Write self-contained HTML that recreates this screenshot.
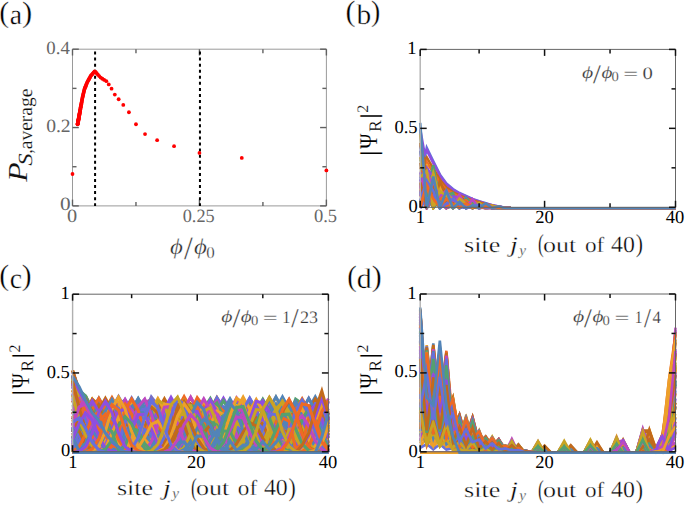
<!DOCTYPE html>
<html><head><meta charset="utf-8"><style>
polyline{vector-effect:non-scaling-stroke}
html,body{margin:0;padding:0;background:#fff;width:685px;height:506px;overflow:hidden;font-family:"Liberation Serif",serif;}
</style></head><body>
<svg width="685" height="506" viewBox="0 0 685 506" style="position:absolute;left:0;top:0">
<defs><clipPath id="cb"><rect x="418.2" y="49.4" width="259.3" height="160.3"/></clipPath><clipPath id="cc"><rect x="70.6" y="294.2" width="259.79999999999995" height="159.9"/></clipPath><clipPath id="cd"><rect x="418.2" y="294.0" width="259.3" height="160.20000000000002"/></clipPath></defs>
<rect width="685" height="506" fill="#fff"/>
<line x1="72.50" y1="49.20" x2="326.40" y2="49.20" stroke="#9a9a9a" stroke-width="1.0"/>
<line x1="326.40" y1="49.20" x2="326.40" y2="205.90" stroke="#9a9a9a" stroke-width="1.0"/>
<line x1="72.50" y1="205.90" x2="326.40" y2="205.90" stroke="#9a9a9a" stroke-width="1.0"/>
<line x1="72.50" y1="49.20" x2="72.50" y2="205.90" stroke="#9a9a9a" stroke-width="1.0"/>
<line x1="72.50" y1="205.90" x2="72.50" y2="199.60" stroke="#606060" stroke-width="1.4"/>
<line x1="72.50" y1="49.20" x2="72.50" y2="55.50" stroke="#606060" stroke-width="1.4"/>
<line x1="135.97" y1="205.90" x2="135.97" y2="201.90" stroke="#606060" stroke-width="1.4"/>
<line x1="135.97" y1="49.20" x2="135.97" y2="53.20" stroke="#606060" stroke-width="1.4"/>
<line x1="199.45" y1="205.90" x2="199.45" y2="199.60" stroke="#606060" stroke-width="1.4"/>
<line x1="199.45" y1="49.20" x2="199.45" y2="55.50" stroke="#606060" stroke-width="1.4"/>
<line x1="262.92" y1="205.90" x2="262.92" y2="201.90" stroke="#606060" stroke-width="1.4"/>
<line x1="262.92" y1="49.20" x2="262.92" y2="53.20" stroke="#606060" stroke-width="1.4"/>
<line x1="326.40" y1="205.90" x2="326.40" y2="199.60" stroke="#606060" stroke-width="1.4"/>
<line x1="326.40" y1="49.20" x2="326.40" y2="55.50" stroke="#606060" stroke-width="1.4"/>
<line x1="72.50" y1="205.90" x2="78.80" y2="205.90" stroke="#606060" stroke-width="1.4"/>
<line x1="326.40" y1="205.90" x2="320.10" y2="205.90" stroke="#606060" stroke-width="1.4"/>
<line x1="72.50" y1="166.73" x2="76.50" y2="166.73" stroke="#606060" stroke-width="1.4"/>
<line x1="326.40" y1="166.73" x2="322.40" y2="166.73" stroke="#606060" stroke-width="1.4"/>
<line x1="72.50" y1="127.55" x2="78.80" y2="127.55" stroke="#606060" stroke-width="1.4"/>
<line x1="326.40" y1="127.55" x2="320.10" y2="127.55" stroke="#606060" stroke-width="1.4"/>
<line x1="72.50" y1="88.38" x2="76.50" y2="88.38" stroke="#606060" stroke-width="1.4"/>
<line x1="326.40" y1="88.38" x2="322.40" y2="88.38" stroke="#606060" stroke-width="1.4"/>
<line x1="72.50" y1="49.20" x2="78.80" y2="49.20" stroke="#606060" stroke-width="1.4"/>
<line x1="326.40" y1="49.20" x2="320.10" y2="49.20" stroke="#606060" stroke-width="1.4"/>
<line x1="95.08" y1="51.5" x2="95.08" y2="205.9" stroke="#000" stroke-width="2" stroke-dasharray="3.0 3.07"/>
<line x1="199.95" y1="51.5" x2="199.95" y2="205.9" stroke="#000" stroke-width="2" stroke-dasharray="3.0 3.07"/>
<circle cx="326.40" cy="170.40" r="1.9" fill="#ff0000"/>
<circle cx="241.77" cy="157.97" r="1.9" fill="#ff0000"/>
<circle cx="199.45" cy="152.96" r="1.9" fill="#ff0000"/>
<circle cx="174.06" cy="146.15" r="1.9" fill="#ff0000"/>
<circle cx="157.13" cy="140.17" r="1.9" fill="#ff0000"/>
<circle cx="145.04" cy="134.04" r="1.9" fill="#ff0000"/>
<circle cx="135.97" cy="124.27" r="1.9" fill="#ff0000"/>
<circle cx="128.92" cy="112.24" r="1.9" fill="#ff0000"/>
<circle cx="123.28" cy="104.89" r="1.9" fill="#ff0000"/>
<circle cx="118.66" cy="99.24" r="1.9" fill="#ff0000"/>
<circle cx="114.82" cy="94.58" r="1.9" fill="#ff0000"/>
<circle cx="111.56" cy="88.70" r="1.9" fill="#ff0000"/>
<circle cx="108.77" cy="84.39" r="1.9" fill="#ff0000"/>
<circle cx="106.35" cy="81.19" r="1.9" fill="#ff0000"/>
<circle cx="104.24" cy="79.90" r="1.9" fill="#ff0000"/>
<circle cx="102.37" cy="78.77" r="1.9" fill="#ff0000"/>
<circle cx="100.71" cy="77.60" r="1.9" fill="#ff0000"/>
<circle cx="99.23" cy="76.07" r="1.9" fill="#ff0000"/>
<circle cx="97.89" cy="74.70" r="1.9" fill="#ff0000"/>
<circle cx="96.68" cy="73.26" r="1.9" fill="#ff0000"/>
<circle cx="95.58" cy="71.93" r="1.9" fill="#ff0000"/>
<circle cx="94.58" cy="71.47" r="1.9" fill="#ff0000"/>
<circle cx="93.66" cy="72.52" r="1.9" fill="#ff0000"/>
<circle cx="92.81" cy="73.49" r="1.9" fill="#ff0000"/>
<circle cx="92.03" cy="74.38" r="1.9" fill="#ff0000"/>
<circle cx="91.31" cy="75.21" r="1.9" fill="#ff0000"/>
<circle cx="90.64" cy="76.02" r="1.9" fill="#ff0000"/>
<circle cx="90.01" cy="77.16" r="1.9" fill="#ff0000"/>
<circle cx="89.43" cy="78.22" r="1.9" fill="#ff0000"/>
<circle cx="88.88" cy="79.22" r="1.9" fill="#ff0000"/>
<circle cx="88.37" cy="80.15" r="1.9" fill="#ff0000"/>
<circle cx="87.89" cy="81.03" r="1.9" fill="#ff0000"/>
<circle cx="87.44" cy="81.85" r="1.9" fill="#ff0000"/>
<circle cx="87.01" cy="82.82" r="1.9" fill="#ff0000"/>
<circle cx="86.61" cy="83.81" r="1.9" fill="#ff0000"/>
<circle cx="86.22" cy="84.75" r="1.9" fill="#ff0000"/>
<circle cx="85.86" cy="85.64" r="1.9" fill="#ff0000"/>
<circle cx="85.52" cy="86.49" r="1.9" fill="#ff0000"/>
<circle cx="85.19" cy="87.29" r="1.9" fill="#ff0000"/>
<circle cx="84.89" cy="88.05" r="1.9" fill="#ff0000"/>
<circle cx="84.59" cy="88.78" r="1.9" fill="#ff0000"/>
<circle cx="84.31" cy="89.80" r="1.9" fill="#ff0000"/>
<circle cx="84.04" cy="90.93" r="1.9" fill="#ff0000"/>
<circle cx="83.78" cy="92.01" r="1.9" fill="#ff0000"/>
<circle cx="83.54" cy="93.05" r="1.9" fill="#ff0000"/>
<circle cx="83.30" cy="94.03" r="1.9" fill="#ff0000"/>
<circle cx="83.08" cy="94.98" r="1.9" fill="#ff0000"/>
<circle cx="82.86" cy="95.89" r="1.9" fill="#ff0000"/>
<circle cx="82.66" cy="96.76" r="1.9" fill="#ff0000"/>
<circle cx="82.46" cy="97.77" r="1.9" fill="#ff0000"/>
<circle cx="82.27" cy="98.80" r="1.9" fill="#ff0000"/>
<circle cx="82.08" cy="99.79" r="1.9" fill="#ff0000"/>
<circle cx="81.90" cy="100.74" r="1.9" fill="#ff0000"/>
<circle cx="81.73" cy="101.66" r="1.9" fill="#ff0000"/>
<circle cx="81.57" cy="102.55" r="1.9" fill="#ff0000"/>
<circle cx="81.41" cy="103.40" r="1.9" fill="#ff0000"/>
<circle cx="81.26" cy="104.23" r="1.9" fill="#ff0000"/>
<circle cx="81.11" cy="105.03" r="1.9" fill="#ff0000"/>
<circle cx="80.96" cy="105.81" r="1.9" fill="#ff0000"/>
<circle cx="80.82" cy="106.58" r="1.9" fill="#ff0000"/>
<circle cx="80.69" cy="107.33" r="1.9" fill="#ff0000"/>
<circle cx="80.56" cy="108.06" r="1.9" fill="#ff0000"/>
<circle cx="80.43" cy="108.77" r="1.9" fill="#ff0000"/>
<circle cx="80.31" cy="109.45" r="1.9" fill="#ff0000"/>
<circle cx="80.19" cy="110.11" r="1.9" fill="#ff0000"/>
<circle cx="80.08" cy="110.76" r="1.9" fill="#ff0000"/>
<circle cx="79.97" cy="111.38" r="1.9" fill="#ff0000"/>
<circle cx="79.86" cy="111.99" r="1.9" fill="#ff0000"/>
<circle cx="79.75" cy="112.58" r="1.9" fill="#ff0000"/>
<circle cx="79.65" cy="113.15" r="1.9" fill="#ff0000"/>
<circle cx="79.55" cy="113.70" r="1.9" fill="#ff0000"/>
<circle cx="79.46" cy="114.24" r="1.9" fill="#ff0000"/>
<circle cx="79.36" cy="114.75" r="1.9" fill="#ff0000"/>
<circle cx="79.27" cy="115.24" r="1.9" fill="#ff0000"/>
<circle cx="79.18" cy="115.73" r="1.9" fill="#ff0000"/>
<circle cx="79.09" cy="116.20" r="1.9" fill="#ff0000"/>
<circle cx="79.01" cy="116.65" r="1.9" fill="#ff0000"/>
<circle cx="78.93" cy="117.10" r="1.9" fill="#ff0000"/>
<circle cx="78.85" cy="117.54" r="1.9" fill="#ff0000"/>
<circle cx="78.77" cy="117.96" r="1.9" fill="#ff0000"/>
<circle cx="78.69" cy="118.38" r="1.9" fill="#ff0000"/>
<circle cx="78.62" cy="118.78" r="1.9" fill="#ff0000"/>
<circle cx="78.55" cy="119.18" r="1.9" fill="#ff0000"/>
<circle cx="78.47" cy="119.56" r="1.9" fill="#ff0000"/>
<circle cx="78.40" cy="119.94" r="1.9" fill="#ff0000"/>
<circle cx="78.34" cy="120.31" r="1.9" fill="#ff0000"/>
<circle cx="78.27" cy="120.67" r="1.9" fill="#ff0000"/>
<circle cx="78.21" cy="121.02" r="1.9" fill="#ff0000"/>
<circle cx="78.14" cy="121.36" r="1.9" fill="#ff0000"/>
<circle cx="78.08" cy="121.70" r="1.9" fill="#ff0000"/>
<circle cx="78.02" cy="122.03" r="1.9" fill="#ff0000"/>
<circle cx="77.96" cy="122.35" r="1.9" fill="#ff0000"/>
<circle cx="77.90" cy="122.66" r="1.9" fill="#ff0000"/>
<circle cx="77.85" cy="122.97" r="1.9" fill="#ff0000"/>
<circle cx="77.79" cy="123.27" r="1.9" fill="#ff0000"/>
<circle cx="77.74" cy="123.57" r="1.9" fill="#ff0000"/>
<circle cx="77.68" cy="123.86" r="1.9" fill="#ff0000"/>
<circle cx="77.63" cy="124.14" r="1.9" fill="#ff0000"/>
<circle cx="77.58" cy="124.30" r="1.9" fill="#ff0000"/>
<circle cx="72.50" cy="174.00" r="1.9" fill="#ff0000"/>
<g clip-path="url(#cb)"><g transform="translate(420.2,208.20000000000002) scale(6.54615,-0.15790)" fill="none" stroke-width="2.6" vector-effect="non-scaling-stroke" stroke-linejoin="miter" stroke-miterlimit="4"><polyline points="0,88 1,89 2,106 3,13 4,75 5,0 6,44 7,7 8,18 9,12 10,4 11,8 12,0 13,1 14,0 15,0 16,0 17,0 18,0 19,0 20,0 21,0 22,0 23,0 24,0 25,0 26,0 27,0 28,0 29,0 30,0 31,0 32,0 33,0 34,0 35,0 36,0 37,0 38,0 39,0" stroke="#6670DC"/>
<polyline points="0,39 1,126 2,29 3,65 4,20 5,33 6,15 7,19 8,11 9,9 10,7 11,3 12,3 13,0 14,0 15,0 16,0 17,0 18,0 19,0 20,0 21,0 22,0 23,0 24,0 25,0 26,0 27,0 28,0 29,0 30,0 31,0 32,0 33,0 34,0 35,0 36,0 37,0 38,0 39,0" stroke="#EE6A24"/>
<polyline points="0,24 1,56 2,58 3,3 4,41 5,5 6,14 7,15 8,1 9,11 10,1 11,3 12,2 13,0 14,0 15,0 16,0 17,0 18,0 19,0 20,0 21,0 22,0 23,0 24,0 25,0 26,0 27,0 28,0 29,0 30,0 31,0 32,0 33,0 34,0 35,0 36,0 37,0 38,0 39,0" stroke="#8E4EE0"/>
<polyline points="0,7 1,104 2,0 3,58 4,2 5,30 6,5 7,15 8,6 9,6 10,5 11,1 12,2 13,0 14,0 15,0 16,0 17,0 18,0 19,0 20,0 21,0 22,0 23,0 24,0 25,0 26,0 27,0 28,0 29,0 30,0 31,0 32,0 33,0 34,0 35,0 36,0 37,0 38,0 39,0" stroke="#EDA02A"/>
<polyline points="0,22 1,86 2,86 3,29 4,0 5,12 6,26 7,20 8,4 9,0 10,5 11,6 12,2 13,0 14,0 15,0 16,0 17,0 18,0 19,0 20,0 21,0 22,0 23,0 24,0 25,0 26,0 27,0 28,0 29,0 30,0 31,0 32,0 33,0 34,0 35,0 36,0 37,0 38,0 39,0" stroke="#5284B8"/>
<polyline points="0,307 1,250 2,0 3,133 4,94 5,0 6,65 7,42 8,1 9,32 10,15 11,1 12,8 13,1 14,0 15,0 16,0 17,0 18,0 19,0 20,0 21,0 22,0 23,0 24,0 25,0 26,0 27,0 28,0 29,0 30,0 31,0 32,0 33,0 34,0 35,0 36,0 37,0 38,0 39,0" stroke="#55A070"/>
<polyline points="0,201 1,148 2,54 3,120 4,6 5,79 6,0 7,49 8,5 9,22 10,7 11,6 12,5 13,0 14,0 15,0 16,0 17,0 18,0 19,0 20,0 21,0 22,0 23,0 24,0 25,0 26,0 27,0 28,0 29,0 30,0 31,0 32,0 33,0 34,0 35,0 36,0 37,0 38,0 39,0" stroke="#6670DC"/>
<polyline points="0,19 1,198 2,178 3,21 4,20 5,75 6,47 7,2 8,15 9,29 10,11 11,0 12,4 13,1 14,0 15,0 16,0 17,0 18,0 19,0 20,0 21,0 22,0 23,0 24,0 25,0 26,0 27,0 28,0 29,0 30,0 31,0 32,0 33,0 34,0 35,0 36,0 37,0 38,0 39,0" stroke="#EE6A24"/>
<polyline points="0,500 1,269 2,14 3,61 4,147 5,87 6,5 7,21 8,55 9,32 10,2 11,5 12,10 13,2 14,0 15,0 16,0 17,0 18,0 19,0 20,0 21,0 22,0 23,0 24,0 25,0 26,0 27,0 28,0 29,0 30,0 31,0 32,0 33,0 34,0 35,0 36,0 37,0 38,0 39,0" stroke="#8E4EE0"/>
<polyline points="0,2 1,173 2,138 3,2 4,54 5,66 6,5 7,18 8,34 9,6 10,4 11,11 12,3 13,0 14,0 15,0 16,0 17,0 18,0 19,0 20,0 21,0 22,0 23,0 24,0 25,0 26,0 27,0 28,0 29,0 30,0 31,0 32,0 33,0 34,0 35,0 36,0 37,0 38,0 39,0" stroke="#BE48C0"/>
<polyline points="0,288 1,11 2,81 3,142 4,36 5,6 6,54 7,38 8,1 9,14 10,20 11,4 12,1 13,1 14,0 15,0 16,0 17,0 18,0 19,0 20,0 21,0 22,0 23,0 24,0 25,0 26,0 27,0 28,0 29,0 30,0 31,0 32,0 33,0 34,0 35,0 36,0 37,0 38,0 39,0" stroke="#C26A1C"/>
<polyline points="0,94 1,215 2,73 3,104 4,51 5,49 6,39 7,25 8,29 9,11 10,18 11,3 12,7 13,0 14,0 15,0 16,0 17,0 18,0 19,0 20,0 21,0 22,0 23,0 24,0 25,0 26,0 27,0 28,0 29,0 30,0 31,0 32,0 33,0 34,0 35,0 36,0 37,0 38,0 39,0" stroke="#C8A424"/>
<polyline points="0,4 1,234 2,127 3,20 4,120 5,14 6,38 7,48 8,0 9,30 10,10 11,4 12,8 13,0 14,0 15,0 16,0 17,0 18,0 19,0 20,0 21,0 22,0 23,0 24,0 25,0 26,0 27,0 28,0 29,0 30,0 31,0 32,0 33,0 34,0 35,0 36,0 37,0 38,0 39,0" stroke="#6670DC"/>
<polyline points="0,102 1,16 2,169 3,209 4,101 5,10 6,12 7,55 8,56 9,22 10,0 11,5 12,9 13,2 14,0 15,0 16,0 17,0 18,0 19,0 20,0 21,0 22,0 23,0 24,0 25,0 26,0 27,0 28,0 29,0 30,0 31,0 32,0 33,0 34,0 35,0 36,0 37,0 38,0 39,0" stroke="#EE6A24"/>
<polyline points="0,364 1,8 2,258 3,65 4,41 5,107 6,4 7,49 8,37 9,2 10,28 11,5 12,3 13,2 14,0 15,0 16,0 17,0 18,0 19,0 20,0 21,0 22,0 23,0 24,0 25,0 26,0 27,0 28,0 29,0 30,0 31,0 32,0 33,0 34,0 35,0 36,0 37,0 38,0 39,0" stroke="#8E4EE0"/>
<polyline points="0,91 1,13 2,132 3,120 4,22 5,6 6,45 7,42 8,7 9,3 10,15 11,10 12,1 13,0 14,0 15,0 16,0 17,0 18,0 19,0 20,0 21,0 22,0 23,0 24,0 25,0 26,0 27,0 28,0 29,0 30,0 31,0 32,0 33,0 34,0 35,0 36,0 37,0 38,0 39,0" stroke="#EDA02A"/>
<polyline points="0,360 1,195 2,20 3,22 4,86 5,78 6,21 7,1 8,22 9,30 10,13 11,0 12,2 13,1 14,0 15,0 16,0 17,0 18,0 19,0 20,0 21,0 22,0 23,0 24,0 25,0 26,0 27,0 28,0 29,0 30,0 31,0 32,0 33,0 34,0 35,0 36,0 37,0 38,0 39,0" stroke="#5284B8"/>
<polyline points="0,118 1,45 2,249 3,155 4,6 5,43 6,91 7,35 8,0 9,28 10,28 11,4 12,1 13,2 14,0 15,0 16,0 17,0 18,0 19,0 20,0 21,0 22,0 23,0 24,0 25,0 26,0 27,0 28,0 29,0 30,0 31,0 32,0 33,0 34,0 35,0 36,0 37,0 38,0 39,0" stroke="#55A070"/>
<polyline points="0,396 1,123 2,180 3,97 4,73 5,72 6,32 7,56 8,12 9,37 10,3 11,18 12,0 13,2 14,0 15,0 16,0 17,0 18,0 19,0 20,0 21,0 22,0 23,0 24,0 25,0 26,0 27,0 28,0 29,0 30,0 31,0 32,0 33,0 34,0 35,0 36,0 37,0 38,0 39,0" stroke="#6670DC"/>
<polyline points="0,138 1,6 2,46 3,50 4,0 5,23 6,20 7,0 8,13 9,8 10,0 11,5 12,1 13,0 14,0 15,0 16,0 17,0 18,0 19,0 20,0 21,0 22,0 23,0 24,0 25,0 26,0 27,0 28,0 29,0 30,0 31,0 32,0 33,0 34,0 35,0 36,0 37,0 38,0 39,0" stroke="#EE6A24"/>
<polyline points="0,172 1,383 2,297 3,214 4,156 5,121 6,96 7,77 8,59 9,44 10,31 11,19 12,11 13,2 14,0 15,0 16,0 17,0 18,0 19,0 20,0 21,0 22,0 23,0 24,0 25,0 26,0 27,0 28,0 29,0 30,0 31,0 32,0 33,0 34,0 35,0 36,0 37,0 38,0 39,0" stroke="#6670DC"/>
<polyline points="0,307 1,368 2,286 3,206 4,150 5,116 6,92 7,74 8,56 9,42 10,30 11,18 12,10 13,2 14,0 15,0 16,0 17,0 18,0 19,0 20,0 21,0 22,0 23,0 24,0 25,0 26,0 27,0 28,0 29,0 30,0 31,0 32,0 33,0 34,0 35,0 36,0 37,0 38,0 39,0" stroke="#8E4EE0"/>
<polyline points="0,248 1,322 2,250 3,180 4,131 5,102 6,81 7,64 8,49 9,37 10,26 11,16 12,9 13,2 14,0 15,0 16,0 17,0 18,0 19,0 20,0 21,0 22,0 23,0 24,0 25,0 26,0 27,0 28,0 29,0 30,0 31,0 32,0 33,0 34,0 35,0 36,0 37,0 38,0 39,0" stroke="#C26A1C"/>
<polyline points="0,132 1,291 2,226 3,163 4,118 5,92 6,73 7,58 8,45 9,33 10,24 11,14 12,8 13,2 14,0 15,0 16,0 17,0 18,0 19,0 20,0 21,0 22,0 23,0 24,0 25,0 26,0 27,0 28,0 29,0 30,0 31,0 32,0 33,0 34,0 35,0 36,0 37,0 38,0 39,0" stroke="#EE6A24"/>
<polyline points="0,105 1,245 2,190 3,137 4,100 5,78 6,61 7,49 8,37 9,28 10,20 11,12 12,7 13,1 14,0 15,0 16,0 17,0 18,0 19,0 20,0 21,0 22,0 23,0 24,0 25,0 26,0 27,0 28,0 29,0 30,0 31,0 32,0 33,0 34,0 35,0 36,0 37,0 38,0 39,0" stroke="#C8A424"/>
<polyline points="0,107 1,199 2,155 3,111 4,81 5,63 6,50 7,40 8,30 9,23 10,16 11,10 12,6 13,1 14,0 15,0 16,0 17,0 18,0 19,0 20,0 21,0 22,0 23,0 24,0 25,0 26,0 27,0 28,0 29,0 30,0 31,0 32,0 33,0 34,0 35,0 36,0 37,0 38,0 39,0" stroke="#EDA02A"/>
<polyline points="0,76 1,153 2,119 3,86 4,62 5,49 6,38 7,31 8,23 9,18 10,12 11,8 12,4 13,1 14,0 15,0 16,0 17,0 18,0 19,0 20,0 21,0 22,0 23,0 24,0 25,0 26,0 27,0 28,0 29,0 30,0 31,0 32,0 33,0 34,0 35,0 36,0 37,0 38,0 39,0" stroke="#C26A1C"/>
<polyline points="0,85 1,115 2,89 3,64 4,47 5,36 6,29 7,23 8,18 9,13 10,9 11,6 12,3 13,1 14,0 15,0 16,0 17,0 18,0 19,0 20,0 21,0 22,0 23,0 24,0 25,0 26,0 27,0 28,0 29,0 30,0 31,0 32,0 33,0 34,0 35,0 36,0 37,0 38,0 39,0" stroke="#55A070"/>
<polyline points="0,59 1,10 2,76 3,31 4,1 5,28 6,17 7,0 8,12 9,9 10,0 11,3 12,3 13,0 14,0 15,0 16,0 17,0 18,0 19,0 20,0 21,0 22,0 23,0 24,0 25,0 26,0 27,0 28,0 29,0 30,0 31,0 32,0 33,0 34,0 35,0 36,0 37,0 38,0 39,0" stroke="#8E4EE0"/>
<polyline points="0,134 1,26 2,35 3,46 4,1 5,31 6,6 7,10 8,12 9,0 10,8 11,1 12,1 13,0 14,0 15,0 16,0 17,0 18,0 19,0 20,0 21,0 22,0 23,0 24,0 25,0 26,0 27,0 28,0 29,0 30,0 31,0 32,0 33,0 34,0 35,0 36,0 37,0 38,0 39,0" stroke="#BE48C0"/>
<polyline points="0,415 1,219 2,2 3,155 4,98 5,0 6,65 7,52 8,0 9,27 10,23 11,0 12,6 13,2 14,0 15,0 16,0 17,0 18,0 19,0 20,0 21,0 22,0 23,0 24,0 25,0 26,0 27,0 28,0 29,0 30,0 31,0 32,0 33,0 34,0 35,0 36,0 37,0 38,0 39,0" stroke="#C26A1C"/>
<polyline points="0,324 1,91 2,17 3,120 4,53 5,1 6,48 7,34 8,0 9,18 10,16 11,0 12,3 13,1 14,0 15,0 16,0 17,0 18,0 19,0 20,0 21,0 22,0 23,0 24,0 25,0 26,0 27,0 28,0 29,0 30,0 31,0 32,0 33,0 34,0 35,0 36,0 37,0 38,0 39,0" stroke="#C8A424"/>
<polyline points="0,8 1,84 2,93 3,1 4,39 5,35 6,0 7,22 8,15 9,0 10,10 11,4 12,0 13,1 14,0 15,0 16,0 17,0 18,0 19,0 20,0 21,0 22,0 23,0 24,0 25,0 26,0 27,0 28,0 29,0 30,0 31,0 32,0 33,0 34,0 35,0 36,0 37,0 38,0 39,0" stroke="#6670DC"/>
<polyline points="0,113 1,30 2,126 3,7 4,44 5,36 6,2 7,32 8,5 9,8 10,11 11,0 12,4 13,0 14,0 15,0 16,0 17,0 18,0 19,0 20,0 21,0 22,0 23,0 24,0 25,0 26,0 27,0 28,0 29,0 30,0 31,0 32,0 33,0 34,0 35,0 36,0 37,0 38,0 39,0" stroke="#EE6A24"/>
<polyline points="0,114 1,1 2,53 3,42 4,0 5,24 6,17 7,0 8,13 9,7 10,0 11,4 12,1 13,0 14,0 15,0 16,0 17,0 18,0 19,0 20,0 21,0 22,0 23,0 24,0 25,0 26,0 27,0 28,0 29,0 30,0 31,0 32,0 33,0 34,0 35,0 36,0 37,0 38,0 39,0" stroke="#8E4EE0"/>
<polyline points="0,11 1,281 2,11 3,152 4,10 5,83 6,9 7,50 8,7 9,27 10,5 11,11 12,2 13,1 14,0 15,0 16,0 17,0 18,0 19,0 20,0 21,0 22,0 23,0 24,0 25,0 26,0 27,0 28,0 29,0 30,0 31,0 32,0 33,0 34,0 35,0 36,0 37,0 38,0 39,0" stroke="#EDA02A"/>
<polyline points="0,492 1,4 2,246 3,53 4,75 5,77 6,12 7,69 8,0 9,37 10,6 11,10 12,6 13,0 14,0 15,0 16,0 17,0 18,0 19,0 20,0 21,0 22,0 23,0 24,0 25,0 26,0 27,0 28,0 29,0 30,0 31,0 32,0 33,0 34,0 35,0 36,0 37,0 38,0 39,0" stroke="#5284B8"/>
<polyline points="0,118 1,124 2,272 3,14 4,85 5,96 6,0 7,57 8,35 9,2 10,28 11,7 12,2 13,2 14,0 15,0 16,0 17,0 18,0 19,0 20,0 21,0 22,0 23,0 24,0 25,0 26,0 27,0 28,0 29,0 30,0 31,0 32,0 33,0 34,0 35,0 36,0 37,0 38,0 39,0" stroke="#55A070"/>
<polyline points="0,102 1,0 2,57 3,41 4,0 5,23 6,19 7,0 8,11 9,9 10,0 11,3 12,2 13,0 14,0 15,0 16,0 17,0 18,0 19,0 20,0 21,0 22,0 23,0 24,0 25,0 26,0 27,0 28,0 29,0 30,0 31,0 32,0 33,0 34,0 35,0 36,0 37,0 38,0 39,0" stroke="#6670DC"/>
<polyline points="0,84 1,2 2,67 3,40 4,0 5,24 6,20 7,0 8,10 9,10 10,0 11,3 12,3 13,0 14,0 15,0 16,0 17,0 18,0 19,0 20,0 21,0 22,0 23,0 24,0 25,0 26,0 27,0 28,0 29,0 30,0 31,0 32,0 33,0 34,0 35,0 36,0 37,0 38,0 39,0" stroke="#EE6A24"/>
<polyline points="0,77 1,256 2,197 3,29 4,12 5,73 6,69 7,16 8,2 9,23 10,23 11,6 12,0 13,1 14,0 15,0 16,0 17,0 18,0 19,0 20,0 21,0 22,0 23,0 24,0 25,0 26,0 27,0 28,0 29,0 30,0 31,0 32,0 33,0 34,0 35,0 36,0 37,0 38,0 39,0" stroke="#8E4EE0"/>
<polyline points="0,147 1,35 2,153 3,5 4,59 5,37 6,6 7,40 8,3 9,15 10,11 11,1 12,6 13,0 14,0 15,0 16,0 17,0 18,0 19,0 20,0 21,0 22,0 23,0 24,0 25,0 26,0 27,0 28,0 29,0 30,0 31,0 32,0 33,0 34,0 35,0 36,0 37,0 38,0 39,0" stroke="#BE48C0"/>
<polyline points="0,405 1,208 2,8 3,170 4,74 5,6 6,80 7,32 8,5 9,38 10,11 11,3 12,9 13,1 14,0 15,0 16,0 17,0 18,0 19,0 20,0 21,0 22,0 23,0 24,0 25,0 26,0 27,0 28,0 29,0 30,0 31,0 32,0 33,0 34,0 35,0 36,0 37,0 38,0 39,0" stroke="#C26A1C"/>
<polyline points="0,470 1,62 2,222 3,65 4,93 5,56 6,41 7,48 8,16 9,34 10,4 11,17 12,0 13,2 14,0 15,0 16,0 17,0 18,0 19,0 20,0 21,0 22,0 23,0 24,0 25,0 26,0 27,0 28,0 29,0 30,0 31,0 32,0 33,0 34,0 35,0 36,0 37,0 38,0 39,0" stroke="#C8A424"/>
<polyline points="0,102 1,26 2,121 3,12 4,32 5,43 6,0 7,26 8,13 9,2 10,13 11,1 12,2 13,1 14,0 15,0 16,0 17,0 18,0 19,0 20,0 21,0 22,0 23,0 24,0 25,0 26,0 27,0 28,0 29,0 30,0 31,0 32,0 33,0 34,0 35,0 36,0 37,0 38,0 39,0" stroke="#6670DC"/>
<polyline points="0,236 1,207 2,7 3,70 4,94 5,10 6,21 7,49 8,10 9,5 10,19 11,5 12,0 13,1 14,0 15,0 16,0 17,0 18,0 19,0 20,0 21,0 22,0 23,0 24,0 25,0 26,0 27,0 28,0 29,0 30,0 31,0 32,0 33,0 34,0 35,0 36,0 37,0 38,0 39,0" stroke="#EE6A24"/>
<polyline points="0,181 1,14 2,62 3,50 4,3 5,40 6,5 7,15 8,15 9,1 10,10 11,1 12,2 13,1 14,0 15,0 16,0 17,0 18,0 19,0 20,0 21,0 22,0 23,0 24,0 25,0 26,0 27,0 28,0 29,0 30,0 31,0 32,0 33,0 34,0 35,0 36,0 37,0 38,0 39,0" stroke="#8E4EE0"/>
<polyline points="0,5 1,138 2,24 3,38 4,47 5,1 6,34 7,7 8,10 9,13 10,0 11,7 12,1 13,0 14,0 15,0 16,0 17,0 18,0 19,0 20,0 21,0 22,0 23,0 24,0 25,0 26,0 27,0 28,0 29,0 30,0 31,0 32,0 33,0 34,0 35,0 36,0 37,0 38,0 39,0" stroke="#EDA02A"/>
<polyline points="0,15 1,51 2,73 3,1 4,28 5,25 6,0 7,17 8,10 9,1 10,8 11,2 12,0 13,1 14,0 15,0 16,0 17,0 18,0 19,0 20,0 21,0 22,0 23,0 24,0 25,0 26,0 27,0 28,0 29,0 30,0 31,0 32,0 33,0 34,0 35,0 36,0 37,0 38,0 39,0" stroke="#5284B8"/>
<polyline points="0,155 1,95 2,0 3,48 4,47 5,2 6,15 7,26 8,4 9,4 10,11 11,2 12,0 13,1 14,0 15,0 16,0 17,0 18,0 19,0 20,0 21,0 22,0 23,0 24,0 25,0 26,0 27,0 28,0 29,0 30,0 31,0 32,0 33,0 34,0 35,0 36,0 37,0 38,0 39,0" stroke="#55A070"/>
<polyline points="0,0 1,60 2,75 3,10 4,9 5,31 6,14 7,0 8,11 9,10 10,1 11,2 12,3 13,0 14,0 15,0 16,0 17,0 18,0 19,0 20,0 21,0 22,0 23,0 24,0 25,0 26,0 27,0 28,0 29,0 30,0 31,0 32,0 33,0 34,0 35,0 36,0 37,0 38,0 39,0" stroke="#6670DC"/>
<polyline points="0,2 1,142 2,6 3,68 4,16 5,26 6,21 7,7 8,19 9,1 10,11 11,0 12,4 13,0 14,0 15,0 16,0 17,0 18,0 19,0 20,0 21,0 22,0 23,0 24,0 25,0 26,0 27,0 28,0 29,0 30,0 31,0 32,0 33,0 34,0 35,0 36,0 37,0 38,0 39,0" stroke="#EE6A24"/>
<polyline points="0,228 1,3 2,109 3,31 4,27 5,42 6,2 7,33 8,2 9,14 10,7 11,2 12,4 13,0 14,0 15,0 16,0 17,0 18,0 19,0 20,0 21,0 22,0 23,0 24,0 25,0 26,0 27,0 28,0 29,0 30,0 31,0 32,0 33,0 34,0 35,0 36,0 37,0 38,0 39,0" stroke="#8E4EE0"/>
<polyline points="0,143 1,227 2,147 3,76 4,113 5,18 6,86 7,2 8,57 9,0 10,29 11,2 12,8 13,1 14,0 15,0 16,0 17,0 18,0 19,0 20,0 21,0 22,0 23,0 24,0 25,0 26,0 27,0 28,0 29,0 30,0 31,0 32,0 33,0 34,0 35,0 36,0 37,0 38,0 39,0" stroke="#BE48C0"/>
<polyline points="0,163 1,11 2,124 3,9 4,43 5,31 6,5 7,32 8,1 9,14 10,7 11,2 12,4 13,0 14,0 15,0 16,0 17,0 18,0 19,0 20,0 21,0 22,0 23,0 24,0 25,0 26,0 27,0 28,0 29,0 30,0 31,0 32,0 33,0 34,0 35,0 36,0 37,0 38,0 39,0" stroke="#C26A1C"/>
<polyline points="0,198 1,237 2,2 3,109 4,78 5,1 6,60 7,28 8,4 9,30 10,7 11,3 12,7 13,0 14,0 15,0 16,0 17,0 18,0 19,0 20,0 21,0 22,0 23,0 24,0 25,0 26,0 27,0 28,0 29,0 30,0 31,0 32,0 33,0 34,0 35,0 36,0 37,0 38,0 39,0" stroke="#C8A424"/>
<polyline points="0,48 1,175 2,108 3,3 4,29 5,60 6,24 7,0 8,18 9,21 10,4 11,1 12,4 13,1 14,0 15,0 16,0 17,0 18,0 19,0 20,0 21,0 22,0 23,0 24,0 25,0 26,0 27,0 28,0 29,0 30,0 31,0 32,0 33,0 34,0 35,0 36,0 37,0 38,0 39,0" stroke="#6670DC"/>
<polyline points="0,15 1,148 2,59 3,7 4,61 5,23 6,4 7,30 8,10 9,2 10,12 11,3 12,1 13,1 14,0 15,0 16,0 17,0 18,0 19,0 20,0 21,0 22,0 23,0 24,0 25,0 26,0 27,0 28,0 29,0 30,0 31,0 32,0 33,0 34,0 35,0 36,0 37,0 38,0 39,0" stroke="#EE6A24"/>
<polyline points="0,540 1,0 2,200 3,0 4,110 5,0 6,40 7,0 8,18 9,0 10,31 11,0 12,11 13,0 14,0 15,0 16,0 17,0 18,0 19,0 20,0 21,0 22,0 23,0 24,0 25,0 26,0 27,0 28,0 29,0 30,0 31,0 32,0 33,0 34,0 35,0 36,0 37,0 38,0 39,0" stroke="#5284B8"/></g></g>
<g clip-path="url(#cc)"><g transform="translate(72.6,452.59999999999997) scale(6.55897,-0.15750)" fill="none" stroke-width="3.0" vector-effect="non-scaling-stroke" stroke-linejoin="miter" stroke-miterlimit="4"><polyline points="0,0 1,0 2,0 3,0 4,0 5,0 6,0 7,0 8,0 9,0 10,0 11,0 12,0 13,0 14,0 15,0 16,0 17,0 18,0 19,0 20,0 21,0 22,4 23,30 24,118 25,232 26,181 27,14 28,72 29,231 30,193 31,73 32,14 33,2 34,0 35,0 36,0 37,0 38,0 39,0" stroke="#5284B8"/>
<polyline points="0,0 1,0 2,0 3,0 4,0 5,0 6,0 7,0 8,0 9,0 10,0 11,0 12,0 13,0 14,0 15,0 16,0 17,0 18,0 19,0 20,0 21,0 22,0 23,0 24,0 25,0 26,0 27,0 28,0 29,4 30,24 31,81 32,170 33,215 34,165 35,77 36,22 37,4 38,0 39,0" stroke="#EE6A24"/>
<polyline points="0,0 1,0 2,0 3,0 4,0 5,0 6,0 7,0 8,0 9,0 10,0 11,0 12,0 13,0 14,0 15,0 16,0 17,0 18,0 19,0 20,0 21,1 22,7 23,38 24,119 25,223 26,254 27,176 28,74 29,19 30,3 31,0 32,0 33,0 34,0 35,0 36,0 37,0 38,0 39,0" stroke="#8E4EE0"/>
<polyline points="0,0 1,0 2,0 3,0 4,0 5,0 6,0 7,0 8,0 9,0 10,0 11,0 12,0 13,0 14,0 15,0 16,0 17,0 18,0 19,4 20,23 21,87 22,200 23,277 24,234 25,119 26,37 27,7 28,1 29,0 30,0 31,0 32,0 33,0 34,0 35,0 36,0 37,0 38,0 39,0" stroke="#EDA02A"/>
<polyline points="0,468 1,392 2,325 3,274 4,189 5,132 6,78 7,37 8,0 9,0 10,0 11,0 12,0 13,0 14,0 15,0 16,0 17,0 18,0 19,0 20,0 21,0 22,0 23,0 24,0 25,0 26,0 27,0 28,0 29,0 30,0 31,0 32,0 33,0 34,0 35,0 36,0 37,0 38,0 39,0" stroke="#55A070"/>
<polyline points="0,0 1,0 2,0 3,0 4,0 5,0 6,0 7,0 8,0 9,0 10,0 11,0 12,0 13,0 14,0 15,0 16,0 17,0 18,0 19,0 20,0 21,0 22,0 23,0 24,0 25,0 26,0 27,0 28,1 29,8 30,44 31,136 32,258 33,297 34,207 35,88 36,23 37,4 38,0 39,0" stroke="#C26A1C"/>
<polyline points="0,0 1,0 2,0 3,0 4,0 5,0 6,0 7,0 8,0 9,0 10,0 11,1 12,11 13,58 14,137 15,108 16,1 17,79 18,82 19,1 20,105 21,138 22,60 23,12 24,1 25,0 26,0 27,0 28,0 29,0 30,0 31,0 32,0 33,0 34,0 35,0 36,0 37,0 38,0 39,0" stroke="#6670DC"/>
<polyline points="0,0 1,0 2,0 3,0 4,0 5,0 6,0 7,0 8,0 9,0 10,0 11,0 12,0 13,0 14,0 15,0 16,0 17,0 18,0 19,0 20,0 21,0 22,0 23,0 24,0 25,0 26,0 27,0 28,0 29,0 30,0 31,0 32,0 33,2 34,14 35,65 36,182 37,308 38,316 39,197" stroke="#C8A424"/>
<polyline points="0,0 1,1 2,9 3,45 4,140 5,267 6,308 7,216 8,92 9,24 10,4 11,0 12,0 13,0 14,0 15,0 16,0 17,0 18,0 19,0 20,0 21,0 22,0 23,0 24,0 25,0 26,0 27,0 28,0 29,0 30,0 31,0 32,0 33,0 34,0 35,0 36,0 37,0 38,0 39,0" stroke="#BE48C0"/>
<polyline points="0,23 1,82 2,121 3,38 4,16 5,93 6,21 7,31 8,120 9,86 10,25 11,4 12,0 13,0 14,0 15,0 16,0 17,0 18,0 19,0 20,0 21,0 22,0 23,0 24,0 25,0 26,0 27,0 28,0 29,0 30,0 31,0 32,0 33,0 34,0 35,0 36,0 37,0 38,0 39,0" stroke="#5284B8"/>
<polyline points="0,0 1,0 2,0 3,0 4,0 5,0 6,0 7,0 8,0 9,0 10,0 11,0 12,0 13,0 14,0 15,0 16,0 17,0 18,0 19,0 20,0 21,0 22,1 23,8 24,39 25,116 26,209 27,228 28,150 29,60 30,15 31,2 32,0 33,0 34,0 35,0 36,0 37,0 38,0 39,0" stroke="#EE6A24"/>
<polyline points="0,422 1,352 2,281 3,240 4,181 5,106 6,68 7,32 8,0 9,0 10,0 11,0 12,0 13,0 14,0 15,0 16,0 17,0 18,0 19,0 20,0 21,0 22,0 23,0 24,0 25,0 26,0 27,0 28,0 29,0 30,0 31,0 32,0 33,0 34,0 35,0 36,0 37,0 38,0 39,0" stroke="#8E4EE0"/>
<polyline points="0,0 1,0 2,0 3,0 4,0 5,0 6,0 7,0 8,0 9,0 10,0 11,0 12,0 13,0 14,0 15,0 16,0 17,1 18,6 19,28 20,88 21,166 22,190 23,132 24,56 25,14 26,2 27,0 28,0 29,0 30,0 31,0 32,0 33,0 34,0 35,0 36,0 37,0 38,0 39,0" stroke="#EDA02A"/>
<polyline points="0,1 1,8 2,40 3,131 4,263 5,326 6,251 7,120 8,35 9,6 10,1 11,0 12,0 13,0 14,0 15,0 16,0 17,0 18,0 19,0 20,0 21,0 22,0 23,0 24,0 25,0 26,0 27,0 28,0 29,0 30,0 31,0 32,0 33,0 34,0 35,0 36,0 37,0 38,0 39,0" stroke="#55A070"/>
<polyline points="0,0 1,0 2,0 3,0 4,0 5,0 6,0 7,0 8,3 9,19 10,73 11,143 12,110 13,8 14,45 15,142 16,118 17,44 18,9 19,1 20,0 21,0 22,0 23,0 24,0 25,0 26,0 27,0 28,0 29,0 30,0 31,0 32,0 33,0 34,0 35,0 36,0 37,0 38,0 39,0" stroke="#C26A1C"/>
<polyline points="0,133 1,274 2,348 3,274 4,133 5,40 6,8 7,1 8,0 9,0 10,0 11,0 12,0 13,0 14,0 15,0 16,0 17,0 18,0 19,0 20,0 21,0 22,0 23,0 24,0 25,0 26,0 27,0 28,0 29,0 30,0 31,0 32,0 33,0 34,0 35,0 36,0 37,0 38,0 39,0" stroke="#6670DC"/>
<polyline points="0,0 1,2 2,15 3,68 4,182 5,297 6,293 7,176 8,64 9,14 10,2 11,0 12,0 13,0 14,0 15,0 16,0 17,0 18,0 19,0 20,0 21,0 22,0 23,0 24,0 25,0 26,0 27,0 28,0 29,0 30,0 31,0 32,0 33,0 34,0 35,0 36,0 37,0 38,0 39,0" stroke="#C8A424"/>
<polyline points="0,17 1,94 2,195 3,74 4,34 5,119 6,6 7,124 8,1 9,134 10,10 11,111 12,186 13,73 14,11 15,1 16,0 17,0 18,0 19,0 20,0 21,0 22,0 23,0 24,0 25,0 26,0 27,0 28,0 29,0 30,0 31,0 32,0 33,0 34,0 35,0 36,0 37,0 38,0 39,0" stroke="#BE48C0"/>
<polyline points="0,0 1,0 2,0 3,0 4,0 5,0 6,0 7,0 8,0 9,0 10,0 11,0 12,0 13,0 14,0 15,0 16,0 17,0 18,0 19,0 20,0 21,0 22,0 23,0 24,0 25,0 26,0 27,0 28,0 29,0 30,0 31,0 32,1 33,11 34,51 35,126 36,136 37,33 38,16 39,121" stroke="#5284B8"/>
<polyline points="0,0 1,0 2,0 3,0 4,0 5,0 6,0 7,0 8,0 9,0 10,0 11,0 12,0 13,0 14,0 15,0 16,0 17,0 18,0 19,0 20,0 21,0 22,0 23,0 24,0 25,0 26,0 27,0 28,1 29,11 30,51 31,153 32,281 33,321 34,227 35,99 36,27 37,4 38,0 39,0" stroke="#EE6A24"/>
<polyline points="0,0 1,0 2,0 3,0 4,0 5,0 6,0 7,0 8,0 9,0 10,0 11,0 12,0 13,0 14,0 15,0 16,0 17,0 18,0 19,0 20,0 21,0 22,0 23,0 24,0 25,0 26,0 27,0 28,0 29,0 30,0 31,0 32,0 33,0 34,0 35,26 36,83 37,174 38,235 39,147" stroke="#8E4EE0"/>
<polyline points="0,0 1,0 2,0 3,0 4,0 5,1 6,14 7,74 8,182 9,154 10,4 11,100 12,119 13,0 14,134 15,191 16,87 17,18 18,2 19,0 20,0 21,0 22,0 23,0 24,0 25,0 26,0 27,0 28,0 29,0 30,0 31,0 32,0 33,0 34,0 35,0 36,0 37,0 38,0 39,0" stroke="#EDA02A"/>
<polyline points="0,302 1,237 2,112 3,32 4,6 5,1 6,0 7,0 8,0 9,0 10,0 11,0 12,0 13,0 14,0 15,0 16,0 17,0 18,0 19,0 20,0 21,0 22,0 23,0 24,0 25,0 26,0 27,0 28,0 29,0 30,0 31,0 32,0 33,0 34,0 35,0 36,0 37,0 38,0 39,0" stroke="#55A070"/>
<polyline points="0,0 1,0 2,0 3,0 4,0 5,0 6,0 7,0 8,0 9,0 10,0 11,0 12,0 13,0 14,0 15,0 16,0 17,1 18,5 19,30 20,108 21,237 22,315 23,254 24,124 25,37 26,7 27,1 28,0 29,0 30,0 31,0 32,0 33,0 34,0 35,0 36,0 37,0 38,0 39,0" stroke="#C26A1C"/>
<polyline points="0,466 1,407 2,312 3,265 4,191 5,130 6,77 7,36 8,0 9,0 10,0 11,0 12,0 13,0 14,0 15,0 16,0 17,0 18,0 19,0 20,0 21,0 22,0 23,0 24,0 25,0 26,0 27,0 28,0 29,0 30,0 31,0 32,0 33,0 34,0 35,0 36,0 37,0 38,0 39,0" stroke="#6670DC"/>
<polyline points="0,0 1,0 2,0 3,0 4,0 5,0 6,0 7,0 8,0 9,0 10,0 11,0 12,0 13,0 14,0 15,0 16,0 17,1 18,7 19,38 20,126 21,258 22,328 23,258 24,126 25,38 26,7 27,1 28,0 29,0 30,0 31,0 32,0 33,0 34,0 35,0 36,0 37,0 38,0 39,0" stroke="#C8A424"/>
<polyline points="0,0 1,0 2,0 3,0 4,0 5,0 6,0 7,2 8,15 9,67 10,186 11,318 12,337 13,221 14,89 15,22 16,3 17,0 18,0 19,0 20,0 21,0 22,0 23,0 24,0 25,0 26,0 27,0 28,0 29,0 30,0 31,0 32,0 33,0 34,0 35,0 36,0 37,0 38,0 39,0" stroke="#BE48C0"/>
<polyline points="0,370 1,307 2,244 3,208 4,142 5,90 6,52 7,30 8,0 9,0 10,0 11,0 12,0 13,0 14,0 15,0 16,0 17,0 18,0 19,0 20,0 21,0 22,0 23,0 24,0 25,0 26,0 27,0 28,0 29,0 30,0 31,0 32,0 33,0 34,0 35,0 36,0 37,0 38,0 39,0" stroke="#5284B8"/>
<polyline points="0,0 1,0 2,0 3,0 4,0 5,0 6,0 7,0 8,0 9,0 10,0 11,0 12,0 13,0 14,0 15,0 16,0 17,0 18,0 19,0 20,0 21,0 22,0 23,0 24,3 25,17 26,66 27,156 28,223 29,193 30,101 31,32 32,6 33,1 34,0 35,0 36,0 37,0 38,0 39,0" stroke="#EE6A24"/>
<polyline points="0,0 1,0 2,0 3,0 4,0 5,0 6,0 7,0 8,0 9,0 10,0 11,0 12,0 13,0 14,0 15,0 16,0 17,0 18,0 19,0 20,0 21,0 22,0 23,0 24,0 25,0 26,0 27,0 28,0 29,0 30,0 31,0 32,0 33,0 34,4 35,25 36,95 37,226 38,333 39,304" stroke="#8E4EE0"/>
<polyline points="0,0 1,0 2,0 3,0 4,0 5,0 6,0 7,0 8,0 9,0 10,1 11,7 12,38 13,127 14,262 15,332 16,262 17,127 18,38 19,7 20,1 21,0 22,0 23,0 24,0 25,0 26,0 27,0 28,0 29,0 30,0 31,0 32,0 33,0 34,0 35,0 36,0 37,0 38,0 39,0" stroke="#EDA02A"/>
<polyline points="0,0 1,0 2,0 3,0 4,0 5,0 6,0 7,0 8,0 9,0 10,0 11,0 12,0 13,0 14,1 15,7 16,39 17,130 18,266 19,338 20,266 21,130 22,39 23,7 24,1 25,0 26,0 27,0 28,0 29,0 30,0 31,0 32,0 33,0 34,0 35,0 36,0 37,0 38,0 39,0" stroke="#55A070"/>
<polyline points="0,243 1,288 2,207 3,90 4,24 5,4 6,0 7,0 8,0 9,0 10,0 11,0 12,0 13,0 14,0 15,0 16,0 17,0 18,0 19,0 20,0 21,0 22,0 23,0 24,0 25,0 26,0 27,0 28,0 29,0 30,0 31,0 32,0 33,0 34,0 35,0 36,0 37,0 38,0 39,0" stroke="#C26A1C"/>
<polyline points="0,0 1,0 2,0 3,0 4,0 5,0 6,0 7,0 8,0 9,2 10,13 11,59 12,165 13,282 14,291 15,183 16,70 17,16 18,2 19,0 20,0 21,0 22,0 23,0 24,0 25,0 26,0 27,0 28,0 29,0 30,0 31,0 32,0 33,0 34,0 35,0 36,0 37,0 38,0 39,0" stroke="#6670DC"/>
<polyline points="0,0 1,0 2,0 3,0 4,0 5,0 6,0 7,0 8,0 9,0 10,0 11,0 12,0 13,1 14,6 15,32 16,102 17,196 18,230 19,164 20,71 21,18 22,3 23,0 24,0 25,0 26,0 27,0 28,0 29,0 30,0 31,0 32,0 33,0 34,0 35,0 36,0 37,0 38,0 39,0" stroke="#C8A424"/>
<polyline points="0,0 1,0 2,0 3,0 4,0 5,0 6,0 7,0 8,0 9,0 10,0 11,0 12,0 13,0 14,0 15,0 16,0 17,0 18,0 19,0 20,0 21,0 22,0 23,0 24,0 25,0 26,0 27,0 28,0 29,2 30,12 31,54 32,154 33,274 34,301 35,204 36,86 37,22 38,4 39,0" stroke="#BE48C0"/>
<polyline points="0,0 1,0 2,0 3,0 4,0 5,0 6,0 7,0 8,0 9,0 10,0 11,0 12,0 13,0 14,0 15,0 16,0 17,0 18,0 19,0 20,0 21,0 22,0 23,0 24,0 25,0 26,0 27,0 28,0 29,0 30,0 31,0 32,0 33,0 34,0 35,23 36,73 37,143 38,178 39,114" stroke="#5284B8"/>
<polyline points="0,0 1,0 2,0 3,1 4,15 5,79 6,178 7,101 8,6 9,129 10,15 11,87 12,79 13,15 14,167 15,139 16,40 17,5 18,0 19,0 20,0 21,0 22,0 23,0 24,0 25,0 26,0 27,0 28,0 29,0 30,0 31,0 32,0 33,0 34,0 35,0 36,0 37,0 38,0 39,0" stroke="#EE6A24"/>
<polyline points="0,0 1,0 2,0 3,0 4,0 5,0 6,0 7,0 8,0 9,0 10,0 11,0 12,0 13,0 14,0 15,0 16,0 17,0 18,0 19,0 20,0 21,0 22,0 23,0 24,0 25,0 26,1 27,7 28,40 29,121 30,175 31,80 32,1 33,105 34,175 35,105 36,31 37,5 38,0 39,0" stroke="#8E4EE0"/>
<polyline points="0,0 1,0 2,0 3,0 4,0 5,0 6,0 7,0 8,0 9,0 10,0 11,0 12,0 13,0 14,0 15,0 16,0 17,0 18,0 19,0 20,0 21,0 22,0 23,0 24,0 25,0 26,0 27,0 28,0 29,0 30,0 31,0 32,0 33,3 34,18 35,74 36,188 37,290 38,271 39,153" stroke="#EDA02A"/>
<polyline points="0,0 1,0 2,0 3,0 4,0 5,0 6,0 7,0 8,1 9,16 10,91 11,161 12,21 13,80 14,29 15,80 16,5 17,94 18,4 19,82 20,27 21,82 22,19 23,161 24,93 25,17 26,1 27,0 28,0 29,0 30,0 31,0 32,0 33,0 34,0 35,0 36,0 37,0 38,0 39,0" stroke="#55A070"/>
<polyline points="0,0 1,0 2,0 3,0 4,0 5,0 6,0 7,0 8,0 9,0 10,0 11,0 12,0 13,0 14,0 15,0 16,0 17,0 18,0 19,0 20,0 21,0 22,0 23,0 24,0 25,0 26,0 27,0 28,0 29,5 30,33 31,120 32,216 33,147 34,5 35,84 36,216 37,163 38,57 39,10" stroke="#C26A1C"/>
<polyline points="0,0 1,0 2,0 3,0 4,0 5,4 6,21 7,73 8,156 9,204 10,161 11,77 12,23 13,4 14,0 15,0 16,0 17,0 18,0 19,0 20,0 21,0 22,0 23,0 24,0 25,0 26,0 27,0 28,0 29,0 30,0 31,0 32,0 33,0 34,0 35,0 36,0 37,0 38,0 39,0" stroke="#6670DC"/>
<polyline points="0,0 1,0 2,0 3,1 4,7 5,46 6,138 7,132 8,3 9,92 10,53 11,33 12,106 13,0 14,114 15,149 16,56 17,9 18,1 19,0 20,0 21,0 22,0 23,0 24,0 25,0 26,0 27,0 28,0 29,0 30,0 31,0 32,0 33,0 34,0 35,0 36,0 37,0 38,0 39,0" stroke="#C8A424"/>
<polyline points="0,123 1,97 2,1 3,71 4,74 5,1 6,93 7,125 8,54 9,11 10,1 11,0 12,0 13,0 14,0 15,0 16,0 17,0 18,0 19,0 20,0 21,0 22,0 23,0 24,0 25,0 26,0 27,0 28,0 29,0 30,0 31,0 32,0 33,0 34,0 35,0 36,0 37,0 38,0 39,0" stroke="#BE48C0"/>
<polyline points="0,0 1,0 2,0 3,1 4,9 5,44 6,135 7,257 8,303 9,221 10,100 11,28 12,5 13,1 14,0 15,0 16,0 17,0 18,0 19,0 20,0 21,0 22,0 23,0 24,0 25,0 26,0 27,0 28,0 29,0 30,0 31,0 32,0 33,0 34,0 35,0 36,0 37,0 38,0 39,0" stroke="#5284B8"/>
<polyline points="0,0 1,0 2,0 3,0 4,0 5,0 6,0 7,0 8,0 9,0 10,0 11,3 12,19 13,78 14,190 15,281 16,253 17,138 18,46 19,9 20,1 21,0 22,0 23,0 24,0 25,0 26,0 27,0 28,0 29,0 30,0 31,0 32,0 33,0 34,0 35,0 36,0 37,0 38,0 39,0" stroke="#EE6A24"/>
<polyline points="0,0 1,0 2,0 3,0 4,0 5,0 6,0 7,0 8,0 9,0 10,0 11,0 12,0 13,0 14,0 15,0 16,0 17,0 18,1 19,7 20,40 21,132 22,271 23,345 24,271 25,132 26,40 27,7 28,1 29,0 30,0 31,0 32,0 33,0 34,0 35,0 36,0 37,0 38,0 39,0" stroke="#8E4EE0"/>
<polyline points="0,0 1,0 2,0 3,0 4,0 5,0 6,0 7,0 8,0 9,0 10,0 11,0 12,0 13,0 14,0 15,0 16,0 17,0 18,0 19,0 20,0 21,0 22,0 23,0 24,0 25,0 26,0 27,0 28,0 29,0 30,0 31,0 32,0 33,0 34,0 35,29 36,93 37,175 38,248 39,168" stroke="#EDA02A"/>
<polyline points="0,0 1,0 2,0 3,0 4,0 5,0 6,0 7,0 8,0 9,0 10,0 11,0 12,0 13,0 14,0 15,0 16,0 17,0 18,0 19,0 20,0 21,0 22,0 23,0 24,0 25,0 26,0 27,0 28,0 29,0 30,4 31,25 32,97 33,231 34,340 35,310 36,175 37,61 38,13 39,2" stroke="#55A070"/>
<polyline points="0,0 1,0 2,0 3,0 4,0 5,0 6,0 7,0 8,0 9,0 10,0 11,0 12,0 13,0 14,0 15,0 16,0 17,1 18,8 19,40 20,134 21,275 22,349 23,275 24,134 25,40 26,8 27,1 28,0 29,0 30,0 31,0 32,0 33,0 34,0 35,0 36,0 37,0 38,0 39,0" stroke="#C26A1C"/>
<polyline points="0,0 1,0 2,0 3,0 4,0 5,0 6,0 7,0 8,0 9,0 10,0 11,0 12,0 13,0 14,0 15,0 16,0 17,1 18,6 19,35 20,122 21,261 22,348 23,287 24,146 25,46 26,9 27,1 28,0 29,0 30,0 31,0 32,0 33,0 34,0 35,0 36,0 37,0 38,0 39,0" stroke="#6670DC"/>
<polyline points="0,0 1,0 2,0 3,0 4,0 5,0 6,0 7,0 8,0 9,0 10,0 11,0 12,1 13,17 14,86 15,129 16,8 17,78 18,12 19,76 20,0 21,76 22,12 23,56 24,37 25,55 26,28 27,136 28,67 29,11 30,1 31,0 32,0 33,0 34,0 35,0 36,0 37,0 38,0 39,0" stroke="#C8A424"/>
<polyline points="0,0 1,0 2,0 3,0 4,0 5,0 6,0 7,0 8,0 9,0 10,0 11,0 12,0 13,0 14,0 15,0 16,0 17,0 18,0 19,0 20,0 21,0 22,0 23,0 24,0 25,0 26,0 27,0 28,2 29,14 30,54 31,129 32,186 33,162 34,86 35,28 36,5 37,1 38,0 39,0" stroke="#BE48C0"/>
<polyline points="0,0 1,0 2,0 3,0 4,0 5,0 6,2 7,14 8,65 9,179 10,301 11,308 12,190 13,71 14,16 15,2 16,0 17,0 18,0 19,0 20,0 21,0 22,0 23,0 24,0 25,0 26,0 27,0 28,0 29,0 30,0 31,0 32,0 33,0 34,0 35,0 36,0 37,0 38,0 39,0" stroke="#5284B8"/>
<polyline points="0,446 1,239 2,121 3,52 4,17 5,0 6,0 7,0 8,0 9,0 10,0 11,0 12,0 13,0 14,0 15,0 16,0 17,0 18,0 19,0 20,0 21,0 22,0 23,0 24,0 25,0 26,0 27,0 28,0 29,0 30,0 31,0 32,0 33,0 34,0 35,0 36,0 37,0 38,0 39,0" stroke="#EE6A24"/>
<polyline points="0,0 1,0 2,0 3,0 4,0 5,0 6,0 7,0 8,2 9,15 10,64 11,166 12,262 13,250 14,144 15,51 16,11 17,1 18,0 19,0 20,0 21,0 22,0 23,0 24,0 25,0 26,0 27,0 28,0 29,0 30,0 31,0 32,0 33,0 34,0 35,0 36,0 37,0 38,0 39,0" stroke="#8E4EE0"/>
<polyline points="0,0 1,0 2,0 3,0 4,0 5,0 6,0 7,0 8,0 9,0 10,0 11,0 12,0 13,0 14,0 15,0 16,0 17,0 18,0 19,0 20,0 21,0 22,0 23,0 24,0 25,0 26,0 27,0 28,0 29,0 30,0 31,0 32,0 33,0 34,0 35,0 36,2 37,14 38,64 39,175" stroke="#EDA02A"/>
<polyline points="0,0 1,0 2,0 3,0 4,0 5,0 6,0 7,0 8,0 9,0 10,0 11,0 12,0 13,0 14,0 15,0 16,0 17,0 18,1 19,7 20,38 21,126 22,260 23,330 24,260 25,126 26,38 27,7 28,1 29,0 30,0 31,0 32,0 33,0 34,0 35,0 36,0 37,0 38,0 39,0" stroke="#55A070"/>
<polyline points="0,0 1,0 2,0 3,0 4,0 5,0 6,0 7,0 8,0 9,0 10,0 11,0 12,0 13,0 14,0 15,0 16,0 17,0 18,0 19,0 20,0 21,0 22,0 23,0 24,0 25,0 26,0 27,0 28,0 29,1 30,7 31,37 32,124 33,254 34,322 35,254 36,124 37,37 38,7 39,1" stroke="#C26A1C"/>
<polyline points="0,0 1,0 2,0 3,0 4,0 5,0 6,0 7,1 8,6 9,32 10,115 11,256 12,353 13,300 14,158 15,52 16,10 17,1 18,0 19,0 20,0 21,0 22,0 23,0 24,0 25,0 26,0 27,0 28,0 29,0 30,0 31,0 32,0 33,0 34,0 35,0 36,0 37,0 38,0 39,0" stroke="#6670DC"/>
<polyline points="0,0 1,1 2,5 3,30 4,107 5,227 6,293 7,230 8,109 9,31 10,6 11,1 12,0 13,0 14,0 15,0 16,0 17,0 18,0 19,0 20,0 21,0 22,0 23,0 24,0 25,0 26,0 27,0 28,0 29,0 30,0 31,0 32,0 33,0 34,0 35,0 36,0 37,0 38,0 39,0" stroke="#C8A424"/>
<polyline points="0,0 1,0 2,0 3,0 4,0 5,0 6,0 7,0 8,0 9,0 10,0 11,0 12,0 13,0 14,0 15,2 16,13 17,53 18,131 19,197 20,180 21,99 22,33 23,7 24,1 25,0 26,0 27,0 28,0 29,0 30,0 31,0 32,0 33,0 34,0 35,0 36,0 37,0 38,0 39,0" stroke="#BE48C0"/>
<polyline points="0,0 1,2 2,22 3,99 4,157 5,27 6,60 7,69 8,27 9,82 10,15 11,104 12,0 13,124 14,136 15,42 16,6 17,0 18,0 19,0 20,0 21,0 22,0 23,0 24,0 25,0 26,0 27,0 28,0 29,0 30,0 31,0 32,0 33,0 34,0 35,0 36,0 37,0 38,0 39,0" stroke="#5284B8"/>
<polyline points="0,0 1,0 2,0 3,0 4,0 5,0 6,0 7,0 8,0 9,0 10,0 11,0 12,0 13,0 14,0 15,0 16,0 17,0 18,0 19,0 20,0 21,0 22,0 23,0 24,0 25,0 26,0 27,0 28,0 29,0 30,0 31,0 32,0 33,0 34,0 35,43 36,122 37,237 38,363 39,206" stroke="#EE6A24"/>
<polyline points="0,0 1,0 2,0 3,0 4,0 5,0 6,0 7,0 8,0 9,0 10,0 11,0 12,0 13,0 14,0 15,0 16,0 17,0 18,0 19,0 20,0 21,3 22,20 23,78 24,190 25,280 26,249 27,135 28,44 29,9 30,1 31,0 32,0 33,0 34,0 35,0 36,0 37,0 38,0 39,0" stroke="#8E4EE0"/>
<polyline points="0,0 1,0 2,0 3,0 4,0 5,0 6,0 7,0 8,0 9,0 10,0 11,1 12,7 13,40 14,133 15,273 16,347 17,273 18,133 19,40 20,7 21,1 22,0 23,0 24,0 25,0 26,0 27,0 28,0 29,0 30,0 31,0 32,0 33,0 34,0 35,0 36,0 37,0 38,0 39,0" stroke="#EDA02A"/>
<polyline points="0,0 1,0 2,0 3,0 4,0 5,0 6,0 7,0 8,0 9,0 10,0 11,0 12,0 13,0 14,0 15,0 16,0 17,0 18,0 19,0 20,0 21,0 22,0 23,0 24,0 25,0 26,0 27,0 28,0 29,0 30,0 31,0 32,0 33,0 34,0 35,4 36,23 37,82 38,176 39,231" stroke="#55A070"/>
<polyline points="0,0 1,0 2,0 3,0 4,0 5,0 6,0 7,0 8,0 9,0 10,0 11,0 12,0 13,0 14,0 15,0 16,0 17,0 18,0 19,0 20,0 21,0 22,0 23,0 24,0 25,2 26,15 27,63 28,162 29,253 30,241 31,139 32,49 33,10 34,1 35,0 36,0 37,0 38,0 39,0" stroke="#C26A1C"/>
<polyline points="0,0 1,0 2,0 3,0 4,0 5,0 6,0 7,0 8,0 9,0 10,0 11,0 12,0 13,0 14,0 15,0 16,0 17,0 18,0 19,0 20,0 21,0 22,0 23,0 24,3 25,25 26,101 27,174 28,75 29,9 30,127 31,48 32,26 33,161 34,136 35,44 36,7 37,1 38,0 39,0" stroke="#6670DC"/>
<polyline points="0,0 1,0 2,0 3,0 4,0 5,0 6,0 7,0 8,0 9,0 10,0 11,3 12,18 13,66 14,147 15,197 16,160 17,79 18,24 19,4 20,0 21,0 22,0 23,0 24,0 25,0 26,0 27,0 28,0 29,0 30,0 31,0 32,0 33,0 34,0 35,0 36,0 37,0 38,0 39,0" stroke="#C8A424"/>
<polyline points="0,255 1,162 2,62 3,14 4,2 5,0 6,0 7,0 8,0 9,0 10,0 11,0 12,0 13,0 14,0 15,0 16,0 17,0 18,0 19,0 20,0 21,0 22,0 23,0 24,0 25,0 26,0 27,0 28,0 29,0 30,0 31,0 32,0 33,0 34,0 35,0 36,0 37,0 38,0 39,0" stroke="#BE48C0"/>
<polyline points="0,0 1,0 2,0 3,0 4,0 5,0 6,0 7,0 8,0 9,0 10,0 11,0 12,0 13,0 14,0 15,0 16,0 17,0 18,0 19,0 20,0 21,0 22,0 23,0 24,0 25,0 26,0 27,1 28,8 29,41 30,136 31,278 32,354 33,278 34,136 35,41 36,8 37,1 38,0 39,0" stroke="#5284B8"/>
<polyline points="0,0 1,0 2,0 3,0 4,0 5,0 6,0 7,0 8,0 9,0 10,0 11,0 12,0 13,0 14,0 15,0 16,0 17,0 18,0 19,0 20,0 21,0 22,0 23,0 24,0 25,0 26,0 27,0 28,0 29,0 30,0 31,0 32,0 33,1 34,10 35,57 36,152 37,148 38,10 39,73" stroke="#EE6A24"/>
<polyline points="0,0 1,0 2,0 3,0 4,0 5,0 6,0 7,0 8,0 9,0 10,0 11,0 12,0 13,0 14,0 15,0 16,0 17,0 18,0 19,0 20,0 21,0 22,0 23,0 24,0 25,0 26,0 27,0 28,2 29,16 30,72 31,193 32,315 33,310 34,186 35,67 36,15 37,2 38,0 39,0" stroke="#8E4EE0"/>
<polyline points="0,0 1,0 2,0 3,0 4,0 5,0 6,0 7,0 8,0 9,0 10,0 11,0 12,0 13,0 14,0 15,0 16,0 17,0 18,0 19,0 20,0 21,0 22,0 23,0 24,0 25,0 26,1 27,8 28,41 29,134 30,276 31,351 32,276 33,134 34,41 35,8 36,1 37,0 38,0 39,0" stroke="#EDA02A"/>
<polyline points="0,0 1,0 2,0 3,0 4,1 5,7 6,38 7,126 8,251 9,303 10,222 11,99 12,27 13,4 14,0 15,0 16,0 17,0 18,0 19,0 20,0 21,0 22,0 23,0 24,0 25,0 26,0 27,0 28,0 29,0 30,0 31,0 32,0 33,0 34,0 35,0 36,0 37,0 38,0 39,0" stroke="#55A070"/>
<polyline points="0,0 1,0 2,0 3,0 4,0 5,1 6,6 7,34 8,116 9,243 10,315 11,254 12,126 13,39 14,7 15,1 16,0 17,0 18,0 19,0 20,0 21,0 22,0 23,0 24,0 25,0 26,0 27,0 28,0 29,0 30,0 31,0 32,0 33,0 34,0 35,0 36,0 37,0 38,0 39,0" stroke="#C26A1C"/>
<polyline points="0,0 1,0 2,0 3,0 4,0 5,0 6,0 7,0 8,0 9,0 10,0 11,0 12,0 13,0 14,0 15,0 16,0 17,0 18,0 19,0 20,0 21,0 22,0 23,0 24,0 25,0 26,0 27,0 28,0 29,0 30,3 31,18 32,69 33,157 34,216 35,181 36,92 37,28 38,5 39,1" stroke="#6670DC"/>
<polyline points="0,0 1,0 2,0 3,0 4,0 5,0 6,0 7,0 8,0 9,0 10,0 11,0 12,0 13,0 14,0 15,0 16,0 17,0 18,0 19,1 20,8 21,41 22,126 23,234 24,263 25,180 26,75 27,19 28,3 29,0 30,0 31,0 32,0 33,0 34,0 35,0 36,0 37,0 38,0 39,0" stroke="#C8A424"/>
<polyline points="0,164 1,56 2,12 3,1 4,0 5,0 6,0 7,0 8,0 9,0 10,0 11,0 12,0 13,0 14,0 15,0 16,0 17,0 18,0 19,0 20,0 21,0 22,0 23,0 24,0 25,0 26,0 27,0 28,0 29,0 30,0 31,0 32,0 33,0 34,0 35,0 36,0 37,0 38,0 39,0" stroke="#BE48C0"/>
<polyline points="0,0 1,0 2,0 3,0 4,0 5,0 6,0 7,0 8,0 9,0 10,0 11,0 12,0 13,0 14,0 15,0 16,0 17,0 18,0 19,0 20,1 21,7 22,38 23,125 24,257 25,327 26,257 27,125 28,38 29,7 30,1 31,0 32,0 33,0 34,0 35,0 36,0 37,0 38,0 39,0" stroke="#5284B8"/>
<polyline points="0,0 1,0 2,0 3,0 4,0 5,0 6,6 7,43 8,150 9,182 10,17 11,85 12,95 13,16 14,140 15,7 16,108 17,193 18,86 19,16 20,1 21,0 22,0 23,0 24,0 25,0 26,0 27,0 28,0 29,0 30,0 31,0 32,0 33,0 34,0 35,0 36,0 37,0 38,0 39,0" stroke="#EE6A24"/>
<polyline points="0,0 1,0 2,0 3,0 4,0 5,0 6,0 7,0 8,0 9,1 10,5 11,31 12,112 13,242 14,318 15,254 16,123 17,36 18,6 19,1 20,0 21,0 22,0 23,0 24,0 25,0 26,0 27,0 28,0 29,0 30,0 31,0 32,0 33,0 34,0 35,0 36,0 37,0 38,0 39,0" stroke="#8E4EE0"/>
<polyline points="0,0 1,0 2,0 3,0 4,0 5,5 6,27 7,100 8,228 9,321 10,281 11,152 12,51 13,11 14,1 15,0 16,0 17,0 18,0 19,0 20,0 21,0 22,0 23,0 24,0 25,0 26,0 27,0 28,0 29,0 30,0 31,0 32,0 33,0 34,0 35,0 36,0 37,0 38,0 39,0" stroke="#EDA02A"/>
<polyline points="0,0 1,0 2,0 3,0 4,0 5,0 6,0 7,0 8,0 9,0 10,0 11,0 12,0 13,0 14,0 15,0 16,0 17,0 18,0 19,0 20,0 21,0 22,0 23,0 24,0 25,0 26,0 27,0 28,2 29,17 30,74 31,196 32,313 33,303 34,178 35,64 36,14 37,2 38,0 39,0" stroke="#55A070"/>
<polyline points="0,0 1,0 2,0 3,0 4,0 5,0 6,0 7,0 8,0 9,0 10,0 11,0 12,0 13,0 14,0 15,0 16,0 17,0 18,0 19,0 20,0 21,0 22,0 23,0 24,0 25,0 26,0 27,0 28,0 29,0 30,1 31,6 32,32 33,111 34,233 35,295 36,226 37,105 38,30 39,5" stroke="#C26A1C"/>
<polyline points="0,0 1,0 2,1 3,5 4,28 5,97 6,203 7,258 8,198 9,93 10,26 11,5 12,0 13,0 14,0 15,0 16,0 17,0 18,0 19,0 20,0 21,0 22,0 23,0 24,0 25,0 26,0 27,0 28,0 29,0 30,0 31,0 32,0 33,0 34,0 35,0 36,0 37,0 38,0 39,0" stroke="#6670DC"/>
<polyline points="0,466 1,373 2,358 3,282 4,189 5,131 6,74 7,39 8,0 9,0 10,0 11,0 12,0 13,0 14,0 15,0 16,0 17,0 18,0 19,0 20,0 21,0 22,0 23,0 24,0 25,0 26,0 27,0 28,0 29,0 30,0 31,0 32,0 33,0 34,0 35,0 36,0 37,0 38,0 39,0" stroke="#C8A424"/>
<polyline points="0,0 1,0 2,0 3,0 4,0 5,0 6,0 7,0 8,0 9,0 10,0 11,0 12,0 13,0 14,0 15,0 16,0 17,0 18,0 19,0 20,0 21,0 22,0 23,0 24,0 25,0 26,0 27,0 28,0 29,0 30,0 31,0 32,0 33,0 34,0 35,38 36,110 37,224 38,281 39,193" stroke="#BE48C0"/>
<polyline points="0,0 1,0 2,0 3,0 4,0 5,0 6,0 7,0 8,0 9,0 10,0 11,0 12,0 13,2 14,13 15,56 16,148 17,236 18,229 19,134 20,48 21,10 22,1 23,0 24,0 25,0 26,0 27,0 28,0 29,0 30,0 31,0 32,0 33,0 34,0 35,0 36,0 37,0 38,0 39,0" stroke="#5284B8"/>
<polyline points="0,0 1,0 2,0 3,0 4,0 5,0 6,0 7,0 8,0 9,0 10,0 11,0 12,0 13,0 14,0 15,1 16,12 17,55 18,130 19,132 20,27 21,20 22,126 23,134 24,60 25,14 26,2 27,0 28,0 29,0 30,0 31,0 32,0 33,0 34,0 35,0 36,0 37,0 38,0 39,0" stroke="#EE6A24"/>
<polyline points="0,0 1,0 2,0 3,0 4,0 5,0 6,0 7,0 8,0 9,0 10,0 11,0 12,0 13,0 14,0 15,0 16,0 17,0 18,0 19,0 20,0 21,0 22,0 23,0 24,0 25,0 26,0 27,0 28,0 29,0 30,0 31,0 32,0 33,0 34,0 35,0 36,1 37,8 38,39 39,112" stroke="#8E4EE0"/>
<polyline points="0,0 1,0 2,0 3,0 4,0 5,0 6,0 7,0 8,0 9,0 10,0 11,0 12,0 13,0 14,0 15,0 16,0 17,0 18,0 19,0 20,0 21,0 22,0 23,0 24,0 25,0 26,0 27,4 28,24 29,78 30,156 31,188 32,138 33,61 34,17 35,3 36,0 37,0 38,0 39,0" stroke="#EDA02A"/>
<polyline points="0,0 1,0 2,0 3,0 4,0 5,0 6,1 7,11 8,64 9,172 10,169 11,12 12,81 13,133 14,1 15,115 16,197 17,99 18,22 19,2 20,0 21,0 22,0 23,0 24,0 25,0 26,0 27,0 28,0 29,0 30,0 31,0 32,0 33,0 34,0 35,0 36,0 37,0 38,0 39,0" stroke="#55A070"/>
<polyline points="0,16 1,70 2,188 3,305 4,300 5,179 6,65 7,14 8,2 9,0 10,0 11,0 12,0 13,0 14,0 15,0 16,0 17,0 18,0 19,0 20,0 21,0 22,0 23,0 24,0 25,0 26,0 27,0 28,0 29,0 30,0 31,0 32,0 33,0 34,0 35,0 36,0 37,0 38,0 39,0" stroke="#C26A1C"/>
<polyline points="0,0 1,2 2,12 3,56 4,157 5,266 6,273 7,170 8,64 9,15 10,2 11,0 12,0 13,0 14,0 15,0 16,0 17,0 18,0 19,0 20,0 21,0 22,0 23,0 24,0 25,0 26,0 27,0 28,0 29,0 30,0 31,0 32,0 33,0 34,0 35,0 36,0 37,0 38,0 39,0" stroke="#6670DC"/>
<polyline points="0,12 1,80 2,0 3,80 4,13 5,82 6,9 7,137 8,90 9,18 10,1 11,0 12,0 13,0 14,0 15,0 16,0 17,0 18,0 19,0 20,0 21,0 22,0 23,0 24,0 25,0 26,0 27,0 28,0 29,0 30,0 31,0 32,0 33,0 34,0 35,0 36,0 37,0 38,0 39,0" stroke="#C8A424"/>
<polyline points="0,0 1,0 2,0 3,0 4,0 5,0 6,0 7,0 8,0 9,0 10,0 11,0 12,0 13,0 14,0 15,0 16,0 17,0 18,0 19,0 20,3 21,20 22,76 23,175 24,245 25,208 26,107 27,33 28,6 29,1 30,0 31,0 32,0 33,0 34,0 35,0 36,0 37,0 38,0 39,0" stroke="#BE48C0"/>
<polyline points="0,0 1,0 2,0 3,0 4,0 5,0 6,0 7,0 8,0 9,0 10,0 11,0 12,0 13,0 14,0 15,0 16,0 17,0 18,0 19,0 20,0 21,0 22,0 23,0 24,0 25,0 26,0 27,0 28,0 29,0 30,0 31,0 32,0 33,0 34,0 35,1 36,9 37,43 38,127 39,229" stroke="#5284B8"/>
<polyline points="0,41 1,113 2,190 3,193 4,119 5,44 6,10 7,1 8,0 9,0 10,0 11,0 12,0 13,0 14,0 15,0 16,0 17,0 18,0 19,0 20,0 21,0 22,0 23,0 24,0 25,0 26,0 27,0 28,0 29,0 30,0 31,0 32,0 33,0 34,0 35,0 36,0 37,0 38,0 39,0" stroke="#EE6A24"/>
<polyline points="0,0 1,0 2,0 3,0 4,0 5,0 6,0 7,0 8,0 9,0 10,0 11,0 12,0 13,0 14,0 15,0 16,0 17,0 18,0 19,0 20,0 21,0 22,0 23,0 24,0 25,0 26,0 27,0 28,0 29,0 30,5 31,34 32,105 33,106 34,3 35,68 36,45 37,22 38,84 39,0" stroke="#8E4EE0"/>
<polyline points="0,189 1,115 2,43 3,10 4,1 5,0 6,0 7,0 8,0 9,0 10,0 11,0 12,0 13,0 14,0 15,0 16,0 17,0 18,0 19,0 20,0 21,0 22,0 23,0 24,0 25,0 26,0 27,0 28,0 29,0 30,0 31,0 32,0 33,0 34,0 35,0 36,0 37,0 38,0 39,0" stroke="#EDA02A"/>
<polyline points="0,0 1,0 2,0 3,0 4,0 5,0 6,0 7,0 8,0 9,0 10,0 11,0 12,0 13,0 14,0 15,0 16,0 17,0 18,0 19,0 20,0 21,0 22,0 23,0 24,0 25,0 26,0 27,0 28,0 29,0 30,0 31,0 32,0 33,0 34,0 35,45 36,124 37,268 38,353 39,207" stroke="#55A070"/>
<polyline points="0,7 1,38 2,126 3,261 4,333 5,263 6,129 7,39 8,7 9,1 10,0 11,0 12,0 13,0 14,0 15,0 16,0 17,0 18,0 19,0 20,0 21,0 22,0 23,0 24,0 25,0 26,0 27,0 28,0 29,0 30,0 31,0 32,0 33,0 34,0 35,0 36,0 37,0 38,0 39,0" stroke="#C26A1C"/>
<polyline points="0,22 1,87 2,212 3,318 4,295 5,170 6,60 7,13 8,2 9,0 10,0 11,0 12,0 13,0 14,0 15,0 16,0 17,0 18,0 19,0 20,0 21,0 22,0 23,0 24,0 25,0 26,0 27,0 28,0 29,0 30,0 31,0 32,0 33,0 34,0 35,0 36,0 37,0 38,0 39,0" stroke="#6670DC"/>
<polyline points="0,0 1,0 2,0 3,0 4,0 5,0 6,0 7,0 8,0 9,0 10,1 11,7 12,38 13,123 14,242 15,288 16,209 17,92 18,24 19,4 20,0 21,0 22,0 23,0 24,0 25,0 26,0 27,0 28,0 29,0 30,0 31,0 32,0 33,0 34,0 35,0 36,0 37,0 38,0 39,0" stroke="#C8A424"/>
<polyline points="0,430 1,336 2,286 3,236 4,173 5,101 6,62 7,30 8,0 9,0 10,0 11,0 12,0 13,0 14,0 15,0 16,0 17,0 18,0 19,0 20,0 21,0 22,0 23,0 24,0 25,0 26,0 27,0 28,0 29,0 30,0 31,0 32,0 33,0 34,0 35,0 36,0 37,0 38,0 39,0" stroke="#BE48C0"/>
<polyline points="0,0 1,0 2,0 3,0 4,0 5,0 6,0 7,0 8,0 9,0 10,0 11,0 12,0 13,2 14,15 15,63 16,165 17,262 18,253 19,148 20,52 21,11 22,1 23,0 24,0 25,0 26,0 27,0 28,0 29,0 30,0 31,0 32,0 33,0 34,0 35,0 36,0 37,0 38,0 39,0" stroke="#5284B8"/>
<polyline points="0,189 1,70 2,16 3,2 4,0 5,0 6,0 7,0 8,0 9,0 10,0 11,0 12,0 13,0 14,0 15,0 16,0 17,0 18,0 19,0 20,0 21,0 22,0 23,0 24,0 25,0 26,0 27,0 28,0 29,0 30,0 31,0 32,0 33,0 34,0 35,0 36,0 37,0 38,0 39,0" stroke="#EE6A24"/>
<polyline points="0,79 1,16 2,127 3,5 4,101 5,60 6,28 7,173 8,124 9,32 10,4 11,0 12,0 13,0 14,0 15,0 16,0 17,0 18,0 19,0 20,0 21,0 22,0 23,0 24,0 25,0 26,0 27,0 28,0 29,0 30,0 31,0 32,0 33,0 34,0 35,0 36,0 37,0 38,0 39,0" stroke="#8E4EE0"/>
<polyline points="0,0 1,0 2,0 3,0 4,0 5,0 6,0 7,0 8,0 9,0 10,0 11,0 12,0 13,0 14,0 15,0 16,0 17,0 18,0 19,0 20,0 21,0 22,0 23,0 24,0 25,0 26,0 27,0 28,0 29,0 30,0 31,0 32,0 33,0 34,0 35,39 36,121 37,239 38,363 39,220" stroke="#EDA02A"/>
<polyline points="0,0 1,0 2,0 3,0 4,0 5,0 6,0 7,0 8,0 9,0 10,0 11,0 12,0 13,3 14,21 15,83 16,164 17,128 18,10 19,50 20,163 21,137 22,52 23,10 24,1 25,0 26,0 27,0 28,0 29,0 30,0 31,0 32,0 33,0 34,0 35,0 36,0 37,0 38,0 39,0" stroke="#55A070"/>
<polyline points="0,0 1,0 2,0 3,0 4,0 5,0 6,0 7,0 8,0 9,0 10,0 11,0 12,0 13,0 14,4 15,24 16,91 17,213 18,309 19,277 20,153 21,53 22,11 23,1 24,0 25,0 26,0 27,0 28,0 29,0 30,0 31,0 32,0 33,0 34,0 35,0 36,0 37,0 38,0 39,0" stroke="#C26A1C"/>
<polyline points="0,0 1,0 2,0 3,0 4,0 5,0 6,0 7,0 8,0 9,1 10,7 11,38 12,124 13,255 14,325 15,255 16,124 17,38 18,7 19,1 20,0 21,0 22,0 23,0 24,0 25,0 26,0 27,0 28,0 29,0 30,0 31,0 32,0 33,0 34,0 35,0 36,0 37,0 38,0 39,0" stroke="#6670DC"/>
<polyline points="0,0 1,0 2,0 3,0 4,0 5,0 6,0 7,0 8,0 9,0 10,0 11,0 12,0 13,2 14,19 15,78 16,84 17,0 18,67 19,0 20,59 21,6 22,43 23,29 24,21 25,49 26,21 27,43 28,99 29,38 30,5 31,0 32,0 33,0 34,0 35,0 36,0 37,0 38,0 39,0" stroke="#C8A424"/>
<polyline points="0,0 1,0 2,0 3,0 4,0 5,1 6,7 7,42 8,128 9,186 10,86 11,1 12,111 13,186 14,112 15,33 16,5 17,0 18,0 19,0 20,0 21,0 22,0 23,0 24,0 25,0 26,0 27,0 28,0 29,0 30,0 31,0 32,0 33,0 34,0 35,0 36,0 37,0 38,0 39,0" stroke="#BE48C0"/>
<polyline points="0,491 1,261 2,131 3,54 4,19 5,0 6,0 7,0 8,0 9,0 10,0 11,0 12,0 13,0 14,0 15,0 16,0 17,0 18,0 19,0 20,0 21,0 22,0 23,0 24,0 25,0 26,0 27,0 28,0 29,0 30,0 31,0 32,0 33,0 34,0 35,0 36,0 37,0 38,0 39,0" stroke="#5284B8"/>
<polyline points="0,0 1,0 2,0 3,0 4,0 5,0 6,0 7,0 8,0 9,2 10,12 11,54 12,146 13,239 14,238 15,144 16,53 17,12 18,2 19,0 20,0 21,0 22,0 23,0 24,0 25,0 26,0 27,0 28,0 29,0 30,0 31,0 32,0 33,0 34,0 35,0 36,0 37,0 38,0 39,0" stroke="#EE6A24"/>
<polyline points="0,0 1,0 2,0 3,0 4,0 5,0 6,0 7,0 8,0 9,0 10,0 11,0 12,0 13,0 14,0 15,0 16,0 17,0 18,0 19,0 20,0 21,0 22,0 23,0 24,0 25,0 26,0 27,0 28,0 29,0 30,0 31,0 32,0 33,0 34,0 35,3 36,19 37,80 38,204 39,324" stroke="#8E4EE0"/>
<polyline points="0,522 1,376 2,337 3,291 4,210 5,137 6,74 7,34 8,0 9,0 10,0 11,0 12,0 13,0 14,0 15,0 16,0 17,0 18,0 19,0 20,0 21,0 22,0 23,0 24,0 25,0 26,0 27,0 28,0 29,0 30,0 31,0 32,0 33,0 34,0 35,0 36,0 37,0 38,0 39,0" stroke="#EDA02A"/>
<polyline points="0,0 1,0 2,0 3,0 4,0 5,1 6,7 7,39 8,131 9,268 10,341 11,268 12,131 13,39 14,7 15,1 16,0 17,0 18,0 19,0 20,0 21,0 22,0 23,0 24,0 25,0 26,0 27,0 28,0 29,0 30,0 31,0 32,0 33,0 34,0 35,0 36,0 37,0 38,0 39,0" stroke="#55A070"/>
<polyline points="0,0 1,0 2,0 3,0 4,0 5,0 6,0 7,0 8,0 9,0 10,0 11,0 12,0 13,0 14,0 15,0 16,0 17,0 18,0 19,0 20,0 21,0 22,0 23,2 24,15 25,60 26,149 27,223 28,204 29,113 30,38 31,8 32,1 33,0 34,0 35,0 36,0 37,0 38,0 39,0" stroke="#C26A1C"/>
<polyline points="0,0 1,0 2,0 3,0 4,0 5,0 6,5 7,31 8,98 9,146 10,72 11,0 12,83 13,146 14,91 15,27 16,4 17,0 18,0 19,0 20,0 21,0 22,0 23,0 24,0 25,0 26,0 27,0 28,0 29,0 30,0 31,0 32,0 33,0 34,0 35,0 36,0 37,0 38,0 39,0" stroke="#6670DC"/>
<polyline points="0,0 1,0 2,0 3,0 4,0 5,0 6,0 7,0 8,1 9,6 10,41 11,113 12,94 13,0 14,79 15,31 16,36 17,76 18,1 19,98 20,110 21,38 22,6 23,0 24,0 25,0 26,0 27,0 28,0 29,0 30,0 31,0 32,0 33,0 34,0 35,0 36,0 37,0 38,0 39,0" stroke="#C8A424"/>
<polyline points="0,416 1,316 2,278 3,212 4,166 5,110 6,62 7,30 8,0 9,0 10,0 11,0 12,0 13,0 14,0 15,0 16,0 17,0 18,0 19,0 20,0 21,0 22,0 23,0 24,0 25,0 26,0 27,0 28,0 29,0 30,0 31,0 32,0 33,0 34,0 35,0 36,0 37,0 38,0 39,0" stroke="#BE48C0"/>
<polyline points="0,0 1,0 2,0 3,0 4,0 5,0 6,0 7,0 8,0 9,0 10,0 11,4 12,26 13,98 14,225 15,322 16,284 17,155 18,53 19,11 20,1 21,0 22,0 23,0 24,0 25,0 26,0 27,0 28,0 29,0 30,0 31,0 32,0 33,0 34,0 35,0 36,0 37,0 38,0 39,0" stroke="#5284B8"/>
<polyline points="0,0 1,0 2,0 3,0 4,0 5,1 6,5 7,29 8,98 9,199 10,245 11,183 12,83 13,23 14,4 15,0 16,0 17,0 18,0 19,0 20,0 21,0 22,0 23,0 24,0 25,0 26,0 27,0 28,0 29,0 30,0 31,0 32,0 33,0 34,0 35,0 36,0 37,0 38,0 39,0" stroke="#EE6A24"/>
<polyline points="0,0 1,0 2,0 3,0 4,0 5,0 6,0 7,0 8,0 9,0 10,0 11,0 12,0 13,0 14,0 15,0 16,0 17,0 18,0 19,0 20,0 21,0 22,0 23,0 24,0 25,0 26,0 27,0 28,0 29,0 30,0 31,0 32,0 33,0 34,0 35,26 36,78 37,145 38,200 39,124" stroke="#8E4EE0"/>
<polyline points="0,0 1,0 2,0 3,0 4,0 5,0 6,0 7,0 8,0 9,0 10,0 11,0 12,0 13,0 14,0 15,0 16,0 17,0 18,0 19,0 20,0 21,0 22,0 23,1 24,7 25,38 26,127 27,260 28,331 29,260 30,127 31,38 32,7 33,1 34,0 35,0 36,0 37,0 38,0 39,0" stroke="#EDA02A"/>
<polyline points="0,20 1,121 2,28 3,40 4,155 5,112 6,33 7,5 8,0 9,0 10,0 11,0 12,0 13,0 14,0 15,0 16,0 17,0 18,0 19,0 20,0 21,0 22,0 23,0 24,0 25,0 26,0 27,0 28,0 29,0 30,0 31,0 32,0 33,0 34,0 35,0 36,0 37,0 38,0 39,0" stroke="#55A070"/>
<polyline points="0,15 1,73 2,163 3,116 4,0 5,100 6,87 7,3 8,130 9,157 10,64 11,12 12,1 13,0 14,0 15,0 16,0 17,0 18,0 19,0 20,0 21,0 22,0 23,0 24,0 25,0 26,0 27,0 28,0 29,0 30,0 31,0 32,0 33,0 34,0 35,0 36,0 37,0 38,0 39,0" stroke="#C26A1C"/>
<polyline points="0,0 1,0 2,0 3,0 4,0 5,0 6,0 7,0 8,0 9,0 10,0 11,0 12,0 13,0 14,0 15,0 16,0 17,0 18,0 19,0 20,0 21,0 22,0 23,0 24,3 25,20 26,80 27,196 28,298 29,281 30,164 31,59 32,13 33,2 34,0 35,0 36,0 37,0 38,0 39,0" stroke="#6670DC"/>
<polyline points="0,0 1,0 2,0 3,0 4,0 5,0 6,0 7,0 8,0 9,0 10,0 11,0 12,0 13,0 14,0 15,0 16,0 17,0 18,0 19,0 20,0 21,0 22,1 23,5 24,25 25,80 26,157 27,188 28,137 29,60 30,16 31,3 32,0 33,0 34,0 35,0 36,0 37,0 38,0 39,0" stroke="#C8A424"/>
<polyline points="0,20 1,79 2,189 3,275 4,244 5,131 6,43 7,8 8,1 9,0 10,0 11,0 12,0 13,0 14,0 15,0 16,0 17,0 18,0 19,0 20,0 21,0 22,0 23,0 24,0 25,0 26,0 27,0 28,0 29,0 30,0 31,0 32,0 33,0 34,0 35,0 36,0 37,0 38,0 39,0" stroke="#BE48C0"/>
<polyline points="0,176 1,235 2,94 3,5 4,158 5,236 6,132 7,37 8,5 9,0 10,0 11,0 12,0 13,0 14,0 15,0 16,0 17,0 18,0 19,0 20,0 21,0 22,0 23,0 24,0 25,0 26,0 27,0 28,0 29,0 30,0 31,0 32,0 33,0 34,0 35,0 36,0 37,0 38,0 39,0" stroke="#5284B8"/>
<polyline points="0,0 1,0 2,0 3,0 4,0 5,0 6,0 7,0 8,0 9,2 10,11 11,48 12,130 13,210 14,207 15,124 16,45 17,10 18,1 19,0 20,0 21,0 22,0 23,0 24,0 25,0 26,0 27,0 28,0 29,0 30,0 31,0 32,0 33,0 34,0 35,0 36,0 37,0 38,0 39,0" stroke="#EE6A24"/>
<polyline points="0,0 1,0 2,0 3,0 4,0 5,0 6,0 7,0 8,0 9,0 10,0 11,0 12,0 13,0 14,0 15,0 16,0 17,0 18,0 19,1 20,7 21,38 22,128 23,262 24,333 25,262 26,128 27,38 28,7 29,1 30,0 31,0 32,0 33,0 34,0 35,0 36,0 37,0 38,0 39,0" stroke="#8E4EE0"/>
<polyline points="0,0 1,0 2,0 3,0 4,0 5,0 6,0 7,0 8,0 9,0 10,1 11,10 12,51 13,154 14,288 15,333 16,238 17,106 18,29 19,5 20,1 21,0 22,0 23,0 24,0 25,0 26,0 27,0 28,0 29,0 30,0 31,0 32,0 33,0 34,0 35,0 36,0 37,0 38,0 39,0" stroke="#EDA02A"/>
<polyline points="0,0 1,0 2,0 3,0 4,0 5,0 6,0 7,0 8,0 9,0 10,1 11,13 12,79 13,182 14,69 15,39 16,96 17,24 18,82 19,39 20,66 21,52 22,81 23,26 24,181 25,108 26,21 27,2 28,0 29,0 30,0 31,0 32,0 33,0 34,0 35,0 36,0 37,0 38,0 39,0" stroke="#55A070"/>
<polyline points="0,0 1,0 2,0 3,0 4,0 5,0 6,0 7,0 8,0 9,1 10,7 11,40 12,131 13,269 14,342 15,269 16,131 17,40 18,7 19,1 20,0 21,0 22,0 23,0 24,0 25,0 26,0 27,0 28,0 29,0 30,0 31,0 32,0 33,0 34,0 35,0 36,0 37,0 38,0 39,0" stroke="#C26A1C"/>
<polyline points="0,0 1,0 2,0 3,0 4,0 5,0 6,0 7,0 8,0 9,0 10,0 11,0 12,0 13,0 14,0 15,0 16,0 17,0 18,0 19,0 20,0 21,1 22,7 23,38 24,127 25,262 26,332 27,262 28,127 29,38 30,7 31,1 32,0 33,0 34,0 35,0 36,0 37,0 38,0 39,0" stroke="#6670DC"/>
<polyline points="0,0 1,0 2,0 3,0 4,0 5,2 6,13 7,59 8,167 9,293 10,319 11,215 12,89 13,23 14,4 15,0 16,0 17,0 18,0 19,0 20,0 21,0 22,0 23,0 24,0 25,0 26,0 27,0 28,0 29,0 30,0 31,0 32,0 33,0 34,0 35,0 36,0 37,0 38,0 39,0" stroke="#C8A424"/>
<polyline points="0,0 1,0 2,0 3,0 4,0 5,0 6,0 7,0 8,0 9,0 10,0 11,0 12,0 13,0 14,0 15,0 16,0 17,0 18,0 19,0 20,0 21,0 22,0 23,0 24,0 25,0 26,0 27,0 28,0 29,0 30,0 31,0 32,0 33,0 34,0 35,0 36,0 37,4 38,25 39,86" stroke="#BE48C0"/>
<polyline points="0,0 1,0 2,0 3,2 4,13 5,61 6,174 7,306 8,334 9,225 10,94 11,24 12,4 13,0 14,0 15,0 16,0 17,0 18,0 19,0 20,0 21,0 22,0 23,0 24,0 25,0 26,0 27,0 28,0 29,0 30,0 31,0 32,0 33,0 34,0 35,0 36,0 37,0 38,0 39,0" stroke="#5284B8"/>
<polyline points="0,0 1,0 2,0 3,0 4,0 5,0 6,0 7,0 8,0 9,0 10,0 11,0 12,0 13,0 14,0 15,0 16,0 17,0 18,0 19,0 20,0 21,0 22,0 23,0 24,0 25,0 26,0 27,1 28,11 29,50 30,137 31,229 32,233 33,144 34,54 35,12 36,2 37,0 38,0 39,0" stroke="#EE6A24"/>
<polyline points="0,18 1,75 2,192 3,304 4,299 5,182 6,68 7,16 8,2 9,0 10,0 11,0 12,0 13,0 14,0 15,0 16,0 17,0 18,0 19,0 20,0 21,0 22,0 23,0 24,0 25,0 26,0 27,0 28,0 29,0 30,0 31,0 32,0 33,0 34,0 35,0 36,0 37,0 38,0 39,0" stroke="#8E4EE0"/>
<polyline points="0,0 1,0 2,0 3,0 4,0 5,0 6,0 7,0 8,0 9,0 10,0 11,0 12,0 13,0 14,1 15,8 16,41 17,125 18,229 19,254 20,172 21,70 22,17 23,3 24,0 25,0 26,0 27,0 28,0 29,0 30,0 31,0 32,0 33,0 34,0 35,0 36,0 37,0 38,0 39,0" stroke="#EDA02A"/>
<polyline points="0,0 1,0 2,0 3,0 4,0 5,0 6,0 7,0 8,0 9,0 10,0 11,0 12,0 13,0 14,0 15,0 16,0 17,4 18,30 19,117 20,169 21,32 22,53 23,102 24,3 25,122 26,19 27,71 28,173 29,90 30,19 31,2 32,0 33,0 34,0 35,0 36,0 37,0 38,0 39,0" stroke="#55A070"/>
<polyline points="0,0 1,0 2,0 3,0 4,0 5,0 6,0 7,0 8,0 9,0 10,0 11,0 12,0 13,0 14,1 15,7 16,38 17,127 18,261 19,331 20,261 21,127 22,38 23,7 24,1 25,0 26,0 27,0 28,0 29,0 30,0 31,0 32,0 33,0 34,0 35,0 36,0 37,0 38,0 39,0" stroke="#C26A1C"/>
<polyline points="0,484 1,274 2,127 3,52 4,17 5,0 6,0 7,0 8,0 9,0 10,0 11,0 12,0 13,0 14,0 15,0 16,0 17,0 18,0 19,0 20,0 21,0 22,0 23,0 24,0 25,0 26,0 27,0 28,0 29,0 30,0 31,0 32,0 33,0 34,0 35,0 36,0 37,0 38,0 39,0" stroke="#6670DC"/>
<polyline points="0,41 1,109 2,177 3,175 4,104 5,38 6,8 7,1 8,0 9,0 10,0 11,0 12,0 13,0 14,0 15,0 16,0 17,0 18,0 19,0 20,0 21,0 22,0 23,0 24,0 25,0 26,0 27,0 28,0 29,0 30,0 31,0 32,0 33,0 34,0 35,0 36,0 37,0 38,0 39,0" stroke="#C8A424"/>
<polyline points="0,0 1,0 2,0 3,0 4,0 5,0 6,0 7,0 8,0 9,0 10,0 11,0 12,0 13,0 14,0 15,0 16,0 17,0 18,0 19,0 20,0 21,0 22,0 23,0 24,0 25,0 26,0 27,0 28,0 29,0 30,0 31,0 32,0 33,0 34,0 35,47 36,141 37,263 38,361 39,240" stroke="#BE48C0"/>
<polyline points="0,0 1,0 2,0 3,0 4,0 5,0 6,0 7,0 8,0 9,0 10,0 11,0 12,0 13,0 14,0 15,0 16,0 17,0 18,0 19,0 20,0 21,0 22,0 23,0 24,0 25,0 26,0 27,0 28,0 29,0 30,0 31,0 32,1 33,8 34,41 35,136 36,279 37,354 38,279 39,136" stroke="#5284B8"/>
<polyline points="0,149 1,63 2,16 3,3 4,0 5,0 6,0 7,0 8,0 9,0 10,0 11,0 12,0 13,0 14,0 15,0 16,0 17,0 18,0 19,0 20,0 21,0 22,0 23,0 24,0 25,0 26,0 27,0 28,0 29,0 30,0 31,0 32,0 33,0 34,0 35,0 36,0 37,0 38,0 39,0" stroke="#EE6A24"/>
<polyline points="0,136 1,279 2,354 3,279 4,136 5,41 6,8 7,1 8,0 9,0 10,0 11,0 12,0 13,0 14,0 15,0 16,0 17,0 18,0 19,0 20,0 21,0 22,0 23,0 24,0 25,0 26,0 27,0 28,0 29,0 30,0 31,0 32,0 33,0 34,0 35,0 36,0 37,0 38,0 39,0" stroke="#8E4EE0"/>
<polyline points="0,0 1,0 2,0 3,0 4,0 5,0 6,0 7,0 8,0 9,0 10,0 11,0 12,0 13,0 14,0 15,0 16,0 17,0 18,0 19,0 20,0 21,1 22,6 23,34 24,116 25,249 26,330 27,271 28,138 29,43 30,8 31,1 32,0 33,0 34,0 35,0 36,0 37,0 38,0 39,0" stroke="#EDA02A"/>
<polyline points="0,455 1,270 2,137 3,52 4,18 5,0 6,0 7,0 8,0 9,0 10,0 11,0 12,0 13,0 14,0 15,0 16,0 17,0 18,0 19,0 20,0 21,0 22,0 23,0 24,0 25,0 26,0 27,0 28,0 29,0 30,0 31,0 32,0 33,0 34,0 35,0 36,0 37,0 38,0 39,0" stroke="#55A070"/>
<polyline points="0,442 1,239 2,132 3,52 4,16 5,0 6,0 7,0 8,0 9,0 10,0 11,0 12,0 13,0 14,0 15,0 16,0 17,0 18,0 19,0 20,0 21,0 22,0 23,0 24,0 25,0 26,0 27,0 28,0 29,0 30,0 31,0 32,0 33,0 34,0 35,0 36,0 37,0 38,0 39,0" stroke="#C26A1C"/>
<polyline points="0,0 1,0 2,0 3,0 4,2 5,15 6,66 7,172 8,272 9,261 10,152 11,53 12,11 13,1 14,0 15,0 16,0 17,0 18,0 19,0 20,0 21,0 22,0 23,0 24,0 25,0 26,0 27,0 28,0 29,0 30,0 31,0 32,0 33,0 34,0 35,0 36,0 37,0 38,0 39,0" stroke="#6670DC"/>
<polyline points="0,0 1,0 2,0 3,0 4,0 5,0 6,0 7,0 8,0 9,0 10,0 11,0 12,0 13,0 14,0 15,0 16,0 17,0 18,0 19,0 20,0 21,0 22,0 23,0 24,0 25,0 26,0 27,0 28,0 29,0 30,0 31,0 32,0 33,0 34,0 35,33 36,105 37,204 38,298 39,170" stroke="#C8A424"/>
<polyline points="0,0 1,1 2,13 3,67 4,175 5,208 6,64 7,13 8,165 9,209 10,106 11,27 12,4 13,0 14,0 15,0 16,0 17,0 18,0 19,0 20,0 21,0 22,0 23,0 24,0 25,0 26,0 27,0 28,0 29,0 30,0 31,0 32,0 33,0 34,0 35,0 36,0 37,0 38,0 39,0" stroke="#BE48C0"/>
<polyline points="0,0 1,0 2,0 3,0 4,0 5,0 6,0 7,0 8,0 9,0 10,0 11,0 12,0 13,0 14,0 15,0 16,0 17,1 18,7 19,40 20,129 21,253 22,302 23,219 24,96 25,26 26,4 27,0 28,0 29,0 30,0 31,0 32,0 33,0 34,0 35,0 36,0 37,0 38,0 39,0" stroke="#5284B8"/>
<polyline points="0,3 1,19 2,80 3,199 4,300 5,274 6,152 7,51 8,10 9,1 10,0 11,0 12,0 13,0 14,0 15,0 16,0 17,0 18,0 19,0 20,0 21,0 22,0 23,0 24,0 25,0 26,0 27,0 28,0 29,0 30,0 31,0 32,0 33,0 34,0 35,0 36,0 37,0 38,0 39,0" stroke="#EE6A24"/>
<polyline points="0,0 1,0 2,0 3,0 4,0 5,0 6,0 7,0 8,0 9,0 10,0 11,1 12,8 13,39 14,117 15,212 16,234 17,156 18,63 19,16 20,2 21,0 22,0 23,0 24,0 25,0 26,0 27,0 28,0 29,0 30,0 31,0 32,0 33,0 34,0 35,0 36,0 37,0 38,0 39,0" stroke="#8E4EE0"/>
<polyline points="0,0 1,0 2,0 3,0 4,0 5,0 6,0 7,0 8,0 9,0 10,0 11,0 12,0 13,0 14,0 15,0 16,0 17,0 18,0 19,0 20,0 21,0 22,2 23,15 24,62 25,159 26,248 27,234 28,134 29,47 30,10 31,1 32,0 33,0 34,0 35,0 36,0 37,0 38,0 39,0" stroke="#EDA02A"/>
<polyline points="0,52 1,132 2,202 3,187 4,105 5,36 6,7 7,1 8,0 9,0 10,0 11,0 12,0 13,0 14,0 15,0 16,0 17,0 18,0 19,0 20,0 21,0 22,0 23,0 24,0 25,0 26,0 27,0 28,0 29,0 30,0 31,0 32,0 33,0 34,0 35,0 36,0 37,0 38,0 39,0" stroke="#55A070"/>
<polyline points="0,0 1,0 2,0 3,0 4,0 5,0 6,0 7,4 8,23 9,86 10,191 11,258 12,211 13,105 14,32 15,6 16,1 17,0 18,0 19,0 20,0 21,0 22,0 23,0 24,0 25,0 26,0 27,0 28,0 29,0 30,0 31,0 32,0 33,0 34,0 35,0 36,0 37,0 38,0 39,0" stroke="#C26A1C"/>
<polyline points="0,0 1,0 2,0 3,0 4,0 5,0 6,0 7,0 8,0 9,0 10,0 11,0 12,0 13,0 14,0 15,0 16,0 17,0 18,0 19,0 20,0 21,0 22,0 23,0 24,0 25,0 26,0 27,0 28,0 29,0 30,0 31,0 32,1 33,9 34,42 35,121 36,213 37,227 38,147 39,58" stroke="#6670DC"/>
<polyline points="0,0 1,0 2,0 3,0 4,0 5,0 6,0 7,0 8,0 9,0 10,0 11,0 12,0 13,0 14,0 15,1 16,6 17,32 18,111 19,237 20,315 21,260 22,132 23,42 24,8 25,1 26,0 27,0 28,0 29,0 30,0 31,0 32,0 33,0 34,0 35,0 36,0 37,0 38,0 39,0" stroke="#C8A424"/>
<polyline points="0,0 1,0 2,0 3,0 4,0 5,0 6,0 7,0 8,0 9,0 10,0 11,0 12,0 13,0 14,0 15,0 16,0 17,0 18,0 19,0 20,0 21,0 22,0 23,0 24,0 25,0 26,0 27,3 28,23 29,96 30,200 31,172 32,20 33,51 34,199 35,179 36,72 37,15 38,2 39,0" stroke="#BE48C0"/>
<polyline points="0,0 1,0 2,0 3,0 4,0 5,0 6,0 7,0 8,0 9,0 10,0 11,0 12,0 13,0 14,0 15,0 16,0 17,0 18,0 19,0 20,0 21,0 22,0 23,0 24,0 25,0 26,1 27,9 28,43 29,128 30,231 31,254 32,170 33,69 34,17 35,3 36,0 37,0 38,0 39,0" stroke="#5284B8"/>
<polyline points="0,0 1,0 2,0 3,0 4,0 5,0 6,0 7,0 8,0 9,0 10,0 11,0 12,0 13,0 14,0 15,0 16,0 17,0 18,0 19,0 20,0 21,0 22,0 23,0 24,0 25,0 26,0 27,3 28,19 29,80 30,167 31,143 32,17 33,43 34,165 35,149 36,60 37,12 38,1 39,0" stroke="#EE6A24"/>
<polyline points="0,0 1,0 2,0 3,0 4,0 5,0 6,0 7,0 8,0 9,0 10,0 11,0 12,0 13,0 14,0 15,0 16,0 17,0 18,0 19,0 20,0 21,0 22,0 23,0 24,0 25,0 26,0 27,0 28,0 29,0 30,2 31,15 32,62 33,152 34,226 35,203 36,111 37,37 38,7 39,1" stroke="#8E4EE0"/>
<polyline points="0,0 1,0 2,0 3,0 4,0 5,0 6,0 7,0 8,0 9,0 10,0 11,0 12,0 13,0 14,0 15,0 16,0 17,0 18,0 19,0 20,0 21,0 22,0 23,0 24,0 25,0 26,0 27,0 28,0 29,0 30,0 31,0 32,0 33,0 34,0 35,38 36,112 37,203 38,327 39,204" stroke="#EDA02A"/>
<polyline points="0,0 1,0 2,0 3,0 4,0 5,0 6,0 7,0 8,0 9,0 10,0 11,0 12,0 13,0 14,0 15,0 16,0 17,0 18,0 19,0 20,0 21,0 22,0 23,0 24,0 25,0 26,0 27,1 28,6 29,40 30,137 31,230 32,140 33,1 34,105 35,230 36,161 37,53 38,9 39,1" stroke="#55A070"/>
<polyline points="0,0 1,0 2,0 3,0 4,0 5,0 6,0 7,0 8,0 9,0 10,0 11,0 12,0 13,0 14,0 15,0 16,0 17,0 18,0 19,1 20,5 21,27 22,84 23,161 24,186 25,131 26,56 27,14 28,2 29,0 30,0 31,0 32,0 33,0 34,0 35,0 36,0 37,0 38,0 39,0" stroke="#C26A1C"/>
<polyline points="0,0 1,0 2,0 3,0 4,0 5,0 6,0 7,0 8,0 9,0 10,0 11,0 12,0 13,0 14,0 15,0 16,0 17,0 18,1 19,13 20,71 21,124 22,15 23,63 24,22 25,63 26,4 27,73 28,4 29,63 30,21 31,63 32,15 33,124 34,71 35,13 36,1 37,0 38,0 39,0" stroke="#6670DC"/>
<polyline points="0,0 1,0 2,0 3,0 4,0 5,0 6,0 7,0 8,0 9,0 10,0 11,0 12,0 13,0 14,0 15,0 16,0 17,0 18,0 19,0 20,0 21,0 22,0 23,0 24,0 25,0 26,0 27,0 28,0 29,0 30,0 31,0 32,0 33,0 34,0 35,30 36,87 37,167 38,243 39,150" stroke="#C8A424"/>
<polyline points="0,443 1,256 2,124 3,46 4,16 5,0 6,0 7,0 8,0 9,0 10,0 11,0 12,0 13,0 14,0 15,0 16,0 17,0 18,0 19,0 20,0 21,0 22,0 23,0 24,0 25,0 26,0 27,0 28,0 29,0 30,0 31,0 32,0 33,0 34,0 35,0 36,0 37,0 38,0 39,0" stroke="#BE48C0"/>
<polyline points="0,0 1,0 2,0 3,0 4,0 5,0 6,0 7,0 8,0 9,0 10,0 11,0 12,0 13,0 14,0 15,0 16,4 17,27 18,102 19,164 20,61 21,14 22,123 23,36 24,33 25,157 26,122 27,38 28,6 29,0 30,0 31,0 32,0 33,0 34,0 35,0 36,0 37,0 38,0 39,0" stroke="#5284B8"/>
<polyline points="0,0 1,0 2,0 3,0 4,0 5,0 6,0 7,0 8,0 9,0 10,0 11,0 12,0 13,0 14,0 15,0 16,0 17,2 18,11 19,46 20,118 21,183 22,171 23,97 24,34 25,7 26,1 27,0 28,0 29,0 30,0 31,0 32,0 33,0 34,0 35,0 36,0 37,0 38,0 39,0" stroke="#EE6A24"/>
<polyline points="0,0 1,0 2,0 3,0 4,0 5,0 6,0 7,0 8,0 9,0 10,0 11,0 12,0 13,0 14,0 15,7 16,55 17,159 18,88 19,22 20,94 21,21 22,63 23,56 24,20 25,93 26,1 27,112 28,2 29,127 30,140 31,38 32,4 33,0 34,0 35,0 36,0 37,0 38,0 39,0" stroke="#8E4EE0"/>
<polyline points="0,0 1,0 2,0 3,0 4,0 5,0 6,0 7,0 8,0 9,0 10,0 11,0 12,0 13,2 14,16 15,65 16,161 17,242 18,221 19,123 20,41 21,8 22,1 23,0 24,0 25,0 26,0 27,0 28,0 29,0 30,0 31,0 32,0 33,0 34,0 35,0 36,0 37,0 38,0 39,0" stroke="#EDA02A"/>
<polyline points="0,0 1,0 2,0 3,0 4,0 5,0 6,0 7,0 8,0 9,0 10,0 11,0 12,0 13,0 14,0 15,0 16,1 17,10 18,51 19,140 20,177 21,63 22,7 23,129 24,177 25,95 26,25 27,4 28,0 29,0 30,0 31,0 32,0 33,0 34,0 35,0 36,0 37,0 38,0 39,0" stroke="#55A070"/>
<polyline points="0,0 1,0 2,4 3,31 4,112 5,167 6,52 7,22 8,128 9,28 10,43 11,165 12,118 13,34 14,5 15,0 16,0 17,0 18,0 19,0 20,0 21,0 22,0 23,0 24,0 25,0 26,0 27,0 28,0 29,0 30,0 31,0 32,0 33,0 34,0 35,0 36,0 37,0 38,0 39,0" stroke="#C26A1C"/>
<polyline points="0,0 1,0 2,0 3,0 4,0 5,0 6,0 7,0 8,0 9,0 10,0 11,0 12,0 13,0 14,0 15,0 16,0 17,0 18,0 19,0 20,0 21,0 22,0 23,0 24,0 25,0 26,0 27,0 28,0 29,0 30,0 31,0 32,0 33,0 34,1 35,5 36,26 37,85 38,169 39,202" stroke="#6670DC"/>
<polyline points="0,0 1,0 2,0 3,0 4,0 5,0 6,0 7,0 8,0 9,0 10,0 11,0 12,0 13,0 14,0 15,0 16,5 17,27 18,96 19,208 20,275 21,220 22,107 23,31 24,6 25,1 26,0 27,0 28,0 29,0 30,0 31,0 32,0 33,0 34,0 35,0 36,0 37,0 38,0 39,0" stroke="#C8A424"/>
<polyline points="0,81 1,12 2,89 3,4 4,103 5,2 6,100 7,137 8,48 9,7 10,0 11,0 12,0 13,0 14,0 15,0 16,0 17,0 18,0 19,0 20,0 21,0 22,0 23,0 24,0 25,0 26,0 27,0 28,0 29,0 30,0 31,0 32,0 33,0 34,0 35,0 36,0 37,0 38,0 39,0" stroke="#BE48C0"/>
<polyline points="0,0 1,0 2,0 3,0 4,0 5,0 6,0 7,0 8,0 9,0 10,0 11,0 12,0 13,0 14,0 15,0 16,0 17,0 18,0 19,1 20,7 21,39 22,131 23,268 24,341 25,268 26,131 27,39 28,7 29,1 30,0 31,0 32,0 33,0 34,0 35,0 36,0 37,0 38,0 39,0" stroke="#5284B8"/>
<polyline points="0,0 1,0 2,0 3,0 4,0 5,0 6,0 7,0 8,0 9,0 10,0 11,0 12,0 13,0 14,0 15,0 16,0 17,1 18,8 19,44 20,127 21,171 22,69 23,3 24,114 25,171 26,96 27,27 28,4 29,0 30,0 31,0 32,0 33,0 34,0 35,0 36,0 37,0 38,0 39,0" stroke="#EE6A24"/>
<polyline points="0,5 1,32 2,114 3,249 4,330 5,265 6,129 7,38 8,7 9,1 10,0 11,0 12,0 13,0 14,0 15,0 16,0 17,0 18,0 19,0 20,0 21,0 22,0 23,0 24,0 25,0 26,0 27,0 28,0 29,0 30,0 31,0 32,0 33,0 34,0 35,0 36,0 37,0 38,0 39,0" stroke="#8E4EE0"/>
<polyline points="0,441 1,273 2,133 3,56 4,19 5,0 6,0 7,0 8,0 9,0 10,0 11,0 12,0 13,0 14,0 15,0 16,0 17,0 18,0 19,0 20,0 21,0 22,0 23,0 24,0 25,0 26,0 27,0 28,0 29,0 30,0 31,0 32,0 33,0 34,0 35,0 36,0 37,0 38,0 39,0" stroke="#EDA02A"/>
<polyline points="0,0 1,0 2,0 3,0 4,0 5,6 6,44 7,153 8,217 9,60 10,34 11,168 12,31 13,64 14,218 15,150 16,42 17,6 18,0 19,0 20,0 21,0 22,0 23,0 24,0 25,0 26,0 27,0 28,0 29,0 30,0 31,0 32,0 33,0 34,0 35,0 36,0 37,0 38,0 39,0" stroke="#55A070"/>
<polyline points="0,0 1,0 2,0 3,0 4,0 5,0 6,0 7,0 8,1 9,7 10,38 11,127 12,262 13,333 14,262 15,127 16,38 17,7 18,1 19,0 20,0 21,0 22,0 23,0 24,0 25,0 26,0 27,0 28,0 29,0 30,0 31,0 32,0 33,0 34,0 35,0 36,0 37,0 38,0 39,0" stroke="#C26A1C"/>
<polyline points="0,0 1,0 2,0 3,0 4,0 5,0 6,0 7,0 8,0 9,0 10,0 11,0 12,0 13,0 14,0 15,0 16,0 17,0 18,0 19,0 20,0 21,0 22,0 23,0 24,0 25,0 26,0 27,0 28,0 29,0 30,0 31,0 32,0 33,0 34,0 35,39 36,133 37,248 38,372 39,217" stroke="#6670DC"/>
<polyline points="0,0 1,0 2,0 3,0 4,0 5,0 6,0 7,0 8,0 9,0 10,0 11,0 12,0 13,0 14,0 15,0 16,4 17,23 18,78 19,163 20,205 21,157 22,73 23,21 24,4 25,0 26,0 27,0 28,0 29,0 30,0 31,0 32,0 33,0 34,0 35,0 36,0 37,0 38,0 39,0" stroke="#C8A424"/>
<polyline points="0,0 1,0 2,0 3,4 4,26 5,93 6,139 7,43 8,18 9,107 10,24 11,35 12,137 13,98 14,29 15,4 16,0 17,0 18,0 19,0 20,0 21,0 22,0 23,0 24,0 25,0 26,0 27,0 28,0 29,0 30,0 31,0 32,0 33,0 34,0 35,0 36,0 37,0 38,0 39,0" stroke="#BE48C0"/>
<polyline points="0,2 1,12 2,52 3,136 4,213 5,203 6,117 7,41 8,9 9,1 10,0 11,0 12,0 13,0 14,0 15,0 16,0 17,0 18,0 19,0 20,0 21,0 22,0 23,0 24,0 25,0 26,0 27,0 28,0 29,0 30,0 31,0 32,0 33,0 34,0 35,0 36,0 37,0 38,0 39,0" stroke="#5284B8"/>
<polyline points="0,0 1,0 2,0 3,0 4,0 5,0 6,0 7,1 8,7 9,40 10,132 11,270 12,343 13,270 14,132 15,40 16,7 17,1 18,0 19,0 20,0 21,0 22,0 23,0 24,0 25,0 26,0 27,0 28,0 29,0 30,0 31,0 32,0 33,0 34,0 35,0 36,0 37,0 38,0 39,0" stroke="#EE6A24"/>
<polyline points="0,0 1,0 2,0 3,0 4,0 5,1 6,10 7,49 8,148 9,278 10,323 11,232 12,104 13,29 14,5 15,1 16,0 17,0 18,0 19,0 20,0 21,0 22,0 23,0 24,0 25,0 26,0 27,0 28,0 29,0 30,0 31,0 32,0 33,0 34,0 35,0 36,0 37,0 38,0 39,0" stroke="#8E4EE0"/>
<polyline points="0,482 1,261 2,146 3,59 4,18 5,0 6,0 7,0 8,0 9,0 10,0 11,0 12,0 13,0 14,0 15,0 16,0 17,0 18,0 19,0 20,0 21,0 22,0 23,0 24,0 25,0 26,0 27,0 28,0 29,0 30,0 31,0 32,0 33,0 34,0 35,0 36,0 37,0 38,0 39,0" stroke="#EDA02A"/>
<polyline points="0,0 1,0 2,0 3,0 4,0 5,0 6,0 7,0 8,0 9,0 10,0 11,0 12,0 13,0 14,0 15,0 16,0 17,0 18,0 19,0 20,0 21,0 22,0 23,4 24,27 25,101 26,231 27,322 28,271 29,139 30,43 31,8 32,1 33,0 34,0 35,0 36,0 37,0 38,0 39,0" stroke="#55A070"/>
<polyline points="0,103 1,30 2,5 3,1 4,0 5,0 6,0 7,0 8,0 9,0 10,0 11,0 12,0 13,0 14,0 15,0 16,0 17,0 18,0 19,0 20,0 21,0 22,0 23,0 24,0 25,0 26,0 27,0 28,0 29,0 30,0 31,0 32,0 33,0 34,0 35,0 36,0 37,0 38,0 39,0" stroke="#C26A1C"/>
<polyline points="0,343 1,270 2,131 3,40 4,7 5,1 6,0 7,0 8,0 9,0 10,0 11,0 12,0 13,0 14,0 15,0 16,0 17,0 18,0 19,0 20,0 21,0 22,0 23,0 24,0 25,0 26,0 27,0 28,0 29,0 30,0 31,0 32,0 33,0 34,0 35,0 36,0 37,0 38,0 39,0" stroke="#6670DC"/>
<polyline points="0,0 1,0 2,0 3,0 4,0 5,0 6,0 7,0 8,0 9,0 10,0 11,0 12,0 13,0 14,0 15,0 16,0 17,0 18,0 19,0 20,0 21,0 22,0 23,0 24,0 25,0 26,0 27,0 28,1 29,10 30,48 31,140 32,248 33,266 34,174 35,69 36,16 37,2 38,0 39,0" stroke="#C8A424"/>
<polyline points="0,352 1,277 2,135 3,41 4,8 5,1 6,0 7,0 8,0 9,0 10,0 11,0 12,0 13,0 14,0 15,0 16,0 17,0 18,0 19,0 20,0 21,0 22,0 23,0 24,0 25,0 26,0 27,0 28,0 29,0 30,0 31,0 32,0 33,0 34,0 35,0 36,0 37,0 38,0 39,0" stroke="#BE48C0"/>
<polyline points="0,5 1,29 2,99 3,205 4,257 5,195 6,90 7,25 8,4 9,0 10,0 11,0 12,0 13,0 14,0 15,0 16,0 17,0 18,0 19,0 20,0 21,0 22,0 23,0 24,0 25,0 26,0 27,0 28,0 29,0 30,0 31,0 32,0 33,0 34,0 35,0 36,0 37,0 38,0 39,0" stroke="#5284B8"/>
<polyline points="0,0 1,0 2,0 3,0 4,0 5,0 6,0 7,0 8,0 9,0 10,0 11,0 12,0 13,0 14,0 15,0 16,0 17,0 18,0 19,0 20,0 21,0 22,1 23,6 24,32 25,107 26,217 27,268 28,201 29,91 30,25 31,4 32,0 33,0 34,0 35,0 36,0 37,0 38,0 39,0" stroke="#EE6A24"/>
<polyline points="0,0 1,0 2,0 3,0 4,0 5,0 6,0 7,0 8,0 9,0 10,0 11,0 12,0 13,0 14,0 15,0 16,0 17,0 18,0 19,0 20,0 21,0 22,0 23,0 24,0 25,0 26,0 27,0 28,0 29,0 30,0 31,0 32,0 33,1 34,8 35,42 36,127 37,237 38,267 39,183" stroke="#8E4EE0"/>
<polyline points="0,0 1,0 2,0 3,0 4,0 5,0 6,0 7,0 8,0 9,0 10,0 11,1 12,7 13,38 14,126 15,258 16,328 17,258 18,126 19,38 20,7 21,1 22,0 23,0 24,0 25,0 26,0 27,0 28,0 29,0 30,0 31,0 32,0 33,0 34,0 35,0 36,0 37,0 38,0 39,0" stroke="#EDA02A"/>
<polyline points="0,11 1,52 2,154 3,276 4,300 5,198 6,79 7,19 8,3 9,0 10,0 11,0 12,0 13,0 14,0 15,0 16,0 17,0 18,0 19,0 20,0 21,0 22,0 23,0 24,0 25,0 26,0 27,0 28,0 29,0 30,0 31,0 32,0 33,0 34,0 35,0 36,0 37,0 38,0 39,0" stroke="#55A070"/>
<polyline points="0,519 1,397 2,351 3,261 4,189 5,128 6,73 7,35 8,0 9,0 10,0 11,0 12,0 13,0 14,0 15,0 16,0 17,0 18,0 19,0 20,0 21,0 22,0 23,0 24,0 25,0 26,0 27,0 28,0 29,0 30,0 31,0 32,0 33,0 34,0 35,0 36,0 37,0 38,0 39,0" stroke="#C26A1C"/>
<polyline points="0,0 1,0 2,0 3,0 4,0 5,0 6,0 7,0 8,0 9,0 10,0 11,0 12,0 13,0 14,0 15,0 16,0 17,0 18,0 19,0 20,0 21,0 22,0 23,0 24,0 25,0 26,0 27,0 28,0 29,0 30,0 31,0 32,0 33,0 34,0 35,31 36,87 37,165 38,227 39,144" stroke="#6670DC"/>
<polyline points="0,370 1,231 2,104 3,47 4,15 5,0 6,0 7,0 8,0 9,0 10,0 11,0 12,0 13,0 14,0 15,0 16,0 17,0 18,0 19,0 20,0 21,0 22,0 23,0 24,0 25,0 26,0 27,0 28,0 29,0 30,0 31,0 32,0 33,0 34,0 35,0 36,0 37,0 38,0 39,0" stroke="#C8A424"/>
<polyline points="0,0 1,0 2,0 3,0 4,0 5,0 6,0 7,0 8,0 9,0 10,0 11,0 12,0 13,0 14,0 15,0 16,0 17,2 18,12 19,57 20,165 21,295 22,327 23,224 24,95 25,25 26,4 27,0 28,0 29,0 30,0 31,0 32,0 33,0 34,0 35,0 36,0 37,0 38,0 39,0" stroke="#BE48C0"/>
<polyline points="0,0 1,0 2,0 3,0 4,0 5,0 6,0 7,0 8,0 9,0 10,0 11,0 12,0 13,0 14,0 15,0 16,0 17,0 18,0 19,0 20,0 21,0 22,0 23,0 24,0 25,0 26,0 27,0 28,0 29,0 30,7 31,49 32,141 33,89 34,10 35,98 36,2 37,88 38,8 39,80" stroke="#5284B8"/>
<polyline points="0,0 1,0 2,0 3,0 4,0 5,0 6,0 7,0 8,0 9,0 10,0 11,0 12,1 13,8 14,41 15,136 16,279 17,355 18,279 19,136 20,41 21,8 22,1 23,0 24,0 25,0 26,0 27,0 28,0 29,0 30,0 31,0 32,0 33,0 34,0 35,0 36,0 37,0 38,0 39,0" stroke="#EE6A24"/>
<polyline points="0,487 1,378 2,306 3,258 4,189 5,123 6,73 7,33 8,0 9,0 10,0 11,0 12,0 13,0 14,0 15,0 16,0 17,0 18,0 19,0 20,0 21,0 22,0 23,0 24,0 25,0 26,0 27,0 28,0 29,0 30,0 31,0 32,0 33,0 34,0 35,0 36,0 37,0 38,0 39,0" stroke="#8E4EE0"/>
<polyline points="0,0 1,0 2,0 3,0 4,0 5,0 6,0 7,0 8,0 9,0 10,0 11,0 12,0 13,0 14,0 15,0 16,0 17,0 18,0 19,0 20,0 21,0 22,0 23,0 24,0 25,4 26,27 27,102 28,232 29,321 30,270 31,137 32,42 33,8 34,1 35,0 36,0 37,0 38,0 39,0" stroke="#EDA02A"/>
<polyline points="0,0 1,0 2,0 3,0 4,0 5,0 6,0 7,0 8,4 9,26 10,92 11,197 12,255 13,201 14,96 15,28 16,5 17,1 18,0 19,0 20,0 21,0 22,0 23,0 24,0 25,0 26,0 27,0 28,0 29,0 30,0 31,0 32,0 33,0 34,0 35,0 36,0 37,0 38,0 39,0" stroke="#55A070"/>
<polyline points="0,0 1,0 2,0 3,0 4,0 5,0 6,0 7,0 8,0 9,0 10,0 11,0 12,0 13,0 14,0 15,0 16,0 17,0 18,0 19,0 20,0 21,1 22,8 23,46 24,134 25,181 26,73 27,3 28,120 29,181 30,102 31,28 32,4 33,0 34,0 35,0 36,0 37,0 38,0 39,0" stroke="#C26A1C"/>
<polyline points="0,419 1,315 2,270 3,238 4,152 5,110 6,61 7,29 8,0 9,0 10,0 11,0 12,0 13,0 14,0 15,0 16,0 17,0 18,0 19,0 20,0 21,0 22,0 23,0 24,0 25,0 26,0 27,0 28,0 29,0 30,0 31,0 32,0 33,0 34,0 35,0 36,0 37,0 38,0 39,0" stroke="#6670DC"/>
<polyline points="0,0 1,0 2,0 3,0 4,0 5,0 6,0 7,0 8,0 9,0 10,0 11,0 12,0 13,0 14,0 15,0 16,0 17,0 18,0 19,0 20,0 21,0 22,0 23,0 24,0 25,0 26,0 27,0 28,0 29,2 30,12 31,51 32,132 33,210 34,202 35,118 36,42 37,9 38,1 39,0" stroke="#C8A424"/>
<polyline points="0,0 1,0 2,0 3,0 4,0 5,0 6,0 7,0 8,0 9,0 10,0 11,0 12,0 13,0 14,0 15,0 16,0 17,0 18,0 19,0 20,0 21,0 22,0 23,0 24,0 25,1 26,11 27,51 28,148 29,268 30,300 31,207 32,89 33,24 34,4 35,0 36,0 37,0 38,0 39,0" stroke="#BE48C0"/>
<polyline points="0,0 1,0 2,0 3,0 4,0 5,0 6,0 7,0 8,0 9,0 10,0 11,0 12,0 13,0 14,0 15,0 16,0 17,0 18,0 19,0 20,0 21,0 22,0 23,0 24,0 25,1 26,8 27,41 28,133 29,267 30,331 31,254 32,121 33,36 34,6 35,1 36,0 37,0 38,0 39,0" stroke="#5284B8"/>
<polyline points="0,0 1,0 2,0 3,0 4,0 5,0 6,1 7,8 8,43 9,135 10,265 11,320 12,240 13,111 14,32 15,6 16,1 17,0 18,0 19,0 20,0 21,0 22,0 23,0 24,0 25,0 26,0 27,0 28,0 29,0 30,0 31,0 32,0 33,0 34,0 35,0 36,0 37,0 38,0 39,0" stroke="#EE6A24"/>
<polyline points="0,0 1,0 2,0 3,0 4,0 5,0 6,0 7,0 8,2 9,13 10,55 11,147 12,236 13,231 14,137 15,49 16,11 17,1 18,0 19,0 20,0 21,0 22,0 23,0 24,0 25,0 26,0 27,0 28,0 29,0 30,0 31,0 32,0 33,0 34,0 35,0 36,0 37,0 38,0 39,0" stroke="#8E4EE0"/>
<polyline points="0,209 1,74 2,8 3,153 4,210 5,112 6,30 7,4 8,0 9,0 10,0 11,0 12,0 13,0 14,0 15,0 16,0 17,0 18,0 19,0 20,0 21,0 22,0 23,0 24,0 25,0 26,0 27,0 28,0 29,0 30,0 31,0 32,0 33,0 34,0 35,0 36,0 37,0 38,0 39,0" stroke="#EDA02A"/>
<polyline points="0,0 1,0 2,0 3,0 4,0 5,0 6,0 7,0 8,0 9,0 10,0 11,0 12,0 13,0 14,0 15,0 16,0 17,0 18,0 19,0 20,0 21,0 22,3 23,19 24,75 25,176 26,251 27,217 28,113 29,36 30,7 31,1 32,0 33,0 34,0 35,0 36,0 37,0 38,0 39,0" stroke="#55A070"/>
<polyline points="0,259 1,139 2,45 3,9 4,1 5,0 6,0 7,0 8,0 9,0 10,0 11,0 12,0 13,0 14,0 15,0 16,0 17,0 18,0 19,0 20,0 21,0 22,0 23,0 24,0 25,0 26,0 27,0 28,0 29,0 30,0 31,0 32,0 33,0 34,0 35,0 36,0 37,0 38,0 39,0" stroke="#C26A1C"/>
<polyline points="0,510 1,402 2,316 3,262 4,197 5,126 6,64 7,36 8,0 9,0 10,0 11,0 12,0 13,0 14,0 15,0 16,0 17,0 18,0 19,0 20,0 21,0 22,0 23,0 24,0 25,0 26,0 27,0 28,0 29,0 30,0 31,0 32,0 33,0 34,0 35,0 36,0 37,0 38,0 39,0" stroke="#6670DC"/>
<polyline points="0,0 1,0 2,0 3,0 4,0 5,0 6,0 7,0 8,0 9,0 10,0 11,0 12,0 13,0 14,0 15,0 16,1 17,6 18,35 19,103 20,139 21,56 22,2 23,92 24,139 25,79 26,22 27,3 28,0 29,0 30,0 31,0 32,0 33,0 34,0 35,0 36,0 37,0 38,0 39,0" stroke="#C8A424"/>
<polyline points="0,0 1,0 2,0 3,0 4,0 5,0 6,0 7,0 8,0 9,0 10,0 11,0 12,0 13,0 14,0 15,0 16,0 17,0 18,0 19,0 20,0 21,0 22,0 23,0 24,0 25,0 26,0 27,0 28,0 29,0 30,0 31,1 32,7 33,40 34,132 35,270 36,343 37,270 38,132 39,40" stroke="#BE48C0"/>
<polyline points="0,0 1,0 2,0 3,0 4,0 5,0 6,0 7,0 8,0 9,0 10,0 11,0 12,0 13,0 14,0 15,0 16,0 17,0 18,0 19,0 20,0 21,0 22,0 23,0 24,0 25,0 26,1 27,8 28,41 29,136 30,278 31,354 32,278 33,136 34,41 35,8 36,1 37,0 38,0 39,0" stroke="#5284B8"/>
<polyline points="0,93 1,213 2,295 3,248 4,126 5,39 6,7 7,1 8,0 9,0 10,0 11,0 12,0 13,0 14,0 15,0 16,0 17,0 18,0 19,0 20,0 21,0 22,0 23,0 24,0 25,0 26,0 27,0 28,0 29,0 30,0 31,0 32,0 33,0 34,0 35,0 36,0 37,0 38,0 39,0" stroke="#EE6A24"/>
<polyline points="0,0 1,0 2,0 3,0 4,0 5,0 6,0 7,0 8,0 9,0 10,0 11,0 12,0 13,0 14,0 15,0 16,0 17,0 18,0 19,0 20,0 21,0 22,0 23,0 24,0 25,0 26,0 27,0 28,1 29,7 30,39 31,128 32,264 33,335 34,264 35,128 36,39 37,7 38,1 39,0" stroke="#8E4EE0"/>
<polyline points="0,0 1,0 2,0 3,0 4,0 5,0 6,0 7,0 8,0 9,0 10,0 11,0 12,0 13,0 14,0 15,2 16,15 17,64 18,171 19,276 20,270 21,161 22,58 23,13 24,2 25,0 26,0 27,0 28,0 29,0 30,0 31,0 32,0 33,0 34,0 35,0 36,0 37,0 38,0 39,0" stroke="#EDA02A"/>
<polyline points="0,487 1,280 2,140 3,56 4,18 5,0 6,0 7,0 8,0 9,0 10,0 11,0 12,0 13,0 14,0 15,0 16,0 17,0 18,0 19,0 20,0 21,0 22,0 23,0 24,0 25,0 26,0 27,0 28,0 29,0 30,0 31,0 32,0 33,0 34,0 35,0 36,0 37,0 38,0 39,0" stroke="#55A070"/>
<polyline points="0,0 1,0 2,0 3,0 4,0 5,0 6,0 7,0 8,0 9,0 10,0 11,0 12,0 13,0 14,0 15,0 16,0 17,0 18,0 19,0 20,0 21,0 22,0 23,0 24,0 25,0 26,0 27,0 28,0 29,0 30,0 31,0 32,5 33,40 34,145 35,215 36,67 37,28 38,165 39,37" stroke="#C26A1C"/>
<polyline points="0,0 1,0 2,0 3,0 4,0 5,0 6,0 7,0 8,0 9,0 10,0 11,0 12,0 13,2 14,19 15,81 16,145 17,69 18,5 19,104 20,46 21,17 22,132 23,117 24,40 25,6 26,1 27,0 28,0 29,0 30,0 31,0 32,0 33,0 34,0 35,0 36,0 37,0 38,0 39,0" stroke="#6670DC"/>
<polyline points="0,461 1,271 2,130 3,54 4,19 5,0 6,0 7,0 8,0 9,0 10,0 11,0 12,0 13,0 14,0 15,0 16,0 17,0 18,0 19,0 20,0 21,0 22,0 23,0 24,0 25,0 26,0 27,0 28,0 29,0 30,0 31,0 32,0 33,0 34,0 35,0 36,0 37,0 38,0 39,0" stroke="#C8A424"/>
<polyline points="0,0 1,0 2,0 3,0 4,0 5,0 6,0 7,0 8,0 9,0 10,0 11,0 12,0 13,0 14,0 15,0 16,0 17,0 18,0 19,0 20,0 21,0 22,0 23,0 24,0 25,0 26,0 27,0 28,0 29,0 30,4 31,24 32,82 33,172 34,219 35,168 36,79 37,22 38,4 39,0" stroke="#BE48C0"/>
<polyline points="0,0 1,0 2,0 3,0 4,0 5,1 6,11 7,54 8,160 9,292 10,330 11,231 12,100 13,27 14,4 15,0 16,0 17,0 18,0 19,0 20,0 21,0 22,0 23,0 24,0 25,0 26,0 27,0 28,0 29,0 30,0 31,0 32,0 33,0 34,0 35,0 36,0 37,0 38,0 39,0" stroke="#5284B8"/>
<polyline points="0,0 1,0 2,0 3,0 4,0 5,0 6,0 7,0 8,0 9,0 10,0 11,0 12,0 13,0 14,0 15,0 16,0 17,0 18,0 19,0 20,1 21,7 22,41 23,136 24,215 25,117 26,0 27,110 28,215 29,141 30,44 31,7 32,1 33,0 34,0 35,0 36,0 37,0 38,0 39,0" stroke="#EE6A24"/>
<polyline points="0,58 1,175 2,201 3,29 4,66 5,159 6,9 7,101 8,220 9,124 10,30 11,4 12,0 13,0 14,0 15,0 16,0 17,0 18,0 19,0 20,0 21,0 22,0 23,0 24,0 25,0 26,0 27,0 28,0 29,0 30,0 31,0 32,0 33,0 34,0 35,0 36,0 37,0 38,0 39,0" stroke="#8E4EE0"/>
<polyline points="0,0 1,0 2,0 3,0 4,0 5,0 6,1 7,7 8,39 9,127 10,248 11,295 12,212 13,92 14,24 15,4 16,0 17,0 18,0 19,0 20,0 21,0 22,0 23,0 24,0 25,0 26,0 27,0 28,0 29,0 30,0 31,0 32,0 33,0 34,0 35,0 36,0 37,0 38,0 39,0" stroke="#EDA02A"/>
<polyline points="0,0 1,0 2,0 3,0 4,0 5,0 6,0 7,0 8,0 9,0 10,0 11,0 12,0 13,0 14,0 15,0 16,0 17,0 18,0 19,0 20,0 21,0 22,0 23,0 24,0 25,0 26,0 27,0 28,0 29,0 30,1 31,9 32,40 33,110 34,184 35,185 36,114 37,42 38,10 39,1" stroke="#55A070"/>
<polyline points="0,34 1,113 2,178 3,97 4,0 5,91 6,178 7,117 8,37 9,6 10,1 11,0 12,0 13,0 14,0 15,0 16,0 17,0 18,0 19,0 20,0 21,0 22,0 23,0 24,0 25,0 26,0 27,0 28,0 29,0 30,0 31,0 32,0 33,0 34,0 35,0 36,0 37,0 38,0 39,0" stroke="#C26A1C"/>
<polyline points="0,60 1,16 2,172 3,211 4,104 5,26 6,3 7,0 8,0 9,0 10,0 11,0 12,0 13,0 14,0 15,0 16,0 17,0 18,0 19,0 20,0 21,0 22,0 23,0 24,0 25,0 26,0 27,0 28,0 29,0 30,0 31,0 32,0 33,0 34,0 35,0 36,0 37,0 38,0 39,0" stroke="#6670DC"/>
<polyline points="0,0 1,0 2,0 3,0 4,0 5,0 6,0 7,0 8,0 9,0 10,0 11,0 12,0 13,0 14,0 15,0 16,0 17,0 18,0 19,0 20,0 21,2 22,15 23,67 24,181 25,297 26,297 27,180 28,66 29,15 30,2 31,0 32,0 33,0 34,0 35,0 36,0 37,0 38,0 39,0" stroke="#C8A424"/>
<polyline points="0,0 1,0 2,0 3,0 4,0 5,0 6,0 7,0 8,0 9,0 10,0 11,0 12,0 13,0 14,0 15,0 16,0 17,0 18,0 19,0 20,0 21,0 22,0 23,2 24,11 25,45 26,116 27,180 28,171 29,98 30,34 31,7 32,1 33,0 34,0 35,0 36,0 37,0 38,0 39,0" stroke="#BE48C0"/>
<polyline points="0,0 1,0 2,0 3,0 4,0 5,0 6,0 7,0 8,0 9,0 10,0 11,0 12,0 13,0 14,2 15,14 16,55 17,133 18,194 19,172 20,93 21,30 22,6 23,1 24,0 25,0 26,0 27,0 28,0 29,0 30,0 31,0 32,0 33,0 34,0 35,0 36,0 37,0 38,0 39,0" stroke="#5284B8"/>
<polyline points="0,0 1,0 2,0 3,0 4,0 5,0 6,0 7,0 8,0 9,0 10,0 11,0 12,0 13,0 14,0 15,0 16,0 17,0 18,0 19,0 20,0 21,1 22,7 23,33 24,97 25,176 26,193 27,129 28,52 29,13 30,2 31,0 32,0 33,0 34,0 35,0 36,0 37,0 38,0 39,0" stroke="#EE6A24"/>
<polyline points="0,0 1,0 2,0 3,0 4,0 5,0 6,0 7,0 8,0 9,0 10,0 11,0 12,0 13,0 14,0 15,0 16,0 17,0 18,0 19,0 20,0 21,0 22,0 23,0 24,0 25,0 26,0 27,0 28,0 29,0 30,0 31,2 32,20 33,87 34,200 35,196 36,36 37,36 38,196 39,201" stroke="#8E4EE0"/>
<polyline points="0,0 1,0 2,0 3,0 4,0 5,0 6,0 7,0 8,0 9,0 10,0 11,0 12,0 13,0 14,0 15,0 16,0 17,0 18,0 19,0 20,0 21,0 22,0 23,0 24,4 25,24 26,83 27,171 28,214 29,163 30,75 31,21 32,4 33,0 34,0 35,0 36,0 37,0 38,0 39,0" stroke="#EDA02A"/>
<polyline points="0,0 1,0 2,0 3,0 4,0 5,0 6,0 7,0 8,0 9,0 10,0 11,0 12,0 13,0 14,0 15,0 16,1 17,8 18,44 19,141 20,279 21,344 22,262 23,123 24,36 25,6 26,1 27,0 28,0 29,0 30,0 31,0 32,0 33,0 34,0 35,0 36,0 37,0 38,0 39,0" stroke="#55A070"/>
<polyline points="0,2 1,13 2,60 3,162 4,265 5,264 6,159 7,58 8,13 9,2 10,0 11,0 12,0 13,0 14,0 15,0 16,0 17,0 18,0 19,0 20,0 21,0 22,0 23,0 24,0 25,0 26,0 27,0 28,0 29,0 30,0 31,0 32,0 33,0 34,0 35,0 36,0 37,0 38,0 39,0" stroke="#C26A1C"/>
<polyline points="0,0 1,0 2,0 3,1 4,7 5,39 6,129 7,264 8,336 9,264 10,129 11,39 12,7 13,1 14,0 15,0 16,0 17,0 18,0 19,0 20,0 21,0 22,0 23,0 24,0 25,0 26,0 27,0 28,0 29,0 30,0 31,0 32,0 33,0 34,0 35,0 36,0 37,0 38,0 39,0" stroke="#6670DC"/>
<polyline points="0,0 1,0 2,0 3,0 4,0 5,0 6,0 7,0 8,0 9,0 10,0 11,0 12,0 13,0 14,0 15,0 16,0 17,0 18,0 19,1 20,10 21,60 22,170 23,177 24,17 25,74 26,140 27,4 28,107 29,201 30,106 31,24 32,3 33,0 34,0 35,0 36,0 37,0 38,0 39,0" stroke="#C8A424"/>
<polyline points="0,225 1,124 2,42 3,8 4,1 5,0 6,0 7,0 8,0 9,0 10,0 11,0 12,0 13,0 14,0 15,0 16,0 17,0 18,0 19,0 20,0 21,0 22,0 23,0 24,0 25,0 26,0 27,0 28,0 29,0 30,0 31,0 32,0 33,0 34,0 35,0 36,0 37,0 38,0 39,0" stroke="#BE48C0"/>
<polyline points="0,0 1,0 2,0 3,0 4,0 5,0 6,1 7,7 8,34 9,105 10,199 11,229 12,159 13,67 14,17 15,3 16,0 17,0 18,0 19,0 20,0 21,0 22,0 23,0 24,0 25,0 26,0 27,0 28,0 29,0 30,0 31,0 32,0 33,0 34,0 35,0 36,0 37,0 38,0 39,0" stroke="#5284B8"/>
<polyline points="0,0 1,1 2,11 3,54 4,132 5,143 6,35 7,16 8,128 9,145 10,68 11,16 12,2 13,0 14,0 15,0 16,0 17,0 18,0 19,0 20,0 21,0 22,0 23,0 24,0 25,0 26,0 27,0 28,0 29,0 30,0 31,0 32,0 33,0 34,0 35,0 36,0 37,0 38,0 39,0" stroke="#EE6A24"/>
<polyline points="0,0 1,0 2,0 3,0 4,0 5,0 6,0 7,0 8,0 9,0 10,0 11,0 12,0 13,0 14,2 15,18 16,69 17,135 18,104 19,7 20,43 21,135 22,111 23,42 24,8 25,1 26,0 27,0 28,0 29,0 30,0 31,0 32,0 33,0 34,0 35,0 36,0 37,0 38,0 39,0" stroke="#8E4EE0"/>
<polyline points="0,39 1,130 2,266 3,338 4,266 5,130 6,39 7,7 8,1 9,0 10,0 11,0 12,0 13,0 14,0 15,0 16,0 17,0 18,0 19,0 20,0 21,0 22,0 23,0 24,0 25,0 26,0 27,0 28,0 29,0 30,0 31,0 32,0 33,0 34,0 35,0 36,0 37,0 38,0 39,0" stroke="#EDA02A"/>
<polyline points="0,0 1,0 2,3 3,25 4,109 5,202 6,103 7,5 8,142 9,70 10,20 11,180 12,167 13,58 14,10 15,1 16,0 17,0 18,0 19,0 20,0 21,0 22,0 23,0 24,0 25,0 26,0 27,0 28,0 29,0 30,0 31,0 32,0 33,0 34,0 35,0 36,0 37,0 38,0 39,0" stroke="#55A070"/>
<polyline points="0,0 1,0 2,0 3,0 4,0 5,0 6,0 7,0 8,0 9,0 10,0 11,0 12,0 13,0 14,0 15,0 16,0 17,0 18,0 19,0 20,0 21,0 22,0 23,0 24,0 25,0 26,0 27,0 28,0 29,0 30,0 31,0 32,0 33,1 34,10 35,59 36,160 37,157 38,11 39,76" stroke="#C26A1C"/>
<polyline points="0,493 1,398 2,333 3,285 4,209 5,124 6,69 7,35 8,0 9,0 10,0 11,0 12,0 13,0 14,0 15,0 16,0 17,0 18,0 19,0 20,0 21,0 22,0 23,0 24,0 25,0 26,0 27,0 28,0 29,0 30,0 31,0 32,0 33,0 34,0 35,0 36,0 37,0 38,0 39,0" stroke="#6670DC"/>
<polyline points="0,0 1,0 2,0 3,0 4,0 5,0 6,0 7,0 8,0 9,0 10,0 11,0 12,1 13,6 14,34 15,120 16,255 17,330 18,259 19,123 20,35 21,6 22,1 23,0 24,0 25,0 26,0 27,0 28,0 29,0 30,0 31,0 32,0 33,0 34,0 35,0 36,0 37,0 38,0 39,0" stroke="#C8A424"/>
<polyline points="0,0 1,0 2,0 3,0 4,0 5,0 6,0 7,0 8,0 9,0 10,0 11,0 12,0 13,0 14,0 15,0 16,0 17,0 18,0 19,0 20,0 21,0 22,0 23,0 24,0 25,0 26,0 27,0 28,0 29,0 30,0 31,0 32,0 33,1 34,7 35,39 36,131 37,268 38,341 39,268" stroke="#BE48C0"/>
<polyline points="0,0 1,0 2,0 3,4 4,30 5,112 6,211 7,154 8,8 9,74 10,210 11,167 12,61 13,12 14,1 15,0 16,0 17,0 18,0 19,0 20,0 21,0 22,0 23,0 24,0 25,0 26,0 27,0 28,0 29,0 30,0 31,0 32,0 33,0 34,0 35,0 36,0 37,0 38,0 39,0" stroke="#5284B8"/>
<polyline points="0,0 1,0 2,0 3,0 4,0 5,0 6,0 7,0 8,0 9,0 10,0 11,0 12,0 13,0 14,0 15,1 16,7 17,36 18,112 19,208 20,236 21,162 22,67 23,17 24,3 25,0 26,0 27,0 28,0 29,0 30,0 31,0 32,0 33,0 34,0 35,0 36,0 37,0 38,0 39,0" stroke="#EE6A24"/>
<polyline points="0,0 1,0 2,0 3,3 4,18 5,74 6,194 7,315 8,316 9,196 10,75 11,18 12,3 13,0 14,0 15,0 16,0 17,0 18,0 19,0 20,0 21,0 22,0 23,0 24,0 25,0 26,0 27,0 28,0 29,0 30,0 31,0 32,0 33,0 34,0 35,0 36,0 37,0 38,0 39,0" stroke="#8E4EE0"/>
<polyline points="0,394 1,334 2,305 3,237 4,168 5,110 6,57 7,33 8,0 9,0 10,0 11,0 12,0 13,0 14,0 15,0 16,0 17,0 18,0 19,0 20,0 21,0 22,0 23,0 24,0 25,0 26,0 27,0 28,0 29,0 30,0 31,0 32,0 33,0 34,0 35,0 36,0 37,0 38,0 39,0" stroke="#EDA02A"/>
<polyline points="0,0 1,0 2,0 3,0 4,0 5,0 6,0 7,0 8,0 9,0 10,0 11,0 12,0 13,1 14,8 15,56 16,169 17,139 18,1 19,129 20,11 21,106 22,24 23,93 24,61 25,42 26,191 27,111 28,23 29,2 30,0 31,0 32,0 33,0 34,0 35,0 36,0 37,0 38,0 39,0" stroke="#55A070"/>
<polyline points="0,0 1,0 2,0 3,0 4,0 5,0 6,0 7,0 8,0 9,0 10,0 11,0 12,0 13,0 14,0 15,0 16,0 17,0 18,0 19,0 20,0 21,0 22,2 23,12 24,58 25,164 26,282 27,294 28,185 29,71 30,16 31,2 32,0 33,0 34,0 35,0 36,0 37,0 38,0 39,0" stroke="#C26A1C"/>
<polyline points="0,0 1,0 2,0 3,0 4,0 5,0 6,0 7,0 8,0 9,0 10,0 11,0 12,0 13,0 14,0 15,0 16,0 17,0 18,0 19,0 20,0 21,0 22,0 23,0 24,0 25,0 26,0 27,0 28,0 29,0 30,0 31,2 32,15 33,66 34,175 35,279 36,271 37,160 38,57 39,12" stroke="#6670DC"/>
<polyline points="0,0 1,0 2,0 3,0 4,0 5,0 6,0 7,0 8,0 9,0 10,0 11,0 12,0 13,0 14,0 15,2 16,15 17,66 18,182 19,303 20,306 21,187 22,69 23,16 24,2 25,0 26,0 27,0 28,0 29,0 30,0 31,0 32,0 33,0 34,0 35,0 36,0 37,0 38,0 39,0" stroke="#C8A424"/>
<polyline points="0,263 1,313 2,231 3,106 4,30 5,5 6,1 7,0 8,0 9,0 10,0 11,0 12,0 13,0 14,0 15,0 16,0 17,0 18,0 19,0 20,0 21,0 22,0 23,0 24,0 25,0 26,0 27,0 28,0 29,0 30,0 31,0 32,0 33,0 34,0 35,0 36,0 37,0 38,0 39,0" stroke="#BE48C0"/>
<polyline points="0,0 1,0 2,0 3,0 4,0 5,0 6,0 7,0 8,0 9,2 10,12 11,52 12,136 13,218 14,212 15,125 16,45 17,10 18,1 19,0 20,0 21,0 22,0 23,0 24,0 25,0 26,0 27,0 28,0 29,0 30,0 31,0 32,0 33,0 34,0 35,0 36,0 37,0 38,0 39,0" stroke="#5284B8"/>
<polyline points="0,0 1,0 2,0 3,0 4,0 5,0 6,0 7,0 8,0 9,0 10,0 11,0 12,0 13,0 14,0 15,0 16,0 17,0 18,0 19,0 20,0 21,0 22,0 23,0 24,0 25,0 26,0 27,0 28,0 29,0 30,0 31,0 32,0 33,0 34,0 35,24 36,70 37,148 38,196 39,116" stroke="#EE6A24"/>
<polyline points="0,440 1,354 2,312 3,243 4,191 5,122 6,74 7,34 8,0 9,0 10,0 11,0 12,0 13,0 14,0 15,0 16,0 17,0 18,0 19,0 20,0 21,0 22,0 23,0 24,0 25,0 26,0 27,0 28,0 29,0 30,0 31,0 32,0 33,0 34,0 35,0 36,0 37,0 38,0 39,0" stroke="#8E4EE0"/>
<polyline points="0,0 1,0 2,0 3,0 4,0 5,0 6,0 7,0 8,0 9,0 10,0 11,0 12,0 13,0 14,0 15,0 16,0 17,0 18,0 19,0 20,0 21,0 22,0 23,0 24,0 25,0 26,0 27,0 28,0 29,0 30,0 31,0 32,0 33,0 34,0 35,42 36,121 37,223 38,334 39,197" stroke="#EDA02A"/>
<polyline points="0,0 1,0 2,0 3,0 4,0 5,0 6,0 7,0 8,0 9,0 10,0 11,0 12,0 13,0 14,0 15,0 16,0 17,0 18,0 19,0 20,0 21,0 22,0 23,0 24,0 25,0 26,0 27,0 28,0 29,0 30,0 31,0 32,0 33,0 34,1 35,10 36,46 37,133 38,235 39,251" stroke="#55A070"/>
<polyline points="0,0 1,0 2,0 3,0 4,0 5,0 6,0 7,0 8,0 9,0 10,0 11,0 12,0 13,0 14,0 15,0 16,0 17,0 18,0 19,0 20,0 21,0 22,0 23,0 24,0 25,0 26,0 27,0 28,0 29,2 30,14 31,59 32,155 33,245 34,235 35,137 36,48 37,10 38,1 39,0" stroke="#C26A1C"/>
<polyline points="0,0 1,0 2,0 3,0 4,0 5,0 6,0 7,0 8,0 9,0 10,0 11,0 12,0 13,0 14,0 15,0 16,0 17,0 18,0 19,0 20,0 21,0 22,0 23,0 24,0 25,0 26,1 27,7 28,36 29,110 30,204 31,228 32,155 33,64 34,16 35,2 36,0 37,0 38,0 39,0" stroke="#6670DC"/>
<polyline points="0,0 1,0 2,0 3,0 4,0 5,0 6,0 7,0 8,0 9,0 10,0 11,0 12,0 13,0 14,0 15,0 16,0 17,0 18,0 19,0 20,0 21,0 22,0 23,0 24,2 25,15 26,67 27,153 28,148 29,27 30,28 31,150 32,152 33,66 34,15 35,2 36,0 37,0 38,0 39,0" stroke="#C8A424"/>
<polyline points="0,0 1,0 2,0 3,0 4,0 5,0 6,0 7,0 8,0 9,0 10,0 11,0 12,0 13,0 14,0 15,0 16,0 17,0 18,0 19,0 20,1 21,7 22,40 23,133 24,273 25,347 26,273 27,133 28,40 29,7 30,1 31,0 32,0 33,0 34,0 35,0 36,0 37,0 38,0 39,0" stroke="#BE48C0"/>
<polyline points="0,0 1,0 2,0 3,0 4,0 5,0 6,0 7,0 8,0 9,0 10,0 11,0 12,0 13,0 14,0 15,0 16,0 17,0 18,0 19,0 20,0 21,0 22,0 23,0 24,0 25,0 26,1 27,6 28,35 29,119 30,247 31,310 32,236 33,109 34,31 35,5 36,1 37,0 38,0 39,0" stroke="#5284B8"/>
<polyline points="0,445 1,372 2,313 3,273 4,189 5,124 6,65 7,35 8,0 9,0 10,0 11,0 12,0 13,0 14,0 15,0 16,0 17,0 18,0 19,0 20,0 21,0 22,0 23,0 24,0 25,0 26,0 27,0 28,0 29,0 30,0 31,0 32,0 33,0 34,0 35,0 36,0 37,0 38,0 39,0" stroke="#EE6A24"/>
<polyline points="0,0 1,0 2,0 3,0 4,0 5,0 6,0 7,0 8,0 9,0 10,0 11,0 12,0 13,0 14,0 15,0 16,0 17,4 18,26 19,92 20,202 21,268 22,216 23,106 24,31 25,6 26,1 27,0 28,0 29,0 30,0 31,0 32,0 33,0 34,0 35,0 36,0 37,0 38,0 39,0" stroke="#8E4EE0"/>
<polyline points="0,0 1,0 2,0 3,0 4,0 5,0 6,0 7,0 8,0 9,0 10,0 11,0 12,0 13,0 14,0 15,0 16,0 17,0 18,0 19,0 20,0 21,0 22,0 23,0 24,0 25,0 26,0 27,0 28,0 29,0 30,0 31,0 32,2 33,12 34,53 35,144 36,239 37,240 38,147 39,54" stroke="#EDA02A"/>
<polyline points="0,0 1,0 2,0 3,0 4,0 5,0 6,0 7,0 8,0 9,0 10,0 11,0 12,0 13,0 14,1 15,8 16,39 17,110 18,190 19,199 20,126 21,49 22,11 23,2 24,0 25,0 26,0 27,0 28,0 29,0 30,0 31,0 32,0 33,0 34,0 35,0 36,0 37,0 38,0 39,0" stroke="#55A070"/>
<polyline points="0,0 1,0 2,0 3,0 4,0 5,0 6,0 7,0 8,0 9,0 10,0 11,0 12,0 13,1 14,8 15,40 16,134 17,275 18,350 19,275 20,134 21,40 22,8 23,1 24,0 25,0 26,0 27,0 28,0 29,0 30,0 31,0 32,0 33,0 34,0 35,0 36,0 37,0 38,0 39,0" stroke="#C26A1C"/>
<polyline points="0,0 1,0 2,1 3,8 4,41 5,136 6,279 7,355 8,279 9,136 10,41 11,8 12,1 13,0 14,0 15,0 16,0 17,0 18,0 19,0 20,0 21,0 22,0 23,0 24,0 25,0 26,0 27,0 28,0 29,0 30,0 31,0 32,0 33,0 34,0 35,0 36,0 37,0 38,0 39,0" stroke="#6670DC"/>
<polyline points="0,0 1,0 2,0 3,0 4,0 5,0 6,0 7,0 8,0 9,0 10,0 11,0 12,0 13,0 14,0 15,0 16,0 17,0 18,0 19,0 20,0 21,0 22,0 23,0 24,0 25,0 26,0 27,0 28,0 29,0 30,0 31,0 32,0 33,0 34,2 35,16 36,69 37,178 38,277 39,262" stroke="#C8A424"/>
<polyline points="0,334 1,229 2,97 3,25 4,4 5,0 6,0 7,0 8,0 9,0 10,0 11,0 12,0 13,0 14,0 15,0 16,0 17,0 18,0 19,0 20,0 21,0 22,0 23,0 24,0 25,0 26,0 27,0 28,0 29,0 30,0 31,0 32,0 33,0 34,0 35,0 36,0 37,0 38,0 39,0" stroke="#BE48C0"/>
<polyline points="0,148 1,61 2,2 3,97 4,148 5,84 6,23 7,4 8,0 9,0 10,0 11,0 12,0 13,0 14,0 15,0 16,0 17,0 18,0 19,0 20,0 21,0 22,0 23,0 24,0 25,0 26,0 27,0 28,0 29,0 30,0 31,0 32,0 33,0 34,0 35,0 36,0 37,0 38,0 39,0" stroke="#5284B8"/>
<polyline points="0,0 1,0 2,0 3,0 4,0 5,0 6,0 7,0 8,0 9,0 10,0 11,0 12,0 13,0 14,0 15,0 16,0 17,0 18,0 19,1 20,9 21,43 22,126 23,222 24,237 25,153 26,60 27,14 28,2 29,0 30,0 31,0 32,0 33,0 34,0 35,0 36,0 37,0 38,0 39,0" stroke="#EE6A24"/>
<polyline points="0,212 1,313 2,287 3,163 4,57 5,12 6,2 7,0 8,0 9,0 10,0 11,0 12,0 13,0 14,0 15,0 16,0 17,0 18,0 19,0 20,0 21,0 22,0 23,0 24,0 25,0 26,0 27,0 28,0 29,0 30,0 31,0 32,0 33,0 34,0 35,0 36,0 37,0 38,0 39,0" stroke="#8E4EE0"/>
<polyline points="0,0 1,0 2,0 3,0 4,0 5,0 6,0 7,0 8,0 9,0 10,0 11,0 12,0 13,0 14,0 15,0 16,0 17,0 18,0 19,0 20,0 21,0 22,0 23,0 24,0 25,0 26,0 27,0 28,0 29,0 30,0 31,0 32,0 33,2 34,16 35,76 36,155 37,95 38,1 39,102" stroke="#EDA02A"/>
<polyline points="0,3 1,19 2,77 3,197 4,312 5,307 6,186 7,70 8,16 9,2 10,0 11,0 12,0 13,0 14,0 15,0 16,0 17,0 18,0 19,0 20,0 21,0 22,0 23,0 24,0 25,0 26,0 27,0 28,0 29,0 30,0 31,0 32,0 33,0 34,0 35,0 36,0 37,0 38,0 39,0" stroke="#55A070"/>
<polyline points="0,329 1,227 2,97 3,26 4,4 5,0 6,0 7,0 8,0 9,0 10,0 11,0 12,0 13,0 14,0 15,0 16,0 17,0 18,0 19,0 20,0 21,0 22,0 23,0 24,0 25,0 26,0 27,0 28,0 29,0 30,0 31,0 32,0 33,0 34,0 35,0 36,0 37,0 38,0 39,0" stroke="#C26A1C"/>
<polyline points="0,3 1,21 2,83 3,205 4,315 5,299 6,176 7,64 8,14 9,2 10,0 11,0 12,0 13,0 14,0 15,0 16,0 17,0 18,0 19,0 20,0 21,0 22,0 23,0 24,0 25,0 26,0 27,0 28,0 29,0 30,0 31,0 32,0 33,0 34,0 35,0 36,0 37,0 38,0 39,0" stroke="#6670DC"/>
<polyline points="0,263 1,334 2,263 3,128 4,39 5,7 6,1 7,0 8,0 9,0 10,0 11,0 12,0 13,0 14,0 15,0 16,0 17,0 18,0 19,0 20,0 21,0 22,0 23,0 24,0 25,0 26,0 27,0 28,0 29,0 30,0 31,0 32,0 33,0 34,0 35,0 36,0 37,0 38,0 39,0" stroke="#C8A424"/>
<polyline points="0,441 1,250 2,141 3,56 4,19 5,0 6,0 7,0 8,0 9,0 10,0 11,0 12,0 13,0 14,0 15,0 16,0 17,0 18,0 19,0 20,0 21,0 22,0 23,0 24,0 25,0 26,0 27,0 28,0 29,0 30,0 31,0 32,0 33,0 34,0 35,0 36,0 37,0 38,0 39,0" stroke="#BE48C0"/>
<polyline points="0,7 1,40 2,132 3,271 4,345 5,271 6,132 7,40 8,7 9,1 10,0 11,0 12,0 13,0 14,0 15,0 16,0 17,0 18,0 19,0 20,0 21,0 22,0 23,0 24,0 25,0 26,0 27,0 28,0 29,0 30,0 31,0 32,0 33,0 34,0 35,0 36,0 37,0 38,0 39,0" stroke="#5284B8"/>
<polyline points="0,0 1,0 2,0 3,0 4,0 5,0 6,0 7,0 8,0 9,0 10,0 11,0 12,0 13,0 14,0 15,0 16,0 17,0 18,3 19,22 20,86 21,207 22,300 23,264 24,141 25,46 26,9 27,1 28,0 29,0 30,0 31,0 32,0 33,0 34,0 35,0 36,0 37,0 38,0 39,0" stroke="#EE6A24"/>
<polyline points="0,0 1,0 2,0 3,0 4,0 5,0 6,0 7,0 8,0 9,0 10,0 11,0 12,0 13,0 14,0 15,0 16,0 17,0 18,0 19,0 20,0 21,0 22,0 23,0 24,0 25,0 26,0 27,0 28,0 29,0 30,0 31,0 32,3 33,22 34,83 35,133 36,49 37,12 38,100 39,30" stroke="#8E4EE0"/>
<polyline points="0,0 1,0 2,0 3,0 4,0 5,0 6,0 7,0 8,0 9,0 10,0 11,0 12,0 13,0 14,0 15,0 16,0 17,0 18,0 19,0 20,0 21,0 22,0 23,0 24,0 25,0 26,0 27,0 28,0 29,0 30,0 31,0 32,0 33,0 34,0 35,0 36,1 37,7 38,34 39,108" stroke="#EDA02A"/>
<polyline points="0,1 1,8 2,43 3,122 4,157 5,58 6,5 7,111 8,158 9,86 10,23 11,3 12,0 13,0 14,0 15,0 16,0 17,0 18,0 19,0 20,0 21,0 22,0 23,0 24,0 25,0 26,0 27,0 28,0 29,0 30,0 31,0 32,0 33,0 34,0 35,0 36,0 37,0 38,0 39,0" stroke="#55A070"/>
<polyline points="0,0 1,0 2,0 3,0 4,0 5,0 6,0 7,0 8,0 9,1 10,12 11,57 12,119 13,76 14,0 15,78 16,55 17,5 18,100 19,109 20,42 21,8 22,1 23,0 24,0 25,0 26,0 27,0 28,0 29,0 30,0 31,0 32,0 33,0 34,0 35,0 36,0 37,0 38,0 39,0" stroke="#C26A1C"/>
<polyline points="0,0 1,0 2,0 3,0 4,0 5,0 6,0 7,0 8,0 9,0 10,0 11,0 12,0 13,0 14,0 15,0 16,0 17,2 18,13 19,66 20,165 21,186 22,50 23,17 24,158 25,187 26,91 27,22 28,3 29,0 30,0 31,0 32,0 33,0 34,0 35,0 36,0 37,0 38,0 39,0" stroke="#6670DC"/>
<polyline points="0,0 1,0 2,0 3,0 4,0 5,0 6,0 7,0 8,0 9,0 10,0 11,0 12,0 13,0 14,0 15,0 16,0 17,1 18,7 19,41 20,125 21,179 22,81 23,1 24,108 25,179 26,107 27,31 28,5 29,0 30,0 31,0 32,0 33,0 34,0 35,0 36,0 37,0 38,0 39,0" stroke="#C8A424"/>
<polyline points="0,0 1,0 2,0 3,0 4,0 5,0 6,0 7,0 8,0 9,0 10,0 11,0 12,0 13,0 14,0 15,0 16,0 17,0 18,0 19,0 20,0 21,0 22,0 23,0 24,1 25,10 26,47 27,143 28,260 29,288 30,193 31,79 32,19 33,3 34,0 35,0 36,0 37,0 38,0 39,0" stroke="#BE48C0"/>
<polyline points="0,127 1,45 2,10 3,1 4,0 5,0 6,0 7,0 8,0 9,0 10,0 11,0 12,0 13,0 14,0 15,0 16,0 17,0 18,0 19,0 20,0 21,0 22,0 23,0 24,0 25,0 26,0 27,0 28,0 29,0 30,0 31,0 32,0 33,0 34,0 35,0 36,0 37,0 38,0 39,0" stroke="#5284B8"/>
<polyline points="0,0 1,1 2,8 3,40 4,134 5,276 6,350 7,276 8,134 9,40 10,8 11,1 12,0 13,0 14,0 15,0 16,0 17,0 18,0 19,0 20,0 21,0 22,0 23,0 24,0 25,0 26,0 27,0 28,0 29,0 30,0 31,0 32,0 33,0 34,0 35,0 36,0 37,0 38,0 39,0" stroke="#EE6A24"/>
<polyline points="0,0 1,0 2,0 3,0 4,0 5,0 6,0 7,0 8,0 9,0 10,0 11,0 12,0 13,0 14,2 15,16 16,81 17,194 18,157 19,3 20,110 21,121 22,1 23,146 24,199 25,88 26,18 27,2 28,0 29,0 30,0 31,0 32,0 33,0 34,0 35,0 36,0 37,0 38,0 39,0" stroke="#8E4EE0"/>
<polyline points="0,0 1,0 2,0 3,0 4,0 5,0 6,0 7,0 8,0 9,0 10,0 11,0 12,0 13,0 14,0 15,0 16,0 17,0 18,0 19,0 20,0 21,0 22,0 23,0 24,0 25,0 26,0 27,0 28,0 29,0 30,0 31,0 32,0 33,0 34,0 35,20 36,64 37,123 38,173 39,114" stroke="#EDA02A"/>
<polyline points="0,0 1,0 2,0 3,0 4,0 5,0 6,0 7,0 8,0 9,0 10,0 11,0 12,0 13,0 14,0 15,0 16,0 17,1 18,10 19,49 20,147 21,273 22,315 23,225 24,99 25,27 26,5 27,0 28,0 29,0 30,0 31,0 32,0 33,0 34,0 35,0 36,0 37,0 38,0 39,0" stroke="#55A070"/>
<polyline points="0,2 1,77 2,6 3,85 4,0 5,111 6,103 7,27 8,3 9,0 10,0 11,0 12,0 13,0 14,0 15,0 16,0 17,0 18,0 19,0 20,0 21,0 22,0 23,0 24,0 25,0 26,0 27,0 28,0 29,0 30,0 31,0 32,0 33,0 34,0 35,0 36,0 37,0 38,0 39,0" stroke="#C26A1C"/>
<polyline points="0,435 1,355 2,281 3,225 4,169 5,105 6,62 7,32 8,0 9,0 10,0 11,0 12,0 13,0 14,0 15,0 16,0 17,0 18,0 19,0 20,0 21,0 22,0 23,0 24,0 25,0 26,0 27,0 28,0 29,0 30,0 31,0 32,0 33,0 34,0 35,0 36,0 37,0 38,0 39,0" stroke="#6670DC"/>
<polyline points="0,1 1,92 2,60 3,7 4,117 5,123 6,46 7,8 8,1 9,0 10,0 11,0 12,0 13,0 14,0 15,0 16,0 17,0 18,0 19,0 20,0 21,0 22,0 23,0 24,0 25,0 26,0 27,0 28,0 29,0 30,0 31,0 32,0 33,0 34,0 35,0 36,0 37,0 38,0 39,0" stroke="#C8A424"/>
<polyline points="0,0 1,0 2,0 3,0 4,0 5,0 6,0 7,0 8,0 9,0 10,0 11,0 12,0 13,0 14,0 15,0 16,0 17,0 18,0 19,0 20,0 21,0 22,0 23,0 24,0 25,0 26,0 27,0 28,0 29,0 30,0 31,0 32,0 33,1 34,12 35,57 36,167 37,295 38,317 39,206" stroke="#BE48C0"/>
<polyline points="0,0 1,0 2,0 3,0 4,0 5,0 6,4 7,24 8,90 9,204 10,282 11,236 12,120 13,37 14,7 15,1 16,0 17,0 18,0 19,0 20,0 21,0 22,0 23,0 24,0 25,0 26,0 27,0 28,0 29,0 30,0 31,0 32,0 33,0 34,0 35,0 36,0 37,0 38,0 39,0" stroke="#5284B8"/>
<polyline points="0,0 1,0 2,0 3,0 4,0 5,0 6,0 7,0 8,0 9,0 10,0 11,0 12,0 13,0 14,0 15,0 16,0 17,0 18,2 19,15 20,60 21,143 22,207 23,181 24,96 25,31 26,6 27,1 28,0 29,0 30,0 31,0 32,0 33,0 34,0 35,0 36,0 37,0 38,0 39,0" stroke="#EE6A24"/>
<polyline points="0,0 1,0 2,0 3,0 4,0 5,0 6,0 7,0 8,0 9,0 10,0 11,0 12,0 13,0 14,0 15,0 16,1 17,8 18,58 19,164 20,100 21,13 22,112 23,4 24,101 25,11 26,90 27,21 28,103 29,6 30,160 31,124 32,29 33,3 34,0 35,0 36,0 37,0 38,0 39,0" stroke="#8E4EE0"/>
<polyline points="0,0 1,0 2,0 3,0 4,0 5,0 6,0 7,0 8,1 9,7 10,40 11,132 12,271 13,344 14,271 15,132 16,40 17,7 18,1 19,0 20,0 21,0 22,0 23,0 24,0 25,0 26,0 27,0 28,0 29,0 30,0 31,0 32,0 33,0 34,0 35,0 36,0 37,0 38,0 39,0" stroke="#EDA02A"/>
<polyline points="0,0 1,0 2,0 3,0 4,0 5,0 6,4 7,23 8,85 9,194 10,268 11,224 12,113 13,35 14,6 15,1 16,0 17,0 18,0 19,0 20,0 21,0 22,0 23,0 24,0 25,0 26,0 27,0 28,0 29,0 30,0 31,0 32,0 33,0 34,0 35,0 36,0 37,0 38,0 39,0" stroke="#55A070"/>
<polyline points="0,143 1,53 2,31 3,74 4,20 5,64 6,31 7,51 8,42 9,63 10,21 11,142 12,84 13,16 14,1 15,0 16,0 17,0 18,0 19,0 20,0 21,0 22,0 23,0 24,0 25,0 26,0 27,0 28,0 29,0 30,0 31,0 32,0 33,0 34,0 35,0 36,0 37,0 38,0 39,0" stroke="#C26A1C"/>
<polyline points="0,0 1,0 2,0 3,0 4,0 5,0 6,1 7,7 8,38 9,125 10,257 11,326 12,257 13,125 14,38 15,7 16,1 17,0 18,0 19,0 20,0 21,0 22,0 23,0 24,0 25,0 26,0 27,0 28,0 29,0 30,0 31,0 32,0 33,0 34,0 35,0 36,0 37,0 38,0 39,0" stroke="#6670DC"/>
<polyline points="0,0 1,0 2,0 3,0 4,0 5,0 6,0 7,0 8,0 9,0 10,0 11,0 12,0 13,0 14,0 15,0 16,0 17,0 18,0 19,0 20,1 21,9 22,47 23,139 24,250 25,274 26,182 27,73 28,18 29,3 30,0 31,0 32,0 33,0 34,0 35,0 36,0 37,0 38,0 39,0" stroke="#C8A424"/>
<polyline points="0,0 1,0 2,0 3,0 4,0 5,0 6,0 7,0 8,0 9,0 10,0 11,0 12,0 13,0 14,0 15,0 16,0 17,0 18,0 19,0 20,0 21,0 22,0 23,0 24,0 25,0 26,0 27,0 28,0 29,0 30,1 31,10 32,51 33,149 34,267 35,290 36,191 37,76 38,18 39,3" stroke="#BE48C0"/>
<polyline points="0,0 1,0 2,0 3,0 4,0 5,0 6,0 7,0 8,0 9,0 10,0 11,0 12,0 13,0 14,0 15,3 16,21 17,82 18,190 19,268 20,230 21,120 22,38 23,7 24,1 25,0 26,0 27,0 28,0 29,0 30,0 31,0 32,0 33,0 34,0 35,0 36,0 37,0 38,0 39,0" stroke="#5284B8"/>
<polyline points="0,0 1,0 2,0 3,0 4,0 5,0 6,0 7,0 8,0 9,0 10,2 11,15 12,65 13,127 14,71 15,1 16,87 17,50 18,9 19,111 20,109 21,40 22,7 23,1 24,0 25,0 26,0 27,0 28,0 29,0 30,0 31,0 32,0 33,0 34,0 35,0 36,0 37,0 38,0 39,0" stroke="#EE6A24"/>
<polyline points="0,0 1,0 2,0 3,0 4,0 5,0 6,0 7,0 8,0 9,0 10,0 11,0 12,0 13,0 14,0 15,0 16,0 17,0 18,0 19,0 20,0 21,0 22,0 23,3 24,20 25,79 26,194 27,289 28,261 29,143 30,48 31,10 32,1 33,0 34,0 35,0 36,0 37,0 38,0 39,0" stroke="#8E4EE0"/>
<polyline points="0,0 1,0 2,0 3,0 4,0 5,0 6,0 7,0 8,0 9,0 10,0 11,0 12,0 13,0 14,0 15,0 16,0 17,4 18,25 19,93 20,218 21,314 22,280 23,155 24,53 25,11 26,1 27,0 28,0 29,0 30,0 31,0 32,0 33,0 34,0 35,0 36,0 37,0 38,0 39,0" stroke="#EDA02A"/>
<polyline points="0,95 1,201 2,175 3,21 4,50 5,199 6,182 7,73 8,15 9,2 10,0 11,0 12,0 13,0 14,0 15,0 16,0 17,0 18,0 19,0 20,0 21,0 22,0 23,0 24,0 25,0 26,0 27,0 28,0 29,0 30,0 31,0 32,0 33,0 34,0 35,0 36,0 37,0 38,0 39,0" stroke="#55A070"/>
<polyline points="0,0 1,0 2,0 3,0 4,0 5,0 6,0 7,0 8,0 9,0 10,0 11,0 12,0 13,0 14,0 15,0 16,0 17,0 18,0 19,0 20,0 21,0 22,0 23,0 24,0 25,0 26,0 27,0 28,0 29,0 30,0 31,0 32,1 33,7 34,39 35,130 36,267 37,339 38,267 39,130" stroke="#C26A1C"/>
<polyline points="0,0 1,0 2,0 3,0 4,0 5,0 6,0 7,0 8,0 9,0 10,0 11,0 12,0 13,0 14,0 15,0 16,0 17,0 18,0 19,0 20,0 21,0 22,0 23,0 24,0 25,0 26,0 27,0 28,0 29,0 30,0 31,0 32,0 33,0 34,0 35,3 36,19 37,70 38,158 39,215" stroke="#6670DC"/>
<polyline points="0,398 1,233 2,126 3,46 4,16 5,0 6,0 7,0 8,0 9,0 10,0 11,0 12,0 13,0 14,0 15,0 16,0 17,0 18,0 19,0 20,0 21,0 22,0 23,0 24,0 25,0 26,0 27,0 28,0 29,0 30,0 31,0 32,0 33,0 34,0 35,0 36,0 37,0 38,0 39,0" stroke="#C8A424"/>
<polyline points="0,0 1,0 2,0 3,0 4,0 5,0 6,0 7,0 8,0 9,0 10,0 11,0 12,0 13,0 14,0 15,0 16,0 17,0 18,0 19,0 20,0 21,0 22,0 23,4 24,20 25,72 26,155 27,201 28,159 29,76 30,22 31,4 32,0 33,0 34,0 35,0 36,0 37,0 38,0 39,0" stroke="#BE48C0"/>
<polyline points="0,97 1,144 2,70 3,0 4,82 5,144 6,89 7,27 8,4 9,0 10,0 11,0 12,0 13,0 14,0 15,0 16,0 17,0 18,0 19,0 20,0 21,0 22,0 23,0 24,0 25,0 26,0 27,0 28,0 29,0 30,0 31,0 32,0 33,0 34,0 35,0 36,0 37,0 38,0 39,0" stroke="#5284B8"/>
<polyline points="0,234 1,109 2,31 3,5 4,1 5,0 6,0 7,0 8,0 9,0 10,0 11,0 12,0 13,0 14,0 15,0 16,0 17,0 18,0 19,0 20,0 21,0 22,0 23,0 24,0 25,0 26,0 27,0 28,0 29,0 30,0 31,0 32,0 33,0 34,0 35,0 36,0 37,0 38,0 39,0" stroke="#EE6A24"/>
<polyline points="0,0 1,0 2,0 3,0 4,0 5,0 6,0 7,0 8,0 9,0 10,1 11,8 12,41 13,135 14,276 15,351 16,276 17,135 18,41 19,8 20,1 21,0 22,0 23,0 24,0 25,0 26,0 27,0 28,0 29,0 30,0 31,0 32,0 33,0 34,0 35,0 36,0 37,0 38,0 39,0" stroke="#8E4EE0"/>
<polyline points="0,0 1,0 2,0 3,0 4,0 5,0 6,0 7,0 8,0 9,0 10,0 11,0 12,0 13,0 14,0 15,0 16,0 17,0 18,0 19,0 20,0 21,0 22,0 23,0 24,0 25,2 26,20 27,94 28,197 29,126 30,0 31,128 32,92 33,8 34,164 35,180 36,70 37,13 38,1 39,0" stroke="#EDA02A"/>
<polyline points="0,0 1,1 2,5 3,28 4,101 5,223 6,305 7,259 8,136 9,44 10,9 11,1 12,0 13,0 14,0 15,0 16,0 17,0 18,0 19,0 20,0 21,0 22,0 23,0 24,0 25,0 26,0 27,0 28,0 29,0 30,0 31,0 32,0 33,0 34,0 35,0 36,0 37,0 38,0 39,0" stroke="#55A070"/>
<polyline points="0,0 1,0 2,0 3,0 4,0 5,0 6,0 7,0 8,0 9,0 10,0 11,0 12,0 13,0 14,0 15,0 16,0 17,0 18,0 19,0 20,0 21,0 22,0 23,0 24,0 25,0 26,0 27,0 28,0 29,0 30,0 31,0 32,0 33,0 34,0 35,0 36,1 37,8 38,41 39,122" stroke="#C26A1C"/>
<polyline points="0,0 1,0 2,0 3,0 4,1 5,7 6,40 7,133 8,273 9,347 10,273 11,133 12,40 13,7 14,1 15,0 16,0 17,0 18,0 19,0 20,0 21,0 22,0 23,0 24,0 25,0 26,0 27,0 28,0 29,0 30,0 31,0 32,0 33,0 34,0 35,0 36,0 37,0 38,0 39,0" stroke="#6670DC"/>
<polyline points="0,0 1,0 2,0 3,1 4,12 5,66 6,134 7,48 8,26 9,80 10,5 11,84 12,1 13,92 14,6 15,80 16,127 17,48 18,7 19,1 20,0 21,0 22,0 23,0 24,0 25,0 26,0 27,0 28,0 29,0 30,0 31,0 32,0 33,0 34,0 35,0 36,0 37,0 38,0 39,0" stroke="#C8A424"/>
<polyline points="0,0 1,0 2,0 3,0 4,0 5,0 6,0 7,0 8,0 9,0 10,0 11,0 12,0 13,0 14,0 15,0 16,0 17,0 18,0 19,0 20,0 21,0 22,0 23,0 24,0 25,0 26,0 27,0 28,1 29,13 30,62 31,154 32,169 33,43 34,17 35,147 36,171 37,82 38,20 39,3" stroke="#BE48C0"/>
<polyline points="0,0 1,0 2,0 3,0 4,0 5,0 6,0 7,0 8,0 9,0 10,0 11,0 12,1 13,5 14,27 15,90 16,185 17,231 18,174 19,80 20,22 21,4 22,0 23,0 24,0 25,0 26,0 27,0 28,0 29,0 30,0 31,0 32,0 33,0 34,0 35,0 36,0 37,0 38,0 39,0" stroke="#5284B8"/>
<polyline points="0,0 1,0 2,0 3,0 4,0 5,0 6,0 7,0 8,0 9,0 10,0 11,0 12,0 13,0 14,0 15,0 16,0 17,0 18,0 19,0 20,0 21,0 22,0 23,0 24,0 25,1 26,8 27,40 28,134 29,275 30,349 31,275 32,134 33,40 34,8 35,1 36,0 37,0 38,0 39,0" stroke="#EE6A24"/>
<polyline points="0,0 1,0 2,0 3,0 4,0 5,0 6,0 7,0 8,0 9,0 10,0 11,0 12,0 13,0 14,0 15,1 16,6 17,35 18,114 19,175 20,91 21,0 22,94 23,175 24,112 25,34 26,6 27,1 28,0 29,0 30,0 31,0 32,0 33,0 34,0 35,0 36,0 37,0 38,0 39,0" stroke="#8E4EE0"/>
<polyline points="0,0 1,0 2,0 3,0 4,1 5,11 6,46 7,122 8,195 9,190 10,112 11,40 12,9 13,1 14,0 15,0 16,0 17,0 18,0 19,0 20,0 21,0 22,0 23,0 24,0 25,0 26,0 27,0 28,0 29,0 30,0 31,0 32,0 33,0 34,0 35,0 36,0 37,0 38,0 39,0" stroke="#EDA02A"/>
<polyline points="0,454 1,397 2,359 3,254 4,204 5,130 6,67 7,34 8,0 9,0 10,0 11,0 12,0 13,0 14,0 15,0 16,0 17,0 18,0 19,0 20,0 21,0 22,0 23,0 24,0 25,0 26,0 27,0 28,0 29,0 30,0 31,0 32,0 33,0 34,0 35,0 36,0 37,0 38,0 39,0" stroke="#55A070"/>
<polyline points="0,7 1,43 2,130 3,153 4,24 5,47 6,121 7,8 8,72 9,166 10,96 11,24 12,3 13,0 14,0 15,0 16,0 17,0 18,0 19,0 20,0 21,0 22,0 23,0 24,0 25,0 26,0 27,0 28,0 29,0 30,0 31,0 32,0 33,0 34,0 35,0 36,0 37,0 38,0 39,0" stroke="#C26A1C"/>
<polyline points="0,0 1,0 2,0 3,0 4,0 5,0 6,0 7,0 8,0 9,0 10,0 11,0 12,0 13,0 14,0 15,0 16,0 17,0 18,0 19,0 20,0 21,2 22,15 23,65 24,126 25,69 26,2 27,87 28,48 29,10 30,110 31,108 32,39 33,7 34,1 35,0 36,0 37,0 38,0 39,0" stroke="#6670DC"/>
<polyline points="0,0 1,0 2,0 3,0 4,0 5,0 6,0 7,1 8,5 9,29 10,93 11,184 12,220 13,159 14,70 15,19 16,3 17,0 18,0 19,0 20,0 21,0 22,0 23,0 24,0 25,0 26,0 27,0 28,0 29,0 30,0 31,0 32,0 33,0 34,0 35,0 36,0 37,0 38,0 39,0" stroke="#C8A424"/>
<polyline points="0,0 1,0 2,0 3,0 4,0 5,0 6,0 7,0 8,0 9,0 10,0 11,0 12,0 13,0 14,0 15,0 16,0 17,0 18,0 19,3 20,21 21,76 22,170 23,229 24,188 25,93 26,28 27,5 28,1 29,0 30,0 31,0 32,0 33,0 34,0 35,0 36,0 37,0 38,0 39,0" stroke="#BE48C0"/>
<polyline points="0,0 1,0 2,0 3,0 4,0 5,0 6,0 7,0 8,0 9,0 10,0 11,0 12,0 13,0 14,0 15,0 16,0 17,0 18,0 19,0 20,2 21,15 22,63 23,164 24,260 25,249 26,145 27,51 28,11 29,1 30,0 31,0 32,0 33,0 34,0 35,0 36,0 37,0 38,0 39,0" stroke="#5284B8"/>
<polyline points="0,0 1,0 2,0 3,0 4,0 5,0 6,0 7,0 8,0 9,0 10,0 11,0 12,0 13,0 14,0 15,0 16,0 17,0 18,0 19,1 20,7 21,40 22,133 23,212 24,117 25,0 26,107 27,212 28,140 29,44 30,7 31,1 32,0 33,0 34,0 35,0 36,0 37,0 38,0 39,0" stroke="#EE6A24"/>
<polyline points="0,0 1,0 2,0 3,0 4,0 5,0 6,0 7,0 8,0 9,0 10,0 11,0 12,0 13,0 14,0 15,1 16,10 17,56 18,135 19,88 20,2 21,98 22,19 23,58 24,71 25,7 26,124 27,114 28,35 29,5 30,0 31,0 32,0 33,0 34,0 35,0 36,0 37,0 38,0 39,0" stroke="#8E4EE0"/>
<polyline points="0,0 1,0 2,0 3,0 4,0 5,0 6,0 7,0 8,0 9,0 10,0 11,0 12,0 13,0 14,0 15,0 16,0 17,0 18,0 19,0 20,0 21,0 22,1 23,9 24,53 25,157 26,219 27,95 28,2 29,138 30,219 31,128 32,36 33,6 34,0 35,0 36,0 37,0 38,0 39,0" stroke="#EDA02A"/>
<polyline points="0,7 1,39 2,128 3,251 4,300 5,217 6,95 7,25 8,4 9,0 10,0 11,0 12,0 13,0 14,0 15,0 16,0 17,0 18,0 19,0 20,0 21,0 22,0 23,0 24,0 25,0 26,0 27,0 28,0 29,0 30,0 31,0 32,0 33,0 34,0 35,0 36,0 37,0 38,0 39,0" stroke="#55A070"/>
<polyline points="0,26 1,100 2,234 3,339 4,304 5,169 6,58 7,12 8,2 9,0 10,0 11,0 12,0 13,0 14,0 15,0 16,0 17,0 18,0 19,0 20,0 21,0 22,0 23,0 24,0 25,0 26,0 27,0 28,0 29,0 30,0 31,0 32,0 33,0 34,0 35,0 36,0 37,0 38,0 39,0" stroke="#C26A1C"/>
<polyline points="0,160 1,16 2,55 3,194 4,169 5,66 6,13 7,1 8,0 9,0 10,0 11,0 12,0 13,0 14,0 15,0 16,0 17,0 18,0 19,0 20,0 21,0 22,0 23,0 24,0 25,0 26,0 27,0 28,0 29,0 30,0 31,0 32,0 33,0 34,0 35,0 36,0 37,0 38,0 39,0" stroke="#6670DC"/>
<polyline points="0,0 1,0 2,0 3,0 4,0 5,0 6,0 7,0 8,0 9,0 10,0 11,0 12,0 13,1 14,8 15,50 16,160 17,203 18,40 19,50 20,160 21,17 22,81 23,213 24,132 25,34 26,4 27,0 28,0 29,0 30,0 31,0 32,0 33,0 34,0 35,0 36,0 37,0 38,0 39,0" stroke="#C8A424"/>
<polyline points="0,0 1,0 2,0 3,0 4,0 5,0 6,0 7,0 8,0 9,0 10,0 11,0 12,0 13,1 14,8 15,41 16,135 17,277 18,353 19,277 20,135 21,41 22,8 23,1 24,0 25,0 26,0 27,0 28,0 29,0 30,0 31,0 32,0 33,0 34,0 35,0 36,0 37,0 38,0 39,0" stroke="#BE48C0"/>
<polyline points="0,0 1,0 2,0 3,0 4,0 5,0 6,0 7,0 8,0 9,0 10,0 11,0 12,0 13,0 14,0 15,0 16,0 17,0 18,0 19,0 20,0 21,0 22,0 23,0 24,0 25,0 26,0 27,0 28,0 29,0 30,2 31,13 32,56 33,141 34,214 35,199 36,112 37,38 38,8 39,1" stroke="#5284B8"/>
<polyline points="0,0 1,0 2,0 3,0 4,0 5,0 6,0 7,0 8,0 9,0 10,0 11,0 12,0 13,0 14,1 15,6 16,34 17,119 18,259 19,349 20,291 21,150 22,48 23,10 24,1 25,0 26,0 27,0 28,0 29,0 30,0 31,0 32,0 33,0 34,0 35,0 36,0 37,0 38,0 39,0" stroke="#EE6A24"/>
<polyline points="0,0 1,0 2,0 3,0 4,0 5,0 6,0 7,0 8,0 9,0 10,0 11,0 12,0 13,0 14,0 15,0 16,0 17,0 18,0 19,0 20,0 21,3 22,17 23,65 24,153 25,217 26,186 27,97 28,31 29,6 30,1 31,0 32,0 33,0 34,0 35,0 36,0 37,0 38,0 39,0" stroke="#8E4EE0"/>
<polyline points="0,0 1,0 2,0 3,0 4,0 5,0 6,0 7,0 8,0 9,0 10,0 11,0 12,2 13,11 14,54 15,158 16,286 17,320 18,222 19,95 20,25 21,4 22,0 23,0 24,0 25,0 26,0 27,0 28,0 29,0 30,0 31,0 32,0 33,0 34,0 35,0 36,0 37,0 38,0 39,0" stroke="#EDA02A"/>
<polyline points="0,0 1,4 2,24 3,88 4,194 5,259 6,210 7,103 8,31 9,6 10,1 11,0 12,0 13,0 14,0 15,0 16,0 17,0 18,0 19,0 20,0 21,0 22,0 23,0 24,0 25,0 26,0 27,0 28,0 29,0 30,0 31,0 32,0 33,0 34,0 35,0 36,0 37,0 38,0 39,0" stroke="#55A070"/>
<polyline points="0,7 1,38 2,109 3,147 4,59 5,3 6,98 7,147 8,83 9,23 10,3 11,0 12,0 13,0 14,0 15,0 16,0 17,0 18,0 19,0 20,0 21,0 22,0 23,0 24,0 25,0 26,0 27,0 28,0 29,0 30,0 31,0 32,0 33,0 34,0 35,0 36,0 37,0 38,0 39,0" stroke="#C26A1C"/>
<polyline points="0,0 1,0 2,0 3,0 4,0 5,0 6,0 7,0 8,0 9,0 10,0 11,0 12,0 13,0 14,0 15,0 16,0 17,0 18,0 19,0 20,0 21,0 22,0 23,0 24,0 25,0 26,0 27,0 28,0 29,0 30,0 31,0 32,0 33,0 34,1 35,5 36,28 37,96 38,199 39,251" stroke="#6670DC"/>
<polyline points="0,0 1,0 2,0 3,0 4,0 5,0 6,0 7,0 8,0 9,0 10,0 11,0 12,0 13,0 14,0 15,0 16,0 17,0 18,0 19,0 20,0 21,0 22,0 23,0 24,0 25,0 26,0 27,0 28,0 29,0 30,0 31,0 32,0 33,0 34,0 35,0 36,4 37,26 38,94 39,209" stroke="#C8A424"/>
<polyline points="0,0 1,0 2,0 3,0 4,0 5,0 6,0 7,0 8,0 9,0 10,0 11,0 12,0 13,0 14,0 15,0 16,0 17,0 18,0 19,2 20,22 21,91 22,130 23,15 24,61 25,48 26,33 27,60 28,21 29,83 30,1 31,114 32,109 33,31 34,4 35,0 36,0 37,0 38,0 39,0" stroke="#BE48C0"/>
<polyline points="0,0 1,0 2,0 3,0 4,0 5,0 6,0 7,0 8,0 9,0 10,0 11,0 12,0 13,0 14,0 15,0 16,0 17,0 18,0 19,0 20,0 21,0 22,0 23,0 24,0 25,0 26,0 27,0 28,0 29,2 30,16 31,71 32,190 33,308 34,302 35,179 36,65 37,14 38,2 39,0" stroke="#5284B8"/>
<polyline points="0,7 1,40 2,132 3,272 4,345 5,272 6,132 7,40 8,7 9,1 10,0 11,0 12,0 13,0 14,0 15,0 16,0 17,0 18,0 19,0 20,0 21,0 22,0 23,0 24,0 25,0 26,0 27,0 28,0 29,0 30,0 31,0 32,0 33,0 34,0 35,0 36,0 37,0 38,0 39,0" stroke="#EE6A24"/>
<polyline points="0,0 1,0 2,0 3,0 4,0 5,0 6,0 7,0 8,0 9,0 10,0 11,0 12,0 13,0 14,0 15,0 16,0 17,0 18,0 19,0 20,0 21,0 22,1 23,7 24,40 25,132 26,271 27,344 28,271 29,132 30,40 31,7 32,1 33,0 34,0 35,0 36,0 37,0 38,0 39,0" stroke="#8E4EE0"/>
<polyline points="0,0 1,0 2,0 3,0 4,0 5,0 6,0 7,0 8,0 9,0 10,0 11,0 12,0 13,0 14,0 15,0 16,1 17,7 18,37 19,123 20,252 21,321 22,252 23,123 24,37 25,7 26,1 27,0 28,0 29,0 30,0 31,0 32,0 33,0 34,0 35,0 36,0 37,0 38,0 39,0" stroke="#EDA02A"/>
<polyline points="0,254 1,263 2,165 3,63 4,15 5,2 6,0 7,0 8,0 9,0 10,0 11,0 12,0 13,0 14,0 15,0 16,0 17,0 18,0 19,0 20,0 21,0 22,0 23,0 24,0 25,0 26,0 27,0 28,0 29,0 30,0 31,0 32,0 33,0 34,0 35,0 36,0 37,0 38,0 39,0" stroke="#55A070"/>
<polyline points="0,0 1,0 2,0 3,0 4,0 5,0 6,0 7,0 8,0 9,0 10,0 11,0 12,0 13,0 14,0 15,0 16,0 17,0 18,0 19,0 20,3 21,27 22,111 23,152 24,15 25,76 26,53 27,43 28,67 29,29 30,95 31,3 32,138 33,127 34,36 35,4 36,0 37,0 38,0 39,0" stroke="#C26A1C"/>
<polyline points="0,0 1,0 2,3 3,25 4,105 5,227 6,204 7,28 8,52 9,224 10,211 11,87 12,18 13,2 14,0 15,0 16,0 17,0 18,0 19,0 20,0 21,0 22,0 23,0 24,0 25,0 26,0 27,0 28,0 29,0 30,0 31,0 32,0 33,0 34,0 35,0 36,0 37,0 38,0 39,0" stroke="#6670DC"/>
<polyline points="0,189 1,83 2,22 3,4 4,0 5,0 6,0 7,0 8,0 9,0 10,0 11,0 12,0 13,0 14,0 15,0 16,0 17,0 18,0 19,0 20,0 21,0 22,0 23,0 24,0 25,0 26,0 27,0 28,0 29,0 30,0 31,0 32,0 33,0 34,0 35,0 36,0 37,0 38,0 39,0" stroke="#C8A424"/>
<polyline points="0,0 1,0 2,0 3,1 4,7 5,39 6,129 7,265 8,337 9,265 10,129 11,39 12,7 13,1 14,0 15,0 16,0 17,0 18,0 19,0 20,0 21,0 22,0 23,0 24,0 25,0 26,0 27,0 28,0 29,0 30,0 31,0 32,0 33,0 34,0 35,0 36,0 37,0 38,0 39,0" stroke="#BE48C0"/>
<polyline points="0,0 1,0 2,0 3,0 4,0 5,0 6,0 7,0 8,0 9,0 10,0 11,0 12,0 13,0 14,0 15,0 16,0 17,0 18,0 19,0 20,0 21,0 22,0 23,0 24,0 25,0 26,0 27,0 28,0 29,0 30,0 31,1 32,7 33,40 34,132 35,270 36,344 37,270 38,132 39,40" stroke="#5284B8"/>
<polyline points="0,0 1,0 2,0 3,0 4,0 5,0 6,0 7,0 8,0 9,0 10,0 11,0 12,0 13,0 14,0 15,0 16,0 17,0 18,0 19,0 20,0 21,0 22,0 23,0 24,0 25,0 26,0 27,0 28,2 29,13 30,57 31,155 32,257 33,258 34,157 35,58 36,13 37,2 38,0 39,0" stroke="#EE6A24"/>
<polyline points="0,67 1,170 2,149 3,5 4,90 5,115 6,0 7,122 8,182 9,84 10,18 11,2 12,0 13,0 14,0 15,0 16,0 17,0 18,0 19,0 20,0 21,0 22,0 23,0 24,0 25,0 26,0 27,0 28,0 29,0 30,0 31,0 32,0 33,0 34,0 35,0 36,0 37,0 38,0 39,0" stroke="#8E4EE0"/>
<polyline points="0,0 1,0 2,0 3,0 4,0 5,0 6,0 7,0 8,0 9,0 10,0 11,0 12,0 13,0 14,0 15,1 16,7 17,38 18,125 19,257 20,327 21,257 22,125 23,38 24,7 25,1 26,0 27,0 28,0 29,0 30,0 31,0 32,0 33,0 34,0 35,0 36,0 37,0 38,0 39,0" stroke="#EDA02A"/>
<polyline points="0,0 1,0 2,0 3,0 4,0 5,0 6,0 7,0 8,0 9,0 10,0 11,0 12,0 13,0 14,0 15,0 16,0 17,0 18,0 19,0 20,0 21,0 22,0 23,0 24,0 25,0 26,0 27,0 28,0 29,0 30,0 31,0 32,0 33,2 34,14 35,65 36,178 37,295 38,298 39,182" stroke="#55A070"/>
<polyline points="0,0 1,0 2,0 3,0 4,0 5,0 6,0 7,0 8,0 9,0 10,0 11,0 12,0 13,0 14,0 15,0 16,0 17,0 18,0 19,0 20,0 21,0 22,0 23,0 24,0 25,0 26,0 27,0 28,0 29,0 30,0 31,0 32,0 33,0 34,0 35,33 36,88 37,200 38,275 39,162" stroke="#C26A1C"/>
<polyline points="0,0 1,0 2,0 3,0 4,0 5,0 6,0 7,0 8,0 9,0 10,0 11,0 12,0 13,0 14,0 15,0 16,0 17,0 18,2 19,12 20,51 21,137 22,223 23,220 24,132 25,48 26,11 27,1 28,0 29,0 30,0 31,0 32,0 33,0 34,0 35,0 36,0 37,0 38,0 39,0" stroke="#6670DC"/>
<polyline points="0,31 1,47 2,180 3,129 4,38 5,5 6,0 7,0 8,0 9,0 10,0 11,0 12,0 13,0 14,0 15,0 16,0 17,0 18,0 19,0 20,0 21,0 22,0 23,0 24,0 25,0 26,0 27,0 28,0 29,0 30,0 31,0 32,0 33,0 34,0 35,0 36,0 37,0 38,0 39,0" stroke="#C8A424"/>
<polyline points="0,1 1,7 2,41 3,125 4,181 5,85 6,1 7,107 8,181 9,109 10,32 11,5 12,0 13,0 14,0 15,0 16,0 17,0 18,0 19,0 20,0 21,0 22,0 23,0 24,0 25,0 26,0 27,0 28,0 29,0 30,0 31,0 32,0 33,0 34,0 35,0 36,0 37,0 38,0 39,0" stroke="#BE48C0"/>
<polyline points="0,0 1,0 2,0 3,0 4,0 5,1 6,7 7,40 8,132 9,271 10,344 11,271 12,132 13,40 14,7 15,1 16,0 17,0 18,0 19,0 20,0 21,0 22,0 23,0 24,0 25,0 26,0 27,0 28,0 29,0 30,0 31,0 32,0 33,0 34,0 35,0 36,0 37,0 38,0 39,0" stroke="#5284B8"/>
<polyline points="0,278 1,313 2,214 3,89 4,22 5,3 6,0 7,0 8,0 9,0 10,0 11,0 12,0 13,0 14,0 15,0 16,0 17,0 18,0 19,0 20,0 21,0 22,0 23,0 24,0 25,0 26,0 27,0 28,0 29,0 30,0 31,0 32,0 33,0 34,0 35,0 36,0 37,0 38,0 39,0" stroke="#EE6A24"/>
<polyline points="0,0 1,0 2,0 3,0 4,0 5,0 6,0 7,0 8,0 9,0 10,0 11,0 12,0 13,0 14,0 15,0 16,0 17,0 18,0 19,0 20,0 21,0 22,0 23,1 24,9 25,41 26,118 27,208 28,222 29,144 30,57 31,13 32,2 33,0 34,0 35,0 36,0 37,0 38,0 39,0" stroke="#8E4EE0"/>
<polyline points="0,61 1,33 2,205 3,172 4,56 5,9 6,1 7,0 8,0 9,0 10,0 11,0 12,0 13,0 14,0 15,0 16,0 17,0 18,0 19,0 20,0 21,0 22,0 23,0 24,0 25,0 26,0 27,0 28,0 29,0 30,0 31,0 32,0 33,0 34,0 35,0 36,0 37,0 38,0 39,0" stroke="#EDA02A"/>
<polyline points="0,0 1,0 2,0 3,0 4,0 5,0 6,0 7,0 8,0 9,0 10,0 11,0 12,0 13,0 14,2 15,17 16,72 17,188 18,299 19,289 20,169 21,60 22,13 23,2 24,0 25,0 26,0 27,0 28,0 29,0 30,0 31,0 32,0 33,0 34,0 35,0 36,0 37,0 38,0 39,0" stroke="#55A070"/>
<polyline points="0,129 1,233 2,159 3,6 4,90 5,232 6,176 7,62 8,11 9,1 10,0 11,0 12,0 13,0 14,0 15,0 16,0 17,0 18,0 19,0 20,0 21,0 22,0 23,0 24,0 25,0 26,0 27,0 28,0 29,0 30,0 31,0 32,0 33,0 34,0 35,0 36,0 37,0 38,0 39,0" stroke="#C26A1C"/>
<polyline points="0,0 1,0 2,0 3,0 4,0 5,0 6,0 7,0 8,0 9,0 10,0 11,3 12,21 13,87 14,214 15,321 16,292 17,161 18,54 19,11 20,1 21,0 22,0 23,0 24,0 25,0 26,0 27,0 28,0 29,0 30,0 31,0 32,0 33,0 34,0 35,0 36,0 37,0 38,0 39,0" stroke="#6670DC"/>
<polyline points="0,0 1,0 2,0 3,0 4,0 5,0 6,0 7,0 8,0 9,0 10,0 11,0 12,0 13,0 14,0 15,0 16,0 17,0 18,0 19,0 20,0 21,0 22,3 23,21 24,91 25,198 26,180 27,26 28,44 29,195 30,186 31,77 32,16 33,2 34,0 35,0 36,0 37,0 38,0 39,0" stroke="#C8A424"/>
<polyline points="0,48 1,129 2,213 3,212 4,129 5,47 6,11 7,1 8,0 9,0 10,0 11,0 12,0 13,0 14,0 15,0 16,0 17,0 18,0 19,0 20,0 21,0 22,0 23,0 24,0 25,0 26,0 27,0 28,0 29,0 30,0 31,0 32,0 33,0 34,0 35,0 36,0 37,0 38,0 39,0" stroke="#BE48C0"/>
<polyline points="0,0 1,0 2,0 3,0 4,0 5,0 6,1 7,10 8,50 9,149 10,268 11,293 12,194 13,78 14,19 15,3 16,0 17,0 18,0 19,0 20,0 21,0 22,0 23,0 24,0 25,0 26,0 27,0 28,0 29,0 30,0 31,0 32,0 33,0 34,0 35,0 36,0 37,0 38,0 39,0" stroke="#5284B8"/>
<polyline points="0,0 1,0 2,0 3,0 4,0 5,0 6,0 7,0 8,0 9,0 10,0 11,0 12,0 13,0 14,0 15,0 16,0 17,0 18,0 19,0 20,0 21,0 22,0 23,0 24,0 25,0 26,0 27,0 28,0 29,0 30,1 31,7 32,40 33,131 34,269 35,342 36,269 37,131 38,40 39,7" stroke="#EE6A24"/>
<polyline points="0,0 1,0 2,0 3,0 4,0 5,0 6,0 7,0 8,0 9,0 10,0 11,0 12,0 13,0 14,0 15,0 16,1 17,7 18,39 19,128 20,262 21,334 22,262 23,128 24,39 25,7 26,1 27,0 28,0 29,0 30,0 31,0 32,0 33,0 34,0 35,0 36,0 37,0 38,0 39,0" stroke="#8E4EE0"/>
<polyline points="0,0 1,0 2,0 3,0 4,0 5,0 6,0 7,0 8,0 9,0 10,0 11,0 12,0 13,0 14,0 15,0 16,0 17,0 18,0 19,0 20,0 21,1 22,8 23,41 24,135 25,277 26,352 27,277 28,135 29,41 30,8 31,1 32,0 33,0 34,0 35,0 36,0 37,0 38,0 39,0" stroke="#EDA02A"/>
<polyline points="0,0 1,0 2,0 3,0 4,0 5,0 6,0 7,0 8,0 9,0 10,0 11,0 12,0 13,0 14,0 15,0 16,0 17,0 18,0 19,0 20,0 21,0 22,0 23,0 24,1 25,7 26,39 27,129 28,266 29,338 30,266 31,129 32,39 33,7 34,1 35,0 36,0 37,0 38,0 39,0" stroke="#55A070"/>
<polyline points="0,132 1,270 2,335 3,252 4,115 5,32 6,5 7,1 8,0 9,0 10,0 11,0 12,0 13,0 14,0 15,0 16,0 17,0 18,0 19,0 20,0 21,0 22,0 23,0 24,0 25,0 26,0 27,0 28,0 29,0 30,0 31,0 32,0 33,0 34,0 35,0 36,0 37,0 38,0 39,0" stroke="#C26A1C"/>
<polyline points="0,0 1,0 2,0 3,0 4,0 5,0 6,0 7,0 8,0 9,0 10,0 11,0 12,0 13,0 14,0 15,0 16,0 17,0 18,0 19,0 20,0 21,0 22,1 23,7 24,40 25,133 26,273 27,347 28,273 29,133 30,40 31,7 32,1 33,0 34,0 35,0 36,0 37,0 38,0 39,0" stroke="#6670DC"/>
<polyline points="0,0 1,0 2,0 3,0 4,0 5,0 6,0 7,0 8,0 9,0 10,0 11,0 12,0 13,0 14,0 15,0 16,0 17,0 18,0 19,0 20,0 21,0 22,0 23,0 24,0 25,0 26,2 27,12 28,52 29,141 30,231 31,229 32,138 33,50 34,11 35,2 36,0 37,0 38,0 39,0" stroke="#C8A424"/>
<polyline points="0,0 1,0 2,0 3,0 4,0 5,0 6,0 7,0 8,0 9,0 10,0 11,0 12,0 13,0 14,0 15,1 16,7 17,39 18,131 19,268 20,341 21,268 22,131 23,39 24,7 25,1 26,0 27,0 28,0 29,0 30,0 31,0 32,0 33,0 34,0 35,0 36,0 37,0 38,0 39,0" stroke="#BE48C0"/>
<polyline points="0,162 1,64 2,15 3,2 4,0 5,0 6,0 7,0 8,0 9,0 10,0 11,0 12,0 13,0 14,0 15,0 16,0 17,0 18,0 19,0 20,0 21,0 22,0 23,0 24,0 25,0 26,0 27,0 28,0 29,0 30,0 31,0 32,0 33,0 34,0 35,0 36,0 37,0 38,0 39,0" stroke="#5284B8"/>
<polyline points="0,393 1,351 2,272 3,240 4,164 5,108 6,61 7,33 8,0 9,0 10,0 11,0 12,0 13,0 14,0 15,0 16,0 17,0 18,0 19,0 20,0 21,0 22,0 23,0 24,0 25,0 26,0 27,0 28,0 29,0 30,0 31,0 32,0 33,0 34,0 35,0 36,0 37,0 38,0 39,0" stroke="#EE6A24"/>
<polyline points="0,0 1,0 2,0 3,0 4,0 5,0 6,0 7,0 8,0 9,0 10,0 11,0 12,0 13,0 14,0 15,0 16,0 17,1 18,17 19,77 20,101 21,2 22,69 23,4 24,65 25,1 26,57 27,18 28,36 29,40 30,35 31,33 32,110 33,49 34,7 35,0 36,0 37,0 38,0 39,0" stroke="#8E4EE0"/>
<polyline points="0,0 1,0 2,0 3,0 4,0 5,0 6,0 7,0 8,0 9,0 10,0 11,0 12,0 13,0 14,0 15,0 16,0 17,0 18,2 19,17 20,70 21,175 22,264 23,243 24,135 25,46 26,9 27,1 28,0 29,0 30,0 31,0 32,0 33,0 34,0 35,0 36,0 37,0 38,0 39,0" stroke="#EDA02A"/>
<polyline points="0,0 1,0 2,0 3,0 4,0 5,0 6,0 7,0 8,0 9,0 10,0 11,0 12,0 13,0 14,0 15,0 16,0 17,0 18,0 19,0 20,2 21,15 22,65 23,175 24,284 25,280 26,168 27,61 28,13 29,2 30,0 31,0 32,0 33,0 34,0 35,0 36,0 37,0 38,0 39,0" stroke="#55A070"/>
<polyline points="0,0 1,0 2,0 3,0 4,0 5,0 6,0 7,0 8,0 9,0 10,0 11,0 12,3 13,17 14,73 15,189 16,305 17,304 18,188 19,72 20,17 21,2 22,0 23,0 24,0 25,0 26,0 27,0 28,0 29,0 30,0 31,0 32,0 33,0 34,0 35,0 36,0 37,0 38,0 39,0" stroke="#C26A1C"/>
<polyline points="0,0 1,0 2,0 3,0 4,0 5,0 6,0 7,1 8,7 9,40 10,131 11,269 12,342 13,269 14,131 15,40 16,7 17,1 18,0 19,0 20,0 21,0 22,0 23,0 24,0 25,0 26,0 27,0 28,0 29,0 30,0 31,0 32,0 33,0 34,0 35,0 36,0 37,0 38,0 39,0" stroke="#6670DC"/>
<polyline points="0,0 1,0 2,0 3,0 4,0 5,0 6,0 7,0 8,0 9,0 10,0 11,0 12,0 13,0 14,0 15,0 16,0 17,0 18,0 19,0 20,0 21,0 22,0 23,0 24,0 25,0 26,0 27,0 28,0 29,0 30,0 31,1 32,11 33,50 34,141 35,240 36,248 37,155 38,59 39,14" stroke="#C8A424"/>
<polyline points="0,0 1,1 2,5 3,31 4,96 5,139 6,65 7,1 8,83 9,139 10,84 11,25 12,4 13,0 14,0 15,0 16,0 17,0 18,0 19,0 20,0 21,0 22,0 23,0 24,0 25,0 26,0 27,0 28,0 29,0 30,0 31,0 32,0 33,0 34,0 35,0 36,0 37,0 38,0 39,0" stroke="#BE48C0"/>
<polyline points="0,0 1,0 2,0 3,0 4,0 5,1 6,7 7,36 8,113 9,216 10,249 11,175 12,75 13,19 14,3 15,0 16,0 17,0 18,0 19,0 20,0 21,0 22,0 23,0 24,0 25,0 26,0 27,0 28,0 29,0 30,0 31,0 32,0 33,0 34,0 35,0 36,0 37,0 38,0 39,0" stroke="#5284B8"/>
<polyline points="0,0 1,0 2,0 3,0 4,0 5,0 6,0 7,1 8,8 9,37 10,106 11,183 12,193 13,123 14,48 15,11 16,2 17,0 18,0 19,0 20,0 21,0 22,0 23,0 24,0 25,0 26,0 27,0 28,0 29,0 30,0 31,0 32,0 33,0 34,0 35,0 36,0 37,0 38,0 39,0" stroke="#EE6A24"/>
<polyline points="0,186 1,114 2,43 3,10 4,1 5,0 6,0 7,0 8,0 9,0 10,0 11,0 12,0 13,0 14,0 15,0 16,0 17,0 18,0 19,0 20,0 21,0 22,0 23,0 24,0 25,0 26,0 27,0 28,0 29,0 30,0 31,0 32,0 33,0 34,0 35,0 36,0 37,0 38,0 39,0" stroke="#8E4EE0"/>
<polyline points="0,0 1,0 2,3 3,20 4,83 5,210 6,331 7,322 8,194 9,72 10,17 11,2 12,0 13,0 14,0 15,0 16,0 17,0 18,0 19,0 20,0 21,0 22,0 23,0 24,0 25,0 26,0 27,0 28,0 29,0 30,0 31,0 32,0 33,0 34,0 35,0 36,0 37,0 38,0 39,0" stroke="#EDA02A"/>
<polyline points="0,0 1,0 2,0 3,0 4,0 5,0 6,0 7,0 8,0 9,0 10,0 11,0 12,0 13,0 14,0 15,0 16,0 17,0 18,1 19,6 20,40 21,134 22,220 23,128 24,1 25,105 26,220 27,150 28,48 29,8 30,1 31,0 32,0 33,0 34,0 35,0 36,0 37,0 38,0 39,0" stroke="#55A070"/>
<polyline points="0,1 1,7 2,40 3,132 4,272 5,345 6,272 7,132 8,40 9,7 10,1 11,0 12,0 13,0 14,0 15,0 16,0 17,0 18,0 19,0 20,0 21,0 22,0 23,0 24,0 25,0 26,0 27,0 28,0 29,0 30,0 31,0 32,0 33,0 34,0 35,0 36,0 37,0 38,0 39,0" stroke="#C26A1C"/>
<polyline points="0,0 1,0 2,0 3,0 4,0 5,0 6,0 7,0 8,0 9,0 10,0 11,0 12,0 13,0 14,0 15,0 16,0 17,0 18,0 19,0 20,0 21,0 22,0 23,0 24,0 25,0 26,0 27,0 28,0 29,0 30,0 31,0 32,0 33,2 34,16 35,72 36,192 37,310 38,304 39,180" stroke="#6670DC"/>
<polyline points="0,0 1,0 2,0 3,0 4,0 5,0 6,0 7,0 8,0 9,0 10,0 11,0 12,0 13,2 14,17 15,73 16,192 17,307 18,299 19,176 20,63 21,14 22,2 23,0 24,0 25,0 26,0 27,0 28,0 29,0 30,0 31,0 32,0 33,0 34,0 35,0 36,0 37,0 38,0 39,0" stroke="#C8A424"/>
<polyline points="0,0 1,0 2,0 3,0 4,0 5,0 6,0 7,0 8,0 9,0 10,0 11,0 12,0 13,0 14,0 15,0 16,0 17,0 18,0 19,0 20,0 21,0 22,0 23,0 24,0 25,0 26,0 27,0 28,0 29,0 30,0 31,0 32,0 33,0 34,1 35,7 36,40 37,131 38,269 39,342" stroke="#BE48C0"/>
<polyline points="0,0 1,0 2,0 3,0 4,0 5,0 6,0 7,0 8,0 9,0 10,0 11,0 12,0 13,0 14,0 15,0 16,0 17,0 18,0 19,0 20,0 21,0 22,0 23,0 24,0 25,0 26,0 27,0 28,0 29,1 30,7 31,38 32,124 33,255 34,325 35,255 36,124 37,38 38,7 39,1" stroke="#5284B8"/>
<polyline points="0,0 1,0 2,0 3,0 4,0 5,0 6,0 7,0 8,0 9,0 10,0 11,0 12,4 13,23 14,79 15,168 16,217 17,169 18,80 19,23 20,4 21,0 22,0 23,0 24,0 25,0 26,0 27,0 28,0 29,0 30,0 31,0 32,0 33,0 34,0 35,0 36,0 37,0 38,0 39,0" stroke="#EE6A24"/>
<polyline points="0,0 1,0 2,0 3,0 4,0 5,0 6,0 7,0 8,0 9,0 10,0 11,0 12,0 13,0 14,0 15,0 16,0 17,0 18,0 19,0 20,0 21,0 22,0 23,0 24,0 25,0 26,0 27,0 28,0 29,0 30,0 31,0 32,1 33,10 34,49 35,144 36,264 37,300 38,211 39,92" stroke="#8E4EE0"/>
<polyline points="0,0 1,0 2,0 3,0 4,0 5,0 6,0 7,0 8,0 9,0 10,0 11,0 12,0 13,0 14,0 15,0 16,0 17,0 18,0 19,0 20,0 21,0 22,0 23,0 24,0 25,0 26,0 27,0 28,0 29,0 30,1 31,9 32,45 33,135 34,248 35,277 36,187 37,77 38,19 39,3" stroke="#EDA02A"/>
<polyline points="0,0 1,0 2,0 3,0 4,0 5,0 6,0 7,0 8,0 9,0 10,0 11,0 12,0 13,0 14,1 15,11 16,60 17,167 18,213 19,76 20,8 21,154 22,213 23,115 24,30 25,4 26,0 27,0 28,0 29,0 30,0 31,0 32,0 33,0 34,0 35,0 36,0 37,0 38,0 39,0" stroke="#55A070"/>
<polyline points="0,0 1,0 2,0 3,0 4,1 5,13 6,69 7,185 8,226 9,74 10,12 11,173 12,227 13,118 14,30 15,4 16,0 17,0 18,0 19,0 20,0 21,0 22,0 23,0 24,0 25,0 26,0 27,0 28,0 29,0 30,0 31,0 32,0 33,0 34,0 35,0 36,0 37,0 38,0 39,0" stroke="#C26A1C"/>
<polyline points="0,0 1,0 2,0 3,0 4,0 5,0 6,0 7,0 8,0 9,0 10,0 11,0 12,0 13,0 14,3 15,21 16,77 17,171 18,231 19,189 20,94 21,28 22,5 23,1 24,0 25,0 26,0 27,0 28,0 29,0 30,0 31,0 32,0 33,0 34,0 35,0 36,0 37,0 38,0 39,0" stroke="#6670DC"/>
<polyline points="0,0 1,0 2,0 3,0 4,0 5,0 6,0 7,0 8,0 9,0 10,0 11,0 12,3 13,19 14,69 15,154 16,207 17,169 18,84 19,25 20,5 21,1 22,0 23,0 24,0 25,0 26,0 27,0 28,0 29,0 30,0 31,0 32,0 33,0 34,0 35,0 36,0 37,0 38,0 39,0" stroke="#C8A424"/>
<polyline points="0,0 1,0 2,0 3,0 4,0 5,0 6,0 7,0 8,0 9,0 10,0 11,0 12,0 13,0 14,0 15,0 16,0 17,4 18,24 19,90 20,207 21,289 22,245 23,126 24,39 25,7 26,1 27,0 28,0 29,0 30,0 31,0 32,0 33,0 34,0 35,0 36,0 37,0 38,0 39,0" stroke="#BE48C0"/>
<polyline points="0,0 1,0 2,0 3,0 4,0 5,0 6,0 7,0 8,0 9,0 10,0 11,0 12,0 13,0 14,0 15,0 16,0 17,0 18,0 19,0 20,0 21,0 22,0 23,0 24,0 25,0 26,0 27,0 28,0 29,0 30,0 31,1 32,9 33,55 34,153 35,155 36,13 37,69 38,122 39,2" stroke="#5284B8"/>
<polyline points="0,0 1,0 2,0 3,0 4,0 5,0 6,0 7,0 8,0 9,0 10,0 11,0 12,0 13,0 14,0 15,0 16,0 17,0 18,0 19,0 20,0 21,0 22,0 23,0 24,0 25,0 26,0 27,4 28,20 29,71 30,152 31,196 32,153 33,72 34,21 35,4 36,0 37,0 38,0 39,0" stroke="#EE6A24"/>
<polyline points="0,0 1,0 2,0 3,0 4,0 5,0 6,0 7,0 8,1 9,5 10,28 11,99 12,211 13,271 14,211 15,100 16,29 17,5 18,1 19,0 20,0 21,0 22,0 23,0 24,0 25,0 26,0 27,0 28,0 29,0 30,0 31,0 32,0 33,0 34,0 35,0 36,0 37,0 38,0 39,0" stroke="#8E4EE0"/>
<polyline points="0,0 1,0 2,0 3,0 4,0 5,0 6,0 7,0 8,0 9,0 10,0 11,0 12,0 13,0 14,0 15,0 16,0 17,0 18,0 19,0 20,0 21,0 22,0 23,0 24,1 25,10 26,48 27,144 28,264 29,293 30,197 31,81 32,20 33,3 34,0 35,0 36,0 37,0 38,0 39,0" stroke="#EDA02A"/>
<polyline points="0,146 1,79 2,17 3,185 4,179 5,64 6,11 7,1 8,0 9,0 10,0 11,0 12,0 13,0 14,0 15,0 16,0 17,0 18,0 19,0 20,0 21,0 22,0 23,0 24,0 25,0 26,0 27,0 28,0 29,0 30,0 31,0 32,0 33,0 34,0 35,0 36,0 37,0 38,0 39,0" stroke="#55A070"/>
<polyline points="0,522 1,390 2,329 3,260 4,198 5,115 6,76 7,35 8,0 9,0 10,0 11,0 12,0 13,0 14,0 15,0 16,0 17,0 18,0 19,0 20,0 21,0 22,0 23,0 24,0 25,0 26,0 27,0 28,0 29,0 30,0 31,0 32,0 33,0 34,0 35,0 36,0 37,0 38,0 39,0" stroke="#C26A1C"/>
<polyline points="0,0 1,0 2,0 3,0 4,0 5,0 6,0 7,0 8,0 9,0 10,0 11,0 12,0 13,0 14,0 15,0 16,0 17,0 18,0 19,0 20,0 21,0 22,0 23,0 24,0 25,0 26,0 27,0 28,0 29,0 30,0 31,0 32,3 33,20 34,80 35,190 36,276 37,242 38,129 39,42" stroke="#6670DC"/>
<polyline points="0,0 1,0 2,0 3,0 4,0 5,0 6,0 7,0 8,0 9,4 10,23 11,90 12,219 13,330 14,309 15,179 16,64 17,14 18,2 19,0 20,0 21,0 22,0 23,0 24,0 25,0 26,0 27,0 28,0 29,0 30,0 31,0 32,0 33,0 34,0 35,0 36,0 37,0 38,0 39,0" stroke="#C8A424"/>
<polyline points="0,0 1,0 2,0 3,0 4,0 5,5 6,27 7,97 8,209 9,272 10,215 11,103 12,30 13,5 14,1 15,0 16,0 17,0 18,0 19,0 20,0 21,0 22,0 23,0 24,0 25,0 26,0 27,0 28,0 29,0 30,0 31,0 32,0 33,0 34,0 35,0 36,0 37,0 38,0 39,0" stroke="#BE48C0"/>
<polyline points="0,0 1,0 2,0 3,0 4,0 5,0 6,3 7,22 8,84 9,198 10,283 11,245 12,129 13,41 14,8 15,1 16,0 17,0 18,0 19,0 20,0 21,0 22,0 23,0 24,0 25,0 26,0 27,0 28,0 29,0 30,0 31,0 32,0 33,0 34,0 35,0 36,0 37,0 38,0 39,0" stroke="#5284B8"/>
<polyline points="0,0 1,0 2,0 3,1 4,6 5,35 6,117 7,241 8,308 9,244 10,119 11,36 12,7 13,1 14,0 15,0 16,0 17,0 18,0 19,0 20,0 21,0 22,0 23,0 24,0 25,0 26,0 27,0 28,0 29,0 30,0 31,0 32,0 33,0 34,0 35,0 36,0 37,0 38,0 39,0" stroke="#EE6A24"/>
<polyline points="0,0 1,0 2,0 3,0 4,0 5,0 6,0 7,0 8,0 9,0 10,0 11,0 12,0 13,0 14,0 15,0 16,0 17,0 18,0 19,0 20,0 21,0 22,0 23,0 24,1 25,7 26,38 27,126 28,258 29,328 30,258 31,126 32,38 33,7 34,1 35,0 36,0 37,0 38,0 39,0" stroke="#8E4EE0"/>
<polyline points="0,0 1,0 2,0 3,0 4,0 5,0 6,0 7,0 8,0 9,0 10,0 11,0 12,0 13,0 14,0 15,0 16,0 17,0 18,0 19,0 20,0 21,0 22,0 23,0 24,0 25,0 26,0 27,0 28,0 29,0 30,0 31,0 32,0 33,1 34,7 35,38 36,125 37,256 38,326 39,256" stroke="#EDA02A"/>
<polyline points="0,0 1,0 2,0 3,0 4,0 5,0 6,0 7,0 8,0 9,0 10,0 11,0 12,0 13,0 14,0 15,0 16,0 17,0 18,0 19,0 20,2 21,14 22,65 23,161 24,177 25,45 26,19 27,155 28,178 29,85 30,20 31,3 32,0 33,0 34,0 35,0 36,0 37,0 38,0 39,0" stroke="#55A070"/>
<polyline points="0,0 1,0 2,0 3,0 4,0 5,0 6,0 7,0 8,0 9,0 10,0 11,0 12,0 13,0 14,0 15,0 16,0 17,0 18,0 19,0 20,0 21,0 22,0 23,0 24,3 25,20 26,73 27,162 28,219 29,180 30,90 31,27 32,5 33,1 34,0 35,0 36,0 37,0 38,0 39,0" stroke="#C26A1C"/>
<polyline points="0,0 1,0 2,0 3,0 4,0 5,0 6,2 7,14 8,61 9,166 10,274 11,274 12,166 13,61 14,14 15,2 16,0 17,0 18,0 19,0 20,0 21,0 22,0 23,0 24,0 25,0 26,0 27,0 28,0 29,0 30,0 31,0 32,0 33,0 34,0 35,0 36,0 37,0 38,0 39,0" stroke="#6670DC"/>
<polyline points="0,0 1,0 2,0 3,0 4,0 5,0 6,0 7,0 8,0 9,0 10,0 11,0 12,0 13,0 14,0 15,0 16,1 17,10 18,49 19,146 20,262 21,286 22,189 23,76 24,18 25,3 26,0 27,0 28,0 29,0 30,0 31,0 32,0 33,0 34,0 35,0 36,0 37,0 38,0 39,0" stroke="#C8A424"/>
<polyline points="0,0 1,0 2,0 3,0 4,0 5,0 6,0 7,0 8,0 9,0 10,0 11,0 12,0 13,0 14,0 15,0 16,0 17,0 18,0 19,0 20,0 21,2 22,14 23,63 24,168 25,272 26,267 27,159 28,57 29,13 30,2 31,0 32,0 33,0 34,0 35,0 36,0 37,0 38,0 39,0" stroke="#BE48C0"/>
<polyline points="0,0 1,0 2,0 3,0 4,0 5,0 6,1 7,7 8,39 9,128 10,263 11,334 12,263 13,128 14,39 15,7 16,1 17,0 18,0 19,0 20,0 21,0 22,0 23,0 24,0 25,0 26,0 27,0 28,0 29,0 30,0 31,0 32,0 33,0 34,0 35,0 36,0 37,0 38,0 39,0" stroke="#5284B8"/>
<polyline points="0,0 1,0 2,0 3,0 4,0 5,0 6,0 7,0 8,0 9,0 10,0 11,0 12,0 13,0 14,1 15,9 16,46 17,139 18,257 19,289 20,196 21,81 22,20 23,3 24,0 25,0 26,0 27,0 28,0 29,0 30,0 31,0 32,0 33,0 34,0 35,0 36,0 37,0 38,0 39,0" stroke="#EE6A24"/>
<polyline points="0,38 1,126 2,258 3,328 4,258 5,126 6,38 7,7 8,1 9,0 10,0 11,0 12,0 13,0 14,0 15,0 16,0 17,0 18,0 19,0 20,0 21,0 22,0 23,0 24,0 25,0 26,0 27,0 28,0 29,0 30,0 31,0 32,0 33,0 34,0 35,0 36,0 37,0 38,0 39,0" stroke="#8E4EE0"/>
<polyline points="0,0 1,0 2,0 3,0 4,0 5,0 6,0 7,0 8,0 9,0 10,0 11,0 12,0 13,0 14,0 15,0 16,0 17,0 18,0 19,0 20,0 21,0 22,0 23,0 24,0 25,0 26,0 27,0 28,0 29,0 30,0 31,0 32,0 33,0 34,0 35,1 36,9 37,43 38,119 39,200" stroke="#EDA02A"/>
<polyline points="0,0 1,0 2,0 3,0 4,0 5,0 6,0 7,0 8,0 9,0 10,0 11,0 12,0 13,0 14,0 15,0 16,0 17,0 18,0 19,0 20,0 21,0 22,0 23,0 24,0 25,0 26,0 27,0 28,0 29,0 30,0 31,0 32,4 33,27 34,96 35,211 36,280 37,226 38,111 39,33" stroke="#55A070"/>
<polyline points="0,0 1,0 2,0 3,0 4,0 5,0 6,0 7,0 8,0 9,0 10,0 11,0 12,1 13,7 14,38 15,125 16,256 17,325 18,256 19,125 20,38 21,7 22,1 23,0 24,0 25,0 26,0 27,0 28,0 29,0 30,0 31,0 32,0 33,0 34,0 35,0 36,0 37,0 38,0 39,0" stroke="#C26A1C"/>
<polyline points="0,20 1,74 2,163 3,219 4,178 5,88 6,26 7,5 8,1 9,0 10,0 11,0 12,0 13,0 14,0 15,0 16,0 17,0 18,0 19,0 20,0 21,0 22,0 23,0 24,0 25,0 26,0 27,0 28,0 29,0 30,0 31,0 32,0 33,0 34,0 35,0 36,0 37,0 38,0 39,0" stroke="#6670DC"/>
<polyline points="0,0 1,0 2,0 3,0 4,0 5,0 6,0 7,0 8,0 9,0 10,0 11,0 12,0 13,0 14,0 15,0 16,0 17,0 18,0 19,0 20,0 21,0 22,0 23,0 24,0 25,0 26,0 27,1 28,11 29,53 30,155 31,281 32,316 33,220 34,94 35,25 36,4 37,0 38,0 39,0" stroke="#C8A424"/>
<polyline points="0,0 1,0 2,0 3,0 4,0 5,0 6,0 7,0 8,0 9,0 10,0 11,0 12,0 13,0 14,0 15,0 16,0 17,0 18,0 19,0 20,0 21,0 22,0 23,0 24,1 25,8 26,48 27,138 28,149 29,17 30,57 31,118 32,4 33,85 34,167 35,90 36,21 37,3 38,0 39,0" stroke="#BE48C0"/>
<polyline points="0,0 1,0 2,0 3,0 4,0 5,0 6,0 7,0 8,0 9,0 10,0 11,0 12,1 13,11 14,57 15,135 16,108 17,2 18,77 19,82 20,1 21,102 22,137 23,60 24,12 25,1 26,0 27,0 28,0 29,0 30,0 31,0 32,0 33,0 34,0 35,0 36,0 37,0 38,0 39,0" stroke="#5284B8"/>
<polyline points="0,124 1,22 2,51 3,41 4,40 5,31 6,52 7,20 8,61 9,31 10,42 11,125 12,57 13,9 14,1 15,0 16,0 17,0 18,0 19,0 20,0 21,0 22,0 23,0 24,0 25,0 26,0 27,0 28,0 29,0 30,0 31,0 32,0 33,0 34,0 35,0 36,0 37,0 38,0 39,0" stroke="#EE6A24"/>
<polyline points="0,0 1,0 2,0 3,0 4,0 5,0 6,0 7,0 8,0 9,0 10,0 11,0 12,0 13,0 14,0 15,0 16,0 17,0 18,0 19,0 20,0 21,0 22,0 23,0 24,1 25,5 26,28 27,92 28,180 29,215 30,155 31,68 32,18 33,3 34,0 35,0 36,0 37,0 38,0 39,0" stroke="#8E4EE0"/>
<polyline points="0,0 1,0 2,0 3,0 4,0 5,0 6,0 7,0 8,0 9,0 10,0 11,0 12,0 13,0 14,0 15,0 16,0 17,0 18,0 19,0 20,0 21,0 22,0 23,1 24,7 25,39 26,129 27,265 28,337 29,265 30,129 31,39 32,7 33,1 34,0 35,0 36,0 37,0 38,0 39,0" stroke="#EDA02A"/>
<polyline points="0,0 1,0 2,0 3,0 4,0 5,0 6,0 7,0 8,0 9,0 10,0 11,0 12,0 13,0 14,0 15,0 16,0 17,2 18,14 19,55 20,133 21,196 22,175 23,95 24,31 25,6 26,1 27,0 28,0 29,0 30,0 31,0 32,0 33,0 34,0 35,0 36,0 37,0 38,0 39,0" stroke="#55A070"/>
<polyline points="0,0 1,0 2,0 3,0 4,0 5,0 6,0 7,0 8,0 9,1 10,13 11,65 12,173 13,207 14,65 15,13 16,163 17,208 18,106 19,27 20,4 21,0 22,0 23,0 24,0 25,0 26,0 27,0 28,0 29,0 30,0 31,0 32,0 33,0 34,0 35,0 36,0 37,0 38,0 39,0" stroke="#C26A1C"/>
<polyline points="0,34 1,133 2,219 3,86 4,16 5,164 6,53 7,39 8,207 9,166 10,52 11,8 12,1 13,0 14,0 15,0 16,0 17,0 18,0 19,0 20,0 21,0 22,0 23,0 24,0 25,0 26,0 27,0 28,0 29,0 30,0 31,0 32,0 33,0 34,0 35,0 36,0 37,0 38,0 39,0" stroke="#6670DC"/>
<polyline points="0,0 1,0 2,0 3,0 4,0 5,0 6,0 7,0 8,0 9,0 10,0 11,0 12,0 13,0 14,0 15,0 16,0 17,0 18,0 19,0 20,0 21,0 22,0 23,0 24,0 25,0 26,0 27,0 28,0 29,0 30,0 31,1 32,7 33,40 34,118 35,163 36,69 37,2 38,105 39,163" stroke="#C8A424"/>
<polyline points="0,0 1,0 2,0 3,0 4,0 5,0 6,0 7,0 8,0 9,0 10,0 11,0 12,0 13,0 14,0 15,0 16,0 17,0 18,0 19,0 20,0 21,1 22,9 23,44 24,129 25,227 26,243 27,158 28,62 29,15 30,2 31,0 32,0 33,0 34,0 35,0 36,0 37,0 38,0 39,0" stroke="#BE48C0"/>
<polyline points="0,1 1,11 2,50 3,139 4,235 5,242 6,151 7,57 8,13 9,2 10,0 11,0 12,0 13,0 14,0 15,0 16,0 17,0 18,0 19,0 20,0 21,0 22,0 23,0 24,0 25,0 26,0 27,0 28,0 29,0 30,0 31,0 32,0 33,0 34,0 35,0 36,0 37,0 38,0 39,0" stroke="#5284B8"/>
<polyline points="0,0 1,0 2,0 3,0 4,0 5,0 6,0 7,0 8,2 9,12 10,51 11,131 12,202 13,189 14,108 15,37 16,8 17,1 18,0 19,0 20,0 21,0 22,0 23,0 24,0 25,0 26,0 27,0 28,0 29,0 30,0 31,0 32,0 33,0 34,0 35,0 36,0 37,0 38,0 39,0" stroke="#EE6A24"/>
<polyline points="0,0 1,0 2,0 3,0 4,0 5,0 6,0 7,0 8,0 9,0 10,0 11,0 12,0 13,0 14,2 15,12 16,55 17,153 18,257 19,262 20,162 21,61 22,14 23,2 24,0 25,0 26,0 27,0 28,0 29,0 30,0 31,0 32,0 33,0 34,0 35,0 36,0 37,0 38,0 39,0" stroke="#8E4EE0"/>
<polyline points="0,0 1,0 2,0 3,0 4,0 5,0 6,0 7,0 8,0 9,0 10,3 11,18 12,75 13,193 14,307 15,302 16,184 17,69 18,16 19,2 20,0 21,0 22,0 23,0 24,0 25,0 26,0 27,0 28,0 29,0 30,0 31,0 32,0 33,0 34,0 35,0 36,0 37,0 38,0 39,0" stroke="#EDA02A"/>
<polyline points="0,0 1,0 2,0 3,0 4,0 5,0 6,0 7,0 8,0 9,0 10,0 11,0 12,0 13,0 14,0 15,0 16,0 17,0 18,0 19,1 20,7 21,40 22,117 23,158 24,64 25,3 26,105 27,158 28,89 29,25 30,4 31,0 32,0 33,0 34,0 35,0 36,0 37,0 38,0 39,0" stroke="#55A070"/>
<polyline points="0,0 1,0 2,0 3,0 4,0 5,0 6,0 7,0 8,3 9,22 10,87 11,203 12,290 13,250 14,131 15,42 16,8 17,1 18,0 19,0 20,0 21,0 22,0 23,0 24,0 25,0 26,0 27,0 28,0 29,0 30,0 31,0 32,0 33,0 34,0 35,0 36,0 37,0 38,0 39,0" stroke="#C26A1C"/>
<polyline points="0,144 1,51 2,11 3,1 4,0 5,0 6,0 7,0 8,0 9,0 10,0 11,0 12,0 13,0 14,0 15,0 16,0 17,0 18,0 19,0 20,0 21,0 22,0 23,0 24,0 25,0 26,0 27,0 28,0 29,0 30,0 31,0 32,0 33,0 34,0 35,0 36,0 37,0 38,0 39,0" stroke="#6670DC"/>
<polyline points="0,0 1,0 2,0 3,0 4,0 5,0 6,0 7,0 8,0 9,0 10,0 11,0 12,0 13,0 14,0 15,0 16,0 17,0 18,0 19,0 20,0 21,0 22,0 23,0 24,0 25,0 26,0 27,1 28,7 29,38 30,125 31,257 32,327 33,257 34,125 35,38 36,7 37,1 38,0 39,0" stroke="#C8A424"/>
<polyline points="0,0 1,0 2,0 3,0 4,0 5,0 6,1 7,11 8,52 9,157 10,293 11,340 12,244 13,108 14,30 15,5 16,1 17,0 18,0 19,0 20,0 21,0 22,0 23,0 24,0 25,0 26,0 27,0 28,0 29,0 30,0 31,0 32,0 33,0 34,0 35,0 36,0 37,0 38,0 39,0" stroke="#BE48C0"/>
<polyline points="0,0 1,1 2,7 3,39 4,129 5,265 6,337 7,265 8,129 9,39 10,7 11,1 12,0 13,0 14,0 15,0 16,0 17,0 18,0 19,0 20,0 21,0 22,0 23,0 24,0 25,0 26,0 27,0 28,0 29,0 30,0 31,0 32,0 33,0 34,0 35,0 36,0 37,0 38,0 39,0" stroke="#5284B8"/>
<polyline points="0,0 1,0 2,0 3,0 4,1 5,7 6,39 7,130 8,268 9,340 10,268 11,130 12,39 13,7 14,1 15,0 16,0 17,0 18,0 19,0 20,0 21,0 22,0 23,0 24,0 25,0 26,0 27,0 28,0 29,0 30,0 31,0 32,0 33,0 34,0 35,0 36,0 37,0 38,0 39,0" stroke="#EE6A24"/>
<polyline points="0,377 1,245 2,125 3,47 4,16 5,0 6,0 7,0 8,0 9,0 10,0 11,0 12,0 13,0 14,0 15,0 16,0 17,0 18,0 19,0 20,0 21,0 22,0 23,0 24,0 25,0 26,0 27,0 28,0 29,0 30,0 31,0 32,0 33,0 34,0 35,0 36,0 37,0 38,0 39,0" stroke="#8E4EE0"/>
<polyline points="0,0 1,0 2,0 3,0 4,0 5,0 6,0 7,0 8,0 9,0 10,0 11,0 12,0 13,0 14,0 15,0 16,0 17,0 18,0 19,0 20,0 21,0 22,0 23,0 24,0 25,0 26,0 27,0 28,0 29,0 30,0 31,0 32,0 33,0 34,3 35,21 36,84 37,201 38,293 39,258" stroke="#EDA02A"/>
<polyline points="0,0 1,0 2,0 3,0 4,0 5,0 6,0 7,0 8,0 9,0 10,0 11,0 12,0 13,0 14,0 15,0 16,4 17,31 18,120 19,229 20,172 21,11 22,77 23,229 24,185 25,68 26,13 27,1 28,0 29,0 30,0 31,0 32,0 33,0 34,0 35,0 36,0 37,0 38,0 39,0" stroke="#55A070"/>
<polyline points="0,223 1,136 2,50 3,11 4,2 5,0 6,0 7,0 8,0 9,0 10,0 11,0 12,0 13,0 14,0 15,0 16,0 17,0 18,0 19,0 20,0 21,0 22,0 23,0 24,0 25,0 26,0 27,0 28,0 29,0 30,0 31,0 32,0 33,0 34,0 35,0 36,0 37,0 38,0 39,0" stroke="#C26A1C"/>
<polyline points="0,0 1,0 2,0 3,0 4,0 5,0 6,0 7,0 8,0 9,0 10,0 11,0 12,0 13,0 14,0 15,0 16,0 17,0 18,0 19,0 20,2 21,11 22,45 23,117 24,184 25,175 26,101 27,35 28,7 29,1 30,0 31,0 32,0 33,0 34,0 35,0 36,0 37,0 38,0 39,0" stroke="#6670DC"/>
<polyline points="0,459 1,361 2,289 3,244 4,172 5,112 6,66 7,34 8,0 9,0 10,0 11,0 12,0 13,0 14,0 15,0 16,0 17,0 18,0 19,0 20,0 21,0 22,0 23,0 24,0 25,0 26,0 27,0 28,0 29,0 30,0 31,0 32,0 33,0 34,0 35,0 36,0 37,0 38,0 39,0" stroke="#C8A424"/>
<polyline points="0,268 1,340 2,268 3,130 4,39 5,7 6,1 7,0 8,0 9,0 10,0 11,0 12,0 13,0 14,0 15,0 16,0 17,0 18,0 19,0 20,0 21,0 22,0 23,0 24,0 25,0 26,0 27,0 28,0 29,0 30,0 31,0 32,0 33,0 34,0 35,0 36,0 37,0 38,0 39,0" stroke="#BE48C0"/>
<polyline points="0,0 1,0 2,0 3,0 4,0 5,1 6,8 7,38 8,110 9,191 10,203 11,130 12,51 13,12 14,2 15,0 16,0 17,0 18,0 19,0 20,0 21,0 22,0 23,0 24,0 25,0 26,0 27,0 28,0 29,0 30,0 31,0 32,0 33,0 34,0 35,0 36,0 37,0 38,0 39,0" stroke="#5284B8"/>
<polyline points="0,8 1,39 2,120 3,226 4,258 5,178 6,75 7,19 8,3 9,0 10,0 11,0 12,0 13,0 14,0 15,0 16,0 17,0 18,0 19,0 20,0 21,0 22,0 23,0 24,0 25,0 26,0 27,0 28,0 29,0 30,0 31,0 32,0 33,0 34,0 35,0 36,0 37,0 38,0 39,0" stroke="#EE6A24"/>
<polyline points="0,0 1,0 2,0 3,0 4,0 5,0 6,0 7,0 8,0 9,0 10,0 11,0 12,0 13,0 14,0 15,0 16,0 17,0 18,0 19,0 20,0 21,0 22,0 23,0 24,3 25,20 26,83 27,209 28,326 29,315 30,189 31,70 32,16 33,2 34,0 35,0 36,0 37,0 38,0 39,0" stroke="#8E4EE0"/>
<polyline points="0,0 1,0 2,0 3,2 4,15 5,72 6,137 7,54 8,16 9,96 10,2 11,82 12,40 13,27 14,134 15,90 16,23 17,3 18,0 19,0 20,0 21,0 22,0 23,0 24,0 25,0 26,0 27,0 28,0 29,0 30,0 31,0 32,0 33,0 34,0 35,0 36,0 37,0 38,0 39,0" stroke="#EDA02A"/>
<polyline points="0,76 1,170 2,120 3,40 4,7 5,1 6,0 7,0 8,0 9,0 10,0 11,0 12,0 13,0 14,0 15,0 16,0 17,0 18,0 19,0 20,0 21,0 22,0 23,0 24,0 25,0 26,0 27,0 28,0 29,0 30,0 31,0 32,0 33,0 34,0 35,0 36,0 37,0 38,0 39,0" stroke="#55A070"/>
<polyline points="0,0 1,0 2,0 3,0 4,0 5,0 6,0 7,0 8,0 9,0 10,0 11,0 12,0 13,0 14,0 15,0 16,0 17,0 18,0 19,0 20,0 21,0 22,0 23,0 24,0 25,0 26,0 27,0 28,1 29,7 30,38 31,127 32,260 33,331 34,260 35,127 36,38 37,7 38,1 39,0" stroke="#C26A1C"/>
<polyline points="0,0 1,0 2,0 3,0 4,0 5,0 6,0 7,0 8,3 9,18 10,73 11,146 12,117 13,10 14,43 15,145 16,124 17,47 18,9 19,1 20,0 21,0 22,0 23,0 24,0 25,0 26,0 27,0 28,0 29,0 30,0 31,0 32,0 33,0 34,0 35,0 36,0 37,0 38,0 39,0" stroke="#6670DC"/>
<polyline points="0,0 1,0 2,0 3,0 4,0 5,0 6,0 7,0 8,0 9,0 10,0 11,0 12,1 13,9 14,45 15,131 16,233 17,250 18,163 19,65 20,16 21,2 22,0 23,0 24,0 25,0 26,0 27,0 28,0 29,0 30,0 31,0 32,0 33,0 34,0 35,0 36,0 37,0 38,0 39,0" stroke="#C8A424"/>
<polyline points="0,0 1,0 2,0 3,0 4,0 5,0 6,0 7,0 8,0 9,0 10,0 11,0 12,0 13,0 14,0 15,2 16,17 17,89 18,168 19,50 20,41 21,94 22,11 23,101 24,4 25,116 26,3 27,109 28,155 29,56 30,8 31,1 32,0 33,0 34,0 35,0 36,0 37,0 38,0 39,0" stroke="#BE48C0"/>
<polyline points="0,0 1,0 2,0 3,0 4,0 5,0 6,0 7,0 8,0 9,0 10,0 11,0 12,0 13,0 14,1 15,5 16,28 17,103 18,231 19,319 20,274 21,145 22,48 23,10 24,1 25,0 26,0 27,0 28,0 29,0 30,0 31,0 32,0 33,0 34,0 35,0 36,0 37,0 38,0 39,0" stroke="#5284B8"/>
<polyline points="0,1 1,5 2,29 3,98 4,198 5,244 6,182 7,82 8,23 9,4 10,0 11,0 12,0 13,0 14,0 15,0 16,0 17,0 18,0 19,0 20,0 21,0 22,0 23,0 24,0 25,0 26,0 27,0 28,0 29,0 30,0 31,0 32,0 33,0 34,0 35,0 36,0 37,0 38,0 39,0" stroke="#EE6A24"/>
<polyline points="0,0 1,0 2,0 3,1 4,10 5,47 6,141 7,255 8,280 9,187 10,75 11,18 12,3 13,0 14,0 15,0 16,0 17,0 18,0 19,0 20,0 21,0 22,0 23,0 24,0 25,0 26,0 27,0 28,0 29,0 30,0 31,0 32,0 33,0 34,0 35,0 36,0 37,0 38,0 39,0" stroke="#8E4EE0"/>
<polyline points="0,0 1,0 2,0 3,0 4,0 5,0 6,0 7,0 8,0 9,0 10,0 11,0 12,0 13,0 14,0 15,0 16,0 17,0 18,0 19,0 20,0 21,4 22,26 23,99 24,235 25,346 26,315 27,178 28,62 29,13 30,2 31,0 32,0 33,0 34,0 35,0 36,0 37,0 38,0 39,0" stroke="#EDA02A"/>
<polyline points="0,0 1,0 2,0 3,0 4,0 5,0 6,0 7,0 8,0 9,0 10,0 11,0 12,0 13,0 14,0 15,0 16,0 17,0 18,0 19,0 20,0 21,0 22,0 23,0 24,0 25,4 26,24 27,88 28,197 29,268 30,221 31,110 32,33 33,6 34,1 35,0 36,0 37,0 38,0 39,0" stroke="#55A070"/>
<polyline points="0,0 1,0 2,0 3,0 4,0 5,0 6,0 7,0 8,0 9,0 10,0 11,0 12,0 13,1 14,9 15,49 16,138 17,176 18,64 19,6 20,126 21,177 22,95 23,25 24,4 25,0 26,0 27,0 28,0 29,0 30,0 31,0 32,0 33,0 34,0 35,0 36,0 37,0 38,0 39,0" stroke="#C26A1C"/>
<polyline points="0,0 1,0 2,0 3,0 4,0 5,0 6,0 7,0 8,0 9,0 10,0 11,0 12,0 13,0 14,0 15,0 16,0 17,0 18,0 19,0 20,0 21,0 22,0 23,0 24,0 25,0 26,2 27,13 28,56 29,151 30,245 31,242 32,145 33,53 34,12 35,2 36,0 37,0 38,0 39,0" stroke="#6670DC"/>
<polyline points="0,0 1,0 2,0 3,0 4,0 5,0 6,0 7,0 8,0 9,0 10,0 11,0 12,0 13,0 14,0 15,0 16,4 17,31 18,122 19,203 20,82 21,13 22,151 23,51 24,34 25,191 26,155 27,49 28,8 29,1 30,0 31,0 32,0 33,0 34,0 35,0 36,0 37,0 38,0 39,0" stroke="#C8A424"/>
<polyline points="0,0 1,0 2,0 3,0 4,0 5,0 6,0 7,0 8,0 9,0 10,2 11,16 12,66 13,176 14,288 15,293 16,184 17,71 18,17 19,3 20,0 21,0 22,0 23,0 24,0 25,0 26,0 27,0 28,0 29,0 30,0 31,0 32,0 33,0 34,0 35,0 36,0 37,0 38,0 39,0" stroke="#BE48C0"/>
<polyline points="0,0 1,0 2,0 3,0 4,0 5,0 6,0 7,0 8,0 9,0 10,0 11,4 12,31 13,107 14,131 15,12 16,61 17,68 18,12 19,100 20,5 21,78 22,139 23,62 24,12 25,1 26,0 27,0 28,0 29,0 30,0 31,0 32,0 33,0 34,0 35,0 36,0 37,0 38,0 39,0" stroke="#5284B8"/>
<polyline points="0,396 1,321 2,271 3,195 4,146 5,106 6,54 7,28 8,0 9,0 10,0 11,0 12,0 13,0 14,0 15,0 16,0 17,0 18,0 19,0 20,0 21,0 22,0 23,0 24,0 25,0 26,0 27,0 28,0 29,0 30,0 31,0 32,0 33,0 34,0 35,0 36,0 37,0 38,0 39,0" stroke="#EE6A24"/>
<polyline points="0,482 1,391 2,310 3,233 4,178 5,127 6,65 7,35 8,0 9,0 10,0 11,0 12,0 13,0 14,0 15,0 16,0 17,0 18,0 19,0 20,0 21,0 22,0 23,0 24,0 25,0 26,0 27,0 28,0 29,0 30,0 31,0 32,0 33,0 34,0 35,0 36,0 37,0 38,0 39,0" stroke="#8E4EE0"/>
<polyline points="0,0 1,0 2,0 3,0 4,5 5,32 6,121 7,224 8,161 9,8 10,81 11,224 12,175 13,63 14,12 15,1 16,0 17,0 18,0 19,0 20,0 21,0 22,0 23,0 24,0 25,0 26,0 27,0 28,0 29,0 30,0 31,0 32,0 33,0 34,0 35,0 36,0 37,0 38,0 39,0" stroke="#EDA02A"/>
<polyline points="0,0 1,0 2,0 3,0 4,0 5,0 6,0 7,0 8,0 9,0 10,0 11,0 12,0 13,0 14,0 15,0 16,2 17,15 18,64 19,140 20,129 21,19 22,30 23,138 24,133 25,56 26,12 27,1 28,0 29,0 30,0 31,0 32,0 33,0 34,0 35,0 36,0 37,0 38,0 39,0" stroke="#55A070"/>
<polyline points="0,0 1,0 2,0 3,0 4,0 5,0 6,0 7,0 8,0 9,0 10,0 11,0 12,1 13,11 14,54 15,158 16,280 17,300 18,195 19,77 20,18 21,3 22,0 23,0 24,0 25,0 26,0 27,0 28,0 29,0 30,0 31,0 32,0 33,0 34,0 35,0 36,0 37,0 38,0 39,0" stroke="#C26A1C"/>
<polyline points="0,0 1,0 2,0 3,0 4,0 5,0 6,0 7,0 8,0 9,0 10,0 11,0 12,4 13,26 14,99 15,232 16,339 17,306 18,171 19,59 20,13 21,2 22,0 23,0 24,0 25,0 26,0 27,0 28,0 29,0 30,0 31,0 32,0 33,0 34,0 35,0 36,0 37,0 38,0 39,0" stroke="#6670DC"/>
<polyline points="0,0 1,0 2,0 3,0 4,0 5,0 6,0 7,0 8,0 9,0 10,0 11,0 12,0 13,0 14,0 15,0 16,0 17,0 18,0 19,0 20,0 21,0 22,0 23,0 24,2 25,14 26,62 27,167 28,273 29,270 30,162 31,59 32,13 33,2 34,0 35,0 36,0 37,0 38,0 39,0" stroke="#C8A424"/>
<polyline points="0,176 1,304 2,325 3,215 4,88 5,22 6,4 7,0 8,0 9,0 10,0 11,0 12,0 13,0 14,0 15,0 16,0 17,0 18,0 19,0 20,0 21,0 22,0 23,0 24,0 25,0 26,0 27,0 28,0 29,0 30,0 31,0 32,0 33,0 34,0 35,0 36,0 37,0 38,0 39,0" stroke="#BE48C0"/>
<polyline points="0,0 1,0 2,0 3,0 4,0 5,0 6,0 7,0 8,0 9,0 10,0 11,0 12,0 13,0 14,0 15,0 16,0 17,0 18,0 19,0 20,4 21,25 22,97 23,223 24,312 25,265 26,136 27,42 28,8 29,1 30,0 31,0 32,0 33,0 34,0 35,0 36,0 37,0 38,0 39,0" stroke="#5284B8"/>
<polyline points="0,0 1,0 2,0 3,0 4,0 5,0 6,0 7,0 8,0 9,0 10,0 11,0 12,0 13,0 14,0 15,0 16,0 17,0 18,0 19,0 20,0 21,0 22,0 23,0 24,0 25,0 26,0 27,0 28,0 29,3 30,24 31,102 32,220 33,199 34,28 35,49 36,217 37,206 38,85 39,18" stroke="#EE6A24"/>
<polyline points="0,0 1,0 2,0 3,0 4,0 5,0 6,2 7,12 8,52 9,144 10,240 11,243 12,149 13,55 14,12 15,2 16,0 17,0 18,0 19,0 20,0 21,0 22,0 23,0 24,0 25,0 26,0 27,0 28,0 29,0 30,0 31,0 32,0 33,0 34,0 35,0 36,0 37,0 38,0 39,0" stroke="#8E4EE0"/>
<polyline points="0,0 1,0 2,0 3,0 4,0 5,0 6,0 7,0 8,0 9,0 10,0 11,0 12,0 13,5 14,29 15,106 16,232 17,310 18,251 19,123 20,37 21,7 22,1 23,0 24,0 25,0 26,0 27,0 28,0 29,0 30,0 31,0 32,0 33,0 34,0 35,0 36,0 37,0 38,0 39,0" stroke="#EDA02A"/>
<polyline points="0,0 1,0 2,2 3,18 4,75 5,156 6,134 7,16 8,40 9,154 10,140 11,56 12,12 13,1 14,0 15,0 16,0 17,0 18,0 19,0 20,0 21,0 22,0 23,0 24,0 25,0 26,0 27,0 28,0 29,0 30,0 31,0 32,0 33,0 34,0 35,0 36,0 37,0 38,0 39,0" stroke="#55A070"/>
<polyline points="0,455 1,283 2,144 3,58 4,19 5,0 6,0 7,0 8,0 9,0 10,0 11,0 12,0 13,0 14,0 15,0 16,0 17,0 18,0 19,0 20,0 21,0 22,0 23,0 24,0 25,0 26,0 27,0 28,0 29,0 30,0 31,0 32,0 33,0 34,0 35,0 36,0 37,0 38,0 39,0" stroke="#C26A1C"/>
<polyline points="0,0 1,0 2,3 3,18 4,75 5,191 6,298 7,281 8,161 9,56 10,12 11,2 12,0 13,0 14,0 15,0 16,0 17,0 18,0 19,0 20,0 21,0 22,0 23,0 24,0 25,0 26,0 27,0 28,0 29,0 30,0 31,0 32,0 33,0 34,0 35,0 36,0 37,0 38,0 39,0" stroke="#6670DC"/>
<polyline points="0,362 1,208 2,108 3,42 4,15 5,0 6,0 7,0 8,0 9,0 10,0 11,0 12,0 13,0 14,0 15,0 16,0 17,0 18,0 19,0 20,0 21,0 22,0 23,0 24,0 25,0 26,0 27,0 28,0 29,0 30,0 31,0 32,0 33,0 34,0 35,0 36,0 37,0 38,0 39,0" stroke="#C8A424"/>
<polyline points="0,165 1,290 2,308 3,199 4,78 5,18 6,3 7,0 8,0 9,0 10,0 11,0 12,0 13,0 14,0 15,0 16,0 17,0 18,0 19,0 20,0 21,0 22,0 23,0 24,0 25,0 26,0 27,0 28,0 29,0 30,0 31,0 32,0 33,0 34,0 35,0 36,0 37,0 38,0 39,0" stroke="#BE48C0"/>
<polyline points="0,102 1,7 2,61 3,140 4,81 5,20 6,3 7,0 8,0 9,0 10,0 11,0 12,0 13,0 14,0 15,0 16,0 17,0 18,0 19,0 20,0 21,0 22,0 23,0 24,0 25,0 26,0 27,0 28,0 29,0 30,0 31,0 32,0 33,0 34,0 35,0 36,0 37,0 38,0 39,0" stroke="#5284B8"/>
<polyline points="0,0 1,0 2,0 3,0 4,0 5,0 6,0 7,0 8,0 9,0 10,0 11,0 12,0 13,0 14,0 15,0 16,0 17,0 18,0 19,0 20,0 21,0 22,0 23,0 24,0 25,0 26,0 27,0 28,0 29,0 30,0 31,0 32,0 33,0 34,1 35,7 36,38 37,127 38,261 39,331" stroke="#EE6A24"/>
<polyline points="0,84 1,186 2,251 3,205 4,102 5,31 6,6 7,1 8,0 9,0 10,0 11,0 12,0 13,0 14,0 15,0 16,0 17,0 18,0 19,0 20,0 21,0 22,0 23,0 24,0 25,0 26,0 27,0 28,0 29,0 30,0 31,0 32,0 33,0 34,0 35,0 36,0 37,0 38,0 39,0" stroke="#8E4EE0"/>
<polyline points="0,0 1,0 2,1 3,8 4,41 5,135 6,278 7,353 8,278 9,135 10,41 11,8 12,1 13,0 14,0 15,0 16,0 17,0 18,0 19,0 20,0 21,0 22,0 23,0 24,0 25,0 26,0 27,0 28,0 29,0 30,0 31,0 32,0 33,0 34,0 35,0 36,0 37,0 38,0 39,0" stroke="#EDA02A"/>
<polyline points="0,0 1,0 2,0 3,0 4,4 5,22 6,80 7,173 8,229 9,183 10,89 11,26 12,5 13,1 14,0 15,0 16,0 17,0 18,0 19,0 20,0 21,0 22,0 23,0 24,0 25,0 26,0 27,0 28,0 29,0 30,0 31,0 32,0 33,0 34,0 35,0 36,0 37,0 38,0 39,0" stroke="#55A070"/>
<polyline points="0,0 1,0 2,0 3,0 4,0 5,0 6,0 7,0 8,0 9,0 10,0 11,0 12,0 13,0 14,0 15,0 16,0 17,0 18,0 19,0 20,0 21,0 22,0 23,2 24,14 25,55 26,131 27,191 28,169 29,91 30,30 31,6 32,1 33,0 34,0 35,0 36,0 37,0 38,0 39,0" stroke="#C26A1C"/>
<polyline points="0,0 1,0 2,0 3,0 4,0 5,0 6,0 7,0 8,0 9,0 10,0 11,0 12,0 13,0 14,0 15,0 16,0 17,0 18,0 19,0 20,0 21,0 22,0 23,0 24,0 25,0 26,0 27,0 28,0 29,0 30,1 31,7 32,39 33,128 34,262 35,333 36,262 37,128 38,39 39,7" stroke="#6670DC"/>
<polyline points="0,0 1,0 2,0 3,0 4,0 5,0 6,0 7,0 8,0 9,0 10,0 11,0 12,0 13,0 14,0 15,0 16,0 17,0 18,0 19,0 20,0 21,0 22,0 23,0 24,2 25,19 26,86 27,175 28,107 29,1 30,116 31,77 32,9 33,148 34,157 35,59 36,10 37,1 38,0 39,0" stroke="#C8A424"/>
<polyline points="0,0 1,0 2,0 3,0 4,0 5,0 6,0 7,0 8,0 9,0 10,0 11,0 12,0 13,0 14,0 15,0 16,0 17,0 18,0 19,0 20,0 21,0 22,0 23,0 24,0 25,0 26,0 27,0 28,0 29,0 30,1 31,6 32,31 33,101 34,198 35,234 36,169 37,74 38,19 39,3" stroke="#BE48C0"/>
<polyline points="0,0 1,0 2,0 3,0 4,0 5,0 6,0 7,0 8,0 9,0 10,0 11,0 12,0 13,0 14,0 15,0 16,3 17,18 18,68 19,154 20,211 21,176 22,89 23,27 24,5 25,1 26,0 27,0 28,0 29,0 30,0 31,0 32,0 33,0 34,0 35,0 36,0 37,0 38,0 39,0" stroke="#5284B8"/>
<polyline points="0,0 1,0 2,0 3,0 4,0 5,0 6,0 7,0 8,0 9,0 10,0 11,0 12,0 13,0 14,0 15,0 16,0 17,0 18,0 19,0 20,0 21,0 22,0 23,0 24,0 25,0 26,0 27,0 28,1 29,7 30,40 31,134 32,274 33,338 34,253 35,115 36,32 37,5 38,1 39,0" stroke="#EE6A24"/>
<polyline points="0,0 1,0 2,0 3,0 4,0 5,0 6,0 7,0 8,0 9,0 10,0 11,0 12,0 13,0 14,0 15,0 16,0 17,0 18,0 19,0 20,0 21,0 22,0 23,0 24,0 25,0 26,0 27,0 28,0 29,0 30,0 31,0 32,0 33,0 34,0 35,42 36,110 37,229 38,346 39,207" stroke="#8E4EE0"/>
<polyline points="0,0 1,0 2,0 3,0 4,0 5,0 6,0 7,0 8,1 9,6 10,32 11,97 12,179 13,200 14,136 15,56 16,14 17,2 18,0 19,0 20,0 21,0 22,0 23,0 24,0 25,0 26,0 27,0 28,0 29,0 30,0 31,0 32,0 33,0 34,0 35,0 36,0 37,0 38,0 39,0" stroke="#EDA02A"/>
<polyline points="0,0 1,0 2,0 3,0 4,0 5,0 6,0 7,0 8,0 9,0 10,0 11,0 12,0 13,0 14,0 15,0 16,0 17,0 18,0 19,0 20,0 21,0 22,0 23,0 24,0 25,0 26,0 27,0 28,2 29,12 30,53 31,145 32,242 33,244 34,150 35,56 36,13 37,2 38,0 39,0" stroke="#55A070"/>
<polyline points="0,0 1,0 2,0 3,0 4,0 5,0 6,0 7,0 8,0 9,0 10,0 11,0 12,0 13,3 14,18 15,68 16,155 17,214 18,180 19,91 20,28 21,5 22,1 23,0 24,0 25,0 26,0 27,0 28,0 29,0 30,0 31,0 32,0 33,0 34,0 35,0 36,0 37,0 38,0 39,0" stroke="#C26A1C"/>
<polyline points="0,0 1,0 2,0 3,0 4,0 5,0 6,0 7,0 8,4 9,24 10,94 11,224 12,325 13,286 14,153 15,50 16,10 17,1 18,0 19,0 20,0 21,0 22,0 23,0 24,0 25,0 26,0 27,0 28,0 29,0 30,0 31,0 32,0 33,0 34,0 35,0 36,0 37,0 38,0 39,0" stroke="#6670DC"/>
<polyline points="0,0 1,0 2,0 3,0 4,0 5,0 6,0 7,0 8,0 9,0 10,0 11,1 12,11 13,53 14,161 15,303 16,353 17,255 18,114 19,32 20,5 21,1 22,0 23,0 24,0 25,0 26,0 27,0 28,0 29,0 30,0 31,0 32,0 33,0 34,0 35,0 36,0 37,0 38,0 39,0" stroke="#C8A424"/>
<polyline points="0,0 1,0 2,0 3,0 4,0 5,0 6,0 7,0 8,0 9,0 10,0 11,0 12,0 13,0 14,0 15,0 16,0 17,0 18,0 19,0 20,0 21,2 22,13 23,54 24,143 25,227 26,219 27,128 28,46 29,10 30,1 31,0 32,0 33,0 34,0 35,0 36,0 37,0 38,0 39,0" stroke="#BE48C0"/>
<polyline points="0,0 1,0 2,0 3,0 4,0 5,0 6,0 7,0 8,0 9,0 10,0 11,0 12,0 13,0 14,0 15,0 16,0 17,3 18,28 19,106 20,102 21,1 22,87 23,0 24,74 25,13 26,48 27,45 28,20 29,70 30,20 31,64 32,125 33,45 34,6 35,0 36,0 37,0 38,0 39,0" stroke="#5284B8"/>
<polyline points="0,0 1,0 2,3 3,22 4,87 5,208 6,304 7,270 8,145 9,47 10,9 11,1 12,0 13,0 14,0 15,0 16,0 17,0 18,0 19,0 20,0 21,0 22,0 23,0 24,0 25,0 26,0 27,0 28,0 29,0 30,0 31,0 32,0 33,0 34,0 35,0 36,0 37,0 38,0 39,0" stroke="#EE6A24"/>
<polyline points="0,1 1,7 2,38 3,125 4,256 5,326 6,256 7,125 8,38 9,7 10,1 11,0 12,0 13,0 14,0 15,0 16,0 17,0 18,0 19,0 20,0 21,0 22,0 23,0 24,0 25,0 26,0 27,0 28,0 29,0 30,0 31,0 32,0 33,0 34,0 35,0 36,0 37,0 38,0 39,0" stroke="#8E4EE0"/>
<polyline points="0,0 1,0 2,0 3,0 4,0 5,0 6,0 7,0 8,0 9,0 10,0 11,0 12,0 13,0 14,0 15,0 16,0 17,0 18,0 19,0 20,0 21,0 22,0 23,0 24,0 25,0 26,0 27,0 28,0 29,0 30,0 31,0 32,0 33,0 34,0 35,0 36,2 37,13 38,60 39,164" stroke="#EDA02A"/>
<polyline points="0,0 1,0 2,0 3,0 4,0 5,0 6,0 7,0 8,0 9,0 10,0 11,0 12,0 13,0 14,0 15,0 16,0 17,0 18,0 19,0 20,0 21,2 22,15 23,65 24,174 25,287 26,293 27,185 28,72 29,17 30,3 31,0 32,0 33,0 34,0 35,0 36,0 37,0 38,0 39,0" stroke="#55A070"/>
<polyline points="0,0 1,0 2,0 3,0 4,0 5,0 6,0 7,0 8,0 9,0 10,0 11,0 12,0 13,0 14,0 15,0 16,0 17,0 18,0 19,0 20,0 21,0 22,0 23,0 24,0 25,0 26,0 27,0 28,0 29,0 30,0 31,0 32,0 33,0 34,0 35,47 36,125 37,271 38,391 39,242" stroke="#C26A1C"/>
<polyline points="0,193 1,220 2,153 3,64 4,16 5,3 6,0 7,0 8,0 9,0 10,0 11,0 12,0 13,0 14,0 15,0 16,0 17,0 18,0 19,0 20,0 21,0 22,0 23,0 24,0 25,0 26,0 27,0 28,0 29,0 30,0 31,0 32,0 33,0 34,0 35,0 36,0 37,0 38,0 39,0" stroke="#6670DC"/>
<polyline points="0,0 1,0 2,0 3,0 4,0 5,0 6,0 7,0 8,0 9,0 10,0 11,0 12,0 13,0 14,0 15,0 16,0 17,0 18,0 19,0 20,0 21,0 22,0 23,0 24,0 25,1 26,8 27,40 28,134 29,276 30,350 31,276 32,134 33,40 34,8 35,1 36,0 37,0 38,0 39,0" stroke="#C8A424"/>
<polyline points="0,0 1,0 2,0 3,0 4,0 5,0 6,0 7,0 8,0 9,0 10,0 11,0 12,0 13,0 14,4 15,22 16,81 17,179 18,241 19,197 20,98 21,29 22,5 23,1 24,0 25,0 26,0 27,0 28,0 29,0 30,0 31,0 32,0 33,0 34,0 35,0 36,0 37,0 38,0 39,0" stroke="#BE48C0"/>
<polyline points="0,482 1,418 2,329 3,252 4,203 5,123 6,73 7,35 8,0 9,0 10,0 11,0 12,0 13,0 14,0 15,0 16,0 17,0 18,0 19,0 20,0 21,0 22,0 23,0 24,0 25,0 26,0 27,0 28,0 29,0 30,0 31,0 32,0 33,0 34,0 35,0 36,0 37,0 38,0 39,0" stroke="#5284B8"/>
<polyline points="0,0 1,0 2,0 3,0 4,0 5,0 6,0 7,0 8,0 9,0 10,0 11,0 12,0 13,0 14,0 15,0 16,0 17,0 18,0 19,0 20,0 21,0 22,0 23,0 24,0 25,0 26,0 27,0 28,0 29,0 30,0 31,3 32,19 33,79 34,199 35,310 36,299 37,179 38,66 39,15" stroke="#EE6A24"/>
<polyline points="0,0 1,0 2,0 3,0 4,0 5,0 6,0 7,0 8,0 9,0 10,0 11,0 12,0 13,0 14,0 15,0 16,0 17,0 18,0 19,0 20,0 21,0 22,0 23,0 24,0 25,0 26,0 27,0 28,0 29,0 30,0 31,0 32,0 33,0 34,0 35,0 36,0 37,0 38,100 39,250" stroke="#5284B8"/></g></g>
<g clip-path="url(#cd)"><g transform="translate(420.2,452.7) scale(6.54615,-0.15780)" fill="none" stroke-width="2.6" vector-effect="non-scaling-stroke" stroke-linejoin="miter" stroke-miterlimit="4"><polyline points="0,414 1,564 2,265 3,552 4,231 5,286 6,91 7,175 8,75 9,95 10,35 11,68 12,26 13,30 14,20 15,18 16,5 17,4 18,0 19,0 20,0 21,0 22,0 23,0 24,0 25,0 26,0 27,0 28,0 29,0 30,0 31,0 32,0 33,0 34,0 35,0 36,0 37,0 38,0 39,0" stroke="#5284B8"/>
<polyline points="0,0 1,0 2,0 3,0 4,0 5,0 6,0 7,0 8,0 9,0 10,0 11,0 12,0 13,0 14,0 15,0 16,0 17,0 18,0 19,0 20,0 21,0 22,0 23,0 24,0 25,0 26,0 27,0 28,0 29,0 30,0 31,0 32,0 33,0 34,0 35,0 36,5 37,65 38,72 39,296" stroke="#EE6A24"/>
<polyline points="0,674 1,171 2,498 3,158 4,477 5,82 6,165 7,59 8,167 9,33 10,74 11,26 12,62 13,13 14,49 15,8 16,10 17,2 18,0 19,0 20,0 21,0 22,0 23,0 24,0 25,0 26,0 27,0 28,0 29,0 30,0 31,0 32,0 33,0 34,0 35,0 36,0 37,0 38,0 39,0" stroke="#8E4EE0"/>
<polyline points="0,0 1,0 2,0 3,0 4,0 5,0 6,0 7,0 8,0 9,0 10,0 11,0 12,0 13,0 14,0 15,40 16,0 17,0 18,0 19,29 20,0 21,0 22,0 23,30 24,0 25,0 26,0 27,40 28,0 29,0 30,0 31,48 32,0 33,0 34,0 35,104 36,0 37,0 38,0 39,0" stroke="#EDA02A"/>
<polyline points="0,0 1,0 2,0 3,0 4,0 5,0 6,0 7,0 8,0 9,0 10,0 11,0 12,0 13,0 14,0 15,34 16,0 17,0 18,0 19,27 20,0 21,0 22,0 23,32 24,0 25,0 26,0 27,43 28,0 29,0 30,0 31,57 32,0 33,0 34,0 35,104 36,0 37,0 38,0 39,0" stroke="#55A070"/>
<polyline points="0,628 1,160 2,464 3,147 4,423 5,77 6,157 7,50 8,153 9,31 10,62 11,20 12,54 13,10 14,40 15,6 16,9 17,2 18,0 19,0 20,0 21,0 22,0 23,0 24,0 25,0 26,0 27,0 28,0 29,0 30,0 31,0 32,0 33,0 34,0 35,0 36,0 37,0 38,0 39,0" stroke="#C26A1C"/>
<polyline points="0,196 1,403 2,127 3,303 4,79 5,117 6,26 7,60 8,15 9,28 10,6 11,15 12,3 13,5 14,2 15,2 16,0 17,0 18,0 19,0 20,0 21,0 22,0 23,0 24,0 25,0 26,0 27,0 28,0 29,0 30,0 31,0 32,0 33,0 34,0 35,0 36,0 37,0 38,0 39,0" stroke="#6670DC"/>
<polyline points="0,366 1,570 2,265 3,596 4,286 5,316 6,101 7,193 8,87 9,115 10,46 11,84 12,35 13,36 14,26 15,23 16,6 17,6 18,0 19,0 20,0 21,0 22,0 23,0 24,0 25,0 26,0 27,0 28,0 29,0 30,0 31,0 32,0 33,0 34,0 35,0 36,0 37,0 38,0 39,0" stroke="#C8A424"/>
<polyline points="0,607 1,173 2,468 3,155 4,424 5,93 6,153 7,55 8,145 9,35 10,62 11,24 12,53 13,11 14,41 15,7 16,9 17,2 18,0 19,0 20,0 21,0 22,0 23,0 24,0 25,0 26,0 27,0 28,0 29,0 30,0 31,0 32,0 33,0 34,0 35,0 36,0 37,0 38,0 39,0" stroke="#BE48C0"/>
<polyline points="0,902 1,272 2,693 3,249 4,638 5,133 6,241 7,109 8,226 9,71 10,103 11,41 12,86 13,23 14,68 15,11 16,15 17,3 18,0 19,0 20,0 21,0 22,0 23,0 24,0 25,0 26,0 27,0 28,0 29,0 30,0 31,0 32,0 33,0 34,0 35,0 36,0 37,0 38,0 39,0" stroke="#5284B8"/>
<polyline points="0,0 1,0 2,0 3,0 4,0 5,0 6,0 7,0 8,0 9,0 10,0 11,0 12,0 13,0 14,33 15,0 16,0 17,0 18,28 19,0 20,0 21,0 22,30 23,0 24,0 25,0 26,28 27,0 28,0 29,0 30,41 31,0 32,0 33,0 34,57 35,0 36,0 37,0 38,0 39,0" stroke="#EE6A24"/>
<polyline points="0,643 1,243 2,464 3,218 4,404 5,107 6,144 7,60 8,126 9,34 10,50 11,25 12,42 13,9 14,30 15,6 16,6 17,2 18,0 19,0 20,0 21,0 22,0 23,0 24,0 25,0 26,0 27,0 28,0 29,0 30,0 31,0 32,0 33,0 34,0 35,0 36,0 37,0 38,0 39,0" stroke="#8E4EE0"/>
<polyline points="0,252 1,620 2,190 3,561 4,154 5,293 6,57 7,186 8,51 9,111 10,23 11,78 12,17 13,34 14,15 15,21 16,3 17,5 18,0 19,0 20,0 21,0 22,0 23,0 24,0 25,0 26,0 27,0 28,0 29,0 30,0 31,0 32,0 33,0 34,0 35,0 36,0 37,0 38,0 39,0" stroke="#EDA02A"/>
<polyline points="0,313 1,446 2,162 3,340 4,132 5,151 6,38 7,76 8,30 9,38 10,11 11,20 12,7 13,8 14,4 15,4 16,1 17,1 18,0 19,0 20,0 21,0 22,0 23,0 24,0 25,0 26,0 27,0 28,0 29,0 30,0 31,0 32,0 33,0 34,0 35,0 36,0 37,0 38,0 39,0" stroke="#55A070"/>
<polyline points="0,822 1,192 2,606 3,185 4,565 5,94 6,206 7,69 8,206 9,36 10,89 11,28 12,77 13,14 14,62 15,8 16,13 17,2 18,0 19,0 20,0 21,0 22,0 23,0 24,0 25,0 26,0 27,0 28,0 29,0 30,0 31,0 32,0 33,0 34,0 35,0 36,0 37,0 38,0 39,0" stroke="#C26A1C"/>
<polyline points="0,862 1,259 2,631 3,230 4,570 5,136 6,218 7,88 8,206 9,57 10,93 11,39 12,76 13,16 14,60 15,11 16,13 17,3 18,0 19,0 20,0 21,0 22,0 23,0 24,0 25,0 26,0 27,0 28,0 29,0 30,0 31,0 32,0 33,0 34,0 35,0 36,0 37,0 38,0 39,0" stroke="#6670DC"/>
<polyline points="0,248 1,664 2,194 3,673 4,178 5,347 6,66 7,234 8,61 9,141 10,26 11,101 12,22 13,45 14,18 15,29 16,4 17,7 18,0 19,0 20,0 21,0 22,0 23,0 24,0 25,0 26,0 27,0 28,0 29,0 30,0 31,0 32,0 33,0 34,0 35,0 36,0 37,0 38,0 39,0" stroke="#C8A424"/>
<polyline points="0,0 1,0 2,0 3,0 4,0 5,0 6,0 7,0 8,0 9,0 10,0 11,0 12,0 13,0 14,17 15,0 16,0 17,0 18,17 19,0 20,0 21,0 22,16 23,0 24,0 25,0 26,18 27,0 28,0 29,0 30,22 31,0 32,0 33,0 34,33 35,0 36,0 37,0 38,0 39,0" stroke="#BE48C0"/>
<polyline points="0,640 1,164 2,479 3,162 4,441 5,96 6,165 7,54 8,152 9,33 10,71 11,26 12,61 13,12 14,47 15,7 16,10 17,2 18,0 19,0 20,0 21,0 22,0 23,0 24,0 25,0 26,0 27,0 28,0 29,0 30,0 31,0 32,0 33,0 34,0 35,0 36,0 37,0 38,0 39,0" stroke="#5284B8"/>
<polyline points="0,878 1,171 2,665 3,177 4,579 5,102 6,228 7,65 8,217 9,41 10,94 11,30 12,83 13,12 14,64 15,7 16,13 17,2 18,0 19,0 20,0 21,0 22,0 23,0 24,0 25,0 26,0 27,0 28,0 29,0 30,0 31,0 32,0 33,0 34,0 35,0 36,0 37,0 38,0 39,0" stroke="#EE6A24"/>
<polyline points="0,229 1,507 2,206 3,487 4,163 5,267 6,60 7,179 8,61 9,106 10,27 11,76 12,23 13,35 14,21 15,23 16,4 17,6 18,0 19,0 20,0 21,0 22,0 23,0 24,0 25,0 26,0 27,0 28,0 29,0 30,0 31,0 32,0 33,0 34,0 35,0 36,0 37,0 38,0 39,0" stroke="#8E4EE0"/>
<polyline points="0,238 1,602 2,185 3,570 4,156 5,322 6,58 7,203 8,61 9,117 10,29 11,86 12,25 13,40 14,17 15,26 16,3 17,6 18,0 19,0 20,0 21,0 22,0 23,0 24,0 25,0 26,0 27,0 28,0 29,0 30,0 31,0 32,0 33,0 34,0 35,0 36,0 37,0 38,0 39,0" stroke="#EDA02A"/>
<polyline points="0,388 1,601 2,278 3,605 4,249 5,314 6,98 7,197 8,90 9,121 10,38 11,85 12,33 13,37 14,26 15,24 16,6 17,6 18,0 19,0 20,0 21,0 22,0 23,0 24,0 25,0 26,0 27,0 28,0 29,0 30,0 31,0 32,0 33,0 34,0 35,0 36,0 37,0 38,0 39,0" stroke="#55A070"/>
<polyline points="0,289 1,465 2,239 3,448 4,192 5,249 6,69 7,161 8,68 9,95 10,31 11,68 12,25 13,32 14,20 15,20 16,5 17,5 18,0 19,0 20,0 21,0 22,0 23,0 24,0 25,0 26,0 27,0 28,0 29,0 30,0 31,0 32,0 33,0 34,0 35,0 36,0 37,0 38,0 39,0" stroke="#C26A1C"/>
<polyline points="0,0 1,0 2,0 3,0 4,0 5,0 6,0 7,0 8,0 9,0 10,0 11,0 12,0 13,0 14,52 15,0 16,0 17,0 18,47 19,0 20,0 21,0 22,47 23,0 24,0 25,0 26,44 27,0 28,0 29,0 30,57 31,0 32,0 33,0 34,84 35,0 36,0 37,0 38,0 39,0" stroke="#6670DC"/>
<polyline points="0,282 1,75 2,193 3,68 4,168 5,32 6,58 7,21 8,50 9,13 10,22 11,7 12,17 13,3 14,12 15,2 16,2 17,0 18,0 19,0 20,0 21,0 22,0 23,0 24,0 25,0 26,0 27,0 28,0 29,0 30,0 31,0 32,0 33,0 34,0 35,0 36,0 37,0 38,0 39,0" stroke="#C8A424"/>
<polyline points="0,538 1,151 2,418 3,162 4,389 5,87 6,135 7,48 8,131 9,33 10,63 11,23 12,50 13,10 14,40 15,6 16,9 17,1 18,0 19,0 20,0 21,0 22,0 23,0 24,0 25,0 26,0 27,0 28,0 29,0 30,0 31,0 32,0 33,0 34,0 35,0 36,0 37,0 38,0 39,0" stroke="#BE48C0"/>
<polyline points="0,814 1,286 2,593 3,277 4,535 5,117 6,188 7,77 8,161 9,44 10,68 11,30 12,56 13,13 14,39 15,8 16,8 17,2 18,0 19,0 20,0 21,0 22,0 23,0 24,0 25,0 26,0 27,0 28,0 29,0 30,0 31,0 32,0 33,0 34,0 35,0 36,0 37,0 38,0 39,0" stroke="#5284B8"/>
<polyline points="0,0 1,0 2,0 3,0 4,0 5,0 6,0 7,0 8,0 9,0 10,0 11,0 12,0 13,0 14,35 15,0 16,0 17,0 18,30 19,0 20,0 21,0 22,30 23,0 24,0 25,0 26,30 27,0 28,0 29,0 30,43 31,0 32,0 33,0 34,52 35,0 36,0 37,0 38,0 39,0" stroke="#EE6A24"/>
<polyline points="0,0 1,0 2,0 3,0 4,0 5,0 6,0 7,0 8,0 9,0 10,0 11,0 12,0 13,0 14,0 15,0 16,0 17,0 18,0 19,0 20,0 21,0 22,0 23,0 24,0 25,0 26,0 27,0 28,0 29,0 30,52 31,26 32,0 33,0 34,0 35,0 36,25 37,3 38,94 39,343" stroke="#8E4EE0"/>
<polyline points="0,689 1,139 2,448 3,117 4,362 5,55 6,117 7,30 8,100 9,16 10,41 11,11 12,29 13,4 14,21 15,2 16,4 17,0 18,0 19,0 20,0 21,0 22,0 23,0 24,0 25,0 26,0 27,0 28,0 29,0 30,0 31,0 32,0 33,0 34,0 35,0 36,0 37,0 38,0 39,0" stroke="#EDA02A"/>
<polyline points="0,787 1,232 2,580 3,226 4,574 5,107 6,211 7,80 8,199 9,44 10,89 11,36 12,74 13,13 14,57 15,11 16,12 17,3 18,0 19,0 20,0 21,0 22,0 23,0 24,0 25,0 26,0 27,0 28,0 29,0 30,0 31,0 32,0 33,0 34,0 35,0 36,0 37,0 38,0 39,0" stroke="#55A070"/>
<polyline points="0,744 1,182 2,549 3,181 4,500 5,92 6,184 7,54 8,166 9,29 10,75 11,22 12,61 13,9 14,48 15,6 16,10 17,2 18,0 19,0 20,0 21,0 22,0 23,0 24,0 25,0 26,0 27,0 28,0 29,0 30,0 31,0 32,0 33,0 34,0 35,0 36,0 37,0 38,0 39,0" stroke="#C26A1C"/>
<polyline points="0,0 1,0 2,0 3,0 4,0 5,0 6,0 7,0 8,0 9,0 10,0 11,0 12,0 13,0 14,0 15,0 16,0 17,0 18,0 19,0 20,0 21,0 22,0 23,0 24,0 25,0 26,0 27,0 28,0 29,0 30,0 31,0 32,0 33,0 34,102 35,94 36,26 37,81 38,91 39,395" stroke="#6670DC"/>
<polyline points="0,278 1,461 2,145 3,366 4,121 5,163 6,35 7,90 8,31 9,44 10,10 11,27 12,9 13,10 14,4 15,5 16,1 17,1 18,0 19,0 20,0 21,0 22,0 23,0 24,0 25,0 26,0 27,0 28,0 29,0 30,0 31,0 32,0 33,0 34,0 35,0 36,0 37,0 38,0 39,0" stroke="#C8A424"/>
<polyline points="0,200 1,518 2,176 3,537 4,141 5,289 6,62 7,177 8,48 9,110 10,23 11,81 12,23 13,36 14,17 15,22 16,3 17,6 18,0 19,0 20,0 21,0 22,0 23,0 24,0 25,0 26,0 27,0 28,0 29,0 30,0 31,0 32,0 33,0 34,0 35,0 36,0 37,0 38,0 39,0" stroke="#BE48C0"/>
<polyline points="0,308 1,595 2,243 3,550 4,215 5,277 6,78 7,186 8,70 9,103 10,31 11,74 12,26 13,33 14,18 15,20 16,4 17,5 18,0 19,0 20,0 21,0 22,0 23,0 24,0 25,0 26,0 27,0 28,0 29,0 30,0 31,0 32,0 33,0 34,0 35,0 36,0 37,0 38,0 39,0" stroke="#5284B8"/>
<polyline points="0,74 1,133 2,47 3,112 4,37 5,51 6,12 7,27 8,8 9,14 10,4 11,8 12,2 13,3 14,1 15,2 16,0 17,0 18,0 19,0 20,0 21,0 22,0 23,0 24,0 25,0 26,0 27,0 28,0 29,0 30,0 31,0 32,0 33,0 34,0 35,0 36,0 37,0 38,0 39,0" stroke="#EE6A24"/>
<polyline points="0,76 1,146 2,58 3,142 4,49 5,73 6,18 7,44 8,15 9,26 10,6 11,18 12,5 13,7 14,4 15,5 16,1 17,1 18,0 19,0 20,0 21,0 22,0 23,0 24,0 25,0 26,0 27,0 28,0 29,0 30,0 31,0 32,0 33,0 34,0 35,0 36,0 37,0 38,0 39,0" stroke="#8E4EE0"/>
<polyline points="0,767 1,162 2,559 3,172 4,494 5,81 6,181 7,60 8,175 9,32 10,76 11,23 12,65 13,9 14,49 15,7 16,10 17,1 18,0 19,0 20,0 21,0 22,0 23,0 24,0 25,0 26,0 27,0 28,0 29,0 30,0 31,0 32,0 33,0 34,0 35,0 36,0 37,0 38,0 39,0" stroke="#EDA02A"/>
<polyline points="0,287 1,525 2,183 3,428 4,144 5,180 6,44 7,94 8,34 9,47 10,12 11,28 12,9 13,10 14,5 15,6 16,1 17,1 18,0 19,0 20,0 21,0 22,0 23,0 24,0 25,0 26,0 27,0 28,0 29,0 30,0 31,0 32,0 33,0 34,0 35,0 36,0 37,0 38,0 39,0" stroke="#55A070"/>
<polyline points="0,223 1,444 2,152 3,387 4,137 5,202 6,47 7,119 8,35 9,64 10,14 11,42 12,11 13,18 14,9 15,11 16,2 17,2 18,0 19,0 20,0 21,0 22,0 23,0 24,0 25,0 26,0 27,0 28,0 29,0 30,0 31,0 32,0 33,0 34,0 35,0 36,0 37,0 38,0 39,0" stroke="#C26A1C"/>
<polyline points="0,0 1,0 2,0 3,0 4,0 5,0 6,0 7,0 8,0 9,0 10,0 11,0 12,0 13,0 14,0 15,0 16,0 17,0 18,0 19,0 20,0 21,0 22,0 23,0 24,0 25,0 26,0 27,0 28,0 29,0 30,0 31,0 32,0 33,0 34,0 35,0 36,13 37,91 38,90 39,172" stroke="#6670DC"/>
<polyline points="0,196 1,401 2,149 3,377 4,129 5,182 6,41 7,114 8,43 9,67 10,18 11,44 12,13 13,19 14,10 15,12 16,2 17,3 18,0 19,0 20,0 21,0 22,0 23,0 24,0 25,0 26,0 27,0 28,0 29,0 30,0 31,0 32,0 33,0 34,0 35,0 36,0 37,0 38,0 39,0" stroke="#C8A424"/>
<polyline points="0,341 1,625 2,249 3,590 4,241 5,309 6,76 7,189 8,91 9,116 10,34 11,77 12,26 13,36 14,24 15,22 16,4 17,5 18,0 19,0 20,0 21,0 22,0 23,0 24,0 25,0 26,0 27,0 28,0 29,0 30,0 31,0 32,0 33,0 34,0 35,0 36,0 37,0 38,0 39,0" stroke="#BE48C0"/>
<polyline points="0,705 1,193 2,439 3,160 4,370 5,73 6,110 7,39 8,93 9,18 10,35 11,11 12,24 13,5 14,15 15,3 16,3 17,1 18,0 19,0 20,0 21,0 22,0 23,0 24,0 25,0 26,0 27,0 28,0 29,0 30,0 31,0 32,0 33,0 34,0 35,0 36,0 37,0 38,0 39,0" stroke="#5284B8"/>
<polyline points="0,206 1,572 2,140 3,569 4,129 5,298 6,53 7,185 8,56 9,116 10,24 11,80 12,18 13,38 14,16 15,24 16,4 17,6 18,0 19,0 20,0 21,0 22,0 23,0 24,0 25,0 26,0 27,0 28,0 29,0 30,0 31,0 32,0 33,0 34,0 35,0 36,0 37,0 38,0 39,0" stroke="#EE6A24"/>
<polyline points="0,0 1,0 2,0 3,0 4,0 5,0 6,0 7,0 8,0 9,0 10,0 11,0 12,0 13,0 14,0 15,10 16,0 17,0 18,0 19,8 20,0 21,0 22,0 23,10 24,0 25,0 26,0 27,12 28,0 29,0 30,0 31,15 32,0 33,0 34,0 35,29 36,0 37,0 38,0 39,0" stroke="#8E4EE0"/>
<polyline points="0,800 1,178 2,572 3,193 4,548 5,87 6,199 7,63 8,182 9,37 10,80 11,26 12,65 13,10 14,50 15,8 16,11 17,2 18,0 19,0 20,0 21,0 22,0 23,0 24,0 25,0 26,0 27,0 28,0 29,0 30,0 31,0 32,0 33,0 34,0 35,0 36,0 37,0 38,0 39,0" stroke="#EDA02A"/>
<polyline points="0,217 1,410 2,147 3,385 4,132 5,201 6,49 7,122 8,48 9,71 10,18 11,47 12,14 13,21 14,11 15,14 16,2 17,3 18,0 19,0 20,0 21,0 22,0 23,0 24,0 25,0 26,0 27,0 28,0 29,0 30,0 31,0 32,0 33,0 34,0 35,0 36,0 37,0 38,0 39,0" stroke="#55A070"/>
<polyline points="0,881 1,179 2,648 3,182 4,623 5,93 6,236 7,64 8,215 9,34 10,100 11,27 12,84 13,12 14,63 15,8 16,14 17,2 18,0 19,0 20,0 21,0 22,0 23,0 24,0 25,0 26,0 27,0 28,0 29,0 30,0 31,0 32,0 33,0 34,0 35,0 36,0 37,0 38,0 39,0" stroke="#C26A1C"/>
<polyline points="0,254 1,101 2,186 3,87 4,158 5,43 6,55 7,24 8,48 9,15 10,21 11,8 12,16 13,4 14,12 15,2 16,2 17,1 18,0 19,0 20,0 21,0 22,0 23,0 24,0 25,0 26,0 27,0 28,0 29,0 30,0 31,0 32,0 33,0 34,0 35,0 36,0 37,0 38,0 39,0" stroke="#6670DC"/>
<polyline points="0,260 1,59 2,189 3,54 4,157 5,25 6,52 7,16 8,42 9,8 10,17 11,6 12,13 13,2 14,9 15,1 16,2 17,0 18,0 19,0 20,0 21,0 22,0 23,0 24,0 25,0 26,0 27,0 28,0 29,0 30,0 31,0 32,0 33,0 34,0 35,0 36,0 37,0 38,0 39,0" stroke="#C8A424"/>
<polyline points="0,155 1,378 2,127 3,356 4,95 5,184 6,38 7,119 8,37 9,71 10,14 11,46 12,13 13,21 14,9 15,13 16,2 17,3 18,0 19,0 20,0 21,0 22,0 23,0 24,0 25,0 26,0 27,0 28,0 29,0 30,0 31,0 32,0 33,0 34,0 35,0 36,0 37,0 38,0 39,0" stroke="#BE48C0"/>
<polyline points="0,0 1,0 2,0 3,0 4,0 5,0 6,0 7,0 8,0 9,0 10,0 11,0 12,0 13,0 14,0 15,0 16,0 17,0 18,0 19,0 20,0 21,0 22,0 23,0 24,0 25,0 26,0 27,0 28,0 29,0 30,0 31,0 32,0 33,0 34,0 35,0 36,3 37,63 38,334 39,719" stroke="#5284B8"/>
<polyline points="0,698 1,174 2,477 3,156 4,384 5,66 6,122 7,40 8,99 9,20 10,36 11,13 12,27 13,4 14,19 15,3 16,3 17,0 18,0 19,0 20,0 21,0 22,0 23,0 24,0 25,0 26,0 27,0 28,0 29,0 30,0 31,0 32,0 33,0 34,0 35,0 36,0 37,0 38,0 39,0" stroke="#EE6A24"/>
<polyline points="0,604 1,125 2,473 3,131 4,417 5,74 6,154 7,48 8,150 9,31 10,70 11,20 12,57 13,9 14,45 15,5 16,10 17,2 18,0 19,0 20,0 21,0 22,0 23,0 24,0 25,0 26,0 27,0 28,0 29,0 30,0 31,0 32,0 33,0 34,0 35,0 36,0 37,0 38,0 39,0" stroke="#8E4EE0"/>
<polyline points="0,415 1,682 2,305 3,660 4,244 5,349 6,107 7,223 8,95 9,134 10,34 11,93 12,36 13,42 14,25 15,27 16,6 17,6 18,0 19,0 20,0 21,0 22,0 23,0 24,0 25,0 26,0 27,0 28,0 29,0 30,0 31,0 32,0 33,0 34,0 35,0 36,0 37,0 38,0 39,0" stroke="#EDA02A"/>
<polyline points="0,110 1,243 2,77 3,242 4,66 5,123 6,27 7,80 8,27 9,48 10,10 11,31 12,9 13,15 14,6 15,9 16,1 17,2 18,0 19,0 20,0 21,0 22,0 23,0 24,0 25,0 26,0 27,0 28,0 29,0 30,0 31,0 32,0 33,0 34,0 35,0 36,0 37,0 38,0 39,0" stroke="#55A070"/>
<polyline points="0,219 1,333 2,164 3,317 4,165 5,169 6,58 7,107 8,47 9,67 10,24 11,43 12,19 13,21 14,14 15,13 16,3 17,3 18,0 19,0 20,0 21,0 22,0 23,0 24,0 25,0 26,0 27,0 28,0 29,0 30,0 31,0 32,0 33,0 34,0 35,0 36,0 37,0 38,0 39,0" stroke="#C26A1C"/>
<polyline points="0,416 1,674 2,309 3,635 4,238 5,325 6,85 7,208 8,85 9,122 10,31 11,82 12,28 13,37 14,24 15,23 16,4 17,5 18,0 19,0 20,0 21,0 22,0 23,0 24,0 25,0 26,0 27,0 28,0 29,0 30,0 31,0 32,0 33,0 34,0 35,0 36,0 37,0 38,0 39,0" stroke="#6670DC"/>
<polyline points="0,161 1,320 2,131 3,303 4,110 5,152 6,39 7,98 8,32 9,56 10,13 11,37 12,12 13,17 14,9 15,10 16,2 17,2 18,0 19,0 20,0 21,0 22,0 23,0 24,0 25,0 26,0 27,0 28,0 29,0 30,0 31,0 32,0 33,0 34,0 35,0 36,0 37,0 38,0 39,0" stroke="#C8A424"/>
<polyline points="0,758 1,251 2,592 3,296 4,542 5,162 6,204 7,86 8,205 9,64 10,87 11,39 12,75 13,17 14,62 15,13 16,13 17,3 18,0 19,0 20,0 21,0 22,0 23,0 24,0 25,0 26,0 27,0 28,0 29,0 30,0 31,0 32,0 33,0 34,0 35,0 36,0 37,0 38,0 39,0" stroke="#BE48C0"/>
<polyline points="0,351 1,101 2,245 3,115 4,224 5,51 6,80 7,30 8,76 9,18 10,33 11,14 12,26 13,7 14,21 15,4 16,4 17,1 18,0 19,0 20,0 21,0 22,0 23,0 24,0 25,0 26,0 27,0 28,0 29,0 30,0 31,0 32,0 33,0 34,0 35,0 36,0 37,0 38,0 39,0" stroke="#5284B8"/>
<polyline points="0,897 1,304 2,679 3,304 4,646 5,176 6,240 7,100 8,225 9,56 10,102 11,48 12,85 13,19 14,68 15,14 16,14 17,3 18,0 19,0 20,0 21,0 22,0 23,0 24,0 25,0 26,0 27,0 28,0 29,0 30,0 31,0 32,0 33,0 34,0 35,0 36,0 37,0 38,0 39,0" stroke="#EE6A24"/>
<polyline points="0,857 1,201 2,646 3,174 4,589 5,98 6,232 7,63 8,219 9,38 10,94 11,28 12,84 13,13 14,64 15,8 16,14 17,2 18,0 19,0 20,0 21,0 22,0 23,0 24,0 25,0 26,0 27,0 28,0 29,0 30,0 31,0 32,0 33,0 34,0 35,0 36,0 37,0 38,0 39,0" stroke="#8E4EE0"/>
<polyline points="0,35 1,101 2,27 3,99 4,25 5,51 6,9 7,34 8,9 9,20 10,4 11,14 12,3 13,6 14,3 15,4 16,1 17,1 18,0 19,0 20,0 21,0 22,0 23,0 24,0 25,0 26,0 27,0 28,0 29,0 30,0 31,0 32,0 33,0 34,0 35,0 36,0 37,0 38,0 39,0" stroke="#EDA02A"/>
<polyline points="0,672 1,205 2,488 3,193 4,477 5,102 6,169 7,66 8,168 9,35 10,74 11,28 12,60 13,13 14,46 15,8 16,10 17,2 18,0 19,0 20,0 21,0 22,0 23,0 24,0 25,0 26,0 27,0 28,0 29,0 30,0 31,0 32,0 33,0 34,0 35,0 36,0 37,0 38,0 39,0" stroke="#55A070"/>
<polyline points="0,0 1,0 2,0 3,0 4,0 5,0 6,0 7,0 8,0 9,0 10,0 11,0 12,0 13,0 14,0 15,0 16,0 17,0 18,0 19,0 20,0 21,0 22,0 23,0 24,0 25,0 26,0 27,0 28,0 29,0 30,0 31,0 32,0 33,0 34,92 35,89 36,9 37,83 38,16 39,45" stroke="#C26A1C"/>
<polyline points="0,827 1,254 2,586 3,238 4,532 5,146 6,201 7,92 8,187 9,50 10,81 11,37 12,67 13,17 14,52 15,9 16,11 17,3 18,0 19,0 20,0 21,0 22,0 23,0 24,0 25,0 26,0 27,0 28,0 29,0 30,0 31,0 32,0 33,0 34,0 35,0 36,0 37,0 38,0 39,0" stroke="#6670DC"/>
<polyline points="0,482 1,153 2,350 3,174 4,328 5,85 6,116 7,47 8,107 9,30 10,44 11,17 12,36 13,9 14,26 15,5 16,5 17,1 18,0 19,0 20,0 21,0 22,0 23,0 24,0 25,0 26,0 27,0 28,0 29,0 30,0 31,0 32,0 33,0 34,0 35,0 36,0 37,0 38,0 39,0" stroke="#C8A424"/>
<polyline points="0,272 1,601 2,232 3,591 4,170 5,284 6,66 7,179 8,52 9,103 10,23 11,67 12,17 13,30 14,14 15,18 16,2 17,4 18,0 19,0 20,0 21,0 22,0 23,0 24,0 25,0 26,0 27,0 28,0 29,0 30,0 31,0 32,0 33,0 34,0 35,0 36,0 37,0 38,0 39,0" stroke="#BE48C0"/>
<polyline points="0,315 1,457 2,229 3,440 4,212 5,222 6,75 7,142 8,74 9,89 10,28 11,59 12,27 13,28 14,19 15,17 16,5 17,4 18,0 19,0 20,0 21,0 22,0 23,0 24,0 25,0 26,0 27,0 28,0 29,0 30,0 31,0 32,0 33,0 34,0 35,0 36,0 37,0 38,0 39,0" stroke="#5284B8"/>
<polyline points="0,0 1,0 2,0 3,0 4,0 5,0 6,0 7,0 8,0 9,0 10,0 11,0 12,0 13,0 14,0 15,0 16,0 17,0 18,0 19,0 20,0 21,0 22,0 23,0 24,0 25,0 26,0 27,0 28,0 29,0 30,0 31,0 32,0 33,0 34,15 35,81 36,26 37,113 38,132 39,528" stroke="#EE6A24"/>
<polyline points="0,0 1,0 2,0 3,0 4,0 5,0 6,0 7,0 8,0 9,0 10,0 11,0 12,0 13,0 14,0 15,0 16,0 17,0 18,0 19,0 20,0 21,0 22,0 23,0 24,0 25,0 26,0 27,0 28,0 29,0 30,0 31,0 32,0 33,0 34,0 35,0 36,21 37,67 38,334 39,776" stroke="#8E4EE0"/>
<polyline points="0,0 1,0 2,0 3,0 4,0 5,0 6,0 7,0 8,0 9,0 10,0 11,0 12,0 13,0 14,0 15,17 16,0 17,0 18,0 19,14 20,0 21,0 22,0 23,15 24,0 25,0 26,0 27,21 28,0 29,0 30,0 31,24 32,0 33,0 34,0 35,43 36,0 37,0 38,0 39,0" stroke="#EDA02A"/>
<polyline points="0,130 1,290 2,93 3,284 4,97 5,147 6,36 7,98 8,35 9,57 10,17 11,41 12,12 13,20 14,9 15,13 16,2 17,3 18,0 19,0 20,0 21,0 22,0 23,0 24,0 25,0 26,0 27,0 28,0 29,0 30,0 31,0 32,0 33,0 34,0 35,0 36,0 37,0 38,0 39,0" stroke="#55A070"/>
<polyline points="0,523 1,124 2,399 3,113 4,379 5,65 6,131 7,43 8,128 9,26 10,60 11,18 12,49 13,7 14,38 15,5 16,8 17,1 18,0 19,0 20,0 21,0 22,0 23,0 24,0 25,0 26,0 27,0 28,0 29,0 30,0 31,0 32,0 33,0 34,0 35,0 36,0 37,0 38,0 39,0" stroke="#C26A1C"/>
<polyline points="0,217 1,54 2,150 3,47 4,125 5,22 6,41 7,13 8,34 9,8 10,13 11,4 12,10 13,2 14,7 15,1 16,1 17,0 18,0 19,0 20,0 21,0 22,0 23,0 24,0 25,0 26,0 27,0 28,0 29,0 30,0 31,0 32,0 33,0 34,0 35,0 36,0 37,0 38,0 39,0" stroke="#6670DC"/>
<polyline points="0,214 1,294 2,107 3,221 4,71 5,88 6,23 7,44 8,15 9,20 10,6 11,10 12,3 13,4 14,2 15,2 16,0 17,0 18,0 19,0 20,0 21,0 22,0 23,0 24,0 25,0 26,0 27,0 28,0 29,0 30,0 31,0 32,0 33,0 34,0 35,0 36,0 37,0 38,0 39,0" stroke="#C8A424"/>
<polyline points="0,447 1,129 2,308 3,120 4,289 5,68 6,102 7,45 8,100 9,26 10,44 11,17 12,35 13,8 14,28 15,5 16,6 17,1 18,0 19,0 20,0 21,0 22,0 23,0 24,0 25,0 26,0 27,0 28,0 29,0 30,0 31,0 32,0 33,0 34,0 35,0 36,0 37,0 38,0 39,0" stroke="#BE48C0"/>
<polyline points="0,180 1,495 2,143 3,468 4,134 5,264 6,49 7,162 8,54 9,100 10,23 11,71 12,19 13,33 14,14 15,21 16,3 17,5 18,0 19,0 20,0 21,0 22,0 23,0 24,0 25,0 26,0 27,0 28,0 29,0 30,0 31,0 32,0 33,0 34,0 35,0 36,0 37,0 38,0 39,0" stroke="#5284B8"/>
<polyline points="0,469 1,156 2,316 3,134 4,276 5,65 6,91 7,39 8,81 9,23 10,32 11,17 12,26 13,7 14,19 15,4 16,3 17,1 18,0 19,0 20,0 21,0 22,0 23,0 24,0 25,0 26,0 27,0 28,0 29,0 30,0 31,0 32,0 33,0 34,0 35,0 36,0 37,0 38,0 39,0" stroke="#EE6A24"/>
<polyline points="0,0 1,0 2,0 3,0 4,0 5,0 6,0 7,0 8,0 9,0 10,0 11,0 12,0 13,0 14,0 15,0 16,0 17,0 18,0 19,0 20,0 21,0 22,0 23,0 24,0 25,0 26,0 27,0 28,0 29,0 30,24 31,75 32,0 33,0 34,0 35,0 36,29 37,70 38,175 39,492" stroke="#8E4EE0"/>
<polyline points="0,0 1,0 2,0 3,0 4,0 5,0 6,0 7,0 8,0 9,0 10,0 11,0 12,0 13,0 14,0 15,0 16,0 17,0 18,0 19,0 20,0 21,0 22,0 23,0 24,0 25,0 26,0 27,0 28,0 29,0 30,0 31,0 32,0 33,0 34,0 35,0 36,3 37,114 38,210 39,624" stroke="#EDA02A"/>
<polyline points="0,782 1,259 2,546 3,227 4,483 5,113 6,178 7,77 8,165 9,45 10,69 11,31 12,55 13,13 14,41 15,9 16,8 17,2 18,0 19,0 20,0 21,0 22,0 23,0 24,0 25,0 26,0 27,0 28,0 29,0 30,0 31,0 32,0 33,0 34,0 35,0 36,0 37,0 38,0 39,0" stroke="#55A070"/>
<polyline points="0,861 1,235 2,636 3,218 4,578 5,110 6,210 7,72 8,190 9,40 10,86 11,27 12,67 13,14 14,54 15,9 16,11 17,2 18,0 19,0 20,0 21,0 22,0 23,0 24,0 25,0 26,0 27,0 28,0 29,0 30,0 31,0 32,0 33,0 34,0 35,0 36,0 37,0 38,0 39,0" stroke="#C26A1C"/>
<polyline points="0,345 1,639 2,240 3,613 4,234 5,315 6,94 7,198 8,86 9,122 10,34 11,82 12,27 13,39 14,24 15,23 16,4 17,6 18,0 19,0 20,0 21,0 22,0 23,0 24,0 25,0 26,0 27,0 28,0 29,0 30,0 31,0 32,0 33,0 34,0 35,0 36,0 37,0 38,0 39,0" stroke="#6670DC"/>
<polyline points="0,629 1,135 2,410 3,123 4,318 5,49 6,93 7,28 8,75 9,14 10,27 11,8 12,20 13,3 14,13 15,2 16,2 17,0 18,0 19,0 20,0 21,0 22,0 23,0 24,0 25,0 26,0 27,0 28,0 29,0 30,0 31,0 32,0 33,0 34,0 35,0 36,0 37,0 38,0 39,0" stroke="#C8A424"/>
<polyline points="0,511 1,156 2,376 3,144 4,372 5,82 6,139 7,51 8,130 9,33 10,59 11,26 12,48 13,11 14,41 15,7 16,8 17,2 18,0 19,0 20,0 21,0 22,0 23,0 24,0 25,0 26,0 27,0 28,0 29,0 30,0 31,0 32,0 33,0 34,0 35,0 36,0 37,0 38,0 39,0" stroke="#BE48C0"/>
<polyline points="0,0 1,0 2,0 3,0 4,0 5,0 6,0 7,0 8,0 9,0 10,0 11,0 12,0 13,0 14,0 15,0 16,0 17,0 18,0 19,0 20,0 21,0 22,0 23,0 24,0 25,0 26,0 27,0 28,0 29,0 30,2 31,42 32,0 33,0 34,93 35,102 36,9 37,48 38,12 39,60" stroke="#5284B8"/>
<polyline points="0,0 1,0 2,0 3,0 4,0 5,0 6,0 7,0 8,0 9,0 10,0 11,0 12,0 13,0 14,56 15,0 16,0 17,0 18,63 19,0 20,0 21,0 22,60 23,0 24,0 25,0 26,59 27,0 28,0 29,0 30,78 31,0 32,0 33,0 34,107 35,0 36,0 37,0 38,0 39,0" stroke="#EE6A24"/>
<polyline points="0,220 1,416 2,174 3,397 4,147 5,216 6,53 7,138 8,59 9,79 10,23 11,57 12,20 13,26 14,15 15,17 16,3 17,4 18,0 19,0 20,0 21,0 22,0 23,0 24,0 25,0 26,0 27,0 28,0 29,0 30,0 31,0 32,0 33,0 34,0 35,0 36,0 37,0 38,0 39,0" stroke="#8E4EE0"/>
<polyline points="0,263 1,560 2,234 3,569 4,213 5,292 6,76 7,204 8,68 9,123 10,33 11,84 12,27 13,40 14,25 15,24 16,5 17,6 18,0 19,0 20,0 21,0 22,0 23,0 24,0 25,0 26,0 27,0 28,0 29,0 30,0 31,0 32,0 33,0 34,0 35,0 36,0 37,0 38,0 39,0" stroke="#EDA02A"/>
<polyline points="0,764 1,183 2,560 3,169 4,526 5,96 6,196 7,57 8,189 9,38 10,81 11,22 12,66 13,12 14,54 15,7 16,11 17,2 18,0 19,0 20,0 21,0 22,0 23,0 24,0 25,0 26,0 27,0 28,0 29,0 30,0 31,0 32,0 33,0 34,0 35,0 36,0 37,0 38,0 39,0" stroke="#55A070"/>
<polyline points="0,377 1,667 2,251 3,657 4,236 5,349 6,99 7,222 8,88 9,134 10,34 11,94 12,39 13,43 14,22 15,27 16,6 17,7 18,0 19,0 20,0 21,0 22,0 23,0 24,0 25,0 26,0 27,0 28,0 29,0 30,0 31,0 32,0 33,0 34,0 35,0 36,0 37,0 38,0 39,0" stroke="#C26A1C"/>
<polyline points="0,242 1,434 2,220 3,433 4,195 5,233 6,64 7,152 8,67 9,88 10,32 11,61 12,20 13,27 14,17 15,17 16,4 17,4 18,0 19,0 20,0 21,0 22,0 23,0 24,0 25,0 26,0 27,0 28,0 29,0 30,0 31,0 32,0 33,0 34,0 35,0 36,0 37,0 38,0 39,0" stroke="#6670DC"/>
<polyline points="0,0 1,0 2,0 3,0 4,0 5,0 6,0 7,0 8,0 9,0 10,0 11,0 12,0 13,0 14,0 15,0 16,0 17,0 18,0 19,0 20,0 21,0 22,0 23,0 24,0 25,0 26,0 27,0 28,0 29,0 30,50 31,2 32,0 33,0 34,55 35,18 36,7 37,1 38,196 39,317" stroke="#C8A424"/>
<polyline points="0,82 1,203 2,63 3,190 4,63 5,99 6,21 7,63 8,19 9,37 10,10 11,26 12,7 13,12 14,5 15,7 16,1 17,2 18,0 19,0 20,0 21,0 22,0 23,0 24,0 25,0 26,0 27,0 28,0 29,0 30,0 31,0 32,0 33,0 34,0 35,0 36,0 37,0 38,0 39,0" stroke="#BE48C0"/>
<polyline points="0,0 1,0 2,0 3,0 4,0 5,0 6,0 7,0 8,0 9,0 10,0 11,0 12,0 13,0 14,0 15,0 16,0 17,0 18,0 19,0 20,0 21,0 22,0 23,0 24,0 25,0 26,0 27,0 28,0 29,0 30,0 31,0 32,0 33,0 34,0 35,0 36,23 37,7 38,33 39,153" stroke="#5284B8"/>
<polyline points="0,796 1,160 2,620 3,185 4,553 5,93 6,211 7,68 8,210 9,35 10,90 11,27 12,75 13,11 14,64 15,8 16,13 17,2 18,0 19,0 20,0 21,0 22,0 23,0 24,0 25,0 26,0 27,0 28,0 29,0 30,0 31,0 32,0 33,0 34,0 35,0 36,0 37,0 38,0 39,0" stroke="#EE6A24"/>
<polyline points="0,0 1,0 2,0 3,0 4,0 5,0 6,0 7,0 8,0 9,0 10,0 11,0 12,0 13,0 14,0 15,14 16,0 17,0 18,0 19,10 20,0 21,0 22,0 23,10 24,0 25,0 26,0 27,13 28,0 29,0 30,0 31,18 32,0 33,0 34,0 35,36 36,0 37,0 38,0 39,0" stroke="#8E4EE0"/>
<polyline points="0,911 1,226 2,663 3,182 4,625 5,106 6,214 7,63 8,218 9,39 10,96 11,29 12,77 13,14 14,61 15,9 16,13 17,2 18,0 19,0 20,0 21,0 22,0 23,0 24,0 25,0 26,0 27,0 28,0 29,0 30,0 31,0 32,0 33,0 34,0 35,0 36,0 37,0 38,0 39,0" stroke="#EDA02A"/>
<polyline points="0,757 1,295 2,572 3,249 4,525 5,142 6,208 7,103 8,198 9,49 10,85 11,38 12,76 13,19 14,57 15,12 16,12 17,3 18,0 19,0 20,0 21,0 22,0 23,0 24,0 25,0 26,0 27,0 28,0 29,0 30,0 31,0 32,0 33,0 34,0 35,0 36,0 37,0 38,0 39,0" stroke="#55A070"/>
<polyline points="0,0 1,0 2,0 3,0 4,0 5,0 6,0 7,0 8,0 9,0 10,0 11,0 12,0 13,0 14,0 15,0 16,0 17,0 18,0 19,0 20,0 21,0 22,0 23,0 24,0 25,0 26,0 27,0 28,0 29,0 30,0 31,0 32,0 33,0 34,0 35,0 36,25 37,1 38,352 39,765" stroke="#C26A1C"/>
<polyline points="0,0 1,0 2,0 3,0 4,0 5,0 6,0 7,0 8,0 9,0 10,0 11,0 12,0 13,0 14,0 15,0 16,0 17,0 18,0 19,0 20,0 21,0 22,0 23,0 24,0 25,0 26,0 27,0 28,0 29,0 30,0 31,0 32,0 33,0 34,0 35,0 36,27 37,50 38,246 39,438" stroke="#6670DC"/>
<polyline points="0,477 1,128 2,350 3,139 4,341 5,67 6,121 7,41 8,113 9,24 10,48 11,18 12,42 13,9 14,31 15,4 16,7 17,1 18,0 19,0 20,0 21,0 22,0 23,0 24,0 25,0 26,0 27,0 28,0 29,0 30,0 31,0 32,0 33,0 34,0 35,0 36,0 37,0 38,0 39,0" stroke="#C8A424"/>
<polyline points="0,0 1,0 2,0 3,0 4,0 5,0 6,0 7,0 8,0 9,0 10,0 11,0 12,0 13,0 14,0 15,0 16,0 17,0 18,0 19,0 20,0 21,0 22,0 23,0 24,0 25,0 26,0 27,0 28,0 29,0 30,0 31,0 32,0 33,0 34,0 35,0 36,19 37,110 38,13 39,120" stroke="#BE48C0"/>
<polyline points="0,0 1,0 2,0 3,0 4,0 5,0 6,0 7,0 8,0 9,0 10,0 11,0 12,0 13,0 14,0 15,52 16,0 17,0 18,0 19,34 20,0 21,0 22,0 23,43 24,0 25,0 26,0 27,57 28,0 29,0 30,0 31,74 32,0 33,0 34,0 35,125 36,0 37,0 38,0 39,0" stroke="#5284B8"/>
<polyline points="0,138 1,216 2,86 3,215 4,91 5,109 6,36 7,73 8,30 9,45 10,13 11,30 12,13 13,14 14,11 15,9 16,2 17,2 18,0 19,0 20,0 21,0 22,0 23,0 24,0 25,0 26,0 27,0 28,0 29,0 30,0 31,0 32,0 33,0 34,0 35,0 36,0 37,0 38,0 39,0" stroke="#EE6A24"/>
<polyline points="0,185 1,437 2,163 3,431 4,165 5,219 6,58 7,154 8,60 9,92 10,21 11,64 12,20 13,30 14,15 15,19 16,3 17,5 18,0 19,0 20,0 21,0 22,0 23,0 24,0 25,0 26,0 27,0 28,0 29,0 30,0 31,0 32,0 33,0 34,0 35,0 36,0 37,0 38,0 39,0" stroke="#8E4EE0"/>
<polyline points="0,0 1,0 2,0 3,0 4,0 5,0 6,0 7,0 8,0 9,0 10,0 11,0 12,0 13,0 14,0 15,0 16,0 17,0 18,0 19,0 20,0 21,0 22,0 23,0 24,0 25,0 26,0 27,0 28,0 29,0 30,0 31,0 32,0 33,0 34,0 35,0 36,18 37,57 38,113 39,537" stroke="#EDA02A"/>
<polyline points="0,0 1,0 2,0 3,0 4,0 5,0 6,0 7,0 8,0 9,0 10,0 11,0 12,0 13,0 14,0 15,0 16,0 17,0 18,0 19,0 20,0 21,0 22,0 23,0 24,0 25,0 26,0 27,0 28,0 29,0 30,0 31,0 32,0 33,0 34,7 35,48 36,21 37,18 38,74 39,131" stroke="#55A070"/>
<polyline points="0,648 1,236 2,487 3,207 4,465 5,103 6,168 7,80 8,174 9,43 10,72 11,33 12,62 13,17 14,51 15,10 16,11 17,2 18,0 19,0 20,0 21,0 22,0 23,0 24,0 25,0 26,0 27,0 28,0 29,0 30,0 31,0 32,0 33,0 34,0 35,0 36,0 37,0 38,0 39,0" stroke="#C26A1C"/>
<polyline points="0,795 1,227 2,540 3,212 4,464 5,87 6,166 7,63 8,136 9,32 10,58 11,21 12,43 13,9 14,33 15,5 16,6 17,1 18,0 19,0 20,0 21,0 22,0 23,0 24,0 25,0 26,0 27,0 28,0 29,0 30,0 31,0 32,0 33,0 34,0 35,0 36,0 37,0 38,0 39,0" stroke="#6670DC"/>
<polyline points="0,258 1,587 2,174 3,524 4,136 5,249 6,41 7,140 8,35 9,72 10,15 11,44 12,10 13,19 14,7 15,10 16,1 17,2 18,0 19,0 20,0 21,0 22,0 23,0 24,0 25,0 26,0 27,0 28,0 29,0 30,0 31,0 32,0 33,0 34,0 35,0 36,0 37,0 38,0 39,0" stroke="#C8A424"/>
<polyline points="0,0 1,0 2,0 3,0 4,0 5,0 6,0 7,0 8,0 9,0 10,0 11,0 12,0 13,0 14,0 15,29 16,0 17,0 18,0 19,24 20,0 21,0 22,0 23,26 24,0 25,0 26,0 27,34 28,0 29,0 30,0 31,44 32,0 33,0 34,0 35,90 36,0 37,0 38,0 39,0" stroke="#BE48C0"/>
<polyline points="0,264 1,615 2,161 3,597 4,173 5,311 6,69 7,212 8,65 9,123 10,25 11,88 12,25 13,41 14,20 15,26 16,4 17,6 18,0 19,0 20,0 21,0 22,0 23,0 24,0 25,0 26,0 27,0 28,0 29,0 30,0 31,0 32,0 33,0 34,0 35,0 36,0 37,0 38,0 39,0" stroke="#5284B8"/>
<polyline points="0,0 1,0 2,0 3,0 4,0 5,0 6,0 7,0 8,0 9,0 10,0 11,0 12,0 13,0 14,0 15,0 16,0 17,0 18,0 19,0 20,0 21,0 22,0 23,0 24,0 25,0 26,0 27,0 28,0 29,0 30,87 31,19 32,0 33,0 34,0 35,0 36,16 37,105 38,24 39,38" stroke="#EE6A24"/>
<polyline points="0,632 1,163 2,445 3,140 4,377 5,81 6,134 7,44 8,120 9,25 10,53 11,18 12,41 13,8 14,31 15,5 16,6 17,1 18,0 19,0 20,0 21,0 22,0 23,0 24,0 25,0 26,0 27,0 28,0 29,0 30,0 31,0 32,0 33,0 34,0 35,0 36,0 37,0 38,0 39,0" stroke="#8E4EE0"/>
<polyline points="0,545 1,204 2,392 3,187 4,376 5,83 6,129 7,51 8,118 9,38 10,50 11,25 12,41 13,10 14,32 15,7 16,7 17,1 18,0 19,0 20,0 21,0 22,0 23,0 24,0 25,0 26,0 27,0 28,0 29,0 30,0 31,0 32,0 33,0 34,0 35,0 36,0 37,0 38,0 39,0" stroke="#EDA02A"/>
<polyline points="0,0 1,0 2,0 3,0 4,0 5,0 6,0 7,0 8,0 9,0 10,0 11,0 12,0 13,0 14,0 15,0 16,0 17,0 18,0 19,0 20,0 21,0 22,0 23,0 24,0 25,0 26,0 27,0 28,0 29,0 30,70 31,12 32,0 33,0 34,0 35,0 36,14 37,45 38,46 39,130" stroke="#55A070"/>
<polyline points="0,907 1,272 2,683 3,317 4,632 5,142 6,236 7,82 8,223 9,63 10,100 11,39 12,83 13,16 14,66 15,12 16,14 17,3 18,0 19,0 20,0 21,0 22,0 23,0 24,0 25,0 26,0 27,0 28,0 29,0 30,0 31,0 32,0 33,0 34,0 35,0 36,0 37,0 38,0 39,0" stroke="#C26A1C"/>
<polyline points="0,216 1,427 2,152 3,351 4,113 5,163 6,30 7,83 8,28 9,41 10,10 11,25 12,7 13,9 14,4 15,5 16,1 17,1 18,0 19,0 20,0 21,0 22,0 23,0 24,0 25,0 26,0 27,0 28,0 29,0 30,0 31,0 32,0 33,0 34,0 35,0 36,0 37,0 38,0 39,0" stroke="#6670DC"/>
<polyline points="0,637 1,173 2,468 3,181 4,450 5,83 6,161 7,61 8,154 9,32 10,68 11,23 12,59 13,11 14,44 15,8 16,10 17,2 18,0 19,0 20,0 21,0 22,0 23,0 24,0 25,0 26,0 27,0 28,0 29,0 30,0 31,0 32,0 33,0 34,0 35,0 36,0 37,0 38,0 39,0" stroke="#C8A424"/>
<polyline points="0,601 1,112 2,427 3,105 4,397 5,58 6,137 7,41 8,130 9,24 10,53 11,16 12,46 13,7 14,33 15,4 16,7 17,1 18,0 19,0 20,0 21,0 22,0 23,0 24,0 25,0 26,0 27,0 28,0 29,0 30,0 31,0 32,0 33,0 34,0 35,0 36,0 37,0 38,0 39,0" stroke="#BE48C0"/>
<polyline points="0,712 1,250 2,507 3,263 4,467 5,127 6,176 7,83 8,155 9,42 10,71 11,34 12,55 13,15 14,42 15,8 16,9 17,2 18,0 19,0 20,0 21,0 22,0 23,0 24,0 25,0 26,0 27,0 28,0 29,0 30,0 31,0 32,0 33,0 34,0 35,0 36,0 37,0 38,0 39,0" stroke="#5284B8"/>
<polyline points="0,186 1,417 2,109 3,415 4,108 5,213 6,35 7,136 8,36 9,75 10,15 11,53 12,14 13,25 14,10 15,15 16,2 17,3 18,0 19,0 20,0 21,0 22,0 23,0 24,0 25,0 26,0 27,0 28,0 29,0 30,0 31,0 32,0 33,0 34,0 35,0 36,0 37,0 38,0 39,0" stroke="#EE6A24"/>
<polyline points="0,228 1,483 2,173 3,450 4,150 5,233 6,56 7,146 8,56 9,87 10,23 11,65 12,21 13,28 14,15 15,17 16,3 17,4 18,0 19,0 20,0 21,0 22,0 23,0 24,0 25,0 26,0 27,0 28,0 29,0 30,0 31,0 32,0 33,0 34,0 35,0 36,0 37,0 38,0 39,0" stroke="#8E4EE0"/>
<polyline points="0,0 1,0 2,0 3,0 4,0 5,0 6,0 7,0 8,0 9,0 10,0 11,0 12,0 13,0 14,0 15,33 16,0 17,0 18,0 19,21 20,0 21,0 22,0 23,25 24,0 25,0 26,0 27,34 28,0 29,0 30,0 31,41 32,0 33,0 34,0 35,72 36,0 37,0 38,0 39,0" stroke="#EDA02A"/>
<polyline points="0,360 1,102 2,222 3,72 4,163 5,40 6,49 7,20 8,39 9,9 10,14 11,6 12,10 13,2 14,6 15,1 16,1 17,0 18,0 19,0 20,0 21,0 22,0 23,0 24,0 25,0 26,0 27,0 28,0 29,0 30,0 31,0 32,0 33,0 34,0 35,0 36,0 37,0 38,0 39,0" stroke="#55A070"/>
<polyline points="0,269 1,469 2,241 3,463 4,187 5,252 6,66 7,155 8,66 9,95 10,28 11,64 12,26 13,30 14,18 15,19 16,4 17,4 18,0 19,0 20,0 21,0 22,0 23,0 24,0 25,0 26,0 27,0 28,0 29,0 30,0 31,0 32,0 33,0 34,0 35,0 36,0 37,0 38,0 39,0" stroke="#C26A1C"/>
<polyline points="0,793 1,275 2,564 3,213 4,478 5,108 6,149 7,74 8,134 9,41 10,56 11,22 12,40 13,11 14,30 15,6 16,6 17,1 18,0 19,0 20,0 21,0 22,0 23,0 24,0 25,0 26,0 27,0 28,0 29,0 30,0 31,0 32,0 33,0 34,0 35,0 36,0 37,0 38,0 39,0" stroke="#6670DC"/>
<polyline points="0,0 1,0 2,0 3,0 4,0 5,0 6,0 7,0 8,0 9,0 10,0 11,0 12,0 13,0 14,59 15,0 16,0 17,0 18,54 19,0 20,0 21,0 22,47 23,0 24,0 25,0 26,60 27,0 28,0 29,0 30,68 31,0 32,0 33,0 34,96 35,0 36,0 37,0 38,0 39,0" stroke="#C8A424"/>
<polyline points="0,0 1,0 2,0 3,0 4,0 5,0 6,0 7,0 8,0 9,0 10,0 11,0 12,0 13,0 14,0 15,0 16,0 17,0 18,0 19,0 20,0 21,0 22,0 23,0 24,0 25,0 26,0 27,0 28,0 29,0 30,0 31,0 32,0 33,0 34,0 35,0 36,19 37,82 38,269 39,793" stroke="#BE48C0"/>
<polyline points="0,518 1,138 2,373 3,128 4,370 5,82 6,135 7,47 8,128 9,29 10,57 11,20 12,49 13,10 14,40 15,6 16,8 17,1 18,0 19,0 20,0 21,0 22,0 23,0 24,0 25,0 26,0 27,0 28,0 29,0 30,0 31,0 32,0 33,0 34,0 35,0 36,0 37,0 38,0 39,0" stroke="#5284B8"/>
<polyline points="0,146 1,252 2,88 3,251 4,102 5,122 6,34 7,81 8,28 9,48 10,14 11,34 12,12 13,15 14,8 15,10 16,2 17,2 18,0 19,0 20,0 21,0 22,0 23,0 24,0 25,0 26,0 27,0 28,0 29,0 30,0 31,0 32,0 33,0 34,0 35,0 36,0 37,0 38,0 39,0" stroke="#EE6A24"/>
<polyline points="0,0 1,0 2,0 3,0 4,0 5,0 6,0 7,0 8,0 9,0 10,0 11,0 12,0 13,0 14,0 15,0 16,0 17,0 18,0 19,0 20,0 21,0 22,0 23,0 24,0 25,0 26,0 27,0 28,0 29,0 30,0 31,0 32,0 33,0 34,21 35,113 36,22 37,23 38,13 39,36" stroke="#8E4EE0"/>
<polyline points="0,0 1,0 2,0 3,0 4,0 5,0 6,0 7,0 8,0 9,0 10,0 11,0 12,0 13,0 14,0 15,0 16,0 17,0 18,0 19,0 20,0 21,0 22,0 23,0 24,0 25,0 26,0 27,0 28,0 29,0 30,0 31,0 32,0 33,0 34,0 35,0 36,20 37,35 38,24 39,48" stroke="#EDA02A"/>
<polyline points="0,666 1,138 2,487 3,138 4,433 5,68 6,162 7,44 8,154 9,31 10,66 11,18 12,56 13,8 14,42 15,5 16,9 17,1 18,0 19,0 20,0 21,0 22,0 23,0 24,0 25,0 26,0 27,0 28,0 29,0 30,0 31,0 32,0 33,0 34,0 35,0 36,0 37,0 38,0 39,0" stroke="#55A070"/>
<polyline points="0,264 1,406 2,167 3,383 4,142 5,183 6,59 7,116 8,48 9,70 10,23 11,44 12,17 13,20 14,13 15,12 16,3 17,3 18,0 19,0 20,0 21,0 22,0 23,0 24,0 25,0 26,0 27,0 28,0 29,0 30,0 31,0 32,0 33,0 34,0 35,0 36,0 37,0 38,0 39,0" stroke="#C26A1C"/>
<polyline points="0,162 1,471 2,132 3,474 4,118 5,230 6,42 7,147 8,45 9,87 10,16 11,59 12,14 13,28 14,12 15,17 16,2 17,4 18,0 19,0 20,0 21,0 22,0 23,0 24,0 25,0 26,0 27,0 28,0 29,0 30,0 31,0 32,0 33,0 34,0 35,0 36,0 37,0 38,0 39,0" stroke="#6670DC"/>
<polyline points="0,312 1,90 2,229 3,72 4,216 5,45 6,82 7,27 8,75 9,19 10,35 11,13 12,29 13,5 14,22 15,4 16,5 17,1 18,0 19,0 20,0 21,0 22,0 23,0 24,0 25,0 26,0 27,0 28,0 29,0 30,0 31,0 32,0 33,0 34,0 35,0 36,0 37,0 38,0 39,0" stroke="#C8A424"/>
<polyline points="0,0 1,0 2,0 3,0 4,0 5,0 6,0 7,0 8,0 9,0 10,0 11,0 12,0 13,0 14,0 15,0 16,0 17,0 18,0 19,0 20,0 21,0 22,0 23,0 24,0 25,0 26,0 27,0 28,0 29,0 30,50 31,45 32,0 33,0 34,0 35,0 36,12 37,81 38,19 39,105" stroke="#BE48C0"/>
<polyline points="0,140 1,302 2,112 3,293 4,105 5,162 6,37 7,97 8,38 9,61 10,16 11,44 12,14 13,19 14,12 15,13 16,2 17,3 18,0 19,0 20,0 21,0 22,0 23,0 24,0 25,0 26,0 27,0 28,0 29,0 30,0 31,0 32,0 33,0 34,0 35,0 36,0 37,0 38,0 39,0" stroke="#5284B8"/>
<polyline points="0,894 1,259 2,619 3,236 4,554 5,117 6,200 7,72 8,185 9,41 10,82 11,28 12,64 13,13 14,49 15,8 16,10 17,2 18,0 19,0 20,0 21,0 22,0 23,0 24,0 25,0 26,0 27,0 28,0 29,0 30,0 31,0 32,0 33,0 34,0 35,0 36,0 37,0 38,0 39,0" stroke="#EE6A24"/>
<polyline points="0,0 1,0 2,0 3,0 4,0 5,0 6,0 7,0 8,0 9,0 10,0 11,0 12,0 13,0 14,0 15,0 16,0 17,0 18,0 19,0 20,0 21,0 22,0 23,0 24,0 25,0 26,0 27,0 28,0 29,0 30,0 31,0 32,0 33,0 34,0 35,0 36,13 37,75 38,96 39,511" stroke="#8E4EE0"/>
<polyline points="0,0 1,0 2,0 3,0 4,0 5,0 6,0 7,0 8,0 9,0 10,0 11,0 12,0 13,0 14,0 15,0 16,0 17,0 18,0 19,0 20,0 21,0 22,0 23,0 24,0 25,0 26,0 27,0 28,0 29,0 30,0 31,0 32,0 33,0 34,82 35,147 36,26 37,19 38,293 39,524" stroke="#EDA02A"/>
<polyline points="0,467 1,141 2,314 3,135 4,268 5,71 6,93 7,46 8,86 9,23 10,36 11,17 12,28 13,6 14,20 15,4 16,4 17,1 18,0 19,0 20,0 21,0 22,0 23,0 24,0 25,0 26,0 27,0 28,0 29,0 30,0 31,0 32,0 33,0 34,0 35,0 36,0 37,0 38,0 39,0" stroke="#55A070"/>
<polyline points="0,814 1,199 2,608 3,172 4,552 5,96 6,214 7,55 8,199 9,37 10,87 11,22 12,72 13,9 14,52 15,6 16,11 17,1 18,0 19,0 20,0 21,0 22,0 23,0 24,0 25,0 26,0 27,0 28,0 29,0 30,0 31,0 32,0 33,0 34,0 35,0 36,0 37,0 38,0 39,0" stroke="#C26A1C"/>
<polyline points="0,0 1,0 2,0 3,0 4,0 5,0 6,0 7,0 8,0 9,0 10,0 11,0 12,0 13,0 14,0 15,0 16,0 17,0 18,0 19,0 20,0 21,0 22,0 23,0 24,0 25,0 26,0 27,0 28,0 29,0 30,42 31,29 32,0 33,0 34,94 35,22 36,24 37,56 38,70 39,220" stroke="#6670DC"/>
<polyline points="0,0 1,0 2,0 3,0 4,0 5,0 6,0 7,0 8,0 9,0 10,0 11,0 12,0 13,0 14,0 15,50 16,0 17,0 18,0 19,40 20,0 21,0 22,0 23,39 24,0 25,0 26,0 27,59 28,0 29,0 30,0 31,74 32,0 33,0 34,0 35,129 36,0 37,0 38,0 39,0" stroke="#C8A424"/>
<polyline points="0,599 1,229 2,445 3,197 4,392 5,103 6,141 7,70 8,132 9,37 10,59 11,30 12,49 13,13 14,36 15,8 16,8 17,2 18,0 19,0 20,0 21,0 22,0 23,0 24,0 25,0 26,0 27,0 28,0 29,0 30,0 31,0 32,0 33,0 34,0 35,0 36,0 37,0 38,0 39,0" stroke="#BE48C0"/>
<polyline points="0,0 1,0 2,0 3,0 4,0 5,0 6,0 7,0 8,0 9,0 10,0 11,0 12,0 13,0 14,32 15,0 16,0 17,0 18,27 19,0 20,0 21,0 22,25 23,0 24,0 25,0 26,28 27,0 28,0 29,0 30,41 31,0 32,0 33,0 34,56 35,0 36,0 37,0 38,0 39,0" stroke="#5284B8"/>
<polyline points="0,0 1,0 2,0 3,0 4,0 5,0 6,0 7,0 8,0 9,0 10,0 11,0 12,0 13,0 14,70 15,0 16,0 17,0 18,60 19,0 20,0 21,0 22,58 23,0 24,0 25,0 26,58 27,0 28,0 29,0 30,88 31,0 32,0 33,0 34,138 35,0 36,0 37,0 38,0 39,0" stroke="#EE6A24"/>
<polyline points="0,842 1,248 2,632 3,239 4,578 5,125 6,219 7,79 8,204 9,55 10,89 11,34 12,77 13,17 14,60 15,10 16,12 17,2 18,0 19,0 20,0 21,0 22,0 23,0 24,0 25,0 26,0 27,0 28,0 29,0 30,0 31,0 32,0 33,0 34,0 35,0 36,0 37,0 38,0 39,0" stroke="#8E4EE0"/>
<polyline points="0,807 1,160 2,513 3,129 4,426 5,60 6,133 7,35 8,108 9,18 10,41 11,10 12,31 13,5 14,20 15,3 16,4 17,1 18,0 19,0 20,0 21,0 22,0 23,0 24,0 25,0 26,0 27,0 28,0 29,0 30,0 31,0 32,0 33,0 34,0 35,0 36,0 37,0 38,0 39,0" stroke="#EDA02A"/>
<polyline points="0,169 1,49 2,136 3,52 4,127 5,24 6,44 7,16 8,45 9,11 10,19 11,6 12,17 13,3 14,13 15,2 16,3 17,0 18,0 19,0 20,0 21,0 22,0 23,0 24,0 25,0 26,0 27,0 28,0 29,0 30,0 31,0 32,0 33,0 34,0 35,0 36,0 37,0 38,0 39,0" stroke="#55A070"/>
<polyline points="0,0 1,0 2,0 3,0 4,0 5,0 6,0 7,0 8,0 9,0 10,0 11,0 12,0 13,0 14,0 15,0 16,0 17,0 18,0 19,0 20,0 21,0 22,0 23,0 24,0 25,0 26,0 27,0 28,0 29,0 30,0 31,0 32,0 33,0 34,11 35,67 36,8 37,48 38,92 39,198" stroke="#C26A1C"/>
<polyline points="0,491 1,102 2,343 3,88 4,302 5,48 6,106 7,24 8,90 9,17 10,38 11,10 12,28 13,4 14,20 15,2 16,4 17,1 18,0 19,0 20,0 21,0 22,0 23,0 24,0 25,0 26,0 27,0 28,0 29,0 30,0 31,0 32,0 33,0 34,0 35,0 36,0 37,0 38,0 39,0" stroke="#6670DC"/>
<polyline points="0,219 1,521 2,131 3,518 4,137 5,272 6,55 7,164 8,45 9,103 10,20 11,72 12,19 13,31 14,15 15,20 16,3 17,5 18,0 19,0 20,0 21,0 22,0 23,0 24,0 25,0 26,0 27,0 28,0 29,0 30,0 31,0 32,0 33,0 34,0 35,0 36,0 37,0 38,0 39,0" stroke="#C8A424"/>
<polyline points="0,868 1,225 2,656 3,214 4,615 5,117 6,211 7,69 8,208 9,47 10,90 11,30 12,78 13,15 14,58 15,9 16,13 17,2 18,0 19,0 20,0 21,0 22,0 23,0 24,0 25,0 26,0 27,0 28,0 29,0 30,0 31,0 32,0 33,0 34,0 35,0 36,0 37,0 38,0 39,0" stroke="#BE48C0"/>
<polyline points="0,0 1,0 2,0 3,0 4,0 5,0 6,0 7,0 8,0 9,0 10,0 11,0 12,0 13,0 14,0 15,0 16,0 17,0 18,0 19,0 20,0 21,0 22,0 23,0 24,0 25,0 26,0 27,0 28,0 29,0 30,0 31,0 32,0 33,0 34,0 35,0 36,21 37,43 38,94 39,291" stroke="#5284B8"/>
<polyline points="0,830 1,192 2,600 3,180 4,565 5,95 6,190 7,66 8,180 9,32 10,81 11,21 12,66 13,12 14,49 15,6 16,11 17,2 18,0 19,0 20,0 21,0 22,0 23,0 24,0 25,0 26,0 27,0 28,0 29,0 30,0 31,0 32,0 33,0 34,0 35,0 36,0 37,0 38,0 39,0" stroke="#EE6A24"/>
<polyline points="0,725 1,283 2,575 3,270 4,508 5,140 6,194 7,99 8,187 9,55 10,83 11,45 12,71 13,17 14,58 15,12 16,12 17,3 18,0 19,0 20,0 21,0 22,0 23,0 24,0 25,0 26,0 27,0 28,0 29,0 30,0 31,0 32,0 33,0 34,0 35,0 36,0 37,0 38,0 39,0" stroke="#8E4EE0"/>
<polyline points="0,550 1,182 2,416 3,176 4,370 5,86 6,132 7,60 8,126 9,31 10,52 11,21 12,45 13,10 14,35 15,7 16,7 17,1 18,0 19,0 20,0 21,0 22,0 23,0 24,0 25,0 26,0 27,0 28,0 29,0 30,0 31,0 32,0 33,0 34,0 35,0 36,0 37,0 38,0 39,0" stroke="#EDA02A"/>
<polyline points="0,373 1,94 2,291 3,93 4,268 5,50 6,102 7,29 8,94 9,18 10,43 11,13 12,37 13,6 14,28 15,4 16,6 17,1 18,0 19,0 20,0 21,0 22,0 23,0 24,0 25,0 26,0 27,0 28,0 29,0 30,0 31,0 32,0 33,0 34,0 35,0 36,0 37,0 38,0 39,0" stroke="#55A070"/>
<polyline points="0,796 1,277 2,606 3,242 4,556 5,132 6,201 7,78 8,188 9,51 10,81 11,30 12,68 13,17 14,57 15,9 16,11 17,3 18,0 19,0 20,0 21,0 22,0 23,0 24,0 25,0 26,0 27,0 28,0 29,0 30,0 31,0 32,0 33,0 34,0 35,0 36,0 37,0 38,0 39,0" stroke="#C26A1C"/>
<polyline points="0,30 1,55 2,21 3,53 4,20 5,28 6,7 7,18 8,7 9,10 10,3 11,7 12,3 13,3 14,2 15,2 16,0 17,0 18,0 19,0 20,0 21,0 22,0 23,0 24,0 25,0 26,0 27,0 28,0 29,0 30,0 31,0 32,0 33,0 34,0 35,0 36,0 37,0 38,0 39,0" stroke="#6670DC"/>
<polyline points="0,0 1,0 2,0 3,0 4,0 5,0 6,0 7,0 8,0 9,0 10,0 11,0 12,0 13,0 14,36 15,0 16,0 17,0 18,39 19,0 20,0 21,0 22,35 23,0 24,0 25,0 26,34 27,0 28,0 29,0 30,48 31,0 32,0 33,0 34,69 35,0 36,0 37,0 38,0 39,0" stroke="#C8A424"/>
<polyline points="0,0 1,0 2,0 3,0 4,0 5,0 6,0 7,0 8,0 9,0 10,0 11,0 12,0 13,0 14,0 15,0 16,0 17,0 18,0 19,0 20,0 21,0 22,0 23,0 24,0 25,0 26,0 27,0 28,0 29,0 30,0 31,0 32,0 33,0 34,0 35,0 36,8 37,94 38,38 39,63" stroke="#BE48C0"/>
<polyline points="0,71 1,118 2,57 3,118 4,54 5,63 6,18 7,42 8,18 9,24 10,7 11,17 12,7 13,8 14,6 15,5 16,1 17,1 18,0 19,0 20,0 21,0 22,0 23,0 24,0 25,0 26,0 27,0 28,0 29,0 30,0 31,0 32,0 33,0 34,0 35,0 36,0 37,0 38,0 39,0" stroke="#5284B8"/>
<polyline points="0,627 1,150 2,451 3,152 4,424 5,67 6,145 7,42 8,141 9,26 10,57 11,19 12,48 13,8 14,37 15,5 16,7 17,1 18,0 19,0 20,0 21,0 22,0 23,0 24,0 25,0 26,0 27,0 28,0 29,0 30,0 31,0 32,0 33,0 34,0 35,0 36,0 37,0 38,0 39,0" stroke="#EE6A24"/>
<polyline points="0,353 1,547 2,285 3,545 4,230 5,301 6,93 7,185 8,85 9,114 10,36 11,76 12,30 13,36 14,24 15,22 16,5 17,6 18,0 19,0 20,0 21,0 22,0 23,0 24,0 25,0 26,0 27,0 28,0 29,0 30,0 31,0 32,0 33,0 34,0 35,0 36,0 37,0 38,0 39,0" stroke="#8E4EE0"/>
<polyline points="0,0 1,0 2,0 3,0 4,0 5,0 6,0 7,0 8,0 9,0 10,0 11,0 12,0 13,0 14,0 15,0 16,0 17,0 18,0 19,0 20,0 21,0 22,0 23,0 24,0 25,0 26,0 27,0 28,0 29,0 30,101 31,2 32,0 33,0 34,0 35,0 36,11 37,16 38,117 39,228" stroke="#EDA02A"/>
<polyline points="0,657 1,212 2,461 3,173 4,394 5,92 6,131 7,59 8,111 9,30 10,47 11,19 12,34 13,8 14,24 15,4 16,5 17,1 18,0 19,0 20,0 21,0 22,0 23,0 24,0 25,0 26,0 27,0 28,0 29,0 30,0 31,0 32,0 33,0 34,0 35,0 36,0 37,0 38,0 39,0" stroke="#55A070"/>
<polyline points="0,0 1,0 2,0 3,0 4,0 5,0 6,0 7,0 8,0 9,0 10,0 11,0 12,0 13,0 14,0 15,0 16,0 17,0 18,0 19,0 20,0 21,0 22,0 23,0 24,0 25,0 26,0 27,0 28,0 29,0 30,0 31,0 32,0 33,0 34,0 35,0 36,8 37,117 38,374 39,555" stroke="#C26A1C"/>
<polyline points="0,0 1,0 2,0 3,0 4,0 5,0 6,0 7,0 8,0 9,0 10,0 11,0 12,0 13,0 14,0 15,0 16,0 17,0 18,0 19,0 20,0 21,0 22,0 23,0 24,0 25,0 26,0 27,0 28,0 29,0 30,0 31,0 32,0 33,0 34,149 35,55 36,5 37,30 38,84 39,457" stroke="#6670DC"/>
<polyline points="0,0 1,0 2,0 3,0 4,0 5,0 6,0 7,0 8,0 9,0 10,0 11,0 12,0 13,0 14,0 15,0 16,0 17,0 18,0 19,0 20,0 21,0 22,0 23,0 24,0 25,0 26,0 27,0 28,0 29,0 30,0 31,0 32,0 33,0 34,129 35,58 36,5 37,101 38,109 39,629" stroke="#C8A424"/>
<polyline points="0,247 1,596 2,178 3,562 4,178 5,309 6,51 7,189 8,56 9,114 10,24 11,74 12,19 13,34 14,15 15,21 16,3 17,5 18,0 19,0 20,0 21,0 22,0 23,0 24,0 25,0 26,0 27,0 28,0 29,0 30,0 31,0 32,0 33,0 34,0 35,0 36,0 37,0 38,0 39,0" stroke="#BE48C0"/>
<polyline points="0,252 1,544 2,203 3,516 4,165 5,259 6,57 7,160 8,50 9,85 10,19 11,58 12,17 13,24 14,10 15,14 16,2 17,3 18,0 19,0 20,0 21,0 22,0 23,0 24,0 25,0 26,0 27,0 28,0 29,0 30,0 31,0 32,0 33,0 34,0 35,0 36,0 37,0 38,0 39,0" stroke="#5284B8"/>
<polyline points="0,237 1,46 2,163 3,45 4,130 5,18 6,41 7,10 8,36 9,6 10,14 11,4 12,10 13,1 14,7 15,1 16,1 17,0 18,0 19,0 20,0 21,0 22,0 23,0 24,0 25,0 26,0 27,0 28,0 29,0 30,0 31,0 32,0 33,0 34,0 35,0 36,0 37,0 38,0 39,0" stroke="#EE6A24"/>
<polyline points="0,230 1,390 2,146 3,340 4,139 5,160 6,41 7,96 8,32 9,50 10,14 11,32 12,10 13,12 14,7 15,7 16,1 17,2 18,0 19,0 20,0 21,0 22,0 23,0 24,0 25,0 26,0 27,0 28,0 29,0 30,0 31,0 32,0 33,0 34,0 35,0 36,0 37,0 38,0 39,0" stroke="#8E4EE0"/>
<polyline points="0,315 1,87 2,236 3,91 4,232 5,46 6,81 7,31 8,80 9,17 10,37 11,13 12,30 13,6 14,24 15,4 16,5 17,1 18,0 19,0 20,0 21,0 22,0 23,0 24,0 25,0 26,0 27,0 28,0 29,0 30,0 31,0 32,0 33,0 34,0 35,0 36,0 37,0 38,0 39,0" stroke="#EDA02A"/>
<polyline points="0,700 1,185 2,497 3,151 4,485 5,83 6,179 7,57 8,171 9,37 10,74 11,23 12,61 13,12 14,48 15,6 16,10 17,2 18,0 19,0 20,0 21,0 22,0 23,0 24,0 25,0 26,0 27,0 28,0 29,0 30,0 31,0 32,0 33,0 34,0 35,0 36,0 37,0 38,0 39,0" stroke="#55A070"/>
<polyline points="0,0 1,0 2,0 3,0 4,0 5,0 6,0 7,0 8,0 9,0 10,0 11,0 12,0 13,0 14,0 15,0 16,0 17,0 18,0 19,0 20,0 21,0 22,0 23,0 24,0 25,0 26,0 27,0 28,0 29,0 30,35 31,44 32,0 33,0 34,141 35,141 36,25 37,107 38,170 39,633" stroke="#C26A1C"/>
<polyline points="0,0 1,0 2,0 3,0 4,0 5,0 6,0 7,0 8,0 9,0 10,0 11,0 12,0 13,0 14,73 15,0 16,0 17,0 18,63 19,0 20,0 21,0 22,56 23,0 24,0 25,0 26,67 27,0 28,0 29,0 30,85 31,0 32,0 33,0 34,118 35,0 36,0 37,0 38,0 39,0" stroke="#6670DC"/>
<polyline points="0,172 1,342 2,110 3,328 4,90 5,164 6,37 7,103 8,31 9,62 10,15 11,42 12,10 13,18 14,9 15,11 16,2 17,3 18,0 19,0 20,0 21,0 22,0 23,0 24,0 25,0 26,0 27,0 28,0 29,0 30,0 31,0 32,0 33,0 34,0 35,0 36,0 37,0 38,0 39,0" stroke="#C8A424"/>
<polyline points="0,214 1,351 2,161 3,324 4,128 5,166 6,51 7,93 8,40 9,56 10,16 11,34 12,14 13,15 14,9 15,9 16,2 17,2 18,0 19,0 20,0 21,0 22,0 23,0 24,0 25,0 26,0 27,0 28,0 29,0 30,0 31,0 32,0 33,0 34,0 35,0 36,0 37,0 38,0 39,0" stroke="#BE48C0"/>
<polyline points="0,846 1,209 2,643 3,197 4,574 5,94 6,219 7,68 8,193 9,37 10,86 11,30 12,72 13,13 14,57 15,7 16,11 17,2 18,0 19,0 20,0 21,0 22,0 23,0 24,0 25,0 26,0 27,0 28,0 29,0 30,0 31,0 32,0 33,0 34,0 35,0 36,0 37,0 38,0 39,0" stroke="#5284B8"/>
<polyline points="0,0 1,0 2,0 3,0 4,0 5,0 6,0 7,0 8,0 9,0 10,0 11,0 12,0 13,0 14,0 15,12 16,0 17,0 18,0 19,8 20,0 21,0 22,0 23,10 24,0 25,0 26,0 27,13 28,0 29,0 30,0 31,16 32,0 33,0 34,0 35,28 36,0 37,0 38,0 39,0" stroke="#EE6A24"/>
<polyline points="0,240 1,347 2,151 3,339 4,134 5,176 6,56 7,114 8,57 9,64 10,22 11,46 12,17 13,21 14,13 15,14 16,3 17,3 18,0 19,0 20,0 21,0 22,0 23,0 24,0 25,0 26,0 27,0 28,0 29,0 30,0 31,0 32,0 33,0 34,0 35,0 36,0 37,0 38,0 39,0" stroke="#8E4EE0"/>
<polyline points="0,0 1,0 2,0 3,0 4,0 5,0 6,0 7,0 8,0 9,0 10,0 11,0 12,0 13,0 14,0 15,46 16,0 17,0 18,0 19,31 20,0 21,0 22,0 23,37 24,0 25,0 26,0 27,48 28,0 29,0 30,0 31,64 32,0 33,0 34,0 35,114 36,0 37,0 38,0 39,0" stroke="#EDA02A"/>
<polyline points="0,108 1,238 2,90 3,227 4,82 5,124 6,31 7,82 8,28 9,47 10,13 11,34 12,9 13,15 14,9 15,10 16,2 17,2 18,0 19,0 20,0 21,0 22,0 23,0 24,0 25,0 26,0 27,0 28,0 29,0 30,0 31,0 32,0 33,0 34,0 35,0 36,0 37,0 38,0 39,0" stroke="#55A070"/>
<polyline points="0,761 1,246 2,591 3,230 4,515 5,133 6,189 7,74 8,180 9,52 10,80 11,35 12,68 13,15 14,51 15,9 16,11 17,2 18,0 19,0 20,0 21,0 22,0 23,0 24,0 25,0 26,0 27,0 28,0 29,0 30,0 31,0 32,0 33,0 34,0 35,0 36,0 37,0 38,0 39,0" stroke="#C26A1C"/>
<polyline points="0,202 1,429 2,145 3,436 4,138 5,222 6,55 7,147 8,49 9,82 10,20 11,59 12,17 13,26 14,14 15,17 16,3 17,4 18,0 19,0 20,0 21,0 22,0 23,0 24,0 25,0 26,0 27,0 28,0 29,0 30,0 31,0 32,0 33,0 34,0 35,0 36,0 37,0 38,0 39,0" stroke="#6670DC"/>
<polyline points="0,0 1,0 2,0 3,0 4,0 5,0 6,0 7,0 8,0 9,0 10,0 11,0 12,0 13,0 14,0 15,0 16,0 17,0 18,0 19,0 20,0 21,0 22,0 23,0 24,0 25,0 26,0 27,0 28,0 29,0 30,0 31,0 32,0 33,0 34,21 35,21 36,29 37,79 38,315 39,544" stroke="#C8A424"/>
<polyline points="0,100 1,242 2,84 3,222 4,67 5,126 6,23 7,78 8,26 9,45 10,11 11,31 12,10 13,15 14,7 15,9 16,1 17,2 18,0 19,0 20,0 21,0 22,0 23,0 24,0 25,0 26,0 27,0 28,0 29,0 30,0 31,0 32,0 33,0 34,0 35,0 36,0 37,0 38,0 39,0" stroke="#BE48C0"/>
<polyline points="0,590 1,176 2,415 3,170 4,368 5,93 6,126 7,55 8,124 9,33 10,49 11,21 12,39 13,10 14,31 15,6 16,6 17,1 18,0 19,0 20,0 21,0 22,0 23,0 24,0 25,0 26,0 27,0 28,0 29,0 30,0 31,0 32,0 33,0 34,0 35,0 36,0 37,0 38,0 39,0" stroke="#5284B8"/>
<polyline points="0,257 1,550 2,169 3,490 4,171 5,253 6,60 7,155 8,45 9,84 10,19 11,57 12,16 13,25 14,10 15,14 16,2 17,3 18,0 19,0 20,0 21,0 22,0 23,0 24,0 25,0 26,0 27,0 28,0 29,0 30,0 31,0 32,0 33,0 34,0 35,0 36,0 37,0 38,0 39,0" stroke="#EE6A24"/>
<polyline points="0,272 1,493 2,236 3,485 4,212 5,267 6,69 7,175 8,75 9,105 10,32 11,74 12,28 13,34 14,19 15,21 16,4 17,5 18,0 19,0 20,0 21,0 22,0 23,0 24,0 25,0 26,0 27,0 28,0 29,0 30,0 31,0 32,0 33,0 34,0 35,0 36,0 37,0 38,0 39,0" stroke="#8E4EE0"/>
<polyline points="0,0 1,0 2,0 3,0 4,0 5,0 6,0 7,0 8,0 9,0 10,0 11,0 12,0 13,0 14,0 15,0 16,0 17,0 18,0 19,0 20,0 21,0 22,0 23,0 24,0 25,0 26,0 27,0 28,0 29,0 30,0 31,0 32,0 33,0 34,14 35,105 36,19 37,12 38,156 39,286" stroke="#EDA02A"/>
<polyline points="0,222 1,426 2,137 3,421 4,145 5,216 6,53 7,129 8,45 9,79 10,20 11,52 12,17 13,22 14,12 15,14 16,2 17,3 18,0 19,0 20,0 21,0 22,0 23,0 24,0 25,0 26,0 27,0 28,0 29,0 30,0 31,0 32,0 33,0 34,0 35,0 36,0 37,0 38,0 39,0" stroke="#55A070"/>
<polyline points="0,0 1,0 2,0 3,0 4,0 5,0 6,0 7,0 8,0 9,0 10,0 11,0 12,0 13,0 14,0 15,0 16,0 17,0 18,0 19,0 20,0 21,0 22,0 23,0 24,0 25,0 26,0 27,0 28,0 29,0 30,0 31,0 32,0 33,0 34,133 35,134 36,21 37,42 38,150 39,317" stroke="#C26A1C"/>
<polyline points="0,213 1,73 2,161 3,73 4,141 5,39 6,51 7,21 8,50 9,12 10,21 11,9 12,17 13,4 14,13 15,2 16,3 17,1 18,0 19,0 20,0 21,0 22,0 23,0 24,0 25,0 26,0 27,0 28,0 29,0 30,0 31,0 32,0 33,0 34,0 35,0 36,0 37,0 38,0 39,0" stroke="#6670DC"/>
<polyline points="0,305 1,499 2,161 3,362 4,130 5,142 6,32 7,72 8,24 9,34 10,9 11,17 12,5 13,7 14,3 15,3 16,1 17,1 18,0 19,0 20,0 21,0 22,0 23,0 24,0 25,0 26,0 27,0 28,0 29,0 30,0 31,0 32,0 33,0 34,0 35,0 36,0 37,0 38,0 39,0" stroke="#C8A424"/>
<polyline points="0,0 1,0 2,0 3,0 4,0 5,0 6,0 7,0 8,0 9,0 10,0 11,0 12,0 13,0 14,0 15,0 16,0 17,0 18,0 19,0 20,0 21,0 22,0 23,0 24,0 25,0 26,0 27,0 28,0 29,0 30,0 31,0 32,0 33,0 34,0 35,0 36,25 37,80 38,47 39,194" stroke="#BE48C0"/>
<polyline points="0,671 1,113 2,416 3,97 4,332 5,48 6,102 7,25 8,84 9,13 10,30 11,8 12,21 13,3 14,14 15,1 16,2 17,0 18,0 19,0 20,0 21,0 22,0 23,0 24,0 25,0 26,0 27,0 28,0 29,0 30,0 31,0 32,0 33,0 34,0 35,0 36,0 37,0 38,0 39,0" stroke="#5284B8"/>
<polyline points="0,0 1,0 2,0 3,0 4,0 5,0 6,0 7,0 8,0 9,0 10,0 11,0 12,0 13,0 14,0 15,0 16,0 17,0 18,0 19,0 20,0 21,0 22,0 23,0 24,0 25,0 26,0 27,0 28,0 29,0 30,0 31,0 32,0 33,0 34,0 35,0 36,18 37,85 38,138 39,376" stroke="#EE6A24"/>
<polyline points="0,0 1,0 2,0 3,0 4,0 5,0 6,0 7,0 8,0 9,0 10,0 11,0 12,0 13,0 14,0 15,0 16,0 17,0 18,0 19,0 20,0 21,0 22,0 23,0 24,0 25,0 26,0 27,0 28,0 29,0 30,0 31,0 32,0 33,0 34,0 35,0 36,29 37,113 38,26 39,179" stroke="#8E4EE0"/>
<polyline points="0,300 1,542 2,215 3,542 4,200 5,278 6,74 7,169 8,71 9,105 10,27 11,74 12,25 13,33 14,18 15,21 16,4 17,5 18,0 19,0 20,0 21,0 22,0 23,0 24,0 25,0 26,0 27,0 28,0 29,0 30,0 31,0 32,0 33,0 34,0 35,0 36,0 37,0 38,0 39,0" stroke="#EDA02A"/>
<polyline points="0,0 1,0 2,0 3,0 4,0 5,0 6,0 7,0 8,0 9,0 10,0 11,0 12,0 13,0 14,0 15,0 16,0 17,0 18,0 19,0 20,0 21,0 22,0 23,0 24,0 25,0 26,0 27,0 28,0 29,0 30,0 31,0 32,0 33,0 34,0 35,0 36,20 37,81 38,82 39,459" stroke="#55A070"/>
<polyline points="0,258 1,529 2,156 3,484 4,151 5,248 6,55 7,146 8,45 9,77 10,16 11,54 12,13 13,23 14,10 15,13 16,2 17,3 18,0 19,0 20,0 21,0 22,0 23,0 24,0 25,0 26,0 27,0 28,0 29,0 30,0 31,0 32,0 33,0 34,0 35,0 36,0 37,0 38,0 39,0" stroke="#C26A1C"/>
<polyline points="0,864 1,200 2,635 3,158 4,596 5,93 6,204 7,57 8,203 9,34 10,86 11,26 12,70 13,12 14,55 15,8 16,12 17,2 18,0 19,0 20,0 21,0 22,0 23,0 24,0 25,0 26,0 27,0 28,0 29,0 30,0 31,0 32,0 33,0 34,0 35,0 36,0 37,0 38,0 39,0" stroke="#6670DC"/>
<polyline points="0,230 1,612 2,172 3,621 4,159 5,332 6,59 7,215 8,53 9,124 10,29 11,94 12,21 13,42 14,18 15,27 16,4 17,7 18,0 19,0 20,0 21,0 22,0 23,0 24,0 25,0 26,0 27,0 28,0 29,0 30,0 31,0 32,0 33,0 34,0 35,0 36,0 37,0 38,0 39,0" stroke="#C8A424"/>
<polyline points="0,0 1,0 2,0 3,0 4,0 5,0 6,0 7,0 8,0 9,0 10,0 11,0 12,0 13,0 14,0 15,0 16,0 17,0 18,0 19,0 20,0 21,0 22,0 23,0 24,0 25,0 26,0 27,0 28,0 29,0 30,0 31,0 32,0 33,0 34,128 35,77 36,2 37,37 38,37 39,127" stroke="#BE48C0"/>
<polyline points="0,838 1,268 2,531 3,230 4,396 5,97 6,127 7,54 8,94 9,28 10,36 11,16 12,24 13,6 14,15 15,3 16,3 17,1 18,0 19,0 20,0 21,0 22,0 23,0 24,0 25,0 26,0 27,0 28,0 29,0 30,0 31,0 32,0 33,0 34,0 35,0 36,0 37,0 38,0 39,0" stroke="#5284B8"/>
<polyline points="0,0 1,0 2,0 3,0 4,0 5,0 6,0 7,0 8,0 9,0 10,0 11,0 12,0 13,0 14,15 15,0 16,0 17,0 18,14 19,0 20,0 21,0 22,13 23,0 24,0 25,0 26,14 27,0 28,0 29,0 30,17 31,0 32,0 33,0 34,26 35,0 36,0 37,0 38,0 39,0" stroke="#EE6A24"/>
<polyline points="0,0 1,0 2,0 3,0 4,0 5,0 6,0 7,0 8,0 9,0 10,0 11,0 12,0 13,0 14,0 15,0 16,0 17,0 18,0 19,0 20,0 21,0 22,0 23,0 24,0 25,0 26,0 27,0 28,0 29,0 30,0 31,0 32,0 33,0 34,102 35,15 36,4 37,39 38,239 39,656" stroke="#8E4EE0"/>
<polyline points="0,746 1,145 2,534 3,153 4,451 5,73 6,164 7,47 8,142 9,25 10,60 11,20 12,48 13,7 14,34 15,5 16,7 17,1 18,0 19,0 20,0 21,0 22,0 23,0 24,0 25,0 26,0 27,0 28,0 29,0 30,0 31,0 32,0 33,0 34,0 35,0 36,0 37,0 38,0 39,0" stroke="#EDA02A"/>
<polyline points="0,242 1,420 2,139 3,330 4,92 5,136 6,26 7,62 8,18 9,30 10,5 11,16 12,4 13,5 14,3 15,3 16,0 17,0 18,0 19,0 20,0 21,0 22,0 23,0 24,0 25,0 26,0 27,0 28,0 29,0 30,0 31,0 32,0 33,0 34,0 35,0 36,0 37,0 38,0 39,0" stroke="#55A070"/>
<polyline points="0,392 1,129 2,313 3,135 4,283 5,78 6,109 7,45 8,104 9,29 10,44 11,20 12,37 13,10 14,31 15,6 16,6 17,1 18,0 19,0 20,0 21,0 22,0 23,0 24,0 25,0 26,0 27,0 28,0 29,0 30,0 31,0 32,0 33,0 34,0 35,0 36,0 37,0 38,0 39,0" stroke="#C26A1C"/>
<polyline points="0,697 1,187 2,560 3,181 4,513 5,87 6,189 7,64 8,176 9,37 10,78 11,25 12,69 13,12 14,52 15,8 16,12 17,2 18,0 19,0 20,0 21,0 22,0 23,0 24,0 25,0 26,0 27,0 28,0 29,0 30,0 31,0 32,0 33,0 34,0 35,0 36,0 37,0 38,0 39,0" stroke="#6670DC"/>
<polyline points="0,165 1,481 2,137 3,466 4,125 5,228 6,46 7,143 8,36 9,90 10,16 11,62 12,15 13,27 14,11 15,17 16,2 17,4 18,0 19,0 20,0 21,0 22,0 23,0 24,0 25,0 26,0 27,0 28,0 29,0 30,0 31,0 32,0 33,0 34,0 35,0 36,0 37,0 38,0 39,0" stroke="#C8A424"/>
<polyline points="0,213 1,450 2,163 3,373 4,125 5,160 6,42 7,92 8,31 9,48 10,12 11,28 12,8 13,11 14,6 15,6 16,1 17,1 18,0 19,0 20,0 21,0 22,0 23,0 24,0 25,0 26,0 27,0 28,0 29,0 30,0 31,0 32,0 33,0 34,0 35,0 36,0 37,0 38,0 39,0" stroke="#BE48C0"/>
<polyline points="0,740 1,213 2,533 3,236 4,512 5,122 6,182 7,81 8,175 9,49 10,80 11,38 12,70 13,17 14,55 15,11 16,12 17,2 18,0 19,0 20,0 21,0 22,0 23,0 24,0 25,0 26,0 27,0 28,0 29,0 30,0 31,0 32,0 33,0 34,0 35,0 36,0 37,0 38,0 39,0" stroke="#5284B8"/>
<polyline points="0,371 1,89 2,251 3,91 4,218 5,36 6,79 7,23 8,68 9,14 10,29 11,10 12,23 13,4 14,17 15,2 16,3 17,1 18,0 19,0 20,0 21,0 22,0 23,0 24,0 25,0 26,0 27,0 28,0 29,0 30,0 31,0 32,0 33,0 34,0 35,0 36,0 37,0 38,0 39,0" stroke="#EE6A24"/>
<polyline points="0,691 1,160 2,531 3,173 4,479 5,94 6,184 7,63 8,173 9,37 10,77 11,26 12,65 13,13 14,51 15,8 16,11 17,2 18,0 19,0 20,0 21,0 22,0 23,0 24,0 25,0 26,0 27,0 28,0 29,0 30,0 31,0 32,0 33,0 34,0 35,0 36,0 37,0 38,0 39,0" stroke="#8E4EE0"/>
<polyline points="0,224 1,368 2,182 3,368 4,163 5,199 6,64 7,126 8,53 9,74 10,24 11,51 12,20 13,24 14,18 15,15 16,3 17,4 18,0 19,0 20,0 21,0 22,0 23,0 24,0 25,0 26,0 27,0 28,0 29,0 30,0 31,0 32,0 33,0 34,0 35,0 36,0 37,0 38,0 39,0" stroke="#EDA02A"/>
<polyline points="0,319 1,648 2,258 3,626 4,217 5,320 6,87 7,208 8,82 9,129 10,33 11,91 12,28 13,40 14,23 15,26 16,5 17,6 18,0 19,0 20,0 21,0 22,0 23,0 24,0 25,0 26,0 27,0 28,0 29,0 30,0 31,0 32,0 33,0 34,0 35,0 36,0 37,0 38,0 39,0" stroke="#55A070"/>
<polyline points="0,0 1,0 2,0 3,0 4,0 5,0 6,0 7,0 8,0 9,0 10,0 11,0 12,0 13,0 14,0 15,0 16,0 17,0 18,0 19,0 20,0 21,0 22,0 23,0 24,0 25,0 26,0 27,0 28,0 29,0 30,0 31,0 32,0 33,0 34,0 35,0 36,12 37,79 38,242 39,699" stroke="#C26A1C"/>
<polyline points="0,319 1,451 2,157 3,360 4,132 5,141 6,34 7,72 8,25 9,35 10,9 11,19 12,5 13,7 14,4 15,3 16,1 17,1 18,0 19,0 20,0 21,0 22,0 23,0 24,0 25,0 26,0 27,0 28,0 29,0 30,0 31,0 32,0 33,0 34,0 35,0 36,0 37,0 38,0 39,0" stroke="#6670DC"/>
<polyline points="0,0 1,0 2,0 3,0 4,0 5,0 6,0 7,0 8,0 9,0 10,0 11,0 12,0 13,0 14,0 15,0 16,0 17,0 18,0 19,0 20,0 21,0 22,0 23,0 24,0 25,0 26,0 27,0 28,0 29,0 30,0 31,0 32,0 33,0 34,38 35,71 36,26 37,47 38,42 39,169" stroke="#C8A424"/>
<polyline points="0,0 1,0 2,0 3,0 4,0 5,0 6,0 7,0 8,0 9,0 10,0 11,0 12,0 13,0 14,87 15,0 16,0 17,0 18,71 19,0 20,0 21,0 22,65 23,0 24,0 25,0 26,70 27,0 28,0 29,0 30,95 31,0 32,0 33,0 34,150 35,0 36,0 37,0 38,0 39,0" stroke="#BE48C0"/>
<polyline points="0,0 1,0 2,0 3,0 4,0 5,0 6,0 7,0 8,0 9,0 10,0 11,0 12,0 13,0 14,0 15,23 16,0 17,0 18,0 19,17 20,0 21,0 22,0 23,19 24,0 25,0 26,0 27,27 28,0 29,0 30,0 31,30 32,0 33,0 34,0 35,56 36,0 37,0 38,0 39,0" stroke="#5284B8"/>
<polyline points="0,0 1,0 2,0 3,0 4,0 5,0 6,0 7,0 8,0 9,0 10,0 11,0 12,0 13,0 14,0 15,0 16,0 17,0 18,0 19,0 20,0 21,0 22,0 23,0 24,0 25,0 26,0 27,0 28,0 29,0 30,0 31,0 32,0 33,0 34,0 35,0 36,1 37,96 38,460 39,749" stroke="#EE6A24"/>
<polyline points="0,543 1,146 2,385 3,130 4,384 5,79 6,138 7,42 8,129 9,25 10,60 11,18 12,48 13,9 14,38 15,5 16,9 17,1 18,0 19,0 20,0 21,0 22,0 23,0 24,0 25,0 26,0 27,0 28,0 29,0 30,0 31,0 32,0 33,0 34,0 35,0 36,0 37,0 38,0 39,0" stroke="#8E4EE0"/>
<polyline points="0,127 1,276 2,87 3,218 4,62 5,94 6,18 7,45 8,13 9,21 10,4 11,12 12,3 13,5 14,2 15,2 16,0 17,0 18,0 19,0 20,0 21,0 22,0 23,0 24,0 25,0 26,0 27,0 28,0 29,0 30,0 31,0 32,0 33,0 34,0 35,0 36,0 37,0 38,0 39,0" stroke="#EDA02A"/>
<polyline points="0,174 1,357 2,117 3,338 4,116 5,185 6,38 7,110 8,33 9,63 10,14 11,46 12,13 13,21 14,10 15,12 16,2 17,3 18,0 19,0 20,0 21,0 22,0 23,0 24,0 25,0 26,0 27,0 28,0 29,0 30,0 31,0 32,0 33,0 34,0 35,0 36,0 37,0 38,0 39,0" stroke="#55A070"/>
<polyline points="0,185 1,318 2,136 3,280 4,130 5,154 6,45 7,97 8,46 9,56 10,17 11,37 12,15 13,17 14,10 15,10 16,2 17,2 18,0 19,0 20,0 21,0 22,0 23,0 24,0 25,0 26,0 27,0 28,0 29,0 30,0 31,0 32,0 33,0 34,0 35,0 36,0 37,0 38,0 39,0" stroke="#C26A1C"/>
<polyline points="0,175 1,271 2,129 3,258 4,125 5,139 6,47 7,90 8,36 9,57 10,18 11,42 12,16 13,19 14,14 15,12 16,3 17,3 18,0 19,0 20,0 21,0 22,0 23,0 24,0 25,0 26,0 27,0 28,0 29,0 30,0 31,0 32,0 33,0 34,0 35,0 36,0 37,0 38,0 39,0" stroke="#6670DC"/>
<polyline points="0,381 1,639 2,299 3,636 4,246 5,335 6,112 7,220 8,91 9,140 10,44 11,100 12,37 13,46 14,32 15,28 16,6 17,7 18,0 19,0 20,0 21,0 22,0 23,0 24,0 25,0 26,0 27,0 28,0 29,0 30,0 31,0 32,0 33,0 34,0 35,0 36,0 37,0 38,0 39,0" stroke="#C8A424"/>
<polyline points="0,286 1,538 2,215 3,477 4,164 5,232 6,52 7,126 8,44 9,71 10,17 11,43 12,13 13,17 14,8 15,10 16,2 17,2 18,0 19,0 20,0 21,0 22,0 23,0 24,0 25,0 26,0 27,0 28,0 29,0 30,0 31,0 32,0 33,0 34,0 35,0 36,0 37,0 38,0 39,0" stroke="#BE48C0"/>
<polyline points="0,0 1,0 2,0 3,0 4,0 5,0 6,0 7,0 8,0 9,0 10,0 11,0 12,0 13,0 14,0 15,22 16,0 17,0 18,0 19,17 20,0 21,0 22,0 23,20 24,0 25,0 26,0 27,28 28,0 29,0 30,0 31,29 32,0 33,0 34,0 35,58 36,0 37,0 38,0 39,0" stroke="#5284B8"/>
<polyline points="0,808 1,239 2,536 3,209 4,462 5,112 6,152 7,61 8,129 9,36 10,53 11,22 12,40 13,9 14,29 15,5 16,6 17,1 18,0 19,0 20,0 21,0 22,0 23,0 24,0 25,0 26,0 27,0 28,0 29,0 30,0 31,0 32,0 33,0 34,0 35,0 36,0 37,0 38,0 39,0" stroke="#EE6A24"/>
<polyline points="0,0 1,0 2,0 3,0 4,0 5,0 6,0 7,0 8,0 9,0 10,0 11,0 12,0 13,0 14,46 15,0 16,0 17,0 18,49 19,0 20,0 21,0 22,38 23,0 24,0 25,0 26,45 27,0 28,0 29,0 30,56 31,0 32,0 33,0 34,95 35,0 36,0 37,0 38,0 39,0" stroke="#8E4EE0"/>
<polyline points="0,60 1,157 2,45 3,160 4,41 5,83 6,16 7,54 8,16 9,33 10,6 11,23 12,6 13,10 14,4 15,7 16,1 17,2 18,0 19,0 20,0 21,0 22,0 23,0 24,0 25,0 26,0 27,0 28,0 29,0 30,0 31,0 32,0 33,0 34,0 35,0 36,0 37,0 38,0 39,0" stroke="#EDA02A"/>
<polyline points="0,0 1,0 2,0 3,0 4,0 5,0 6,0 7,0 8,0 9,0 10,0 11,0 12,0 13,0 14,0 15,0 16,0 17,0 18,0 19,0 20,0 21,0 22,0 23,0 24,0 25,0 26,0 27,0 28,0 29,0 30,0 31,0 32,0 33,0 34,17 35,68 36,19 37,51 38,147 39,431" stroke="#55A070"/>
<polyline points="0,695 1,143 2,453 3,127 4,396 5,62 6,132 7,40 8,122 9,25 10,50 11,15 12,37 13,6 14,28 15,4 16,5 17,1 18,0 19,0 20,0 21,0 22,0 23,0 24,0 25,0 26,0 27,0 28,0 29,0 30,0 31,0 32,0 33,0 34,0 35,0 36,0 37,0 38,0 39,0" stroke="#C26A1C"/>
<polyline points="0,195 1,364 2,109 3,292 4,85 5,138 6,30 7,72 8,21 9,35 10,8 11,21 12,7 13,8 14,3 15,4 16,1 17,1 18,0 19,0 20,0 21,0 22,0 23,0 24,0 25,0 26,0 27,0 28,0 29,0 30,0 31,0 32,0 33,0 34,0 35,0 36,0 37,0 38,0 39,0" stroke="#6670DC"/>
<polyline points="0,182 1,429 2,133 3,413 4,125 5,210 6,47 7,135 8,40 9,77 10,19 11,54 12,17 13,26 14,12 15,15 16,2 17,4 18,0 19,0 20,0 21,0 22,0 23,0 24,0 25,0 26,0 27,0 28,0 29,0 30,0 31,0 32,0 33,0 34,0 35,0 36,0 37,0 38,0 39,0" stroke="#C8A424"/>
<polyline points="0,227 1,441 2,205 3,418 4,152 5,207 6,53 7,129 8,59 9,74 10,22 11,48 12,18 13,22 14,15 15,13 16,3 17,3 18,0 19,0 20,0 21,0 22,0 23,0 24,0 25,0 26,0 27,0 28,0 29,0 30,0 31,0 32,0 33,0 34,0 35,0 36,0 37,0 38,0 39,0" stroke="#BE48C0"/>
<polyline points="0,140 1,260 2,110 3,261 4,99 5,143 6,42 7,88 8,39 9,52 10,17 11,36 12,15 13,17 14,10 15,11 16,2 17,3 18,0 19,0 20,0 21,0 22,0 23,0 24,0 25,0 26,0 27,0 28,0 29,0 30,0 31,0 32,0 33,0 34,0 35,0 36,0 37,0 38,0 39,0" stroke="#5284B8"/>
<polyline points="0,200 1,314 2,149 3,313 4,141 5,169 6,59 7,114 8,50 9,68 10,22 11,46 12,20 13,22 14,17 15,14 16,4 17,3 18,0 19,0 20,0 21,0 22,0 23,0 24,0 25,0 26,0 27,0 28,0 29,0 30,0 31,0 32,0 33,0 34,0 35,0 36,0 37,0 38,0 39,0" stroke="#EE6A24"/>
<polyline points="0,0 1,0 2,0 3,0 4,0 5,0 6,0 7,0 8,0 9,0 10,0 11,0 12,0 13,0 14,59 15,0 16,0 17,0 18,57 19,0 20,0 21,0 22,52 23,0 24,0 25,0 26,57 27,0 28,0 29,0 30,79 31,0 32,0 33,0 34,125 35,0 36,0 37,0 38,0 39,0" stroke="#8E4EE0"/>
<polyline points="0,0 1,0 2,0 3,0 4,0 5,0 6,0 7,0 8,0 9,0 10,0 11,0 12,0 13,0 14,73 15,0 16,0 17,0 18,67 19,0 20,0 21,0 22,62 23,0 24,0 25,0 26,78 27,0 28,0 29,0 30,90 31,0 32,0 33,0 34,138 35,0 36,0 37,0 38,0 39,0" stroke="#EDA02A"/>
<polyline points="0,362 1,112 2,275 3,107 4,254 5,62 6,97 7,42 8,88 9,22 10,39 11,15 12,33 13,7 14,26 15,5 16,6 17,1 18,0 19,0 20,0 21,0 22,0 23,0 24,0 25,0 26,0 27,0 28,0 29,0 30,0 31,0 32,0 33,0 34,0 35,0 36,0 37,0 38,0 39,0" stroke="#55A070"/>
<polyline points="0,0 1,0 2,0 3,0 4,0 5,0 6,0 7,0 8,0 9,0 10,0 11,0 12,0 13,0 14,0 15,51 16,0 17,0 18,0 19,44 20,0 21,0 22,0 23,48 24,0 25,0 26,0 27,67 28,0 29,0 30,0 31,83 32,0 33,0 34,0 35,144 36,0 37,0 38,0 39,0" stroke="#C26A1C"/>
<polyline points="0,138 1,304 2,93 3,292 4,80 5,154 6,34 7,95 8,30 9,56 10,13 11,41 12,10 13,17 14,8 15,11 16,2 17,3 18,0 19,0 20,0 21,0 22,0 23,0 24,0 25,0 26,0 27,0 28,0 29,0 30,0 31,0 32,0 33,0 34,0 35,0 36,0 37,0 38,0 39,0" stroke="#6670DC"/>
<polyline points="0,0 1,0 2,0 3,0 4,0 5,0 6,0 7,0 8,0 9,0 10,0 11,0 12,0 13,0 14,0 15,0 16,0 17,0 18,0 19,0 20,0 21,0 22,0 23,0 24,0 25,0 26,0 27,0 28,0 29,0 30,0 31,0 32,0 33,0 34,0 35,0 36,5 37,25 38,86 39,572" stroke="#C8A424"/>
<polyline points="0,588 1,163 2,399 3,162 4,351 5,72 6,133 7,51 8,120 9,27 10,50 11,17 12,41 13,8 14,28 15,5 16,6 17,1 18,0 19,0 20,0 21,0 22,0 23,0 24,0 25,0 26,0 27,0 28,0 29,0 30,0 31,0 32,0 33,0 34,0 35,0 36,0 37,0 38,0 39,0" stroke="#BE48C0"/>
<polyline points="0,702 1,143 2,521 3,164 4,460 5,78 6,170 7,46 8,153 9,25 10,63 11,19 12,53 13,8 14,40 15,5 16,8 17,1 18,0 19,0 20,0 21,0 22,0 23,0 24,0 25,0 26,0 27,0 28,0 29,0 30,0 31,0 32,0 33,0 34,0 35,0 36,0 37,0 38,0 39,0" stroke="#5284B8"/>
<polyline points="0,0 1,0 2,0 3,0 4,0 5,0 6,0 7,0 8,0 9,0 10,0 11,0 12,0 13,0 14,0 15,0 16,0 17,0 18,0 19,0 20,0 21,0 22,0 23,0 24,0 25,0 26,0 27,0 28,0 29,0 30,0 31,0 32,0 33,0 34,25 35,15 36,8 37,2 38,27 39,131" stroke="#EE6A24"/>
<polyline points="0,532 1,97 2,333 3,88 4,277 5,42 6,92 7,27 8,81 9,14 10,33 11,8 12,24 13,4 14,17 15,2 16,3 17,0 18,0 19,0 20,0 21,0 22,0 23,0 24,0 25,0 26,0 27,0 28,0 29,0 30,0 31,0 32,0 33,0 34,0 35,0 36,0 37,0 38,0 39,0" stroke="#8E4EE0"/>
<polyline points="0,241 1,368 2,147 3,325 4,114 5,156 6,33 7,90 8,29 9,46 10,11 11,29 12,9 13,12 14,6 15,7 16,1 17,1 18,0 19,0 20,0 21,0 22,0 23,0 24,0 25,0 26,0 27,0 28,0 29,0 30,0 31,0 32,0 33,0 34,0 35,0 36,0 37,0 38,0 39,0" stroke="#EDA02A"/>
<polyline points="0,0 1,0 2,0 3,0 4,0 5,0 6,0 7,0 8,0 9,0 10,0 11,0 12,0 13,0 14,18 15,0 16,0 17,0 18,17 19,0 20,0 21,0 22,16 23,0 24,0 25,0 26,18 27,0 28,0 29,0 30,23 31,0 32,0 33,0 34,36 35,0 36,0 37,0 38,0 39,0" stroke="#55A070"/>
<polyline points="0,254 1,594 2,202 3,565 4,177 5,321 6,72 7,197 8,77 9,125 10,30 11,88 12,24 13,39 14,21 15,27 16,5 17,6 18,0 19,0 20,0 21,0 22,0 23,0 24,0 25,0 26,0 27,0 28,0 29,0 30,0 31,0 32,0 33,0 34,0 35,0 36,0 37,0 38,0 39,0" stroke="#C26A1C"/>
<polyline points="0,708 1,235 2,481 3,224 4,424 5,106 6,143 7,53 8,121 9,31 10,48 11,20 12,38 13,10 14,27 15,5 16,5 17,1 18,0 19,0 20,0 21,0 22,0 23,0 24,0 25,0 26,0 27,0 28,0 29,0 30,0 31,0 32,0 33,0 34,0 35,0 36,0 37,0 38,0 39,0" stroke="#6670DC"/>
<polyline points="0,329 1,541 2,219 3,395 4,163 5,170 6,39 7,82 8,33 9,38 10,11 11,21 12,8 13,7 14,5 15,4 16,1 17,1 18,0 19,0 20,0 21,0 22,0 23,0 24,0 25,0 26,0 27,0 28,0 29,0 30,0 31,0 32,0 33,0 34,0 35,0 36,0 37,0 38,0 39,0" stroke="#C8A424"/>
<polyline points="0,0 1,0 2,0 3,0 4,0 5,0 6,0 7,0 8,0 9,0 10,0 11,0 12,0 13,0 14,69 15,0 16,0 17,0 18,67 19,0 20,0 21,0 22,64 23,0 24,0 25,0 26,73 27,0 28,0 29,0 30,85 31,0 32,0 33,0 34,138 35,0 36,0 37,0 38,0 39,0" stroke="#BE48C0"/>
<polyline points="0,145 1,273 2,91 3,213 4,53 5,84 6,15 7,43 8,13 9,20 10,4 11,11 12,3 13,4 14,2 15,2 16,0 17,0 18,0 19,0 20,0 21,0 22,0 23,0 24,0 25,0 26,0 27,0 28,0 29,0 30,0 31,0 32,0 33,0 34,0 35,0 36,0 37,0 38,0 39,0" stroke="#5284B8"/>
<polyline points="0,335 1,617 2,303 3,638 4,256 5,324 6,91 7,211 8,98 9,127 10,45 11,92 12,35 13,41 14,30 15,27 16,6 17,7 18,0 19,0 20,0 21,0 22,0 23,0 24,0 25,0 26,0 27,0 28,0 29,0 30,0 31,0 32,0 33,0 34,0 35,0 36,0 37,0 38,0 39,0" stroke="#EE6A24"/>
<polyline points="0,787 1,183 2,564 3,166 4,481 5,86 6,178 7,60 8,161 9,35 10,66 11,23 12,53 13,8 14,40 15,5 16,8 17,1 18,0 19,0 20,0 21,0 22,0 23,0 24,0 25,0 26,0 27,0 28,0 29,0 30,0 31,0 32,0 33,0 34,0 35,0 36,0 37,0 38,0 39,0" stroke="#8E4EE0"/>
<polyline points="0,243 1,537 2,142 3,515 4,149 5,259 6,59 7,171 8,45 9,99 10,23 11,67 12,19 13,32 14,15 15,19 16,3 17,5 18,0 19,0 20,0 21,0 22,0 23,0 24,0 25,0 26,0 27,0 28,0 29,0 30,0 31,0 32,0 33,0 34,0 35,0 36,0 37,0 38,0 39,0" stroke="#EDA02A"/>
<polyline points="0,0 1,0 2,0 3,0 4,0 5,0 6,0 7,0 8,0 9,0 10,0 11,0 12,0 13,0 14,0 15,0 16,0 17,0 18,0 19,0 20,0 21,0 22,0 23,0 24,0 25,0 26,0 27,0 28,0 29,0 30,0 31,0 32,0 33,0 34,0 35,0 36,12 37,36 38,77 39,113" stroke="#55A070"/>
<polyline points="0,706 1,208 2,493 3,240 4,461 5,108 6,181 7,68 8,166 9,45 10,77 11,34 12,62 13,16 14,49 15,9 16,11 17,2 18,0 19,0 20,0 21,0 22,0 23,0 24,0 25,0 26,0 27,0 28,0 29,0 30,0 31,0 32,0 33,0 34,0 35,0 36,0 37,0 38,0 39,0" stroke="#C26A1C"/>
<polyline points="0,789 1,211 2,550 3,226 4,527 5,123 6,191 7,76 8,177 9,44 10,81 11,26 12,66 13,13 14,53 15,8 16,11 17,2 18,0 19,0 20,0 21,0 22,0 23,0 24,0 25,0 26,0 27,0 28,0 29,0 30,0 31,0 32,0 33,0 34,0 35,0 36,0 37,0 38,0 39,0" stroke="#6670DC"/>
<polyline points="0,299 1,501 2,235 3,518 4,248 5,285 6,87 7,187 8,90 9,107 10,41 11,81 12,29 13,35 14,26 15,23 16,5 17,6 18,0 19,0 20,0 21,0 22,0 23,0 24,0 25,0 26,0 27,0 28,0 29,0 30,0 31,0 32,0 33,0 34,0 35,0 36,0 37,0 38,0 39,0" stroke="#C8A424"/>
<polyline points="0,0 1,0 2,0 3,0 4,0 5,0 6,0 7,0 8,0 9,0 10,0 11,0 12,0 13,0 14,0 15,0 16,0 17,0 18,0 19,0 20,0 21,0 22,0 23,0 24,0 25,0 26,0 27,0 28,0 29,0 30,69 31,78 32,0 33,0 34,0 35,0 36,24 37,41 38,226 39,418" stroke="#BE48C0"/>
<polyline points="0,193 1,345 2,129 3,341 4,111 5,176 6,44 7,111 8,45 9,67 10,17 11,45 12,15 13,22 14,12 15,13 16,3 17,3 18,0 19,0 20,0 21,0 22,0 23,0 24,0 25,0 26,0 27,0 28,0 29,0 30,0 31,0 32,0 33,0 34,0 35,0 36,0 37,0 38,0 39,0" stroke="#5284B8"/>
<polyline points="0,469 1,150 2,376 3,144 4,336 5,78 6,124 7,49 8,117 9,28 10,56 11,21 12,45 13,10 14,36 15,7 16,8 17,1 18,0 19,0 20,0 21,0 22,0 23,0 24,0 25,0 26,0 27,0 28,0 29,0 30,0 31,0 32,0 33,0 34,0 35,0 36,0 37,0 38,0 39,0" stroke="#EE6A24"/>
<polyline points="0,0 1,0 2,0 3,0 4,0 5,0 6,0 7,0 8,0 9,0 10,0 11,0 12,0 13,0 14,0 15,0 16,0 17,0 18,0 19,0 20,0 21,0 22,0 23,0 24,0 25,0 26,0 27,0 28,0 29,0 30,18 31,78 32,0 33,0 34,0 35,0 36,15 37,55 38,13 39,32" stroke="#8E4EE0"/>
<polyline points="0,0 1,0 2,0 3,0 4,0 5,0 6,0 7,0 8,0 9,0 10,0 11,0 12,0 13,0 14,0 15,0 16,0 17,0 18,0 19,0 20,0 21,0 22,0 23,0 24,0 25,0 26,0 27,0 28,0 29,0 30,0 31,0 32,0 33,0 34,0 35,0 36,24 37,80 38,460 39,716" stroke="#EDA02A"/>
<polyline points="0,271 1,552 2,200 3,550 4,192 5,268 6,65 7,164 8,61 9,95 10,25 11,65 12,19 13,29 14,14 15,17 16,3 17,4 18,0 19,0 20,0 21,0 22,0 23,0 24,0 25,0 26,0 27,0 28,0 29,0 30,0 31,0 32,0 33,0 34,0 35,0 36,0 37,0 38,0 39,0" stroke="#55A070"/>
<polyline points="0,0 1,0 2,0 3,0 4,0 5,0 6,0 7,0 8,0 9,0 10,0 11,0 12,0 13,0 14,0 15,0 16,0 17,0 18,0 19,0 20,0 21,0 22,0 23,0 24,0 25,0 26,0 27,0 28,0 29,0 30,0 31,0 32,0 33,0 34,35 35,84 36,21 37,79 38,208 39,492" stroke="#C26A1C"/>
<polyline points="0,772 1,234 2,538 3,189 4,489 5,103 6,161 7,57 8,150 9,30 10,59 11,18 12,49 13,9 14,35 15,5 16,7 17,1 18,0 19,0 20,0 21,0 22,0 23,0 24,0 25,0 26,0 27,0 28,0 29,0 30,0 31,0 32,0 33,0 34,0 35,0 36,0 37,0 38,0 39,0" stroke="#6670DC"/>
<polyline points="0,0 1,0 2,0 3,0 4,0 5,0 6,0 7,0 8,0 9,0 10,0 11,0 12,0 13,0 14,0 15,0 16,0 17,0 18,0 19,0 20,0 21,0 22,0 23,0 24,0 25,0 26,0 27,0 28,0 29,0 30,0 31,0 32,0 33,0 34,0 35,0 36,14 37,70 38,170 39,246" stroke="#C8A424"/>
<polyline points="0,0 1,0 2,0 3,0 4,0 5,0 6,0 7,0 8,0 9,0 10,0 11,0 12,0 13,0 14,41 15,0 16,0 17,0 18,36 19,0 20,0 21,0 22,36 23,0 24,0 25,0 26,35 27,0 28,0 29,0 30,51 31,0 32,0 33,0 34,73 35,0 36,0 37,0 38,0 39,0" stroke="#BE48C0"/>
<polyline points="0,0 1,0 2,0 3,0 4,0 5,0 6,0 7,0 8,0 9,0 10,0 11,0 12,0 13,0 14,71 15,0 16,0 17,0 18,63 19,0 20,0 21,0 22,61 23,0 24,0 25,0 26,74 27,0 28,0 29,0 30,90 31,0 32,0 33,0 34,119 35,0 36,0 37,0 38,0 39,0" stroke="#5284B8"/>
<polyline points="0,208 1,443 2,153 3,433 4,149 5,229 6,54 7,150 8,60 9,92 10,25 11,62 12,20 13,30 14,16 15,19 16,4 17,4 18,0 19,0 20,0 21,0 22,0 23,0 24,0 25,0 26,0 27,0 28,0 29,0 30,0 31,0 32,0 33,0 34,0 35,0 36,0 37,0 38,0 39,0" stroke="#EE6A24"/>
<polyline points="0,737 1,229 2,531 3,248 4,486 5,122 6,175 7,84 8,171 9,46 10,75 11,31 12,64 13,15 14,47 15,10 16,10 17,2 18,0 19,0 20,0 21,0 22,0 23,0 24,0 25,0 26,0 27,0 28,0 29,0 30,0 31,0 32,0 33,0 34,0 35,0 36,0 37,0 38,0 39,0" stroke="#8E4EE0"/>
<polyline points="0,0 1,0 2,0 3,0 4,0 5,0 6,0 7,0 8,0 9,0 10,0 11,0 12,0 13,0 14,0 15,0 16,0 17,0 18,0 19,0 20,0 21,0 22,0 23,0 24,0 25,0 26,0 27,0 28,0 29,0 30,0 31,0 32,0 33,0 34,0 35,0 36,1 37,33 38,358 39,607" stroke="#EDA02A"/>
<polyline points="0,774 1,254 2,595 3,244 4,554 5,129 6,201 7,86 8,198 9,46 10,91 11,36 12,77 13,17 14,62 15,10 16,13 17,2 18,0 19,0 20,0 21,0 22,0 23,0 24,0 25,0 26,0 27,0 28,0 29,0 30,0 31,0 32,0 33,0 34,0 35,0 36,0 37,0 38,0 39,0" stroke="#55A070"/>
<polyline points="0,207 1,486 2,121 3,399 4,93 5,188 6,31 7,100 8,25 9,53 10,11 11,33 12,8 13,13 14,5 15,7 16,1 17,1 18,0 19,0 20,0 21,0 22,0 23,0 24,0 25,0 26,0 27,0 28,0 29,0 30,0 31,0 32,0 33,0 34,0 35,0 36,0 37,0 38,0 39,0" stroke="#C26A1C"/>
<polyline points="0,606 1,234 2,436 3,211 4,429 5,120 6,145 7,77 8,143 9,47 10,63 11,26 12,50 13,15 14,39 15,9 16,8 17,2 18,0 19,0 20,0 21,0 22,0 23,0 24,0 25,0 26,0 27,0 28,0 29,0 30,0 31,0 32,0 33,0 34,0 35,0 36,0 37,0 38,0 39,0" stroke="#6670DC"/>
<polyline points="0,228 1,54 2,129 3,39 4,86 5,16 6,24 7,7 8,17 9,4 10,6 11,2 12,4 13,1 14,2 15,0 16,0 17,0 18,0 19,0 20,0 21,0 22,0 23,0 24,0 25,0 26,0 27,0 28,0 29,0 30,0 31,0 32,0 33,0 34,0 35,0 36,0 37,0 38,0 39,0" stroke="#C8A424"/>
<polyline points="0,884 1,244 2,500 3,170 4,350 5,68 6,109 7,38 8,82 9,16 10,27 11,9 12,19 13,3 14,11 15,1 16,2 17,0 18,0 19,0 20,0 21,0 22,0 23,0 24,0 25,0 26,0 27,0 28,0 29,0 30,0 31,0 32,0 33,0 34,0 35,0 36,0 37,0 38,0 39,0" stroke="#BE48C0"/>
<polyline points="0,327 1,557 2,244 3,551 4,245 5,285 6,80 7,187 8,86 9,117 10,42 11,82 12,33 13,38 14,24 15,23 16,5 17,6 18,0 19,0 20,0 21,0 22,0 23,0 24,0 25,0 26,0 27,0 28,0 29,0 30,0 31,0 32,0 33,0 34,0 35,0 36,0 37,0 38,0 39,0" stroke="#5284B8"/>
<polyline points="0,216 1,443 2,141 3,422 4,125 5,226 6,48 7,151 8,54 9,91 10,23 11,62 12,18 13,30 14,17 15,20 16,3 17,4 18,0 19,0 20,0 21,0 22,0 23,0 24,0 25,0 26,0 27,0 28,0 29,0 30,0 31,0 32,0 33,0 34,0 35,0 36,0 37,0 38,0 39,0" stroke="#EE6A24"/>
<polyline points="0,347 1,82 2,256 3,79 4,238 5,40 6,91 7,26 8,85 9,16 10,37 11,11 12,31 13,6 14,24 15,4 16,5 17,1 18,0 19,0 20,0 21,0 22,0 23,0 24,0 25,0 26,0 27,0 28,0 29,0 30,0 31,0 32,0 33,0 34,0 35,0 36,0 37,0 38,0 39,0" stroke="#8E4EE0"/>
<polyline points="0,685 1,190 2,470 3,170 4,417 5,86 6,147 7,52 8,145 9,26 10,61 11,19 12,49 13,10 14,35 15,6 16,7 17,1 18,0 19,0 20,0 21,0 22,0 23,0 24,0 25,0 26,0 27,0 28,0 29,0 30,0 31,0 32,0 33,0 34,0 35,0 36,0 37,0 38,0 39,0" stroke="#EDA02A"/>
<polyline points="0,0 1,0 2,0 3,0 4,0 5,0 6,0 7,0 8,0 9,0 10,0 11,0 12,0 13,0 14,64 15,0 16,0 17,0 18,60 19,0 20,0 21,0 22,60 23,0 24,0 25,0 26,56 27,0 28,0 29,0 30,84 31,0 32,0 33,0 34,109 35,0 36,0 37,0 38,0 39,0" stroke="#55A070"/>
<polyline points="0,149 1,418 2,118 3,439 4,133 5,241 6,47 7,153 8,46 9,90 10,17 11,66 12,16 13,29 14,12 15,20 16,3 17,5 18,0 19,0 20,0 21,0 22,0 23,0 24,0 25,0 26,0 27,0 28,0 29,0 30,0 31,0 32,0 33,0 34,0 35,0 36,0 37,0 38,0 39,0" stroke="#C26A1C"/>
<polyline points="0,303 1,607 2,211 3,604 4,207 5,329 6,72 7,216 8,68 9,136 10,35 11,94 12,31 13,44 14,22 15,27 16,4 17,7 18,0 19,0 20,0 21,0 22,0 23,0 24,0 25,0 26,0 27,0 28,0 29,0 30,0 31,0 32,0 33,0 34,0 35,0 36,0 37,0 38,0 39,0" stroke="#6670DC"/>
<polyline points="0,0 1,0 2,0 3,0 4,0 5,0 6,0 7,0 8,0 9,0 10,0 11,0 12,0 13,0 14,70 15,0 16,0 17,0 18,73 19,0 20,0 21,0 22,75 23,0 24,0 25,0 26,81 27,0 28,0 29,0 30,95 31,0 32,0 33,0 34,133 35,0 36,0 37,0 38,0 39,0" stroke="#C8A424"/>
<polyline points="0,677 1,218 2,436 3,193 4,332 5,81 6,107 7,44 8,90 9,26 10,35 11,16 12,26 13,6 14,17 15,3 16,3 17,1 18,0 19,0 20,0 21,0 22,0 23,0 24,0 25,0 26,0 27,0 28,0 29,0 30,0 31,0 32,0 33,0 34,0 35,0 36,0 37,0 38,0 39,0" stroke="#BE48C0"/>
<polyline points="0,761 1,175 2,470 3,126 4,352 5,59 6,100 7,35 8,81 9,15 10,28 11,9 12,20 13,3 14,12 15,2 16,2 17,0 18,0 19,0 20,0 21,0 22,0 23,0 24,0 25,0 26,0 27,0 28,0 29,0 30,0 31,0 32,0 33,0 34,0 35,0 36,0 37,0 38,0 39,0" stroke="#5284B8"/>
<polyline points="0,164 1,364 2,117 3,360 4,92 5,180 6,34 7,110 8,35 9,65 10,14 11,46 12,12 13,21 14,10 15,13 16,2 17,3 18,0 19,0 20,0 21,0 22,0 23,0 24,0 25,0 26,0 27,0 28,0 29,0 30,0 31,0 32,0 33,0 34,0 35,0 36,0 37,0 38,0 39,0" stroke="#EE6A24"/>
<polyline points="0,650 1,217 2,500 3,254 4,463 5,143 6,174 7,87 8,154 9,47 10,74 11,39 12,60 13,16 14,45 15,9 16,10 17,3 18,0 19,0 20,0 21,0 22,0 23,0 24,0 25,0 26,0 27,0 28,0 29,0 30,0 31,0 32,0 33,0 34,0 35,0 36,0 37,0 38,0 39,0" stroke="#8E4EE0"/>
<polyline points="0,341 1,80 2,255 3,79 4,222 5,43 6,79 7,23 8,75 9,15 10,35 11,9 12,28 13,4 14,22 15,3 16,4 17,1 18,0 19,0 20,0 21,0 22,0 23,0 24,0 25,0 26,0 27,0 28,0 29,0 30,0 31,0 32,0 33,0 34,0 35,0 36,0 37,0 38,0 39,0" stroke="#EDA02A"/>
<polyline points="0,0 1,0 2,0 3,0 4,0 5,0 6,0 7,0 8,0 9,0 10,0 11,0 12,0 13,0 14,44 15,0 16,0 17,0 18,41 19,0 20,0 21,0 22,37 23,0 24,0 25,0 26,45 27,0 28,0 29,0 30,55 31,0 32,0 33,0 34,80 35,0 36,0 37,0 38,0 39,0" stroke="#55A070"/>
<polyline points="0,318 1,79 2,243 3,80 4,217 5,43 6,84 7,27 8,79 9,17 10,36 11,13 12,31 13,6 14,24 15,4 16,5 17,1 18,0 19,0 20,0 21,0 22,0 23,0 24,0 25,0 26,0 27,0 28,0 29,0 30,0 31,0 32,0 33,0 34,0 35,0 36,0 37,0 38,0 39,0" stroke="#C26A1C"/>
<polyline points="0,373 1,132 2,273 3,123 4,262 5,71 6,98 7,39 8,90 9,27 10,41 11,19 12,35 13,9 14,27 15,6 16,6 17,1 18,0 19,0 20,0 21,0 22,0 23,0 24,0 25,0 26,0 27,0 28,0 29,0 30,0 31,0 32,0 33,0 34,0 35,0 36,0 37,0 38,0 39,0" stroke="#6670DC"/>
<polyline points="0,266 1,66 2,193 3,52 4,182 5,32 6,67 7,20 8,64 9,11 10,28 11,9 12,23 13,4 14,18 15,2 16,4 17,1 18,0 19,0 20,0 21,0 22,0 23,0 24,0 25,0 26,0 27,0 28,0 29,0 30,0 31,0 32,0 33,0 34,0 35,0 36,0 37,0 38,0 39,0" stroke="#C8A424"/>
<polyline points="0,0 1,0 2,0 3,0 4,0 5,0 6,0 7,0 8,0 9,0 10,0 11,0 12,0 13,0 14,0 15,0 16,0 17,0 18,0 19,0 20,0 21,0 22,0 23,0 24,0 25,0 26,0 27,0 28,0 29,0 30,16 31,67 32,0 33,0 34,0 35,0 36,20 37,39 38,221 39,645" stroke="#BE48C0"/>
<polyline points="0,595 1,133 2,470 3,134 4,428 5,73 6,150 7,45 8,154 9,26 10,67 11,18 12,57 13,10 14,43 15,6 16,9 17,1 18,0 19,0 20,0 21,0 22,0 23,0 24,0 25,0 26,0 27,0 28,0 29,0 30,0 31,0 32,0 33,0 34,0 35,0 36,0 37,0 38,0 39,0" stroke="#5284B8"/>
<polyline points="0,371 1,636 2,250 3,609 4,259 5,334 6,93 7,209 8,94 9,133 10,45 11,92 12,37 13,44 14,27 15,28 16,6 17,7 18,0 19,0 20,0 21,0 22,0 23,0 24,0 25,0 26,0 27,0 28,0 29,0 30,0 31,0 32,0 33,0 34,0 35,0 36,0 37,0 38,0 39,0" stroke="#EE6A24"/>
<polyline points="0,0 1,0 2,0 3,0 4,0 5,0 6,0 7,0 8,0 9,0 10,0 11,0 12,0 13,0 14,0 15,0 16,0 17,0 18,0 19,0 20,0 21,0 22,0 23,0 24,0 25,0 26,0 27,0 28,0 29,0 30,0 31,0 32,0 33,0 34,0 35,0 36,19 37,104 38,23 39,142" stroke="#8E4EE0"/>
<polyline points="0,0 1,0 2,0 3,0 4,0 5,0 6,0 7,0 8,0 9,0 10,0 11,0 12,0 13,0 14,0 15,0 16,0 17,0 18,0 19,0 20,0 21,0 22,0 23,0 24,0 25,0 26,0 27,0 28,0 29,0 30,0 31,0 32,0 33,0 34,0 35,0 36,8 37,3 38,103 39,164" stroke="#EDA02A"/>
<polyline points="0,497 1,126 2,363 3,135 4,317 5,75 6,113 7,48 8,101 9,23 10,46 11,17 12,36 13,8 14,28 15,4 16,5 17,1 18,0 19,0 20,0 21,0 22,0 23,0 24,0 25,0 26,0 27,0 28,0 29,0 30,0 31,0 32,0 33,0 34,0 35,0 36,0 37,0 38,0 39,0" stroke="#55A070"/>
<polyline points="0,596 1,141 2,477 3,150 4,430 5,73 6,162 7,45 8,158 9,27 10,72 11,18 12,61 13,9 14,47 15,6 16,10 17,2 18,0 19,0 20,0 21,0 22,0 23,0 24,0 25,0 26,0 27,0 28,0 29,0 30,0 31,0 32,0 33,0 34,0 35,0 36,0 37,0 38,0 39,0" stroke="#C26A1C"/>
<polyline points="0,287 1,506 2,207 3,482 4,179 5,247 6,70 7,146 8,67 9,83 10,26 11,58 12,21 13,26 14,15 15,16 16,3 17,4 18,0 19,0 20,0 21,0 22,0 23,0 24,0 25,0 26,0 27,0 28,0 29,0 30,0 31,0 32,0 33,0 34,0 35,0 36,0 37,0 38,0 39,0" stroke="#6670DC"/>
<polyline points="0,920 1,350 2,300 3,710 4,300 5,100 6,0 7,0 8,0 9,0 10,0 11,0 12,0 13,0 14,0 15,0 16,0 17,0 18,0 19,0 20,0 21,0 22,0 23,0 24,0 25,0 26,0 27,0 28,0 29,0 30,0 31,0 32,0 33,0 34,0 35,0 36,0 37,0 38,0 39,0" stroke="#5284B8"/></g></g>
<line x1="420.20" y1="49.40" x2="675.50" y2="49.40" stroke="#666" stroke-width="1.0"/>
<line x1="675.50" y1="49.40" x2="675.50" y2="207.30" stroke="#666" stroke-width="1.0"/>
<line x1="420.20" y1="207.30" x2="675.50" y2="207.30" stroke="#666" stroke-width="1.0"/>
<line x1="420.20" y1="49.40" x2="420.20" y2="207.30" stroke="#b0b0b0" stroke-width="1.4"/>
<line x1="420.20" y1="207.30" x2="420.20" y2="200.80" stroke="#111" stroke-width="1.5"/>
<line x1="420.20" y1="49.40" x2="420.20" y2="55.90" stroke="#111" stroke-width="1.5"/>
<line x1="479.12" y1="207.30" x2="479.12" y2="203.30" stroke="#111" stroke-width="1.5"/>
<line x1="479.12" y1="49.40" x2="479.12" y2="53.40" stroke="#111" stroke-width="1.5"/>
<line x1="544.58" y1="207.30" x2="544.58" y2="200.80" stroke="#111" stroke-width="1.5"/>
<line x1="544.58" y1="49.40" x2="544.58" y2="55.90" stroke="#111" stroke-width="1.5"/>
<line x1="610.04" y1="207.30" x2="610.04" y2="203.30" stroke="#111" stroke-width="1.5"/>
<line x1="610.04" y1="49.40" x2="610.04" y2="53.40" stroke="#111" stroke-width="1.5"/>
<line x1="675.50" y1="207.30" x2="675.50" y2="200.80" stroke="#111" stroke-width="1.5"/>
<line x1="675.50" y1="49.40" x2="675.50" y2="55.90" stroke="#111" stroke-width="1.5"/>
<line x1="420.20" y1="207.30" x2="426.70" y2="207.30" stroke="#111" stroke-width="1.5"/>
<line x1="675.50" y1="207.30" x2="669.00" y2="207.30" stroke="#111" stroke-width="1.5"/>
<line x1="420.20" y1="167.83" x2="424.20" y2="167.83" stroke="#111" stroke-width="1.5"/>
<line x1="675.50" y1="167.83" x2="671.50" y2="167.83" stroke="#111" stroke-width="1.5"/>
<line x1="420.20" y1="128.35" x2="426.70" y2="128.35" stroke="#111" stroke-width="1.5"/>
<line x1="675.50" y1="128.35" x2="669.00" y2="128.35" stroke="#111" stroke-width="1.5"/>
<line x1="420.20" y1="88.88" x2="424.20" y2="88.88" stroke="#111" stroke-width="1.5"/>
<line x1="675.50" y1="88.88" x2="671.50" y2="88.88" stroke="#111" stroke-width="1.5"/>
<line x1="420.20" y1="49.40" x2="426.70" y2="49.40" stroke="#111" stroke-width="1.5"/>
<line x1="675.50" y1="49.40" x2="669.00" y2="49.40" stroke="#111" stroke-width="1.5"/>
<line x1="72.60" y1="294.20" x2="328.40" y2="294.20" stroke="#666" stroke-width="1.0"/>
<line x1="328.40" y1="294.20" x2="328.40" y2="451.70" stroke="#666" stroke-width="1.0"/>
<line x1="72.60" y1="451.70" x2="328.40" y2="451.70" stroke="#666" stroke-width="1.0"/>
<line x1="72.60" y1="294.20" x2="72.60" y2="451.70" stroke="#b0b0b0" stroke-width="1.4"/>
<line x1="72.60" y1="451.70" x2="72.60" y2="445.20" stroke="#111" stroke-width="1.5"/>
<line x1="72.60" y1="294.20" x2="72.60" y2="300.70" stroke="#111" stroke-width="1.5"/>
<line x1="131.63" y1="451.70" x2="131.63" y2="447.70" stroke="#111" stroke-width="1.5"/>
<line x1="131.63" y1="294.20" x2="131.63" y2="298.20" stroke="#111" stroke-width="1.5"/>
<line x1="197.22" y1="451.70" x2="197.22" y2="445.20" stroke="#111" stroke-width="1.5"/>
<line x1="197.22" y1="294.20" x2="197.22" y2="300.70" stroke="#111" stroke-width="1.5"/>
<line x1="262.81" y1="451.70" x2="262.81" y2="447.70" stroke="#111" stroke-width="1.5"/>
<line x1="262.81" y1="294.20" x2="262.81" y2="298.20" stroke="#111" stroke-width="1.5"/>
<line x1="328.40" y1="451.70" x2="328.40" y2="445.20" stroke="#111" stroke-width="1.5"/>
<line x1="328.40" y1="294.20" x2="328.40" y2="300.70" stroke="#111" stroke-width="1.5"/>
<line x1="72.60" y1="451.70" x2="79.10" y2="451.70" stroke="#111" stroke-width="1.5"/>
<line x1="328.40" y1="451.70" x2="321.90" y2="451.70" stroke="#111" stroke-width="1.5"/>
<line x1="72.60" y1="412.32" x2="76.60" y2="412.32" stroke="#111" stroke-width="1.5"/>
<line x1="328.40" y1="412.32" x2="324.40" y2="412.32" stroke="#111" stroke-width="1.5"/>
<line x1="72.60" y1="372.95" x2="79.10" y2="372.95" stroke="#111" stroke-width="1.5"/>
<line x1="328.40" y1="372.95" x2="321.90" y2="372.95" stroke="#111" stroke-width="1.5"/>
<line x1="72.60" y1="333.57" x2="76.60" y2="333.57" stroke="#111" stroke-width="1.5"/>
<line x1="328.40" y1="333.57" x2="324.40" y2="333.57" stroke="#111" stroke-width="1.5"/>
<line x1="72.60" y1="294.20" x2="79.10" y2="294.20" stroke="#111" stroke-width="1.5"/>
<line x1="328.40" y1="294.20" x2="321.90" y2="294.20" stroke="#111" stroke-width="1.5"/>
<line x1="420.20" y1="294.00" x2="675.50" y2="294.00" stroke="#666" stroke-width="1.0"/>
<line x1="675.50" y1="294.00" x2="675.50" y2="451.80" stroke="#666" stroke-width="1.0"/>
<line x1="420.20" y1="451.80" x2="675.50" y2="451.80" stroke="#666" stroke-width="1.0"/>
<line x1="420.20" y1="294.00" x2="420.20" y2="451.80" stroke="#b0b0b0" stroke-width="1.4"/>
<line x1="420.20" y1="451.80" x2="420.20" y2="445.30" stroke="#111" stroke-width="1.5"/>
<line x1="420.20" y1="294.00" x2="420.20" y2="300.50" stroke="#111" stroke-width="1.5"/>
<line x1="479.12" y1="451.80" x2="479.12" y2="447.80" stroke="#111" stroke-width="1.5"/>
<line x1="479.12" y1="294.00" x2="479.12" y2="298.00" stroke="#111" stroke-width="1.5"/>
<line x1="544.58" y1="451.80" x2="544.58" y2="445.30" stroke="#111" stroke-width="1.5"/>
<line x1="544.58" y1="294.00" x2="544.58" y2="300.50" stroke="#111" stroke-width="1.5"/>
<line x1="610.04" y1="451.80" x2="610.04" y2="447.80" stroke="#111" stroke-width="1.5"/>
<line x1="610.04" y1="294.00" x2="610.04" y2="298.00" stroke="#111" stroke-width="1.5"/>
<line x1="675.50" y1="451.80" x2="675.50" y2="445.30" stroke="#111" stroke-width="1.5"/>
<line x1="675.50" y1="294.00" x2="675.50" y2="300.50" stroke="#111" stroke-width="1.5"/>
<line x1="420.20" y1="451.80" x2="426.70" y2="451.80" stroke="#111" stroke-width="1.5"/>
<line x1="675.50" y1="451.80" x2="669.00" y2="451.80" stroke="#111" stroke-width="1.5"/>
<line x1="420.20" y1="412.35" x2="424.20" y2="412.35" stroke="#111" stroke-width="1.5"/>
<line x1="675.50" y1="412.35" x2="671.50" y2="412.35" stroke="#111" stroke-width="1.5"/>
<line x1="420.20" y1="372.90" x2="426.70" y2="372.90" stroke="#111" stroke-width="1.5"/>
<line x1="675.50" y1="372.90" x2="669.00" y2="372.90" stroke="#111" stroke-width="1.5"/>
<line x1="420.20" y1="333.45" x2="424.20" y2="333.45" stroke="#111" stroke-width="1.5"/>
<line x1="675.50" y1="333.45" x2="671.50" y2="333.45" stroke="#111" stroke-width="1.5"/>
<line x1="420.20" y1="294.00" x2="426.70" y2="294.00" stroke="#111" stroke-width="1.5"/>
<line x1="675.50" y1="294.00" x2="669.00" y2="294.00" stroke="#111" stroke-width="1.5"/>
<g font-family="Liberation Serif, serif" text-rendering="geometricPrecision">
<g stroke="#fff" stroke-width="0.35">
<text x="-0.70" y="21.50" font-size="29.6" fill="#000" text-anchor="start" textLength="9.85" lengthAdjust="spacingAndGlyphs" >(</text>
<text x="9.82" y="24.30" font-size="28.5" fill="#000" text-anchor="start" textLength="12.36" lengthAdjust="spacingAndGlyphs" >a</text>
<text x="22.11" y="21.50" font-size="29.6" fill="#000" text-anchor="start" textLength="10.24" lengthAdjust="spacingAndGlyphs" >)</text>
<text x="345.58" y="20.70" font-size="29.6" fill="#000" text-anchor="start" textLength="9.98" lengthAdjust="spacingAndGlyphs" >(</text>
<text x="356.40" y="23.70" font-size="28.5" fill="#000" text-anchor="start" textLength="14.72" lengthAdjust="spacingAndGlyphs" >b</text>
<text x="370.90" y="20.70" font-size="29.6" fill="#000" text-anchor="start" textLength="9.34" lengthAdjust="spacingAndGlyphs" >)</text>
<text x="-0.70" y="285.10" font-size="29.6" fill="#000" text-anchor="start" textLength="9.85" lengthAdjust="spacingAndGlyphs" >(</text>
<text x="9.74" y="287.80" font-size="28.5" fill="#000" text-anchor="start" textLength="12.31" lengthAdjust="spacingAndGlyphs" >c</text>
<text x="21.85" y="285.10" font-size="29.6" fill="#000" text-anchor="start" textLength="9.85" lengthAdjust="spacingAndGlyphs" >)</text>
<text x="347.15" y="285.60" font-size="29.6" fill="#000" text-anchor="start" textLength="9.47" lengthAdjust="spacingAndGlyphs" >(</text>
<text x="356.82" y="287.90" font-size="28.5" fill="#000" text-anchor="start" textLength="14.94" lengthAdjust="spacingAndGlyphs" >d</text>
<text x="371.83" y="285.60" font-size="29.6" fill="#000" text-anchor="start" textLength="9.98" lengthAdjust="spacingAndGlyphs" >)</text>
</g>
<text x="46.38" y="53.90" font-size="18.8" fill="#666" text-anchor="start" textLength="23.51" lengthAdjust="spacingAndGlyphs" >0.4</text>
<text x="46.15" y="132.20" font-size="18.8" fill="#666" text-anchor="start" textLength="24.53" lengthAdjust="spacingAndGlyphs" >0.2</text>
<text x="60.09" y="210.20" font-size="18.8" fill="#666" text-anchor="start" textLength="10.62" lengthAdjust="spacingAndGlyphs" >0</text>
<text x="67.03" y="221.80" font-size="18.8" fill="#666" text-anchor="start" textLength="10.15" lengthAdjust="spacingAndGlyphs" >0</text>
<text x="182.70" y="221.70" font-size="18.8" fill="#666" text-anchor="start" textLength="32.01" lengthAdjust="spacingAndGlyphs" >0.25</text>
<text x="314.00" y="221.70" font-size="18.8" fill="#666" text-anchor="start" textLength="23.13" lengthAdjust="spacingAndGlyphs" >0.5</text>
<g stroke="#fff" stroke-width="0.15">
<g transform="translate(27.1,182) rotate(-90)"><text x="0.37" y="0.00" font-size="27.5" fill="#111" text-anchor="start" font-style="italic" textLength="19.33" lengthAdjust="spacingAndGlyphs" >P</text><text x="16.31" y="5.20" font-size="20" fill="#111" text-anchor="start" font-style="italic" textLength="12.39" lengthAdjust="spacingAndGlyphs" >S</text><text x="28.39" y="5.20" font-size="20" fill="#111" text-anchor="start" textLength="4.03" lengthAdjust="spacingAndGlyphs" >,</text><text x="32.82" y="5.20" font-size="19.5" fill="#111" text-anchor="start" textLength="60.56" lengthAdjust="spacingAndGlyphs" >average</text></g>
</g>
<g stroke="#fff" stroke-width="0.35">
<text x="170.03" y="253.80" font-size="22.2" fill="#222" text-anchor="start" font-style="italic" textLength="12.85" lengthAdjust="spacingAndGlyphs" >ϕ</text>
<text x="183.90" y="259.40" font-size="33" fill="#222" text-anchor="start" textLength="8.80" lengthAdjust="spacingAndGlyphs" >/</text>
<text x="194.13" y="253.80" font-size="22.2" fill="#222" text-anchor="start" font-style="italic" textLength="12.85" lengthAdjust="spacingAndGlyphs" >ϕ</text>
<text x="206.15" y="257.50" font-size="16.6" fill="#222" text-anchor="start" textLength="8.49" lengthAdjust="spacingAndGlyphs" >0</text>
</g>
<text x="416.60" y="54.00" font-size="18.5" fill="#000" text-anchor="end" >1</text>
<text x="417.50" y="132.80" font-size="18.5" fill="#000" text-anchor="end" >0.5</text>
<text x="417.80" y="211.90" font-size="18.5" fill="#000" text-anchor="end" >0</text>
<text x="420.30" y="223.40" font-size="18.5" fill="#000" text-anchor="middle" >1</text>
<text x="544.50" y="223.40" font-size="18.5" fill="#000" text-anchor="middle" >20</text>
<text x="675.00" y="223.40" font-size="18.5" fill="#000" text-anchor="middle" >40</text>
<text x="416.60" y="298.60" font-size="18.5" fill="#000" text-anchor="end" >1</text>
<text x="417.50" y="377.40" font-size="18.5" fill="#000" text-anchor="end" >0.5</text>
<text x="417.80" y="456.50" font-size="18.5" fill="#000" text-anchor="end" >0</text>
<text x="420.30" y="468.00" font-size="18.5" fill="#000" text-anchor="middle" >1</text>
<text x="544.50" y="468.00" font-size="18.5" fill="#000" text-anchor="middle" >20</text>
<text x="675.00" y="468.00" font-size="18.5" fill="#000" text-anchor="middle" >40</text>
<text x="69.80" y="298.70" font-size="18.5" fill="#000" text-anchor="end" >1</text>
<text x="69.80" y="377.50" font-size="18.5" fill="#000" text-anchor="end" >0.5</text>
<text x="70.20" y="456.20" font-size="18.5" fill="#000" text-anchor="end" >0</text>
<text x="72.80" y="467.70" font-size="18.5" fill="#000" text-anchor="middle" >1</text>
<text x="196.30" y="467.70" font-size="18.5" fill="#000" text-anchor="middle" >20</text>
<text x="328.00" y="467.70" font-size="18.5" fill="#000" text-anchor="middle" >40</text>
<g stroke="#fff" stroke-width="0.15">
<g transform="translate(28.7,395.0) rotate(-90)"><text x="-0.86" y="0.00" font-size="24.2" fill="#000" text-anchor="start" textLength="6.03" lengthAdjust="spacingAndGlyphs" >|</text><text x="6.44" y="0.00" font-size="25.5" fill="#000" text-anchor="start" textLength="15.11" lengthAdjust="spacingAndGlyphs" >Ψ</text><text x="23.60" y="4.20" font-size="17.6" fill="#000" text-anchor="start" textLength="11.63" lengthAdjust="spacingAndGlyphs" >R</text><text x="36.34" y="0.00" font-size="24.2" fill="#000" text-anchor="start" textLength="6.03" lengthAdjust="spacingAndGlyphs" >|</text><text x="42.50" y="-8.90" font-size="16" fill="#000" text-anchor="start" textLength="7.98" lengthAdjust="spacingAndGlyphs" >2</text></g>
<g transform="translate(376.6,155.3) rotate(-90)"><text x="-0.86" y="0.00" font-size="24.2" fill="#000" text-anchor="start" textLength="6.03" lengthAdjust="spacingAndGlyphs" >|</text><text x="6.44" y="0.00" font-size="25.5" fill="#000" text-anchor="start" textLength="15.11" lengthAdjust="spacingAndGlyphs" >Ψ</text><text x="23.60" y="4.20" font-size="17.6" fill="#000" text-anchor="start" textLength="11.63" lengthAdjust="spacingAndGlyphs" >R</text><text x="36.34" y="0.00" font-size="24.2" fill="#000" text-anchor="start" textLength="6.03" lengthAdjust="spacingAndGlyphs" >|</text><text x="42.50" y="-8.90" font-size="16" fill="#000" text-anchor="start" textLength="7.98" lengthAdjust="spacingAndGlyphs" >2</text></g>
<g transform="translate(376.6,395.0) rotate(-90)"><text x="-0.86" y="0.00" font-size="24.2" fill="#000" text-anchor="start" textLength="6.03" lengthAdjust="spacingAndGlyphs" >|</text><text x="6.44" y="0.00" font-size="25.5" fill="#000" text-anchor="start" textLength="15.11" lengthAdjust="spacingAndGlyphs" >Ψ</text><text x="23.60" y="4.20" font-size="17.6" fill="#000" text-anchor="start" textLength="11.63" lengthAdjust="spacingAndGlyphs" >R</text><text x="36.34" y="0.00" font-size="24.2" fill="#000" text-anchor="start" textLength="6.03" lengthAdjust="spacingAndGlyphs" >|</text><text x="42.50" y="-8.90" font-size="16" fill="#000" text-anchor="start" textLength="7.98" lengthAdjust="spacingAndGlyphs" >2</text></g>
</g>
<g stroke="#fff" stroke-width="0.35">
<text x="464.03" y="252.30" font-size="21.5" fill="#000" text-anchor="start" textLength="36.28" lengthAdjust="spacingAndGlyphs" >site</text>
<text x="510.00" y="252.30" font-size="22" fill="#000" text-anchor="start" font-style="italic" textLength="7.79" lengthAdjust="spacingAndGlyphs" >j</text>
<text x="519.27" y="255.10" font-size="14.5" fill="#000" text-anchor="start" font-style="italic" textLength="6.73" lengthAdjust="spacingAndGlyphs" >y</text>
<text x="538.05" y="252.40" font-size="25.8" fill="#000" text-anchor="start" textLength="5.70" lengthAdjust="spacingAndGlyphs" >(</text>
<text x="543.01" y="252.30" font-size="21.5" fill="#000" text-anchor="start" textLength="33.24" lengthAdjust="spacingAndGlyphs" >out</text>
<text x="584.92" y="252.30" font-size="21.5" fill="#000" text-anchor="start" textLength="19.28" lengthAdjust="spacingAndGlyphs" >of</text>
<text x="611.03" y="252.30" font-size="23" fill="#000" text-anchor="start" textLength="23.88" lengthAdjust="spacingAndGlyphs" >40</text>
<text x="635.70" y="252.40" font-size="25.8" fill="#000" text-anchor="start" textLength="7.26" lengthAdjust="spacingAndGlyphs" >)</text>
<text x="116.93" y="495.40" font-size="21.5" fill="#000" text-anchor="start" textLength="36.28" lengthAdjust="spacingAndGlyphs" >site</text>
<text x="162.90" y="495.40" font-size="22" fill="#000" text-anchor="start" font-style="italic" textLength="7.79" lengthAdjust="spacingAndGlyphs" >j</text>
<text x="172.17" y="498.20" font-size="14.5" fill="#000" text-anchor="start" font-style="italic" textLength="6.73" lengthAdjust="spacingAndGlyphs" >y</text>
<text x="190.95" y="495.50" font-size="25.8" fill="#000" text-anchor="start" textLength="5.70" lengthAdjust="spacingAndGlyphs" >(</text>
<text x="195.91" y="495.40" font-size="21.5" fill="#000" text-anchor="start" textLength="33.24" lengthAdjust="spacingAndGlyphs" >out</text>
<text x="237.82" y="495.40" font-size="21.5" fill="#000" text-anchor="start" textLength="19.28" lengthAdjust="spacingAndGlyphs" >of</text>
<text x="263.93" y="495.40" font-size="23" fill="#000" text-anchor="start" textLength="23.88" lengthAdjust="spacingAndGlyphs" >40</text>
<text x="288.60" y="495.50" font-size="25.8" fill="#000" text-anchor="start" textLength="7.26" lengthAdjust="spacingAndGlyphs" >)</text>
<text x="464.03" y="497.40" font-size="21.5" fill="#000" text-anchor="start" textLength="36.28" lengthAdjust="spacingAndGlyphs" >site</text>
<text x="510.00" y="497.40" font-size="22" fill="#000" text-anchor="start" font-style="italic" textLength="7.79" lengthAdjust="spacingAndGlyphs" >j</text>
<text x="519.27" y="500.20" font-size="14.5" fill="#000" text-anchor="start" font-style="italic" textLength="6.73" lengthAdjust="spacingAndGlyphs" >y</text>
<text x="538.05" y="497.50" font-size="25.8" fill="#000" text-anchor="start" textLength="5.70" lengthAdjust="spacingAndGlyphs" >(</text>
<text x="543.01" y="497.40" font-size="21.5" fill="#000" text-anchor="start" textLength="33.24" lengthAdjust="spacingAndGlyphs" >out</text>
<text x="584.92" y="497.40" font-size="21.5" fill="#000" text-anchor="start" textLength="19.28" lengthAdjust="spacingAndGlyphs" >of</text>
<text x="611.03" y="497.40" font-size="23" fill="#000" text-anchor="start" textLength="23.88" lengthAdjust="spacingAndGlyphs" >40</text>
<text x="635.70" y="497.50" font-size="25.8" fill="#000" text-anchor="start" textLength="7.26" lengthAdjust="spacingAndGlyphs" >)</text>
</g>
<g stroke="#fff" stroke-width="0.2">
<text x="581.90" y="78.10" font-size="16.8" fill="#333" text-anchor="start" font-style="italic" textLength="11.20" lengthAdjust="spacingAndGlyphs" >ϕ</text>
<text x="593.00" y="82.50" font-size="27" fill="#333" text-anchor="start" textLength="7.80" lengthAdjust="spacingAndGlyphs" >/</text>
<text x="601.41" y="78.10" font-size="16.8" fill="#333" text-anchor="start" font-style="italic" textLength="10.98" lengthAdjust="spacingAndGlyphs" >ϕ</text>
<text x="611.54" y="80.90" font-size="13.8" fill="#333" text-anchor="start" textLength="7.31" lengthAdjust="spacingAndGlyphs" >0</text>
<text x="623.38" y="79.40" font-size="16" fill="#333" text-anchor="start" textLength="14.91" lengthAdjust="spacingAndGlyphs" >=</text>
<text x="642.61" y="78.90" font-size="17.4" fill="#333" text-anchor="start" textLength="10.38" lengthAdjust="spacingAndGlyphs" >0</text>
<text x="221.30" y="322.10" font-size="16.8" fill="#333" text-anchor="start" font-style="italic" textLength="11.20" lengthAdjust="spacingAndGlyphs" >ϕ</text>
<text x="232.40" y="326.50" font-size="27" fill="#333" text-anchor="start" textLength="7.80" lengthAdjust="spacingAndGlyphs" >/</text>
<text x="240.81" y="322.10" font-size="16.8" fill="#333" text-anchor="start" font-style="italic" textLength="10.98" lengthAdjust="spacingAndGlyphs" >ϕ</text>
<text x="250.94" y="324.90" font-size="13.8" fill="#333" text-anchor="start" textLength="7.31" lengthAdjust="spacingAndGlyphs" >0</text>
<text x="262.78" y="323.40" font-size="16" fill="#333" text-anchor="start" textLength="14.91" lengthAdjust="spacingAndGlyphs" >=</text>
<text x="282.18" y="322.90" font-size="17.4" fill="#333" text-anchor="start" textLength="8.10" lengthAdjust="spacingAndGlyphs" >1</text>
<text x="291.20" y="326.70" font-size="27.2" fill="#333" text-anchor="start" textLength="7.40" lengthAdjust="spacingAndGlyphs" >/</text>
<text x="300.10" y="322.90" font-size="17.4" fill="#333" text-anchor="start" textLength="9.10" lengthAdjust="spacingAndGlyphs" >2</text>
<text x="309.04" y="322.90" font-size="17.4" fill="#333" text-anchor="start" textLength="8.96" lengthAdjust="spacingAndGlyphs" >3</text>
<text x="573.00" y="322.10" font-size="16.8" fill="#333" text-anchor="start" font-style="italic" textLength="11.20" lengthAdjust="spacingAndGlyphs" >ϕ</text>
<text x="584.10" y="326.50" font-size="27" fill="#333" text-anchor="start" textLength="7.80" lengthAdjust="spacingAndGlyphs" >/</text>
<text x="592.51" y="322.10" font-size="16.8" fill="#333" text-anchor="start" font-style="italic" textLength="10.98" lengthAdjust="spacingAndGlyphs" >ϕ</text>
<text x="602.64" y="324.90" font-size="13.8" fill="#333" text-anchor="start" textLength="7.31" lengthAdjust="spacingAndGlyphs" >0</text>
<text x="614.48" y="323.40" font-size="16" fill="#333" text-anchor="start" textLength="14.91" lengthAdjust="spacingAndGlyphs" >=</text>
<text x="634.85" y="322.90" font-size="17.4" fill="#333" text-anchor="start" textLength="7.67" lengthAdjust="spacingAndGlyphs" >1</text>
<text x="644.00" y="326.70" font-size="27.2" fill="#333" text-anchor="start" textLength="7.00" lengthAdjust="spacingAndGlyphs" >/</text>
<text x="652.57" y="322.90" font-size="17.4" fill="#333" text-anchor="start" textLength="8.39" lengthAdjust="spacingAndGlyphs" >4</text>
</g>
</g>
</svg>
</body></html>
